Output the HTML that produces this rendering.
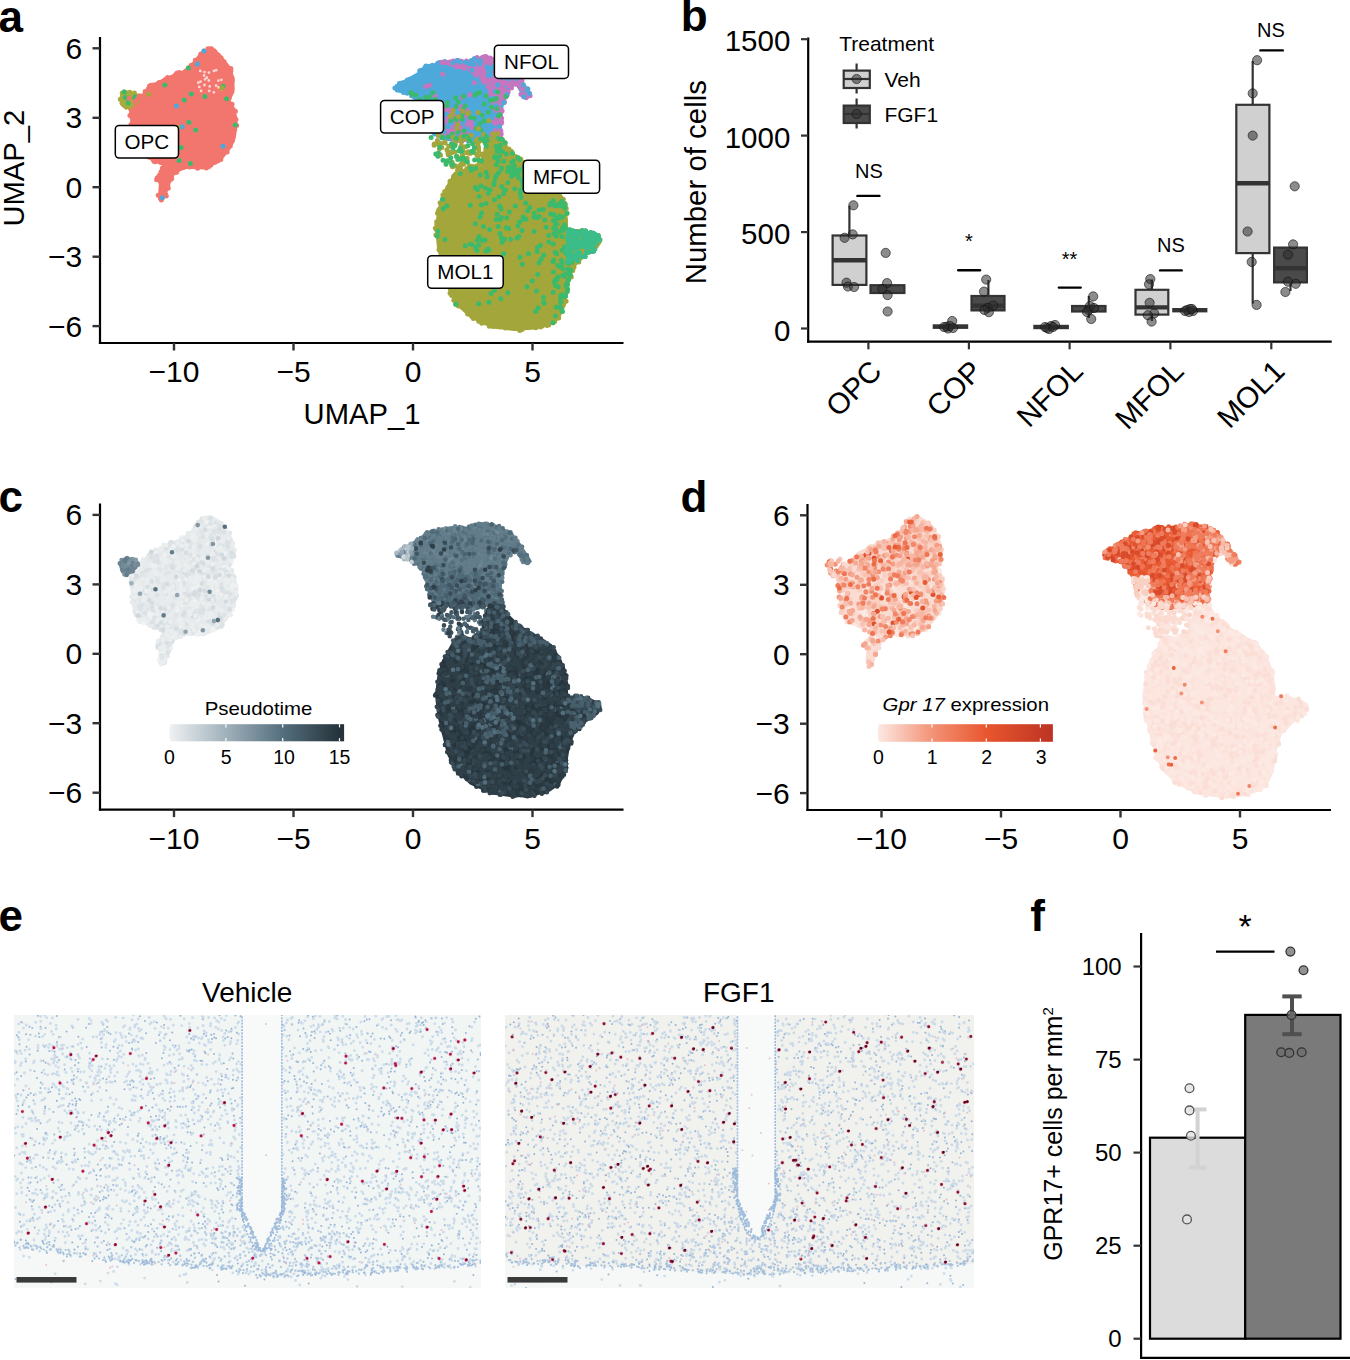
<!DOCTYPE html><html><head><meta charset="utf-8"><style>html,body{margin:0;padding:0;background:#fff;overflow:hidden}svg{display:block}text{font-family:"Liberation Sans",sans-serif}</style></head><body>
<svg width="1350" height="1360" viewBox="0 0 1350 1360">
<rect width="1350" height="1360" fill="#fff"/>
<text x="-1.5" y="31.8" font-size="44" font-weight="bold">a</text>
<path d="M211.3 48.5 L220.0 53.8 L230.0 66.0 L234.5 77.5 L234.5 92.0 L230.5 100.0 L236.0 110.0 L237.5 122.5 L235.6 138.8 L230.0 150.0 L220.0 162.5 L204.0 169.4 L187.5 168.8 L176.0 172.5 L170.0 183.8 L166.3 196.3 L161.3 200.5 L158.0 196.3 L158.8 184.0 L155.0 177.5 L158.8 172.5 L164.0 166.0 L152.5 161.3 L140.0 156.0 L133.0 146.0 L131.0 130.0 L130.0 117.5 L128.0 106.0 L134.0 97.0 L141.3 95.0 L150.0 85.0 L167.5 76.3 L181.3 71.3 L190.0 65.0 L200.0 52.5 L207.5 48.8Z" fill="#f3766e"/>
<path d="M152.9 96.6h0M215.3 151.3h0M170.8 99.1h0M193.5 76.9h0M201.1 63.1h0M204.4 98.1h0M208.4 82.0h0M165.2 119.2h0M138.0 139.5h0M221.6 139.9h0M182.2 90.1h0M177.5 149.6h0M164.2 185.8h0M156.1 100.2h0M156.3 102.5h0M195.5 75.3h0M161.3 115.5h0M179.9 120.9h0M155.9 93.7h0M158.6 88.1h0M180.9 80.7h0M182.3 85.9h0M219.8 75.9h0M222.4 75.6h0M210.2 141.4h0M195.7 130.1h0M197.5 75.0h0M155.2 152.6h0M174.9 142.5h0M176.4 106.1h0M158.2 195.3h0M134.4 110.6h0M213.4 79.5h0M188.4 104.3h0M183.5 99.2h0M159.0 91.3h0M137.3 121.7h0M226.2 74.0h0M164.3 106.0h0M166.0 127.0h0M224.1 61.8h0M181.0 121.6h0M205.4 90.1h0M201.4 101.3h0M212.1 151.2h0M222.4 139.8h0M211.5 48.7h0M180.2 74.2h0M186.5 113.2h0M207.2 159.8h0M184.7 75.5h0M235.3 125.0h0M211.0 142.2h0M140.6 96.5h0M182.1 100.3h0M161.2 104.8h0M204.2 66.8h0M180.0 115.0h0M143.7 112.8h0M211.7 111.4h0M198.0 147.8h0M175.6 74.5h0M174.7 105.2h0M203.8 120.0h0M194.0 125.1h0M182.3 105.3h0M180.4 129.2h0M217.5 71.5h0M152.4 92.3h0M220.2 147.6h0M201.9 77.4h0M164.6 152.8h0M175.7 118.3h0M162.1 99.7h0M135.8 143.4h0M213.3 126.2h0M180.3 165.9h0M138.6 130.7h0M210.0 104.2h0M223.9 117.9h0M177.9 162.9h0M158.3 113.1h0M181.1 113.6h0M232.2 80.8h0M209.5 88.2h0M134.2 106.5h0M226.3 106.9h0M174.5 157.2h0M203.2 126.8h0M226.6 98.8h0M168.2 101.9h0M177.6 96.6h0M154.6 86.1h0M215.3 107.1h0M235.4 111.2h0M204.4 94.9h0M218.5 80.9h0M158.1 93.0h0M186.7 122.7h0M183.3 156.8h0M135.3 123.3h0M200.3 74.2h0M228.7 75.1h0M168.7 159.7h0M174.8 170.5h0M207.6 55.8h0M207.1 103.7h0M170.2 106.6h0M202.7 82.1h0M144.6 99.3h0M233.8 129.6h0M203.8 92.2h0M200.9 73.3h0M165.9 186.3h0M207.9 118.8h0M178.1 161.3h0M171.6 114.2h0M190.2 133.6h0M178.4 140.4h0M173.7 148.6h0M145.8 150.1h0M141.3 124.3h0M217.1 85.6h0M136.7 108.1h0M151.1 157.0h0M221.2 95.0h0M222.3 87.0h0M221.5 70.5h0M229.7 134.3h0M178.1 109.7h0M197.1 102.6h0M224.4 67.3h0M179.2 137.5h0M207.8 148.1h0M174.7 159.7h0M205.7 106.5h0M174.9 102.4h0M213.1 70.2h0M217.3 137.9h0M139.0 123.1h0M160.8 118.3h0M158.4 135.4h0M171.8 87.3h0M209.8 79.0h0M178.7 145.2h0M228.0 100.4h0M200.8 53.9h0M134.8 113.2h0M192.6 91.6h0M209.3 97.3h0M157.6 154.3h0M219.1 90.5h0M227.2 135.4h0M173.4 117.2h0M179.4 131.7h0M212.0 144.7h0M171.2 148.0h0M206.1 92.8h0M170.9 86.1h0M143.1 138.5h0M208.8 140.9h0M156.0 146.0h0M173.0 116.4h0M226.3 92.8h0M167.6 123.2h0M171.6 104.7h0M209.7 147.8h0M163.1 145.0h0M202.8 115.4h0M156.6 179.7h0M216.6 80.6h0M161.0 142.0h0M173.3 115.5h0M210.4 131.4h0M158.4 161.2h0M189.2 95.3h0M193.4 161.3h0M166.6 86.4h0M190.0 111.6h0M211.0 80.5h0M157.3 83.9h0M190.0 92.6h0M209.1 118.3h0M189.4 73.4h0M161.7 149.4h0M160.5 126.5h0M141.4 133.8h0M231.1 143.1h0M193.5 132.3h0M210.7 48.8h0M144.6 142.0h0M190.9 155.3h0M164.9 85.1h0M157.4 144.0h0M141.1 110.5h0M196.7 79.5h0M191.9 107.9h0M222.2 95.9h0M167.9 185.7h0M177.3 134.3h0M159.1 82.4h0M195.5 138.2h0M185.0 95.2h0M175.5 131.6h0M195.9 96.1h0M164.1 118.1h0M167.2 177.5h0M156.8 125.6h0M211.1 144.1h0M177.0 73.0h0M153.2 109.7h0M141.7 120.7h0M196.8 60.8h0M199.7 137.9h0M198.7 87.9h0M208.2 129.6h0M199.5 81.4h0M179.2 160.5h0M183.0 84.1h0M197.1 160.7h0M155.8 98.4h0M150.6 117.4h0M134.4 111.8h0M160.3 106.3h0M218.9 65.8h0M226.9 137.2h0M194.3 160.6h0M142.5 108.4h0M177.1 118.1h0M180.5 117.2h0M191.2 155.8h0M188.6 102.1h0M210.4 76.2h0M193.1 160.8h0M193.3 88.0h0M204.8 96.5h0M206.8 107.8h0M181.9 150.3h0M164.8 94.6h0M198.0 101.5h0M158.0 160.2h0M156.3 87.7h0M185.8 165.4h0M190.4 146.7h0M196.9 71.9h0M225.5 70.9h0M201.1 56.7h0M203.3 78.5h0M166.3 196.1h0M167.9 153.5h0M157.6 86.1h0M171.0 142.0h0M192.6 109.3h0M189.1 138.7h0M207.8 80.7h0M215.1 162.2h0M150.4 147.6h0M154.7 128.9h0M225.6 129.6h0M200.8 60.0h0M172.7 145.3h0M217.9 106.2h0M168.8 78.3h0M175.8 136.2h0M204.7 109.3h0M221.1 121.6h0M160.8 159.7h0M179.9 159.0h0M187.3 83.6h0M215.8 78.5h0M183.2 146.5h0M137.7 134.7h0M152.5 135.8h0M230.7 116.2h0M129.2 106.5h0M193.0 130.8h0M140.6 106.3h0M175.8 172.6h0M204.7 116.3h0M133.0 121.1h0M174.2 80.5h0M222.2 127.8h0M165.9 152.1h0M206.4 148.5h0M199.0 106.2h0M188.4 67.9h0M206.0 79.8h0M168.9 171.6h0M182.9 136.1h0M167.1 119.9h0M172.2 131.3h0M225.7 142.7h0M191.6 144.2h0M180.7 156.6h0M232.1 119.0h0M203.6 55.7h0M191.7 94.7h0M211.9 92.9h0M193.9 124.2h0M211.9 65.4h0M160.9 133.0h0M144.7 104.5h0M182.0 114.2h0M160.7 86.3h0M134.6 109.7h0M154.2 99.1h0M214.1 50.7h0M157.6 102.5h0M141.2 103.1h0M211.5 138.0h0M168.1 126.1h0M131.9 101.5h0M204.0 51.1h0M181.4 74.9h0M148.7 94.3h0M191.9 166.0h0M219.7 157.3h0M150.4 106.6h0M160.7 162.6h0M195.6 144.3h0M223.1 84.6h0M157.6 148.2h0M227.9 89.2h0M163.5 146.0h0M182.3 139.9h0M206.3 144.0h0M154.8 113.6h0M220.4 101.7h0M175.9 140.7h0M166.4 90.8h0M185.1 75.7h0M171.3 80.9h0M173.7 88.1h0M226.5 87.3h0M175.0 142.9h0M151.2 122.3h0M214.6 139.7h0M177.0 119.3h0M158.4 107.6h0M194.3 87.4h0M188.8 104.2h0M151.2 91.1h0M191.3 94.0h0M181.3 81.7h0M134.0 106.9h0M160.6 100.4h0M220.4 65.1h0M170.6 123.2h0M214.7 121.3h0M184.5 110.3h0M168.6 161.4h0M212.4 70.9h0M164.2 107.5h0M190.3 90.1h0M151.7 109.2h0M177.1 131.9h0M148.6 116.4h0M230.9 68.5h0M215.7 85.5h0M164.0 183.8h0M136.2 125.3h0M210.9 70.2h0M210.3 135.3h0M192.5 78.3h0M136.1 112.1h0M216.5 138.3h0M228.8 105.3h0M174.2 134.3h0M134.8 100.9h0M212.2 87.2h0M177.4 170.6h0M207.1 92.3h0M132.4 99.8h0M211.7 112.6h0M232.8 134.6h0M188.0 131.2h0M197.4 63.9h0M158.8 87.7h0M181.5 138.0h0M173.1 130.0h0M141.3 124.6h0M225.4 122.8h0M156.7 88.3h0M169.8 82.1h0M155.1 140.5h0M229.1 146.6h0M186.6 73.0h0M180.3 117.3h0M184.1 157.5h0M222.6 123.4h0M151.2 86.0h0M170.7 179.4h0M167.6 120.9h0M222.1 138.2h0M190.6 165.5h0M176.4 82.9h0M161.1 117.0h0M211.8 95.9h0M188.4 106.5h0M164.0 168.5h0M211.8 84.3h0M136.4 103.7h0M229.3 97.9h0M177.5 129.5h0M198.0 63.6h0M184.9 92.4h0M137.5 139.2h0M228.3 123.5h0M218.2 75.7h0M164.5 83.2h0M162.2 83.0h0M152.2 150.7h0M167.8 81.6h0M203.3 124.0h0M181.3 161.6h0M204.5 62.2h0M218.5 99.9h0M187.8 143.2h0M165.9 87.1h0M172.9 159.7h0M199.5 122.9h0M217.2 77.8h0M225.4 108.7h0M179.8 89.9h0M186.6 154.9h0M166.0 187.3h0M164.8 160.6h0M172.9 145.1h0M201.4 70.4h0M148.0 126.8h0M198.5 60.7h0M137.5 146.9h0M165.5 119.1h0M206.6 138.0h0M223.3 78.4h0M155.7 127.1h0M232.8 133.8h0M203.9 91.3h0M198.3 77.8h0M191.6 103.5h0M150.0 121.2h0M170.0 78.5h0M161.4 135.6h0M196.8 99.3h0M220.1 112.8h0M224.8 120.3h0M145.7 136.9h0M226.0 141.0h0M222.6 113.0h0M140.1 113.5h0M219.1 87.5h0M154.2 161.5h0M228.3 98.7h0M156.6 95.8h0M164.5 194.0h0M212.9 135.1h0M142.0 122.8h0M163.4 189.7h0M184.2 100.1h0M141.8 128.3h0M218.0 150.2h0M219.1 137.5h0M209.4 136.7h0M179.5 168.0h0M204.9 89.3h0M227.8 71.8h0M205.9 52.0h0M190.4 83.7h0M200.9 116.3h0M157.1 178.0h0M194.0 144.8h0M213.4 92.8h0M200.4 159.9h0M210.7 92.5h0M176.3 88.2h0M204.8 72.3h0M213.4 111.4h0M204.9 55.7h0M218.9 138.5h0M215.1 127.2h0M188.6 165.7h0M194.1 69.4h0M213.9 98.0h0M150.6 134.2h0M161.0 171.8h0M163.5 183.7h0M132.2 104.1h0M172.3 156.3h0M137.6 131.0h0M223.0 139.3h0M199.7 160.6h0M161.7 111.7h0M191.2 104.3h0M162.3 197.8h0M144.9 112.1h0M224.2 144.3h0M225.0 117.2h0M144.1 121.4h0M144.4 115.3h0M164.1 130.4h0M191.0 159.7h0M195.5 119.0h0M189.3 151.2h0M156.3 160.0h0M202.0 147.5h0M157.2 95.1h0M201.1 56.9h0M164.2 106.7h0M141.9 144.5h0M135.4 129.6h0M153.6 107.7h0M180.9 149.9h0M170.8 174.3h0M167.5 86.1h0M206.3 168.0h0M211.6 98.2h0M171.9 101.3h0M185.3 115.7h0M230.7 110.8h0M140.9 116.6h0M160.0 88.6h0M184.3 128.2h0M213.7 129.4h0M232.0 78.6h0M193.2 129.9h0M178.9 159.2h0M193.2 134.8h0M205.9 61.7h0M236.7 125.4h0M167.1 154.3h0M174.8 134.2h0M185.1 161.0h0M170.9 149.2h0M202.0 147.3h0M209.1 67.6h0M158.2 142.6h0M219.7 155.4h0M189.3 115.2h0M161.8 156.8h0M146.5 113.9h0M226.0 137.9h0M212.7 125.2h0M171.5 165.2h0M189.0 98.1h0M136.2 106.5h0M171.8 78.0h0M147.0 119.6h0M173.3 112.3h0M152.7 107.4h0M189.1 76.7h0M176.6 78.8h0M165.7 194.4h0M224.4 133.6h0M201.4 110.1h0M166.2 121.0h0M170.9 133.5h0M226.2 88.3h0M163.4 195.1h0M170.2 133.6h0M184.0 122.0h0M222.3 137.6h0M163.6 123.5h0M217.5 144.3h0M167.6 97.2h0M141.3 97.1h0M145.9 126.1h0M211.7 94.2h0M148.5 142.5h0M172.5 123.0h0M180.3 121.2h0M165.4 90.0h0M157.7 108.9h0M170.7 147.8h0M143.7 147.1h0M223.9 91.8h0M201.7 72.7h0M222.2 129.9h0M214.2 109.0h0M145.0 109.6h0M198.0 152.6h0M230.3 136.8h0M195.1 108.3h0M206.1 147.8h0M177.7 118.4h0M152.0 144.8h0M229.9 137.1h0M196.9 162.3h0M157.7 107.3h0M207.7 158.8h0M182.4 121.6h0M218.0 147.2h0M195.9 78.7h0M195.7 85.1h0M218.0 123.0h0M141.5 154.0h0M225.3 67.8h0M162.4 118.9h0M226.2 113.2h0M198.0 119.6h0M174.9 115.3h0M211.5 81.8h0M164.3 82.3h0M137.6 98.2h0M229.9 124.6h0M170.8 97.9h0M184.8 95.4h0M205.9 55.7h0M208.2 79.1h0M176.0 99.7h0M168.2 162.4h0M191.2 65.3h0M177.9 110.1h0M211.5 154.0h0M209.0 53.0h0M220.8 125.5h0M153.7 149.2h0M139.0 127.1h0M202.0 141.1h0M164.0 140.4h0M151.6 156.1h0M202.1 102.5h0M147.5 143.2h0M175.4 132.7h0M150.4 106.8h0M160.8 194.3h0M222.6 73.9h0M224.9 138.2h0M163.8 194.3h0M209.6 79.5h0M200.4 120.0h0M211.3 140.3h0M207.0 107.6h0M212.0 70.9h0M168.7 146.5h0M144.2 140.1h0M210.9 165.0h0M145.1 91.4h0M206.8 66.5h0M149.1 152.2h0M198.1 126.0h0M203.4 159.2h0M181.0 132.3h0M223.0 146.2h0M155.0 102.8h0M180.8 78.4h0M193.1 118.5h0M207.7 122.3h0M188.6 93.6h0M226.4 102.5h0M171.9 119.8h0M218.0 75.9h0M177.9 127.6h0M197.7 165.0h0M175.1 108.9h0M215.7 139.7h0M168.2 182.6h0M199.3 150.9h0M156.8 114.6h0M173.7 172.3h0M168.5 141.8h0M229.6 75.5h0M204.4 166.7h0M210.2 129.8h0M156.9 136.1h0M166.0 162.6h0M208.8 164.8h0M157.7 154.3h0M169.8 93.5h0M191.3 163.9h0M142.5 155.4h0M189.9 164.5h0M218.4 65.0h0M204.5 81.4h0M231.6 138.0h0M199.9 113.4h0M164.7 83.5h0M154.8 109.3h0M218.9 69.0h0M133.7 102.9h0M207.7 135.6h0M207.5 79.7h0M180.8 151.5h0M169.2 145.6h0M143.8 155.8h0M197.8 98.7h0M195.8 73.0h0M141.2 126.1h0M190.7 151.3h0M183.2 110.2h0M146.4 110.8h0M193.4 100.1h0M228.4 134.9h0M166.9 83.3h0M223.3 66.3h0M131.0 124.6h0M164.6 104.2h0M132.3 115.4h0M233.1 109.9h0M229.1 137.0h0M171.3 123.4h0M205.2 83.6h0M180.9 85.1h0M155.2 102.2h0M228.1 147.8h0M170.9 100.2h0M224.1 104.9h0M227.5 126.6h0M156.8 142.0h0M172.4 170.7h0M215.2 52.1h0M230.9 70.9h0M166.1 130.5h0M224.8 94.3h0M215.2 79.1h0M201.3 152.4h0M171.2 82.0h0M165.2 79.6h0M221.4 155.7h0M189.7 82.4h0M163.1 192.8h0M217.8 67.1h0M131.6 129.2h0M207.8 88.7h0M204.4 83.1h0M144.8 141.6h0M223.1 86.3h0M213.4 125.5h0M180.0 94.4h0M194.6 124.2h0M160.1 142.5h0M198.8 103.4h0M156.1 145.9h0M199.1 67.7h0M166.2 195.8h0M183.3 104.1h0M202.4 110.0h0M138.1 128.0h0M192.6 96.3h0M197.8 95.5h0M213.7 110.2h0M161.2 104.0h0M218.1 82.4h0M185.0 85.6h0M209.5 71.1h0M181.7 87.9h0M208.8 71.4h0M230.1 88.0h0M216.6 68.1h0M138.9 96.8h0M192.0 84.3h0M157.7 90.5h0M159.6 175.3h0M207.2 135.5h0M174.8 85.0h0M193.2 88.6h0M203.0 96.5h0M205.6 163.0h0M218.6 132.8h0M145.2 127.1h0M139.2 100.8h0M162.6 158.2h0M212.3 96.8h0M223.4 152.5h0M198.7 148.5h0M224.3 143.3h0M156.9 86.1h0M202.6 81.5h0M130.0 107.8h0M168.1 85.1h0M191.1 107.2h0M168.6 105.3h0M147.0 139.4h0M197.6 168.3h0M216.2 78.7h0M172.8 86.0h0M162.3 168.2h0M194.5 127.0h0M220.6 63.8h0M179.3 148.3h0M142.8 142.5h0M198.8 153.7h0M176.4 98.4h0M170.2 91.1h0M191.2 68.0h0M181.0 133.5h0M224.9 129.9h0M164.0 141.2h0M185.3 142.5h0M160.3 198.3h0M232.1 104.3h0M222.8 127.4h0M224.1 115.3h0M186.9 109.7h0M223.2 123.2h0M205.3 152.2h0M153.4 134.2h0M170.4 81.7h0M214.4 90.5h0M227.3 71.4h0M229.4 94.7h0M140.0 102.9h0M181.1 147.5h0M234.8 129.4h0M194.6 152.9h0M148.6 114.7h0M211.9 76.2h0M146.4 149.5h0M189.5 81.8h0M146.6 141.8h0M134.9 97.1h0M151.4 88.9h0M158.0 110.3h0M150.6 106.4h0M151.3 135.2h0M171.9 95.9h0M210.8 86.6h0M141.7 102.4h0M148.2 104.9h0M212.3 108.0h0M177.1 94.6h0M174.5 159.9h0M141.4 106.4h0M166.5 187.6h0M177.3 118.0h0M231.5 130.3h0M175.6 84.2h0M198.6 132.1h0M160.9 154.6h0M189.5 68.2h0M135.3 144.9h0M212.8 53.6h0M208.0 89.7h0M227.2 99.0h0M169.0 154.8h0M135.2 111.5h0M145.7 145.8h0M156.7 108.0h0M222.3 129.8h0M155.1 161.8h0M207.4 74.1h0M220.8 119.1h0M172.6 160.9h0M190.3 89.9h0M198.7 124.7h0M169.8 172.4h0M198.4 121.1h0M196.1 117.5h0M169.6 114.7h0M204.4 77.8h0M141.4 97.9h0M187.1 128.1h0M211.7 86.4h0M188.6 69.9h0M150.3 145.4h0M148.5 130.1h0M169.0 78.8h0M175.9 106.7h0M221.2 109.4h0M207.2 80.4h0M224.3 74.5h0M162.5 171.4h0M210.4 104.3h0M153.4 134.8h0M207.5 102.8h0M176.8 125.0h0M159.9 140.1h0M177.7 86.1h0M207.3 54.1h0M173.3 139.2h0M197.7 164.3h0M187.6 149.4h0M186.3 138.0h0M164.7 187.5h0M200.5 110.8h0M153.2 98.2h0M150.2 92.3h0M230.6 118.2h0M213.1 157.5h0M228.8 91.0h0M205.7 125.7h0M202.3 110.2h0M154.9 130.8h0M229.3 89.7h0M165.1 165.1h0M148.2 89.1h0M213.8 109.7h0M217.7 132.7h0M222.2 98.7h0M218.4 55.3h0M162.9 196.5h0M205.2 132.0h0M197.9 118.6h0M175.9 102.8h0M193.4 67.7h0M181.0 95.2h0M170.6 170.6h0M234.4 126.9h0M176.5 99.1h0M162.7 184.2h0M209.5 166.3h0M198.3 125.0h0M180.2 140.8h0M177.3 87.0h0M196.3 99.0h0M165.6 103.1h0M233.8 134.0h0M160.3 152.6h0M134.6 122.7h0M224.6 120.6h0M181.5 105.0h0M186.9 83.6h0M193.9 94.4h0M225.3 130.0h0M223.8 152.8h0M165.8 128.0h0M171.4 111.1h0M162.5 187.6h0M218.2 96.5h0M166.1 159.4h0M220.3 69.6h0M163.7 111.8h0M191.8 84.8h0M196.9 156.3h0M208.0 134.8h0M157.0 95.4h0M212.1 60.5h0M182.2 126.7h0M165.9 156.4h0M225.7 113.6h0M220.8 62.3h0M216.0 121.6h0M148.6 153.2h0M183.6 150.0h0M167.2 112.5h0M207.4 137.4h0M160.6 149.4h0M197.4 71.6h0M164.1 126.4h0M225.6 79.8h0M159.5 102.9h0M200.4 122.2h0M201.6 107.4h0M181.3 143.7h0M159.0 88.4h0M196.8 101.4h0M157.3 152.9h0M214.0 122.1h0M196.2 135.6h0M164.4 154.5h0M137.5 147.2h0M168.3 110.6h0M186.9 73.9h0M135.1 109.2h0M188.4 141.8h0M222.0 61.4h0M150.8 85.2h0M228.1 89.7h0M187.9 122.4h0M170.1 134.2h0M219.7 91.6h0M160.9 118.2h0M162.5 108.9h0M220.8 159.4h0M165.2 139.3h0M165.6 195.4h0M185.7 160.8h0M144.5 148.0h0M176.9 94.4h0M178.5 91.3h0M214.7 158.1h0M203.7 80.6h0M215.4 130.0h0M207.7 73.1h0M135.2 113.1h0M227.8 123.8h0M174.8 150.7h0M212.7 95.2h0M167.3 91.3h0M221.7 122.4h0M170.1 82.9h0M225.0 86.0h0M153.6 85.1h0M169.1 166.3h0M229.0 110.4h0M164.1 84.5h0M207.4 90.9h0M207.6 151.7h0M188.9 105.7h0M157.4 119.9h0M171.9 128.6h0M223.4 123.9h0M133.6 112.6h0M199.3 125.0h0M176.5 87.7h0M209.1 110.0h0M156.9 150.6h0M152.1 153.8h0M150.8 138.9h0M206.0 113.3h0M173.8 134.8h0M201.9 79.9h0M188.9 156.7h0M220.0 133.6h0M192.8 88.7h0M167.2 84.2h0M174.0 125.6h0M161.1 116.6h0M190.3 107.4h0M181.5 146.0h0M184.6 115.0h0M187.9 71.9h0M206.5 163.8h0M180.1 97.4h0M194.6 67.3h0M174.7 135.5h0M161.4 200.0h0M174.0 138.2h0M182.2 98.9h0M212.1 62.9h0M199.3 159.8h0M208.2 157.8h0M185.5 101.0h0M173.7 170.2h0M208.0 48.8h0M167.4 108.6h0M157.8 137.3h0M194.8 113.8h0M170.5 157.8h0M150.2 118.5h0M178.1 89.7h0M153.6 160.6h0M143.2 115.2h0M151.9 138.7h0M195.3 60.3h0M210.6 104.3h0M215.2 145.6h0M187.4 135.8h0M230.3 146.1h0M208.7 71.1h0M193.6 163.5h0M216.8 54.1h0M168.9 101.6h0M210.0 109.1h0M190.2 166.7h0M182.7 127.4h0M228.6 84.2h0M155.3 85.7h0M166.7 99.6h0M169.0 90.7h0M201.6 143.5h0M151.6 107.3h0M193.5 103.2h0M175.8 162.5h0M176.1 155.9h0M211.2 164.1h0M170.4 135.6h0M167.0 184.2h0M186.2 114.0h0M148.1 124.5h0M131.8 116.9h0M168.9 147.5h0M169.3 180.6h0M162.1 134.4h0M213.4 73.7h0M177.9 162.5h0M218.7 132.1h0M134.7 135.6h0M173.2 91.2h0M166.0 142.2h0M212.0 52.3h0M156.0 85.2h0M197.1 79.0h0M226.4 79.1h0M149.4 118.0h0M159.2 179.5h0M202.1 73.0h0M188.9 141.2h0M200.4 79.0h0M185.6 74.3h0M209.5 121.8h0M142.9 145.7h0M193.4 114.9h0M227.2 90.2h0M230.7 131.6h0M231.9 135.6h0M204.0 65.6h0M187.1 117.4h0M196.7 77.8h0M226.7 143.3h0M173.4 97.6h0M171.7 178.6h0M205.8 82.9h0M182.6 133.6h0M193.3 165.8h0M183.5 122.5h0M146.2 152.2h0M203.4 134.1h0M227.3 143.3h0M150.2 93.5h0M205.7 137.3h0M196.6 94.5h0M208.4 129.7h0M141.5 95.9h0M190.4 86.4h0M177.9 155.9h0M134.3 125.0h0M192.6 128.0h0M218.2 105.7h0M178.1 76.8h0M193.4 68.1h0M173.8 159.3h0M132.4 124.7h0M216.4 142.5h0M220.6 155.3h0M152.8 94.3h0M174.7 137.6h0M176.8 136.9h0M182.9 140.6h0M194.7 92.4h0M167.0 82.8h0M169.8 155.3h0M216.0 142.8h0M219.5 124.0h0M209.8 151.0h0M161.7 143.9h0M132.9 107.7h0M145.3 123.0h0M203.9 141.8h0M142.9 154.3h0M200.5 66.4h0M177.3 83.0h0M139.4 96.6h0M152.8 107.8h0M133.1 125.5h0M178.5 128.4h0M223.2 152.7h0M171.8 111.8h0M231.7 112.5h0M219.0 126.3h0M179.5 142.8h0M173.8 76.7h0M142.4 113.0h0M153.0 143.1h0M145.8 149.4h0M216.3 135.5h0M209.4 113.6h0M225.3 145.5h0M192.9 153.4h0M161.6 144.5h0M162.2 181.7h0M140.6 114.9h0M189.4 154.1h0M156.9 151.3h0M195.9 128.8h0M171.2 146.1h0M226.8 103.3h0M221.0 57.8h0M212.1 147.6h0M235.2 125.0h0M210.2 69.6h0M188.6 130.1h0M142.4 120.1h0M201.6 94.7h0M215.7 70.3h0M193.1 134.2h0M170.4 90.8h0M188.9 81.8h0M192.7 131.0h0M181.6 161.0h0M170.1 88.8h0M142.7 129.5h0M190.3 133.2h0M212.4 143.3h0M135.4 133.5h0M208.8 64.7h0M212.4 90.5h0M192.3 68.3h0M159.3 120.8h0M184.7 108.1h0M220.7 81.7h0M194.4 102.1h0M210.7 123.0h0M190.4 163.5h0M167.8 97.0h0M152.3 97.1h0M231.6 116.7h0M134.2 100.6h0M236.0 119.4h0M193.7 82.0h0M234.1 130.9h0M156.2 149.5h0M184.8 83.0h0M203.8 163.1h0M221.8 60.1h0M190.1 158.5h0M189.7 124.6h0M189.7 166.9h0M221.9 88.0h0M137.0 104.0h0M181.7 81.2h0M154.4 104.3h0M227.4 136.2h0M165.2 112.9h0M208.4 61.3h0M175.3 115.6h0M199.6 72.4h0M227.1 151.9h0M174.5 84.1h0M202.7 91.8h0M155.2 122.7h0M176.3 131.2h0M167.5 77.4h0M176.6 172.2h0M211.0 68.0h0M214.2 82.3h0M233.5 135.8h0M182.4 147.7h0M189.6 137.0h0M211.6 150.8h0M186.8 111.3h0M217.8 109.2h0M138.9 115.3h0M217.8 73.3h0M221.4 100.2h0M195.5 98.6h0M213.3 138.8h0M157.8 158.2h0M220.6 71.0h0M201.2 115.7h0M211.8 59.5h0M167.0 182.9h0M147.7 108.9h0M164.1 159.2h0M159.7 177.2h0M151.8 129.5h0M209.0 96.5h0M144.1 118.7h0M149.7 93.5h0M168.4 144.4h0M213.0 55.2h0M191.8 123.0h0M199.2 161.2h0M172.7 110.8h0M225.3 95.7h0M172.1 156.7h0M158.2 94.9h0M191.8 155.0h0M205.8 111.1h0M217.6 92.9h0M175.3 145.3h0M192.0 89.8h0M183.7 93.0h0M185.6 79.6h0M187.2 149.4h0M154.7 113.6h0M224.4 123.7h0M197.7 116.2h0M156.9 147.4h0M161.0 173.5h0M156.2 86.8h0M137.6 133.1h0M210.2 77.2h0M193.9 100.0h0M170.8 103.8h0M210.7 74.1h0M208.3 79.4h0M162.4 135.1h0M145.9 151.6h0M208.4 57.0h0M169.4 145.1h0M217.4 82.4h0M235.4 124.6h0M224.4 149.1h0M183.3 148.8h0M156.8 117.1h0M224.5 76.4h0M168.3 188.3h0M146.2 124.3h0M164.0 167.7h0M199.7 140.2h0M221.4 147.6h0M217.2 108.8h0M196.4 99.7h0M186.0 104.4h0M200.1 110.2h0M218.8 70.3h0M214.5 157.2h0M203.9 106.1h0M164.0 164.4h0M153.4 113.2h0M159.9 99.7h0M221.6 119.8h0M183.8 159.6h0M219.7 114.1h0M203.9 117.3h0M207.2 99.8h0M191.7 141.8h0M203.8 147.0h0M174.0 164.3h0M206.7 70.3h0M149.5 144.8h0M155.5 155.1h0M174.3 97.1h0M167.1 169.4h0M177.6 162.9h0M190.0 143.8h0M232.4 140.7h0M189.6 102.7h0M181.9 95.9h0M195.4 86.5h0M149.5 85.9h0M227.3 75.8h0M179.4 72.6h0M146.3 99.2h0M155.2 130.6h0M216.3 145.3h0M186.8 76.6h0M168.9 139.1h0M193.6 93.8h0M187.8 123.1h0M230.4 80.5h0M197.0 81.4h0M174.3 101.0h0M210.9 68.9h0M184.1 153.0h0M170.1 100.3h0M191.9 140.1h0M176.3 109.7h0M224.4 133.6h0M173.5 170.2h0M234.9 117.7h0M194.5 119.5h0M186.6 105.6h0M165.8 171.3h0M207.7 167.0h0M158.1 160.6h0M212.8 111.0h0M183.7 97.8h0M196.7 129.4h0M165.0 141.1h0M179.0 105.8h0M181.9 85.7h0M178.9 129.8h0M224.5 138.4h0M231.6 126.2h0M133.2 135.6h0M189.9 109.7h0M196.9 132.6h0M214.2 159.0h0M204.6 104.8h0M191.7 86.5h0M134.8 118.7h0M212.7 93.5h0M132.3 110.4h0M213.6 131.1h0M227.4 111.7h0M205.2 89.8h0M232.0 88.0h0M159.8 121.2h0M156.2 147.7h0M182.5 100.8h0M191.0 145.7h0M218.3 133.6h0M135.8 136.1h0M133.8 118.1h0M209.1 78.0h0M164.8 179.0h0M205.0 127.1h0M167.9 121.3h0M168.4 83.5h0M188.2 86.9h0M144.8 143.4h0M168.7 86.9h0M214.4 108.6h0M158.7 117.9h0M205.0 154.4h0M161.1 88.3h0M227.8 113.0h0M164.1 151.2h0M171.2 166.4h0M188.9 122.3h0M216.3 57.0h0M129.9 115.4h0M147.0 133.1h0M185.1 154.7h0M224.0 148.4h0M172.3 138.9h0M217.1 61.2h0M196.9 91.9h0M187.0 129.8h0M198.7 106.3h0M195.7 103.8h0M203.5 120.6h0M182.1 114.3h0M228.0 104.3h0M152.9 114.2h0M205.9 156.6h0M221.2 125.9h0M218.6 121.2h0M190.0 85.0h0" stroke="#f3766e" stroke-width="5" stroke-linecap="round"/>
<path d="M121.0 93.0 L127.0 91.0 L135.0 92.5 L140.0 96.0 L137.0 102.0 L131.0 107.0 L126.0 110.0 L121.0 106.0 L119.0 99.0Z" fill="#a5a83c"/>
<path d="M125.4 97.6h0M139.0 96.1h0M132.0 99.2h0M134.4 93.0h0M130.7 93.7h0M124.1 96.3h0M121.7 99.3h0M129.5 100.8h0M129.9 92.2h0M134.6 97.9h0M130.2 95.3h0M120.3 99.3h0M137.2 100.9h0M137.6 99.1h0M135.1 95.1h0M128.0 97.4h0M127.0 95.6h0M134.2 101.9h0M124.2 92.1h0M127.4 101.4h0M129.3 104.2h0M127.8 93.1h0M126.3 92.8h0M124.7 103.8h0M136.9 96.0h0M129.2 98.3h0M131.0 105.5h0M135.5 96.7h0M132.0 105.2h0M122.2 93.1h0M137.8 98.3h0M128.9 107.1h0M132.8 94.8h0M122.0 102.9h0M132.3 103.3h0M127.9 100.6h0M128.1 103.0h0M135.1 101.4h0M128.8 97.7h0M122.5 95.3h0" stroke="#a9ab3e" stroke-width="5" stroke-linecap="round"/>
<path d="M125.4 97.6h0M134.6 97.9h0M124.2 92.1h0M135.5 96.7h0M128.1 103.0h0" stroke="#3cba6c" stroke-width="5" stroke-linecap="round"/>
<path d="M139.0 96.1h0M137.6 99.1h0M129.2 98.3h0M135.1 101.4h0" stroke="#f3766e" stroke-width="5" stroke-linecap="round"/>
<path d="M208.8 80.5h0M221.4 79.8h0M218.6 87.4h0M221.6 89.3h0M200.3 70.9h0M204.1 75.5h0M218.4 80.6h0M213.9 92.3h0M206.9 77.7h0M213.9 70.9h0M200.6 81.6h0M209.2 90.9h0M209.7 86.4h0M208.9 72.6h0M205.0 79.3h0M198.2 82.7h0M204.5 85.0h0M216.2 70.2h0M216.1 85.7h0M204.5 72.1h0M199.3 86.9h0M201.1 90.9h0" stroke="#ffffff" stroke-width="2.8" stroke-linecap="round" stroke-opacity="0.7"/>
<path d="M223.1 86.3h0M164.0 141.2h0M164.9 85.1h0M179.2 160.5h0M195.7 130.1h0M226.6 98.8h0M235.3 125.0h0M184.2 100.1h0M190.4 163.5h0M204.8 96.5h0M188.9 122.3h0M181.1 147.5h0M188.4 67.9h0M161.4 135.6h0M191.3 94.0h0" stroke="#3cba6c" stroke-width="5" stroke-linecap="round"/>
<path d="M204.0 51.1h0M182.2 126.7h0M223.0 146.2h0M162.3 197.8h0M176.4 106.1h0M197.4 63.9h0" stroke="#4ea9db" stroke-width="5" stroke-linecap="round"/>
<path d="M221.9 88.0h0M148.7 94.3h0M177.9 127.6h0M161.6 144.5h0" stroke="#a3a63a" stroke-width="5" stroke-linecap="round"/>
<path d="M394.5 87.4 L404.0 80.0 L418.0 72.0 L426.0 66.0 L437.0 63.0 L452.0 59.5 L468.0 60.0 L483.0 55.5 L498.0 58.5 L513.0 67.0 L521.0 78.0 L528.0 88.0 L532.0 95.0 L528.0 99.0 L522.0 96.0 L515.5 85.0 L509.0 91.0 L504.0 104.0 L502.0 117.0 L502.0 130.0 L503.0 140.0 L490.0 140.0 L470.0 142.0 L455.0 141.0 L440.0 138.0 L430.0 132.0 L426.0 120.0 L424.0 108.0 L418.0 100.0 L406.0 93.0 L396.0 91.0Z" fill="#4ea9db"/>
<path d="M426.8 67.3h0M418.0 82.6h0M450.2 69.7h0M485.8 139.7h0M438.6 81.9h0M444.4 73.6h0M462.6 100.9h0M420.2 100.8h0M438.4 118.2h0M451.4 80.7h0M478.4 136.8h0M442.6 95.2h0M489.6 98.4h0M485.5 90.8h0M403.4 85.8h0M473.8 101.8h0M486.2 124.3h0M472.7 90.3h0M422.7 94.6h0M465.6 77.1h0M466.2 78.6h0M442.7 126.2h0M435.3 71.0h0M483.8 113.6h0M401.9 82.9h0M471.6 114.2h0M445.0 78.0h0M491.4 126.6h0M455.4 78.0h0M456.7 90.7h0M445.2 79.5h0M425.2 81.9h0M470.0 120.9h0M494.3 112.0h0M447.0 80.5h0M423.9 93.1h0M435.1 95.5h0M481.7 111.0h0M411.6 95.8h0M436.3 105.6h0M412.3 94.2h0M494.4 125.1h0M476.2 117.1h0M479.9 110.8h0M482.3 113.0h0M446.5 93.7h0M479.3 138.4h0M450.6 102.8h0M434.1 107.9h0M483.7 97.5h0M436.9 65.3h0M481.5 135.7h0M484.7 123.7h0M424.1 97.9h0M427.7 122.9h0M437.4 63.8h0M453.4 93.3h0M441.0 86.5h0M438.1 135.2h0M440.3 116.8h0M456.1 98.7h0M431.6 74.4h0M483.5 134.4h0M418.7 95.9h0M427.8 80.3h0M471.0 93.1h0M434.6 82.2h0M454.8 89.3h0M494.5 138.9h0M404.9 85.9h0M419.9 76.0h0M434.5 119.1h0M418.2 98.4h0M426.4 75.6h0M453.1 77.8h0M438.3 116.0h0M487.1 95.8h0M448.2 79.8h0M444.1 98.9h0M426.7 96.1h0M426.0 117.8h0M435.3 82.7h0M455.6 91.9h0M438.0 63.0h0M491.0 139.6h0M450.5 107.0h0M436.3 125.5h0M472.3 118.2h0M403.8 86.5h0M475.4 100.2h0M457.3 98.1h0M416.0 82.7h0M446.8 97.6h0M493.9 128.2h0M459.3 71.6h0M423.5 98.5h0M446.3 98.2h0M415.5 92.3h0M442.6 73.1h0M486.7 126.2h0M465.1 94.8h0M471.0 83.2h0M427.7 117.5h0M472.6 85.5h0M457.4 89.4h0M420.4 80.2h0M414.4 96.1h0M460.9 95.4h0M462.6 97.0h0M440.0 94.5h0M476.7 97.8h0M487.0 125.2h0M458.9 72.2h0M469.8 132.5h0M471.6 73.8h0M410.9 92.6h0M432.7 109.1h0M439.0 96.7h0M474.8 95.1h0M474.5 82.9h0M415.6 81.8h0M496.1 125.7h0M475.9 103.3h0M494.9 136.9h0M487.6 128.7h0M472.5 74.5h0M434.5 120.3h0M460.3 83.8h0M448.9 87.7h0M464.7 88.5h0M429.3 96.9h0M465.1 105.7h0M439.0 122.8h0M439.6 95.6h0M487.9 92.3h0M446.9 78.6h0M437.3 75.0h0M451.8 68.6h0M433.3 81.1h0M468.0 136.9h0M479.3 140.5h0M462.1 97.3h0M452.7 90.8h0M453.3 77.4h0M430.5 124.2h0M461.1 92.2h0M478.7 139.9h0M426.8 68.4h0M465.3 96.3h0M414.2 95.8h0M409.6 91.8h0M432.9 82.4h0M479.6 79.2h0M445.4 66.8h0M411.8 88.8h0M396.2 88.2h0M463.4 84.2h0M394.9 88.0h0M436.2 110.7h0M432.0 92.4h0M482.0 111.4h0M429.0 118.7h0M498.8 138.7h0M432.5 65.3h0M451.9 91.8h0M435.0 84.6h0M464.7 93.7h0M430.0 68.1h0M488.3 112.3h0M417.0 78.3h0M448.7 96.1h0M486.4 118.0h0M474.5 118.4h0M469.5 139.9h0M444.2 68.4h0M448.9 103.2h0M442.9 127.4h0M456.3 106.6h0M458.2 101.7h0M494.9 129.9h0M424.5 107.1h0M479.2 95.8h0M461.8 87.9h0M450.1 84.1h0M469.4 71.1h0M423.5 88.4h0M468.6 102.0h0M441.9 62.8h0M459.8 99.8h0M469.9 94.8h0M487.1 89.4h0M456.4 76.1h0M425.7 106.6h0M457.1 107.9h0M439.1 75.9h0M448.0 79.0h0M474.4 87.0h0M478.4 88.9h0M477.7 88.1h0M474.3 75.2h0M422.2 77.0h0M462.6 96.3h0M438.8 80.5h0M437.5 134.0h0M396.9 88.4h0M455.2 84.9h0M410.8 85.6h0M427.0 115.9h0M448.9 78.7h0M429.0 105.9h0M456.0 99.4h0M427.8 104.5h0M446.0 75.5h0M470.1 134.0h0M427.0 77.6h0M437.7 111.4h0M433.7 99.8h0M454.1 79.7h0M482.0 103.1h0M461.3 76.3h0M493.4 129.8h0M481.0 88.1h0M484.0 122.3h0M483.9 96.4h0M484.2 120.8h0M469.3 84.8h0M449.2 76.4h0M479.1 118.1h0M439.5 128.2h0M494.1 136.0h0M462.3 96.0h0M453.6 93.7h0M449.5 70.0h0M478.6 84.2h0M473.4 74.8h0M477.9 79.7h0M462.3 89.8h0M477.7 114.0h0M448.6 86.7h0M472.8 93.4h0M487.4 118.9h0M445.4 79.1h0M459.2 74.0h0M465.7 80.8h0M435.9 111.7h0M424.5 103.4h0M471.8 79.4h0M445.1 96.8h0M485.4 91.3h0M473.3 103.1h0M487.1 88.6h0M491.5 98.4h0M440.3 110.0h0M452.1 74.3h0M469.9 109.5h0M481.0 129.7h0M428.0 122.2h0M469.6 81.1h0M436.8 81.5h0M419.7 70.8h0M469.6 95.1h0M485.6 130.2h0M439.3 84.2h0M476.1 86.7h0M463.5 75.1h0M426.6 80.8h0M481.8 129.5h0M473.4 101.0h0M434.7 69.5h0M444.0 87.7h0M429.0 108.0h0M466.3 80.3h0M474.3 111.0h0M460.5 83.6h0M470.1 138.7h0M486.3 115.2h0M451.8 89.9h0M434.9 108.2h0M441.7 138.1h0M477.6 138.4h0M468.5 141.2h0M487.8 137.9h0M440.9 127.8h0M470.8 78.7h0M443.0 90.3h0M484.7 120.9h0M468.5 106.9h0M461.1 80.9h0M432.4 70.3h0M481.8 139.3h0M490.0 134.7h0M441.6 132.8h0M454.7 69.2h0M479.4 78.7h0M430.0 91.0h0M450.9 77.9h0M397.2 89.9h0M431.4 74.3h0M424.9 74.8h0M470.1 82.5h0M485.8 88.6h0M417.3 83.0h0M405.8 87.4h0M431.0 105.2h0M465.7 103.8h0M425.3 90.0h0M440.9 89.4h0M448.4 97.6h0M464.2 93.8h0M428.4 116.3h0M447.0 64.0h0M409.2 81.1h0M460.8 97.1h0M481.2 111.7h0M473.9 122.3h0M470.5 90.1h0M446.1 94.8h0M419.8 88.7h0M424.6 102.3h0M460.4 99.8h0M444.7 66.7h0M399.4 83.6h0M434.6 93.1h0M407.3 80.0h0M441.3 132.9h0M416.4 80.8h0M461.4 104.8h0M440.0 133.1h0M482.1 107.1h0M441.3 135.7h0M467.4 80.9h0M426.7 81.3h0M432.3 87.3h0M450.0 77.0h0M476.0 137.6h0M428.8 82.3h0M415.5 98.0h0M484.2 104.0h0M419.7 99.6h0M413.2 90.6h0M492.0 126.9h0M468.6 132.7h0M440.7 74.3h0M482.9 92.3h0M411.1 89.5h0M436.1 114.3h0M462.1 86.8h0M439.6 112.3h0M476.8 101.6h0M426.2 101.3h0M471.9 125.5h0M440.8 85.8h0M431.5 106.1h0M455.5 80.7h0M442.2 136.9h0M489.8 135.3h0M435.0 104.4h0M432.7 120.8h0M420.7 81.2h0M429.6 102.3h0M397.1 86.3h0M435.7 74.2h0M442.3 74.1h0M479.1 137.4h0M442.6 74.2h0M400.6 85.8h0M479.7 123.8h0M464.1 88.9h0M470.0 79.5h0M423.9 90.4h0M442.5 72.0h0M451.9 79.7h0M432.3 79.9h0M440.2 65.5h0M436.9 129.6h0M420.8 70.2h0M435.4 124.0h0M451.0 106.6h0M458.9 70.8h0M474.9 126.1h0M492.3 121.9h0M405.3 83.1h0M454.4 92.2h0M443.2 93.7h0M451.9 81.7h0M493.4 134.7h0M478.6 105.0h0M483.3 108.2h0M485.1 111.8h0M398.7 86.0h0M484.4 90.8h0M460.3 89.0h0M421.1 84.9h0M455.6 74.3h0M490.2 120.2h0M455.6 99.8h0M476.0 87.9h0M416.4 98.8h0M487.8 121.8h0M417.5 89.3h0M484.4 138.1h0M485.8 116.9h0M485.0 110.3h0M466.1 85.1h0M489.1 132.7h0M412.0 87.5h0M437.3 122.4h0M436.6 120.8h0M491.8 131.1h0M415.6 94.9h0M444.1 89.1h0M480.1 90.9h0M452.6 82.9h0M460.8 103.4h0M485.8 134.8h0M425.4 66.8h0M479.4 79.2h0M420.2 86.9h0M439.0 114.1h0M492.7 134.3h0M470.3 71.1h0M493.0 116.3h0M436.0 123.7h0M405.9 83.8h0M447.0 73.4h0M429.0 66.5h0M433.1 106.5h0M429.1 120.5h0M434.6 134.1h0M439.3 90.9h0M425.7 97.6h0M426.0 86.8h0M471.2 121.9h0M483.8 129.9h0M469.4 78.8h0M443.0 105.1h0M447.4 73.0h0M465.0 97.3h0M478.2 112.6h0M458.3 100.1h0M441.7 62.2h0M468.4 135.6h0M432.5 99.7h0M469.5 140.5h0M438.7 101.5h0M462.4 77.9h0M458.5 85.9h0M433.2 70.8h0M440.6 66.5h0M443.0 72.7h0M450.8 66.6h0M479.8 99.6h0M456.3 105.4h0M403.1 82.8h0M489.1 122.7h0M454.5 99.7h0M490.5 138.4h0M432.8 92.7h0M467.8 85.4h0M481.6 125.2h0M476.6 93.9h0M422.2 81.4h0M492.7 119.8h0M427.8 88.4h0M451.5 69.1h0M462.2 107.5h0M481.0 127.7h0M469.7 132.4h0M426.6 85.0h0M431.7 65.6h0M440.6 99.5h0M481.9 92.9h0M420.3 73.0h0M481.2 81.9h0M411.0 84.0h0M445.0 78.4h0M433.0 106.1h0M437.0 132.2h0M435.7 111.9h0M438.9 79.6h0M451.3 69.2h0M421.9 89.2h0M476.4 137.3h0M452.7 70.7h0M435.8 119.2h0M452.9 66.2h0M463.3 107.1h0M419.5 74.2h0M420.3 99.4h0M439.4 62.5h0M421.6 73.3h0M461.2 79.9h0M459.7 93.0h0M468.1 105.2h0M465.9 106.5h0M449.2 103.5h0M489.4 102.4h0M471.5 128.1h0M431.5 71.2h0M454.0 82.3h0M479.5 135.6h0M424.6 87.6h0M444.8 61.4h0M449.3 85.3h0M471.4 123.6h0M435.8 121.0h0M426.7 103.2h0M480.1 88.4h0M454.4 101.1h0M470.3 88.5h0M433.4 68.5h0M427.7 113.3h0M483.3 129.1h0M467.8 81.1h0M465.2 83.5h0M449.8 106.5h0M435.9 65.6h0M455.5 97.8h0M477.4 130.9h0M437.4 118.8h0M486.2 117.6h0M411.2 84.2h0M479.1 84.6h0M443.5 73.2h0M445.7 62.4h0M426.6 67.2h0M407.4 87.6h0M474.5 131.9h0M412.3 95.3h0M414.2 97.0h0M463.7 80.0h0M439.4 134.5h0M422.3 100.8h0M483.7 133.7h0M447.3 102.5h0M416.7 84.7h0M458.9 94.2h0M476.2 78.7h0M458.3 86.7h0M423.4 94.1h0M419.3 99.5h0M403.5 92.4h0M469.0 87.8h0M435.9 91.9h0M422.0 82.9h0M424.9 72.7h0M464.1 97.1h0M436.4 66.1h0M425.1 77.8h0M462.6 98.3h0M422.9 95.6h0M432.2 109.5h0M488.8 124.5h0M470.0 103.7h0M434.0 78.5h0M491.3 116.8h0M496.2 129.8h0M473.9 131.9h0M471.0 132.2h0M479.7 120.9h0M419.8 72.7h0M459.3 98.4h0M427.9 76.0h0M415.1 93.6h0M487.0 99.2h0M487.2 95.5h0M459.4 76.2h0M433.7 106.9h0M435.1 99.6h0M426.6 110.7h0M438.9 85.1h0M480.3 92.6h0M470.4 121.3h0M450.6 77.9h0M422.2 91.5h0M482.1 115.3h0M478.9 137.3h0M442.4 132.1h0M448.5 103.1h0M443.3 80.8h0M474.8 109.1h0M458.3 88.2h0M439.9 116.7h0M484.0 124.5h0M463.2 96.4h0M400.0 90.5h0M478.0 138.8h0M446.9 103.6h0M428.1 84.2h0M463.5 99.0h0M409.8 86.7h0M481.2 109.5h0M441.2 112.2h0M484.5 137.0h0M494.5 113.6h0M433.3 102.8h0M448.2 79.4h0M443.4 68.3h0M470.8 88.6h0M407.7 84.0h0M465.6 79.0h0M425.6 86.5h0M477.1 137.8h0M434.5 76.5h0M447.6 100.9h0M456.9 68.8h0M411.9 85.6h0M472.2 82.3h0M463.4 96.2h0M421.3 92.4h0M492.9 117.6h0M416.7 85.5h0M469.2 72.7h0M430.0 69.6h0M471.5 83.2h0M440.9 62.7h0M480.5 118.9h0M480.7 115.0h0M455.8 87.6h0M431.9 108.3h0M495.0 136.9h0M469.0 112.7h0M433.5 129.4h0M436.3 98.7h0M430.1 121.1h0M481.6 120.2h0M449.7 99.2h0M437.3 87.0h0M419.0 85.9h0M475.0 77.1h0M489.3 93.5h0M445.9 103.3h0M435.0 95.7h0M480.8 121.7h0M497.5 139.6h0M432.5 130.9h0M422.6 87.1h0M494.1 114.8h0M450.5 104.7h0M443.8 87.6h0M434.9 95.9h0M474.9 102.6h0M478.4 128.8h0M435.0 90.0h0M432.7 113.1h0M473.8 116.6h0M439.6 97.0h0M468.2 105.2h0M429.3 122.7h0M447.2 80.1h0M436.4 113.8h0M427.0 117.3h0M442.5 67.9h0M487.2 129.9h0M444.1 99.8h0M483.3 136.0h0M436.5 95.5h0M473.9 88.0h0M461.0 102.0h0M425.2 85.9h0M440.8 127.2h0M443.5 86.2h0M426.2 107.6h0M449.2 101.0h0M430.9 78.0h0M409.8 79.2h0M428.8 114.6h0M441.9 135.3h0M456.6 68.9h0M444.0 75.3h0M423.2 96.7h0M486.1 96.1h0M464.2 79.2h0M433.0 80.9h0M452.7 93.0h0M436.2 132.9h0M476.1 120.0h0M464.4 103.6h0M441.8 129.4h0M419.7 97.3h0M442.8 89.4h0M478.1 93.2h0M468.1 128.8h0M435.3 84.0h0M447.0 105.7h0M442.3 103.0h0M468.9 78.0h0M472.7 75.6h0M468.7 112.8h0M412.7 90.0h0M449.8 87.0h0M432.6 130.2h0M437.1 67.6h0M482.7 107.7h0M444.6 100.9h0M471.8 128.7h0M433.9 98.0h0M477.7 118.5h0M455.9 96.8h0M461.7 96.9h0M451.6 90.9h0M434.3 80.9h0M420.2 88.4h0M420.2 72.4h0M427.8 104.9h0M435.0 108.9h0M469.7 134.6h0M487.7 139.7h0M495.2 130.6h0M486.0 101.0h0M424.7 77.7h0M423.8 96.8h0M434.6 129.8h0M466.9 107.7h0M429.5 85.3h0M438.5 70.5h0M425.4 101.5h0M463.0 76.1h0M471.4 135.2h0M440.9 74.3h0M426.5 110.3h0M442.3 105.0h0M418.7 100.3h0M422.4 92.0h0M471.2 123.1h0M469.9 93.5h0M480.1 125.5h0M448.9 79.8h0M472.2 127.6h0M449.6 80.6h0M441.4 68.9h0M476.3 136.5h0M411.9 80.9h0M481.0 117.3h0M484.6 134.0h0M455.8 68.1h0M425.5 90.1h0M426.0 68.4h0M446.1 105.9h0M440.9 134.6h0M474.4 82.7h0M428.4 92.2h0M436.5 87.8h0M417.1 99.0h0M476.1 128.2h0M432.4 78.1h0M432.5 68.9h0M492.1 131.4h0M470.8 117.2h0M431.8 99.4h0M478.9 105.8h0M434.2 82.4h0M403.7 90.1h0M474.1 112.3h0M448.2 106.7h0M443.6 83.7h0M484.8 119.9h0M497.6 133.5h0M436.4 95.7h0M411.0 83.9h0M479.9 104.7h0M419.8 77.6h0M424.5 108.6h0M437.3 88.4h0M454.1 91.0h0M492.0 125.8h0M465.6 107.4h0M446.0 104.8h0M440.8 85.2h0M482.8 87.8h0M483.5 119.6h0M470.5 140.5h0M493.0 133.9h0M404.0 85.7h0M489.7 125.7h0M430.4 104.8h0M496.4 131.2h0M443.4 101.6h0M471.5 139.0h0M421.4 98.2h0M407.1 93.2h0M478.0 119.9h0M477.8 92.1h0M479.5 92.5h0M469.1 73.5h0M479.9 118.3h0M486.9 116.2h0M468.7 93.1h0M490.2 106.4h0M491.4 107.3h0M480.9 127.0h0M450.4 103.7h0M444.9 105.5h0M474.6 104.7h0M451.9 105.0h0M490.4 100.6h0M483.7 121.1h0M447.0 79.5h0M466.8 70.2h0M483.7 134.3h0M465.9 72.9h0M437.7 126.9h0M471.4 102.2h0M493.3 135.8h0M488.8 120.4h0M491.7 133.9h0M424.4 68.4h0M470.2 96.0h0M493.1 106.5h0M431.1 97.0h0M471.0 89.9h0M481.4 90.4h0M461.5 87.1h0M449.7 74.7h0M436.9 69.9h0M478.7 121.3h0M424.8 78.0h0M409.3 79.7h0M433.7 123.3h0M476.6 106.3h0M427.9 67.8h0M428.6 72.3h0M438.1 108.5h0M453.8 79.6h0M447.5 68.1h0M435.7 113.8h0M400.5 86.5h0M449.0 87.4h0M438.3 116.0h0M459.8 90.5h0M434.6 98.7h0M444.6 71.3h0M423.2 72.8h0M412.9 82.6h0M420.6 81.8h0M476.9 107.5h0M457.7 87.1h0M416.8 84.0h0M482.3 85.7h0M477.9 127.9h0M425.1 84.0h0M423.9 98.9h0M484.1 136.4h0M473.0 136.6h0M493.2 129.7h0M446.2 107.8h0M494.0 122.2h0M423.6 97.9h0M494.5 137.1h0M488.9 120.7h0M451.8 66.2h0M493.2 105.8h0M476.0 79.2h0M470.9 92.7h0M491.2 123.5h0M431.6 127.7h0M428.4 67.9h0M425.1 77.3h0M430.1 86.6h0M462.9 68.8h0M491.3 105.0h0M431.3 119.5h0M439.1 68.1h0M461.6 87.2h0M458.6 107.4h0M456.5 78.2h0M420.0 94.1h0M410.1 84.9h0M479.6 86.1h0M435.1 98.0h0M456.2 73.9h0M460.0 93.8h0M428.3 109.8h0M461.5 106.7h0M489.5 126.6h0M485.7 113.5h0M469.5 96.5h0M424.9 87.4h0M429.9 100.3h0M407.3 80.9h0M444.5 62.8h0M452.7 96.1h0M485.7 94.3h0M467.2 80.3h0M428.2 116.9h0M462.1 79.2h0M477.4 122.3h0M445.5 98.9h0M457.7 102.5h0M428.5 116.6h0M426.0 66.1h0M457.5 78.8h0M480.4 120.2h0M492.3 103.9h0M438.9 109.7h0M476.4 76.2h0M431.1 116.2h0M490.7 101.5h0M440.5 99.1h0M409.9 83.4h0M481.5 112.0h0M428.6 72.2h0M428.4 123.0h0M460.4 81.1h0M486.3 104.4h0M482.8 139.5h0M428.7 83.7h0M467.2 78.8h0M487.6 138.5h0M432.4 131.6h0M474.9 100.3h0M423.0 90.4h0M435.4 112.2h0M399.0 86.0h0M436.5 130.4h0M467.8 91.5h0M482.4 89.0h0M426.5 75.9h0M457.9 95.6h0M484.0 129.3h0M490.6 127.4h0M487.8 139.0h0M480.2 99.3h0M462.4 95.9h0M479.1 128.4h0M411.0 87.2h0" stroke="#4ea9db" stroke-width="5" stroke-linecap="round"/>
<path d="M495.7 105.4h0M457.4 63.0h0M508.7 75.2h0M501.2 134.0h0M511.4 74.4h0M477.4 71.4h0M449.4 129.4h0M519.0 76.5h0M463.4 109.1h0M451.7 123.1h0M462.1 111.3h0M499.3 83.0h0M456.8 128.2h0M495.1 99.0h0M456.6 112.1h0M488.5 64.2h0M502.1 111.1h0M455.4 119.5h0M488.2 75.4h0M484.5 65.1h0M443.1 109.7h0M526.1 97.7h0M513.7 71.7h0M458.4 128.0h0M500.1 114.7h0M499.5 71.9h0M483.0 66.1h0M476.7 70.9h0M494.5 92.6h0M503.7 69.6h0M462.7 111.2h0M498.4 115.9h0M450.0 125.5h0M449.8 123.6h0M460.7 122.3h0M470.0 68.5h0M492.7 74.3h0M505.9 65.2h0M498.6 63.6h0M459.1 61.9h0M501.6 118.2h0M503.4 65.1h0M456.1 110.7h0M494.7 62.0h0M497.2 104.3h0M496.3 115.1h0M526.0 94.2h0M463.9 130.8h0M495.2 91.4h0M500.9 122.0h0M476.9 62.0h0M444.0 122.8h0M491.3 74.8h0M448.1 119.2h0M454.0 131.1h0M445.5 109.6h0M462.6 138.8h0M488.5 77.8h0M499.1 98.9h0M472.3 63.1h0M465.0 128.4h0M478.3 68.9h0M514.0 76.9h0M497.6 73.6h0M471.4 63.5h0M447.8 126.5h0M500.1 120.8h0M490.2 88.2h0M494.9 105.6h0M523.8 87.7h0M496.0 85.1h0M492.6 98.2h0M452.9 63.2h0M500.6 65.4h0M453.1 62.8h0M451.7 129.7h0M449.4 120.4h0M503.1 62.4h0M480.0 69.9h0M496.4 117.9h0M494.6 63.7h0M514.7 71.4h0M465.4 123.5h0M501.1 74.6h0M507.2 94.8h0M484.3 70.0h0M488.5 71.5h0M483.6 77.9h0M457.0 108.5h0M511.5 87.9h0M499.8 139.0h0M462.3 108.8h0M452.0 139.3h0M459.9 117.2h0M459.0 112.5h0M474.0 64.4h0M472.0 70.2h0M521.7 80.0h0M455.8 124.1h0M506.2 71.7h0M498.6 109.8h0M491.2 91.6h0M498.3 60.0h0M498.3 79.1h0M516.4 77.3h0M496.5 64.2h0M509.1 85.9h0M459.3 124.2h0M447.2 110.7h0M489.9 78.4h0M469.4 64.1h0M472.9 72.0h0M485.6 73.7h0M447.9 120.5h0M460.2 122.6h0M461.2 137.4h0M451.6 118.6h0M443.7 108.2h0M464.2 122.0h0M464.0 68.3h0M464.1 129.3h0M507.4 73.2h0M479.6 65.9h0M490.1 73.4h0M507.1 95.5h0M520.9 94.2h0M491.1 70.7h0M463.3 64.8h0M462.5 138.7h0M463.8 138.9h0M457.6 128.0h0M449.0 132.0h0M500.9 131.1h0M498.5 64.3h0M519.9 85.5h0M490.8 75.1h0M501.7 121.9h0M460.0 63.8h0M498.8 120.3h0M458.1 130.6h0M466.4 135.8h0M490.5 65.5h0M510.0 66.5h0M497.7 92.0h0M479.7 67.2h0M483.8 82.1h0M498.4 87.7h0M451.3 122.0h0M457.3 113.6h0M475.7 73.9h0M527.7 96.0h0M449.2 115.5h0M510.4 77.4h0M504.0 98.7h0M499.6 102.2h0M488.2 87.1h0M498.2 64.2h0M512.7 82.6h0M466.7 136.6h0M498.9 90.1h0M496.7 81.0h0M487.5 75.6h0M472.4 68.3h0M466.5 134.6h0M461.9 116.9h0M490.6 70.4h0M519.3 86.0h0M498.8 73.0h0M512.0 73.5h0M483.0 65.8h0M511.0 86.1h0M464.4 120.9h0M497.0 124.3h0M458.0 132.0h0M522.0 80.2h0M473.8 68.6h0M489.7 70.8h0M529.1 95.4h0M481.7 74.4h0M446.2 114.2h0M453.0 136.0h0M493.2 83.4h0M488.0 73.3h0M480.0 72.9h0M474.1 69.4h0M477.1 57.5h0M496.8 108.7h0M452.0 61.7h0M478.1 61.3h0M456.2 66.4h0M474.8 61.9h0M485.1 67.4h0M493.8 88.9h0M480.8 68.7h0M456.0 140.5h0M456.6 136.8h0M457.2 60.4h0M499.9 79.6h0M456.9 127.1h0M480.1 60.7h0M503.0 102.1h0M462.4 130.7h0M478.2 60.9h0M462.8 127.0h0M485.4 80.8h0M497.6 97.2h0M516.0 78.4h0M488.0 82.1h0M486.9 66.9h0M455.2 122.8h0M455.8 114.2h0M496.4 92.3h0M466.2 136.8h0M514.2 71.2h0M498.7 65.9h0M499.5 88.4h0M451.3 125.6h0M448.9 122.8h0M449.2 127.6h0M501.1 133.9h0M446.6 134.9h0M454.6 139.2h0M494.3 76.3h0M460.4 62.1h0M481.8 78.5h0M444.4 111.6h0M499.5 126.5h0M509.3 75.1h0M492.2 76.9h0M515.9 78.7h0M458.0 108.5h0M500.3 136.4h0M444.3 114.8h0M457.2 137.9h0M452.4 111.4h0M459.8 61.2h0M504.9 74.1h0M449.7 62.1h0M507.3 81.5h0M508.4 65.8h0M460.0 66.7h0M472.6 62.2h0M478.5 69.5h0M462.2 127.3h0M466.8 124.8h0M466.0 125.6h0M506.9 94.6h0M522.3 94.9h0M480.4 59.5h0M465.2 139.2h0M499.4 82.4h0M498.8 65.5h0M506.0 73.4h0M502.0 84.6h0M513.8 77.4h0M443.9 129.0h0M489.6 68.8h0M494.3 60.3h0M471.2 60.7h0M499.5 82.8h0M469.4 66.9h0M451.9 122.7h0M448.9 138.5h0M445.1 132.8h0M461.4 61.3h0M502.3 82.0h0M492.2 68.6h0M501.7 65.0h0M498.7 133.9h0M519.9 76.8h0M499.5 78.6h0M463.0 133.2h0M513.6 71.2h0M495.0 59.7h0M450.0 112.9h0M457.2 66.2h0M444.7 115.8h0M482.6 57.3h0M497.9 86.3h0M464.4 120.2h0M467.6 65.1h0M504.1 83.5h0M459.2 63.4h0M497.8 79.6h0M457.9 136.4h0M460.5 112.2h0M460.6 62.8h0M503.6 63.0h0M461.8 118.5h0M449.0 128.5h0M472.9 61.7h0M455.7 138.8h0M454.8 119.3h0M462.0 118.9h0M495.9 91.9h0M492.0 67.7h0M462.0 141.3h0M443.7 129.3h0M485.9 59.4h0M504.8 74.7h0M529.4 93.6h0M486.8 58.0h0M493.8 103.7h0M479.5 62.3h0M473.5 68.5h0M451.4 135.0h0M498.6 65.6h0M496.9 86.6h0M518.6 76.4h0M452.2 116.5h0M499.9 139.6h0M457.0 62.7h0M501.1 86.4h0M493.1 59.2h0M496.8 65.7h0M476.5 75.3h0M464.7 118.2h0M461.4 126.0h0M515.9 75.4h0M485.9 78.9h0M517.2 77.1h0M504.3 75.4h0M524.6 94.9h0M490.7 61.7h0M480.1 63.7h0M452.5 114.6h0M516.6 82.6h0M524.2 89.6h0M453.2 110.6h0M488.7 80.3h0M463.6 134.6h0M509.4 68.7h0M499.7 80.1h0M477.6 60.3h0M491.7 94.8h0M518.9 81.7h0M464.5 111.2h0M454.1 134.4h0M456.1 137.5h0M450.2 129.9h0M473.2 71.5h0M499.5 93.0h0M523.3 85.0h0M485.9 68.8h0M490.8 94.7h0M504.4 89.3h0M503.9 72.6h0M513.5 80.5h0M478.3 69.5h0M456.6 66.1h0M505.8 81.5h0M451.0 124.0h0M463.2 117.6h0M489.2 80.7h0M492.5 92.6h0M496.8 89.6h0M485.4 82.3h0M498.1 99.0h0M454.6 122.6h0M447.2 121.3h0M504.6 66.9h0M494.8 108.6h0M462.9 123.5h0M516.5 74.9h0M486.4 56.7h0M530.1 95.8h0M497.1 71.2h0M507.2 75.0h0M504.1 89.8h0M491.3 62.6h0M466.0 120.9h0M470.0 69.6h0M494.8 79.4h0M450.4 116.3h0M449.2 122.7h0M467.8 123.9h0M507.9 82.8h0M451.0 62.6h0M455.5 137.9h0M452.4 130.2h0M457.8 136.6h0M496.0 110.3h0M497.3 74.4h0M496.4 98.4h0M490.1 65.8h0M511.6 74.7h0M480.5 60.7h0M497.8 71.0h0M524.3 95.0h0M506.8 63.5h0M501.2 109.8h0M460.7 63.7h0M507.0 95.5h0M488.8 62.8h0M502.7 94.2h0M513.4 68.3h0M492.5 86.0h0M493.5 103.2h0M500.4 90.3h0M508.3 78.7h0M458.5 64.4h0M466.4 136.1h0M454.7 61.7h0M496.5 78.3h0M450.8 120.8h0M496.0 92.0h0M466.7 114.3h0M477.5 64.1h0M493.9 71.5h0M496.0 75.3h0M444.7 129.1h0M522.1 94.7h0M508.2 92.0h0M454.2 115.1h0M458.6 116.8h0M500.3 64.6h0M498.5 70.7h0M505.9 94.5h0M447.4 62.4h0M472.1 68.1h0M515.6 80.6h0M523.0 84.4h0M465.7 62.3h0M504.4 102.0h0M445.3 126.1h0M466.5 61.1h0M492.2 62.8h0M498.8 82.0h0M453.8 64.9h0M513.4 78.9h0M494.7 99.4h0M473.1 63.3h0M505.9 96.5h0M502.5 96.2h0M445.3 127.8h0M504.7 65.3h0M473.2 65.7h0M503.0 75.6h0M510.2 75.0h0M504.8 66.0h0M448.4 126.8h0M498.4 84.3h0M500.3 129.9h0M490.3 58.1h0M451.6 129.1h0M457.9 112.8h0M511.6 76.7h0M514.2 73.3h0M448.8 138.7h0M458.3 110.9h0M523.4 96.3h0M443.2 128.3h0M445.0 137.9h0M500.2 139.7h0M490.2 92.5h0M458.3 60.6h0M462.7 134.6h0M484.2 58.0h0M474.4 58.7h0M493.2 87.7h0M444.2 131.6h0M448.3 134.8h0M502.4 77.5h0M454.7 116.2h0M529.0 94.3h0M467.0 125.4h0M447.7 125.8h0M499.3 115.6h0M482.3 64.8h0M456.8 118.4h0M465.1 138.3h0M501.8 69.9h0M467.1 61.5h0M467.3 133.7h0M497.5 71.9h0M448.8 117.5h0M504.1 102.4h0M495.3 84.2h0M498.2 103.7h0M502.6 78.1h0M490.3 62.0h0M492.1 60.6h0M496.2 68.3h0M477.7 71.5h0M458.0 134.8h0M477.0 59.6h0M495.5 105.5h0M496.6 77.0h0M498.0 81.1h0M463.3 111.9h0M494.7 91.3h0M514.2 72.6h0M448.3 125.3h0M514.1 73.3h0M464.6 139.4h0M515.3 84.2h0M499.8 138.1h0M462.6 112.9h0M490.9 80.0h0M510.2 83.9h0M450.6 129.0h0M462.8 64.7h0M457.8 108.9h0M495.3 74.8h0M477.3 59.6h0M466.9 121.3h0M457.6 125.9h0M501.5 88.4h0M513.4 72.3h0M457.7 124.6h0M495.9 82.8h0M456.4 119.5h0M500.8 139.4h0M463.0 67.2h0M493.6 62.9h0M450.1 131.6h0M463.2 120.1h0M496.1 103.7h0M461.8 130.3h0M527.8 88.9h0M466.9 110.6h0M453.3 61.0h0M467.9 113.5h0M455.5 112.3h0M457.9 140.5h0M455.7 118.8h0M504.0 76.5h0M521.1 88.6h0M525.2 89.4h0M496.5 98.2h0M497.6 84.9h0M450.2 63.3h0M447.1 116.5h0M450.5 121.2h0M510.0 70.4h0M507.9 67.4h0M499.4 65.5h0M507.1 66.3h0M483.1 59.8h0M527.1 89.9h0M481.1 68.7h0M509.1 69.0h0M513.3 70.7h0M484.9 56.4h0M496.1 94.5h0M493.7 66.0h0M462.9 63.2h0M500.8 80.0h0M461.5 122.3h0M452.5 134.0h0M494.4 96.2h0M453.7 111.1h0M483.0 62.1h0M467.4 123.5h0M503.0 102.3h0M466.7 135.7h0M499.1 108.9h0M448.5 109.0h0M447.9 115.6h0M503.4 74.3h0M461.7 127.4h0M491.8 93.3h0M450.6 63.9h0M491.5 76.9h0M523.9 96.8h0M501.4 123.3h0M512.7 73.9h0M491.6 60.4h0M491.0 71.2h0M500.8 81.8h0M456.7 138.6h0M487.0 82.1h0M453.1 131.5h0M495.3 78.2h0" stroke="#c676be" stroke-width="5" stroke-linecap="round"/>
<path d="M438.4 118.2h0M479.3 138.4h0M462.1 97.3h0M469.9 94.8h0M442.6 74.2h0M471.2 121.9h0M441.7 62.2h0M471.4 123.6h0M442.4 132.1h0M425.6 86.5h0M434.9 95.9h0M432.7 113.1h0M495.2 130.6h0M429.5 85.3h0M472.2 127.6h0M446.1 105.9h0M474.4 82.7h0M491.7 133.9h0M494.0 122.2h0M461.5 106.7h0M444.5 62.8h0" stroke="#c676be" stroke-width="5" stroke-linecap="round"/>
<path d="M495.7 105.4h0M488.2 75.4h0M499.5 71.9h0M449.8 123.6h0M456.1 110.7h0M496.3 115.1h0M495.2 91.4h0M462.6 138.8h0M465.0 128.4h0M492.6 98.2h0M453.1 62.8h0M488.5 71.5h0M474.0 64.4h0M472.0 70.2h0M469.4 64.1h0M507.4 73.2h0M490.8 75.1h0M490.6 70.4h0M512.0 73.5h0M446.2 114.2h0M478.1 61.3h0M457.2 60.4h0M480.1 60.7h0M516.0 78.4h0M486.9 66.9h0M460.4 62.1h0M499.5 126.5h0M504.9 74.1h0M506.9 94.6h0M489.6 68.8h0M471.2 60.7h0M451.9 122.7h0M448.9 138.5h0M464.4 120.2h0M457.9 136.4h0M492.0 67.7h0M529.4 93.6h0M451.4 135.0h0M518.6 76.4h0M499.9 139.6h0M480.1 63.7h0M523.3 85.0h0M462.9 123.5h0M508.3 78.7h0M465.7 62.3h0M448.4 126.8h0M457.9 112.8h0M514.2 73.3h0M445.0 137.9h0M500.2 139.7h0M474.4 58.7h0M444.2 131.6h0M502.4 77.5h0M447.7 125.8h0M504.1 102.4h0M527.8 88.9h0M497.6 84.9h0M527.1 89.9h0M493.7 66.0h0M523.9 96.8h0" stroke="#4ea9db" stroke-width="5" stroke-linecap="round"/>
<path d="M463.4 109.1h0M500.1 114.7h0M412.3 94.2h0M498.4 115.9h0M463.9 130.8h0M426.0 117.8h0M427.7 117.5h0M410.9 92.6h0M474.8 95.1h0M434.5 120.3h0M429.3 96.9h0M465.1 105.7h0M439.0 122.8h0M498.8 138.7h0M488.3 112.3h0M474.5 118.4h0M442.9 127.4h0M456.3 106.6h0M458.2 101.7h0M429.0 105.9h0M427.8 104.5h0M497.7 92.0h0M461.9 116.9h0M481.0 129.7h0M458.0 132.0h0M484.7 120.9h0M496.8 108.7h0M484.2 104.0h0M419.7 99.6h0M479.7 123.8h0M454.6 139.2h0M415.6 94.9h0M425.7 97.6h0M469.5 140.5h0M432.8 92.7h0M476.6 93.9h0M462.0 118.9h0M455.5 97.8h0M447.3 102.5h0M435.1 99.6h0M482.1 115.3h0M463.4 96.2h0M496.4 98.4h0M466.4 136.1h0M450.8 120.8h0M486.1 96.1h0M447.0 105.7h0M494.7 99.4h0M505.9 96.5h0M476.1 128.2h0M470.8 117.2h0M479.5 92.5h0M491.4 107.3h0M462.6 112.9h0M490.4 100.6h0M483.7 121.1h0M483.7 134.3h0M456.4 119.5h0M455.7 118.8h0M452.5 134.0h0M436.5 130.4h0" stroke="#3cba6c" stroke-width="5" stroke-linecap="round"/>
<path d="M456.8 128.2h0M462.7 111.2h0M438.1 135.2h0M483.5 134.4h0M494.1 136.0h0M442.2 136.9h0M437.3 122.4h0M478.2 112.6h0M452.5 114.6h0M453.2 110.6h0M450.4 116.3h0M478.4 128.8h0M440.8 127.2h0M458.6 116.8h0M468.7 112.8h0M434.6 129.8h0M471.4 135.2h0M497.6 133.5h0M465.1 138.3h0M493.0 133.9h0M457.7 124.6h0M467.9 113.5h0M488.9 120.7h0" stroke="#a3a63a" stroke-width="5" stroke-linecap="round"/>
<path d="M503.0 138.0 L507.0 146.0 L516.0 155.0 L524.0 161.0 L540.0 170.0 L552.0 178.0 L561.0 192.0 L566.0 205.0 L568.0 220.0 L568.0 229.0 L581.0 229.0 L591.0 232.0 L600.0 236.0 L602.0 242.0 L598.0 248.0 L586.0 256.0 L574.0 268.0 L569.0 285.0 L566.0 305.0 L560.0 318.0 L550.0 325.0 L535.0 329.5 L514.0 331.0 L492.0 328.0 L470.0 318.0 L455.0 304.0 L447.0 288.0 L442.0 268.0 L437.0 248.0 L435.0 228.0 L437.0 212.0 L441.0 196.0 L448.0 183.0 L454.0 172.0 L462.0 169.0 L472.0 171.0 L481.0 167.0 L484.0 150.0 L488.0 139.0Z" fill="#a3a63a"/>
<path d="M458.7 251.8h0M537.3 298.0h0M485.6 181.5h0M496.2 146.4h0M543.9 295.5h0M518.8 231.1h0M502.7 311.2h0M594.9 236.1h0M447.2 221.8h0M471.5 288.8h0M591.7 244.3h0M531.5 167.1h0M467.0 272.3h0M553.4 199.5h0M473.5 203.6h0M441.0 212.8h0M553.5 232.4h0M500.3 204.1h0M516.5 312.0h0M524.9 187.8h0M585.0 256.6h0M511.4 286.8h0M518.9 236.4h0M514.0 186.7h0M488.2 285.7h0M524.3 171.0h0M461.1 203.7h0M574.0 255.6h0M539.2 274.9h0M539.7 200.8h0M503.6 225.0h0M500.8 298.7h0M534.4 313.9h0M490.3 179.3h0M545.0 272.2h0M569.4 243.9h0M464.7 275.6h0M479.6 299.0h0M547.5 218.1h0M585.5 231.1h0M507.6 268.8h0M443.5 241.4h0M453.4 284.4h0M577.8 260.8h0M537.8 246.2h0M542.5 260.8h0M473.9 296.1h0M516.3 297.7h0M531.7 227.8h0M510.8 300.5h0M531.8 246.0h0M472.5 287.9h0M544.4 230.1h0M450.9 277.9h0M524.1 166.5h0M490.7 153.0h0M521.2 215.9h0M443.3 248.7h0M457.8 240.2h0M573.7 231.8h0M502.6 148.3h0M448.1 256.7h0M495.2 304.2h0M463.5 279.4h0M460.1 280.6h0M546.4 325.2h0M536.7 220.7h0M540.8 285.4h0M568.3 269.1h0M442.9 256.2h0M481.2 291.0h0M550.2 251.5h0M506.1 259.4h0M551.0 319.8h0M508.5 288.7h0M511.5 162.7h0M552.1 214.4h0M512.1 286.7h0M550.0 216.4h0M453.0 230.3h0M481.0 168.1h0M501.4 217.6h0M535.3 281.4h0M507.6 196.7h0M485.0 240.0h0M450.2 209.5h0M468.7 260.4h0M481.5 280.9h0M590.8 232.8h0M519.3 313.8h0M531.3 165.3h0M471.1 208.4h0M493.2 144.4h0M582.8 233.8h0M495.1 156.7h0M495.4 184.0h0M475.1 239.9h0M456.4 190.0h0M523.2 185.4h0M533.6 273.5h0M472.9 229.3h0M519.3 159.6h0M507.1 325.4h0M545.2 267.9h0M501.1 264.3h0M548.0 199.8h0M485.0 257.4h0M557.1 245.3h0M543.5 220.2h0M473.7 233.8h0M501.6 183.5h0M541.3 241.2h0M523.5 176.4h0M483.2 300.2h0M486.3 172.6h0M561.2 202.6h0M511.8 292.5h0M488.3 193.3h0M559.7 265.0h0M499.6 327.0h0M474.4 268.2h0M564.5 228.6h0M491.6 164.5h0M500.3 145.2h0M563.2 249.8h0M461.6 212.0h0M496.7 267.0h0M513.5 303.4h0M521.4 285.2h0M458.7 198.9h0M474.5 260.0h0M532.6 318.2h0M521.2 231.5h0M473.4 181.5h0M568.4 271.8h0M557.9 232.0h0M533.4 253.9h0M502.4 233.8h0M462.1 289.2h0M486.1 203.4h0M506.8 270.2h0M535.4 264.4h0M478.6 214.2h0M456.5 246.1h0M532.8 312.2h0M447.6 210.1h0M491.1 198.6h0M520.1 257.2h0M500.4 139.4h0M521.9 270.4h0M552.4 232.2h0M492.7 282.2h0M507.6 228.8h0M548.6 253.4h0M495.9 320.6h0M524.5 190.6h0M540.0 313.9h0M486.0 311.0h0M496.1 217.3h0M480.3 321.3h0M498.0 287.1h0M532.9 252.7h0M450.6 281.1h0M511.5 176.6h0M504.2 152.6h0M468.5 256.3h0M500.6 231.8h0M489.8 149.7h0M505.5 193.9h0M530.9 240.8h0M537.1 269.0h0M538.1 307.9h0M557.1 288.7h0M536.4 213.9h0M554.6 243.1h0M481.7 213.1h0M464.2 213.3h0M469.0 277.0h0M561.9 263.9h0M563.6 297.4h0M456.5 261.8h0M538.4 319.4h0M499.0 282.7h0M456.0 242.2h0M529.8 265.3h0M475.3 223.8h0M493.7 184.8h0M530.9 318.6h0M560.3 306.8h0M478.4 176.5h0M463.5 227.4h0M477.4 262.5h0M450.7 270.5h0M484.1 153.5h0M485.6 311.4h0M594.1 242.9h0M451.0 229.2h0M530.9 311.1h0M458.0 199.7h0M460.3 211.1h0M560.8 212.9h0M582.2 230.6h0M508.6 164.4h0M509.3 293.2h0M509.1 248.9h0M486.4 310.4h0M500.7 267.0h0M519.2 237.2h0M497.9 184.4h0M499.3 220.4h0M554.6 226.0h0M489.5 236.6h0M598.2 235.4h0M536.0 200.3h0M555.5 314.4h0M478.5 316.3h0M469.0 218.0h0M523.9 316.1h0M531.1 319.1h0M495.5 266.0h0M523.4 286.8h0M479.1 282.0h0M519.3 162.7h0M506.7 217.7h0M436.5 229.6h0M549.5 216.4h0M489.1 228.1h0M465.8 298.5h0M496.3 277.1h0M483.4 180.7h0M454.5 175.4h0M541.8 220.1h0M446.9 263.8h0M526.7 324.6h0M575.6 249.8h0M502.8 232.5h0M459.8 238.8h0M559.3 231.7h0M505.8 282.9h0M506.9 271.6h0M551.5 181.7h0M475.7 247.0h0M528.2 307.0h0M542.2 244.7h0M559.5 307.0h0M556.1 285.4h0M438.3 223.8h0M534.1 217.0h0M473.4 318.6h0M533.5 170.7h0M584.5 246.4h0M468.6 174.7h0M540.5 280.5h0M539.4 195.7h0M476.6 270.5h0M529.8 191.7h0M444.8 210.2h0M553.1 304.6h0M525.8 253.2h0M531.2 321.6h0M485.9 323.0h0M530.3 240.8h0M557.7 295.5h0M451.2 287.3h0M476.3 265.1h0M547.9 220.8h0M481.6 278.6h0M571.3 232.2h0M517.7 247.1h0M510.5 202.9h0M537.7 230.9h0M558.7 318.0h0M520.6 249.3h0M488.9 215.2h0M531.0 318.8h0M460.3 301.1h0M483.1 156.0h0M496.1 294.2h0M519.7 311.5h0M531.1 237.0h0M582.9 242.4h0M548.8 194.2h0M484.8 295.8h0M473.6 212.0h0M524.9 258.9h0M487.2 278.1h0M526.2 207.8h0M457.8 298.4h0M547.0 235.9h0M548.8 235.6h0M554.3 281.9h0M553.0 322.8h0M475.4 187.5h0M482.3 292.9h0M516.0 194.1h0M468.5 174.4h0M505.9 204.0h0M530.2 204.6h0M465.1 230.4h0M443.2 248.5h0M503.4 309.0h0M494.0 321.6h0M495.4 237.6h0M534.0 175.8h0M477.0 250.5h0M461.3 226.0h0M502.2 172.5h0M519.6 159.5h0M574.1 240.2h0M533.2 277.9h0M575.7 245.4h0M469.4 232.3h0M503.7 193.6h0M568.9 260.3h0M532.6 196.9h0M549.1 296.5h0M516.9 269.3h0M500.7 318.6h0M470.6 173.4h0M466.1 239.5h0M502.5 306.2h0M521.3 195.7h0M490.1 143.4h0M443.2 208.8h0M478.6 216.4h0M527.8 313.0h0M550.2 189.1h0M532.6 168.8h0M494.3 287.4h0M577.3 251.0h0M520.4 292.1h0M491.7 166.8h0M513.2 238.9h0M495.2 171.7h0M503.2 293.2h0M497.3 254.1h0M507.5 216.6h0M538.2 197.8h0M549.5 234.1h0M544.5 305.8h0M455.4 259.8h0M477.2 277.1h0M502.0 242.3h0M511.2 298.8h0M522.9 219.3h0M550.6 190.8h0M501.5 168.0h0M547.0 325.6h0M496.6 178.6h0M571.5 232.0h0M535.5 206.8h0M480.9 298.0h0M568.1 234.7h0M574.4 243.5h0M525.0 237.2h0M518.7 315.8h0M576.1 243.0h0M538.6 181.3h0M488.4 191.5h0M486.2 293.7h0M519.9 289.2h0M489.3 308.0h0M503.7 253.7h0M563.9 241.7h0M539.6 315.7h0M482.3 204.6h0M563.4 268.9h0M465.9 196.5h0M477.3 189.6h0M481.0 314.1h0M443.6 242.8h0M590.0 236.3h0M558.8 251.6h0M499.4 156.5h0M549.0 250.1h0M531.6 258.0h0M456.7 243.9h0M537.2 170.7h0M522.7 207.9h0M460.7 264.8h0M526.2 272.5h0M456.8 220.8h0M550.9 281.3h0M549.8 210.4h0M465.4 207.3h0M477.8 188.0h0M504.5 326.1h0M464.2 300.0h0M495.9 165.8h0M468.6 287.7h0M541.9 238.3h0M586.9 234.6h0M537.0 168.3h0M482.8 159.7h0M488.9 302.2h0M510.4 167.9h0M510.7 239.2h0M549.0 294.3h0M544.0 322.1h0M562.5 230.5h0M506.5 236.9h0M547.7 284.0h0M490.7 225.9h0M570.4 243.5h0M464.6 171.1h0M493.1 250.7h0M494.8 271.8h0M464.5 187.7h0M500.2 221.5h0M519.7 293.6h0M496.4 261.3h0M440.9 235.1h0M496.8 212.9h0M505.5 147.4h0M517.0 314.6h0M518.8 190.5h0M500.9 162.4h0M484.5 283.3h0M590.1 242.6h0M479.1 261.5h0M519.0 229.0h0M526.4 223.0h0M545.9 200.1h0M474.1 288.9h0M448.9 277.1h0M494.5 157.3h0M545.2 321.5h0M576.4 241.8h0M470.8 221.8h0M549.8 322.5h0M527.2 226.8h0M532.7 322.0h0M526.7 321.3h0M515.6 302.7h0M437.9 231.2h0M478.7 321.3h0M517.9 293.5h0M529.7 273.3h0M458.1 232.6h0M479.0 242.9h0M459.1 266.1h0M492.2 233.0h0M586.0 241.9h0M500.7 298.2h0M555.7 229.3h0M505.0 217.9h0M583.8 238.4h0M503.6 258.4h0M499.9 215.0h0M444.7 191.5h0M561.6 245.8h0M507.0 231.1h0M538.5 276.7h0M504.4 163.8h0M508.8 320.7h0M552.4 227.0h0M465.7 275.4h0M520.7 159.1h0M499.9 304.3h0M573.6 258.9h0M538.2 276.3h0M586.6 252.5h0M532.3 319.4h0M513.1 249.0h0M483.3 307.8h0M532.7 307.0h0M442.9 195.0h0M507.2 227.9h0M567.1 291.4h0M544.7 220.0h0M487.2 321.8h0M539.2 310.4h0M559.3 205.8h0M562.1 267.4h0M494.0 202.9h0M537.6 194.7h0M484.0 194.4h0M500.3 174.5h0M488.9 155.1h0M567.1 247.5h0M539.5 264.3h0M448.2 205.1h0M466.2 280.2h0M482.3 244.1h0M458.1 210.8h0M504.3 260.7h0M507.7 297.0h0M465.7 260.0h0M573.2 232.4h0M474.9 182.3h0M593.7 250.9h0M495.5 272.3h0M456.3 256.4h0M489.9 244.2h0M491.5 272.4h0M545.1 288.8h0M492.6 325.2h0M481.3 260.7h0M495.8 177.0h0M538.9 315.9h0M442.2 261.9h0M522.4 262.9h0M533.3 232.1h0M512.1 228.5h0M502.2 139.6h0M465.7 182.4h0M555.6 291.3h0M517.7 231.6h0M515.0 326.8h0M529.9 245.6h0M548.7 264.2h0M493.8 251.6h0M491.1 199.4h0M497.5 270.6h0M508.2 295.7h0M522.0 284.2h0M515.6 185.8h0M503.6 254.3h0M571.9 262.3h0M523.8 245.2h0M519.5 222.1h0M562.6 205.3h0M522.7 183.7h0M471.6 212.2h0M450.7 289.8h0M463.9 233.2h0M480.2 284.3h0M476.5 297.7h0M542.6 176.8h0M516.8 287.2h0M514.8 188.7h0M475.2 291.5h0M557.9 276.9h0M454.8 244.7h0M503.2 209.2h0M519.8 302.5h0M463.8 297.3h0M506.5 181.0h0M594.8 249.0h0M526.0 309.3h0M460.3 278.6h0M546.0 290.1h0M528.1 163.7h0M538.2 263.5h0M515.3 206.1h0M490.7 300.0h0M451.0 217.0h0M584.5 241.1h0M512.2 251.3h0M484.7 188.3h0M511.7 207.4h0M567.1 266.3h0M497.2 214.3h0M511.5 318.8h0M517.9 226.0h0M485.8 322.3h0M453.6 280.8h0M475.0 227.7h0M470.8 228.3h0M502.1 221.6h0M455.3 287.2h0M498.3 168.2h0M548.3 216.1h0M588.4 237.2h0M471.5 232.5h0M488.5 307.7h0M538.7 227.2h0M505.1 142.8h0M577.7 236.3h0M491.5 181.2h0M502.0 289.9h0M472.9 272.9h0M566.7 247.0h0M465.7 306.0h0M471.1 188.8h0M486.1 241.9h0M448.7 215.5h0M532.5 279.3h0M480.0 243.5h0M543.8 306.8h0M507.1 279.4h0M473.5 172.4h0M499.5 260.2h0M538.0 174.3h0M492.7 283.3h0M507.5 206.1h0M566.3 208.6h0M455.3 205.8h0M470.5 257.9h0M523.2 211.0h0M552.9 261.8h0M495.9 309.7h0M501.4 207.3h0M537.8 316.6h0M539.7 305.4h0M512.4 153.2h0M503.8 161.3h0M447.8 250.1h0M553.0 263.0h0M459.5 272.7h0M517.8 271.2h0M508.2 311.7h0M555.2 280.1h0M472.6 317.3h0M480.7 220.7h0M533.9 185.4h0M538.3 317.3h0M484.1 157.2h0M529.5 321.0h0M500.3 219.6h0M468.2 274.6h0M517.1 175.5h0M477.6 307.7h0M480.2 174.6h0M455.0 222.7h0M478.9 271.4h0M534.3 247.7h0M457.3 189.9h0M448.0 254.7h0M514.1 299.6h0M512.2 290.1h0M526.7 233.3h0M564.8 208.3h0M541.9 205.8h0M518.3 225.6h0M494.8 326.2h0M560.6 268.4h0M454.9 230.4h0M504.9 173.2h0M549.7 205.0h0M509.0 260.1h0M517.1 235.2h0M501.5 141.2h0M483.6 181.7h0M481.8 216.1h0M500.2 264.4h0M505.4 285.2h0M479.2 298.8h0M557.1 197.9h0M512.4 279.8h0M483.7 236.9h0M507.2 194.5h0M522.9 309.9h0M543.7 255.0h0M550.4 220.1h0M499.7 146.2h0M528.1 201.0h0M554.0 284.6h0M531.2 179.1h0M554.0 233.5h0M561.9 266.9h0M513.7 305.6h0M453.9 181.5h0M534.5 226.8h0M581.5 256.5h0M484.1 268.5h0M507.3 153.8h0M527.6 198.7h0M549.6 194.1h0M504.2 164.0h0M540.5 262.9h0M466.5 213.9h0M491.4 179.9h0M574.0 256.7h0M537.4 247.5h0M525.1 290.4h0M459.2 228.1h0M567.6 266.0h0M478.7 211.5h0M536.6 291.0h0M455.4 265.8h0M540.0 238.3h0M487.3 165.2h0M469.9 274.9h0M551.0 254.4h0M549.1 209.0h0M492.1 193.9h0M525.9 239.5h0M514.1 264.2h0M472.1 303.5h0M514.0 225.2h0M521.8 254.2h0M502.2 232.4h0M435.3 228.3h0M555.9 205.7h0M516.4 195.1h0M479.7 213.5h0M506.9 327.6h0M499.1 196.7h0M527.0 314.2h0M526.6 320.4h0M481.8 180.6h0M443.5 256.3h0M520.8 284.2h0M491.2 201.5h0M537.7 301.5h0M443.1 268.0h0M450.0 181.3h0M500.4 150.7h0M466.9 219.0h0M552.3 249.5h0M516.9 271.3h0M540.6 259.0h0M473.6 298.9h0M473.5 264.4h0M465.0 190.5h0M436.7 221.8h0M437.3 234.8h0M467.1 181.4h0M516.6 250.9h0M487.9 226.4h0M550.4 178.9h0M498.5 170.8h0M484.5 230.0h0M574.3 236.8h0M494.7 289.8h0M533.7 213.6h0M534.3 227.5h0M540.4 274.8h0M492.7 296.7h0M498.5 172.9h0M496.1 267.1h0M472.3 282.8h0M557.7 278.0h0M484.7 275.5h0M501.3 210.5h0M470.0 217.0h0M512.9 273.2h0M532.5 321.8h0M474.2 295.6h0M476.4 293.3h0M492.7 217.4h0M500.2 210.0h0M506.8 309.4h0M541.9 235.5h0M553.9 254.4h0M499.6 178.6h0M449.2 204.6h0M453.9 179.0h0M531.3 169.6h0M516.2 290.7h0M453.0 264.5h0M487.6 313.6h0M516.5 229.4h0M442.4 199.5h0M532.2 280.9h0M552.4 206.4h0M450.6 191.3h0M543.3 209.6h0M517.4 266.6h0M599.9 239.7h0M520.0 169.6h0M538.8 320.1h0M475.5 237.6h0M530.1 323.7h0M499.5 317.3h0M557.6 276.8h0M479.8 229.5h0M528.6 197.1h0M462.0 248.0h0M450.4 246.8h0M497.6 142.2h0M547.7 257.8h0M534.6 307.0h0M544.2 303.3h0M529.6 274.1h0M521.8 322.6h0M560.4 251.5h0M454.4 251.0h0M515.7 170.3h0M501.0 169.7h0M535.3 182.2h0M477.2 241.7h0M488.8 196.4h0M487.2 314.8h0M500.5 265.1h0M547.2 201.2h0M500.9 169.0h0M452.6 205.5h0M469.5 263.3h0M490.8 147.7h0M528.3 200.2h0M532.4 167.4h0M481.3 295.3h0M467.3 266.8h0M496.1 184.7h0M568.8 242.0h0M579.7 253.0h0M519.6 245.9h0M468.8 242.3h0M561.1 273.8h0M545.0 179.3h0M557.8 265.5h0M521.8 180.3h0M499.1 304.8h0M584.3 235.9h0M561.6 270.0h0M525.1 176.8h0M495.8 262.7h0M562.0 250.3h0M489.0 212.1h0M465.2 277.9h0M489.2 155.6h0M497.3 151.5h0M475.0 286.4h0M566.7 213.4h0M446.8 205.9h0M574.0 267.3h0M490.4 210.2h0M488.8 249.9h0M483.1 187.2h0M556.5 222.5h0M544.5 283.7h0M459.1 178.5h0M520.7 199.7h0M513.8 310.6h0M509.4 173.0h0M453.5 223.2h0M473.6 259.8h0M512.7 293.7h0M490.4 204.8h0M445.9 276.1h0M477.2 221.8h0M472.5 242.2h0M483.7 196.5h0M521.2 303.7h0M506.0 179.0h0M506.2 200.5h0M539.0 263.1h0M507.9 182.4h0M514.7 271.0h0M479.8 255.6h0M481.9 249.4h0M570.8 270.6h0M445.5 270.8h0M590.1 242.8h0M494.5 323.7h0M474.2 246.8h0M495.3 303.4h0M465.8 269.0h0M500.0 289.0h0M468.7 210.6h0M548.6 293.6h0M445.6 273.3h0M530.0 220.2h0M524.1 250.6h0M458.2 211.2h0M482.4 209.3h0M478.6 248.6h0M488.9 213.2h0M552.9 314.4h0M456.1 177.5h0M461.9 176.1h0M492.7 240.9h0M487.3 214.1h0M596.7 239.6h0M458.0 302.1h0M596.0 241.2h0M477.5 263.6h0M532.3 182.1h0M536.7 314.1h0M469.5 171.0h0M507.8 167.7h0M550.0 277.6h0M464.4 198.3h0M530.3 322.8h0M456.1 262.1h0M485.1 285.1h0M475.3 191.9h0M463.1 304.7h0M478.1 201.0h0M504.1 300.4h0M539.0 314.9h0M544.9 306.8h0M564.6 203.3h0M484.2 169.1h0M499.6 305.6h0M565.5 252.2h0M502.4 321.5h0M529.2 304.9h0M528.9 173.3h0M511.2 185.6h0M492.9 226.3h0M491.8 297.3h0M458.5 305.9h0M524.3 237.0h0M564.4 276.2h0M545.5 252.2h0M510.5 206.2h0M561.2 292.9h0M518.5 220.0h0M579.0 233.0h0M509.4 297.3h0M515.9 174.0h0M507.4 205.2h0M549.8 277.9h0M503.1 241.1h0M567.2 282.7h0M531.0 316.8h0M489.5 256.5h0M457.4 226.8h0M502.2 205.2h0M514.7 319.7h0M465.8 177.4h0M464.9 197.8h0M506.7 154.4h0M472.3 292.3h0M467.9 194.0h0M528.2 240.1h0M513.6 202.2h0M476.2 248.7h0M440.5 212.5h0M490.3 291.3h0M496.7 295.9h0M515.1 243.4h0M446.8 221.1h0M583.9 243.1h0M554.0 214.7h0M554.2 299.1h0M480.2 300.4h0M466.4 190.1h0M516.4 261.5h0M493.6 278.6h0M483.9 270.6h0M540.2 311.7h0M502.6 296.9h0M506.5 161.6h0M537.4 283.4h0M511.1 207.4h0M559.5 208.4h0M456.3 215.3h0M553.6 228.3h0M505.3 327.9h0M539.8 207.6h0M501.2 307.5h0M464.1 268.6h0M509.8 265.4h0M529.0 250.8h0M451.5 271.3h0M467.7 313.9h0M455.1 239.1h0M476.1 217.3h0M499.9 182.8h0M443.0 243.4h0M519.8 330.4h0M548.9 260.9h0M506.5 263.5h0M565.1 206.8h0M509.0 149.0h0M494.0 229.2h0M520.2 177.5h0M468.4 288.3h0M464.2 202.0h0M469.1 218.2h0M544.3 182.8h0M511.1 231.6h0M471.2 216.2h0M542.6 292.3h0M493.4 202.7h0M461.4 298.4h0M459.6 207.3h0M481.8 323.3h0M503.7 259.9h0M538.7 249.5h0M543.5 217.1h0M518.3 316.2h0M475.1 169.7h0M522.0 329.5h0M544.1 322.7h0M530.1 294.5h0M593.2 248.5h0M469.0 261.1h0M498.3 263.9h0M592.3 246.8h0M498.7 267.9h0M507.2 174.8h0M475.8 237.1h0M524.7 294.0h0M497.3 204.1h0M450.6 200.9h0M443.8 259.3h0M465.2 270.1h0M548.3 219.0h0M475.9 244.9h0M450.2 233.4h0M540.5 301.6h0M510.3 238.6h0M467.5 243.0h0M436.8 224.2h0M456.1 283.7h0M523.0 306.8h0M538.9 210.1h0M515.6 156.5h0M536.2 188.1h0M487.4 151.9h0M490.9 321.7h0M557.4 278.4h0M502.3 164.2h0M493.9 295.5h0M524.5 179.0h0M514.6 228.4h0M464.4 209.8h0M523.3 201.7h0M478.4 275.8h0M494.5 199.8h0M448.8 285.9h0M530.9 229.4h0M545.4 321.2h0M483.9 179.8h0M561.1 309.4h0M480.9 320.5h0M458.3 303.0h0M447.9 225.9h0M487.0 206.1h0M512.0 267.6h0M504.4 231.6h0M513.5 248.8h0M548.4 208.8h0M560.8 295.5h0M511.1 320.9h0M490.8 186.3h0M540.7 195.3h0M463.8 304.2h0M479.8 213.3h0M513.4 161.2h0M482.8 197.7h0M453.4 204.4h0M463.4 199.2h0M517.6 214.1h0M524.9 186.2h0M457.2 221.6h0M529.2 324.0h0M541.8 213.0h0M533.8 248.2h0M567.4 284.4h0M543.4 183.1h0M483.9 195.5h0M501.2 169.1h0M492.4 226.1h0M499.8 164.5h0M444.1 238.9h0M477.6 193.2h0M492.4 177.7h0M533.8 261.9h0M557.3 268.4h0M469.5 195.8h0M535.4 212.5h0M530.3 240.4h0M565.1 296.6h0M478.8 283.9h0M467.4 251.3h0M555.1 278.5h0M474.0 190.7h0M445.9 279.1h0M488.3 203.9h0M470.2 251.7h0M470.0 215.9h0M506.7 261.5h0M463.8 184.8h0M530.3 231.8h0M518.1 245.8h0M475.7 295.2h0M546.1 179.1h0M489.4 278.2h0M490.0 310.8h0M493.2 141.3h0M570.9 238.1h0M498.7 276.0h0M465.8 182.4h0M489.2 301.8h0M529.6 222.6h0M464.8 271.4h0M542.6 279.1h0M576.8 256.0h0M486.0 263.4h0M549.2 194.0h0M460.7 299.8h0M523.3 218.9h0M461.1 192.1h0M453.0 244.7h0M557.3 311.0h0M452.4 183.2h0M547.1 195.9h0M486.0 198.6h0M497.6 265.3h0M536.6 324.4h0M564.4 205.9h0M474.7 176.3h0M527.2 198.7h0M560.4 278.2h0M518.1 286.1h0M457.5 187.5h0M534.7 182.2h0M524.4 292.6h0M499.1 203.7h0M550.7 181.2h0M502.3 305.2h0M454.6 220.4h0M450.7 269.9h0M568.4 231.9h0M542.7 313.9h0M534.3 169.0h0M500.8 226.7h0M479.5 206.4h0M516.9 266.0h0M458.5 285.2h0M474.4 237.1h0M477.5 211.1h0M494.2 277.3h0M513.1 195.1h0M454.8 184.9h0M465.3 251.6h0M519.9 307.0h0M549.5 317.1h0M480.9 186.1h0M535.0 255.1h0M546.7 291.4h0M443.8 242.9h0M461.5 186.7h0M494.8 166.9h0M473.4 265.7h0M581.5 232.4h0M455.9 299.1h0M554.5 312.5h0M545.8 321.9h0M543.7 214.9h0M489.8 161.0h0M520.1 241.7h0M553.6 272.8h0M490.4 176.5h0M447.9 187.3h0M553.9 265.8h0M498.1 161.5h0M461.3 257.5h0M477.1 245.8h0M501.6 255.7h0M512.8 169.9h0M563.8 283.7h0M555.9 311.0h0M507.8 163.8h0M582.2 234.4h0M525.8 203.0h0M541.2 258.9h0M591.1 244.1h0M437.5 213.3h0M542.0 184.7h0M547.6 234.6h0M559.4 306.9h0M508.9 279.7h0M494.0 213.6h0M516.9 276.5h0M449.7 222.5h0M460.9 268.5h0M500.0 171.6h0M479.5 304.5h0M564.3 247.1h0M555.4 316.1h0M489.0 216.9h0M477.8 318.8h0M544.5 190.8h0M507.1 186.6h0M576.6 237.3h0M451.1 195.4h0M459.9 290.8h0M553.4 220.5h0M461.3 295.8h0M483.9 244.3h0M537.3 181.7h0M524.1 174.8h0M556.6 253.9h0M502.3 231.5h0M515.1 294.7h0M548.0 303.7h0M460.2 272.9h0M472.8 301.2h0M483.1 229.2h0M499.1 220.0h0M561.0 221.0h0M443.2 237.9h0M454.8 233.1h0M511.7 165.6h0M526.7 208.1h0M524.6 245.4h0M480.4 195.3h0M505.5 170.1h0M453.7 232.8h0M512.6 318.2h0M553.2 278.3h0M504.7 239.3h0M465.4 215.2h0M508.7 178.1h0M523.2 162.3h0M548.8 242.1h0M531.9 238.1h0M554.3 309.2h0M507.9 292.7h0M476.0 249.5h0M466.1 262.2h0M546.7 180.8h0M530.4 271.2h0M456.4 256.0h0M575.3 235.6h0M542.8 238.7h0M485.0 321.0h0M457.3 268.9h0M574.2 255.4h0M517.6 161.6h0M458.3 269.4h0M496.6 326.5h0M545.3 173.7h0M476.7 176.8h0M521.9 252.8h0M517.0 318.0h0M525.9 219.2h0M533.5 181.4h0M521.4 192.0h0M559.6 304.3h0M512.1 173.5h0M518.1 232.9h0M501.6 248.1h0M516.3 328.6h0M540.4 203.6h0M516.5 285.6h0M561.8 219.9h0M570.3 275.3h0M551.6 290.4h0M534.6 173.9h0M504.5 289.7h0M566.4 273.3h0M517.0 287.5h0M498.9 195.1h0M492.9 185.6h0M499.4 258.7h0M536.0 281.5h0M494.0 299.6h0M516.7 223.6h0M498.2 318.3h0M456.0 250.9h0M566.2 253.5h0M518.5 177.4h0M523.3 327.1h0M444.5 233.5h0M458.2 180.0h0M559.7 209.4h0M513.6 278.9h0M555.6 224.8h0M484.3 311.8h0M499.1 155.6h0M502.4 290.3h0M508.2 290.8h0M495.9 188.7h0M495.4 256.3h0M510.3 270.4h0M561.4 240.6h0M499.9 233.6h0M495.5 314.1h0M540.2 310.3h0M510.6 153.2h0M539.6 312.6h0M478.0 274.3h0M459.7 288.1h0M470.7 189.4h0M505.6 288.5h0M496.4 184.3h0M523.2 217.1h0M443.8 265.2h0M495.6 287.9h0M442.7 199.4h0M534.3 237.0h0M485.5 213.0h0M534.6 256.7h0M470.0 219.4h0M534.2 213.3h0M484.0 169.1h0M542.2 191.3h0M463.6 260.6h0M514.0 298.2h0M489.4 143.5h0M511.7 293.2h0M526.7 208.2h0M534.9 185.4h0M454.8 221.3h0M547.4 282.2h0M486.0 232.4h0M455.8 304.3h0M541.3 297.4h0M496.6 229.1h0M574.2 258.8h0M494.8 277.7h0M479.1 236.4h0M548.9 208.5h0M503.5 188.2h0M562.8 250.5h0M573.8 245.5h0M526.1 172.3h0M541.0 293.4h0M500.6 163.4h0M505.6 233.0h0M529.6 262.9h0M541.9 246.2h0M520.4 327.7h0M554.6 287.7h0M462.6 255.7h0M495.2 193.9h0M479.3 278.4h0M444.2 275.2h0M497.1 241.1h0M558.9 242.7h0M473.0 194.1h0M460.5 260.5h0M587.0 251.3h0M517.2 160.5h0M479.2 255.1h0M546.7 311.9h0M475.2 201.5h0M517.4 311.1h0M478.9 239.9h0M472.8 205.4h0M569.7 246.1h0M577.2 254.1h0M485.1 271.0h0M506.4 227.8h0M555.4 266.7h0M497.7 183.4h0M510.9 152.0h0M478.7 226.0h0M593.3 240.2h0M561.0 243.0h0M475.3 187.5h0M493.4 276.1h0M529.3 260.9h0M485.3 240.0h0M542.6 244.3h0M517.2 310.8h0M459.9 199.6h0M497.7 317.7h0M501.1 315.4h0M511.1 285.7h0M476.1 230.3h0M476.7 273.7h0M465.8 201.0h0M529.9 271.3h0M481.9 220.0h0M544.9 183.4h0M447.0 255.4h0M569.3 261.3h0M488.2 161.2h0M509.0 311.4h0M456.6 211.6h0M517.2 316.3h0M466.7 177.0h0M530.0 303.5h0M480.7 245.7h0M511.0 284.0h0M543.7 319.2h0M498.7 266.2h0M563.3 199.3h0M545.8 203.2h0M501.3 297.6h0M546.4 186.8h0M529.0 283.7h0M522.2 179.8h0M450.8 266.3h0M517.8 204.7h0M489.3 149.5h0M510.0 272.5h0M543.9 188.4h0M488.3 142.8h0M572.6 230.7h0M474.1 289.8h0M454.3 208.2h0M483.6 216.1h0M454.0 252.6h0M543.8 284.2h0M501.4 237.5h0M517.7 268.3h0M523.4 327.3h0M557.1 244.7h0M577.2 255.3h0M511.5 273.0h0M507.2 297.6h0M496.6 192.8h0M482.3 186.4h0M480.8 294.8h0M552.5 321.0h0M519.4 222.5h0M519.1 234.5h0M490.5 156.0h0M513.7 321.1h0M505.3 177.3h0M501.0 208.9h0M481.1 252.6h0M502.2 151.5h0M472.1 304.2h0M450.0 236.1h0M548.1 237.4h0M464.2 287.4h0M444.4 268.3h0M458.3 229.1h0M480.5 269.5h0M505.6 150.6h0M472.8 263.0h0M524.4 175.1h0M570.2 252.0h0M490.7 143.4h0M512.6 319.6h0M528.5 191.0h0M560.7 284.9h0M481.2 202.6h0M525.8 227.5h0M541.3 299.2h0M501.6 186.4h0M559.4 217.9h0M497.0 258.7h0M560.6 298.4h0M517.7 323.5h0M468.3 299.9h0M485.4 188.3h0M456.0 232.5h0M480.0 216.9h0M538.2 261.4h0M464.2 186.4h0M512.2 233.4h0M534.3 251.8h0M521.7 282.2h0M562.5 228.5h0M472.2 258.3h0M547.3 313.0h0M549.4 179.9h0M459.8 285.1h0M463.7 248.5h0M483.2 257.4h0M467.2 206.6h0M450.5 238.7h0M491.0 184.2h0M485.2 201.2h0M459.3 228.9h0M473.8 257.6h0M538.9 190.8h0M470.3 282.0h0M516.8 325.5h0M546.8 305.2h0M468.0 277.3h0M556.7 235.5h0M486.2 249.4h0M454.8 205.2h0M502.9 168.0h0M480.3 228.1h0M493.2 148.6h0M445.1 255.5h0M460.9 227.3h0M506.1 284.9h0M482.1 211.2h0M493.8 206.6h0M458.2 237.5h0M565.3 204.2h0M498.0 261.4h0M548.7 284.2h0M549.4 203.7h0M456.4 236.3h0M503.8 248.1h0M564.4 204.9h0M535.4 243.8h0M561.2 249.4h0M474.7 239.5h0M514.5 173.4h0M464.2 234.8h0M498.1 220.6h0M457.4 265.0h0M512.4 312.1h0M471.3 255.0h0M469.9 312.4h0M556.1 240.4h0M446.4 199.1h0M462.2 242.8h0M567.3 261.7h0M512.9 278.1h0M567.1 249.5h0M529.2 270.1h0M506.5 217.7h0M536.8 193.7h0M549.2 238.4h0M561.9 307.7h0M466.0 220.3h0M460.6 274.4h0M493.2 326.1h0M543.5 190.0h0M513.5 188.4h0M484.4 275.6h0M518.4 251.1h0M529.8 207.6h0M527.8 322.9h0M499.5 146.3h0M500.0 272.0h0M469.8 206.3h0M465.0 287.8h0M503.8 284.4h0M573.7 236.3h0M537.1 251.4h0M588.4 247.0h0M509.4 253.5h0M474.1 229.3h0M497.0 218.2h0M547.4 262.7h0M478.5 180.0h0M543.8 240.6h0M480.2 305.9h0M569.5 256.1h0M517.1 272.6h0M587.4 250.0h0M547.7 318.0h0M556.6 218.7h0M560.6 298.4h0M519.5 269.6h0M465.5 269.9h0M478.7 303.7h0M542.1 326.0h0M508.7 149.2h0M522.4 300.6h0M533.3 300.2h0M462.2 233.7h0M508.5 151.6h0M544.6 229.5h0M487.6 208.5h0M575.8 258.7h0M461.1 177.5h0M452.3 255.7h0M533.2 201.1h0M559.9 227.1h0M504.0 319.0h0M569.5 245.3h0M538.8 182.6h0M551.3 276.3h0M499.7 188.5h0M549.5 210.2h0M587.0 238.7h0M481.7 241.7h0M488.3 212.4h0M472.7 216.0h0M511.4 159.1h0M452.4 277.9h0M566.1 301.2h0M550.4 214.1h0M444.4 220.4h0M545.8 259.4h0M494.2 259.9h0M541.4 185.2h0M557.8 286.4h0M455.7 255.6h0M538.1 170.2h0M538.2 210.4h0M538.3 232.6h0M526.7 263.4h0M493.4 278.1h0M444.7 276.3h0M512.2 237.5h0M521.6 187.3h0M439.7 241.5h0M481.5 221.4h0M456.4 212.2h0M471.1 237.6h0M555.6 318.9h0M576.6 255.5h0M450.0 188.8h0M540.1 181.4h0M512.6 309.6h0M523.9 305.1h0M503.5 324.9h0M460.1 173.6h0M458.7 263.7h0M447.1 220.2h0M488.0 292.2h0M568.3 260.2h0M497.2 250.9h0M511.8 293.7h0M554.2 211.8h0M532.9 289.1h0M499.2 195.5h0M478.4 208.2h0M512.6 218.7h0M505.1 276.5h0M541.9 311.8h0M545.9 314.6h0M481.7 284.1h0M542.1 219.0h0M476.7 292.0h0M542.0 302.9h0M574.2 240.6h0M530.1 222.1h0M541.3 287.2h0M506.0 233.1h0M507.7 192.9h0M567.0 213.3h0M515.6 189.6h0M578.8 262.0h0M530.9 167.1h0M439.0 249.8h0M453.5 176.5h0M493.7 168.9h0M439.2 211.2h0M516.7 231.5h0M452.7 233.5h0M452.2 225.6h0M559.1 221.3h0M544.6 239.5h0M516.7 236.1h0M588.5 233.4h0M505.8 293.0h0M514.5 294.8h0M482.3 240.3h0M567.6 289.3h0M495.5 199.6h0M488.7 225.1h0M525.8 214.1h0M544.1 310.3h0M560.8 205.8h0M443.8 249.4h0M575.9 231.6h0M577.2 254.1h0M501.0 247.6h0M548.1 245.8h0M466.1 264.4h0M496.7 186.8h0M524.3 191.3h0M448.6 222.3h0M472.5 248.2h0M468.2 215.4h0M484.4 163.2h0M511.6 175.1h0M511.8 176.0h0M499.7 205.9h0M557.9 292.9h0M556.2 307.2h0M520.5 239.1h0M486.1 221.2h0M526.2 260.0h0M542.2 202.1h0M556.8 224.0h0M539.1 199.7h0M446.6 227.6h0M527.3 196.9h0M586.7 236.2h0M583.8 236.4h0M534.7 255.4h0M473.3 311.4h0M527.8 209.7h0M506.3 232.2h0M473.2 279.6h0M542.7 280.8h0M450.2 191.0h0M538.2 304.7h0M564.8 208.2h0M507.8 291.5h0M492.9 255.6h0M468.5 263.7h0M544.4 186.4h0M493.1 226.0h0M490.4 139.1h0M448.2 212.3h0M564.0 229.2h0M561.9 201.2h0M553.3 200.8h0M505.6 301.3h0M483.7 169.8h0M558.8 205.9h0M539.3 284.8h0M528.9 306.7h0M523.0 259.3h0M490.7 279.2h0M515.0 253.6h0M545.9 324.4h0M471.9 181.2h0M520.8 255.2h0M564.8 203.9h0M534.0 207.3h0M592.7 251.5h0M504.8 283.6h0M557.1 279.4h0M546.1 200.2h0M484.0 295.9h0M555.6 290.5h0M440.1 202.8h0M463.4 290.2h0M470.9 309.5h0M459.2 280.3h0M521.4 196.6h0M504.8 297.1h0M452.4 200.9h0M505.0 308.3h0M561.4 198.6h0M590.6 232.4h0M556.2 191.0h0M490.4 247.6h0M513.9 174.4h0M525.4 190.4h0M548.1 301.6h0M589.3 252.1h0M465.7 189.1h0M462.7 206.0h0M576.4 248.7h0M484.7 259.8h0M485.4 236.7h0M464.0 219.5h0M503.9 274.0h0M492.8 206.0h0M514.7 322.0h0M460.3 264.9h0M598.5 237.3h0M517.1 303.3h0M551.4 284.1h0M535.6 171.6h0M453.7 214.4h0M483.2 309.2h0M448.7 275.3h0M460.7 173.4h0M508.6 228.4h0M514.1 312.4h0M454.4 252.3h0M531.0 172.1h0M449.1 243.3h0M554.7 321.4h0M560.6 298.7h0M509.4 212.1h0M463.7 273.2h0M505.3 256.9h0M475.8 256.1h0M481.7 223.8h0M483.1 299.2h0M478.2 274.1h0M446.5 237.5h0M520.7 315.9h0M487.1 217.9h0M513.5 164.8h0M459.6 249.8h0M479.5 271.8h0M536.0 187.6h0M490.8 142.3h0M483.7 310.5h0M476.6 224.3h0M532.4 214.7h0M554.9 212.8h0M460.4 220.3h0M506.4 201.4h0M557.6 199.9h0M493.1 287.0h0M460.8 259.2h0M452.5 192.7h0M499.5 186.8h0M498.1 272.6h0M524.4 215.0h0M506.8 233.9h0M456.4 253.5h0M442.4 219.0h0M448.7 215.8h0M518.5 223.0h0M461.7 305.4h0M455.9 251.2h0M451.6 267.5h0M463.7 275.3h0M494.5 290.2h0M496.3 295.4h0M543.8 277.0h0M513.0 320.6h0M561.1 309.2h0M540.0 182.1h0M483.8 303.1h0M556.2 254.5h0M454.5 216.0h0M453.4 295.2h0M469.9 292.9h0M540.6 327.0h0M485.8 245.1h0M523.5 225.1h0M533.2 168.6h0M560.8 289.6h0M532.5 255.8h0M437.2 236.1h0M466.0 203.2h0M445.0 245.2h0M547.1 183.1h0M487.2 157.0h0M491.1 222.9h0M530.3 289.2h0M502.6 270.1h0M482.2 286.6h0M496.1 285.4h0M480.2 175.1h0M508.2 171.4h0M521.4 224.7h0M447.3 206.5h0M460.9 269.7h0M481.5 217.2h0M470.4 244.3h0M514.6 232.1h0M504.2 204.2h0M471.7 226.9h0M507.6 171.4h0M564.0 253.7h0M562.1 236.6h0M476.6 290.6h0M518.1 165.6h0M534.2 231.6h0M465.2 267.8h0M522.0 230.5h0M516.9 236.9h0M530.0 232.7h0M558.7 272.2h0M568.3 263.6h0M507.6 268.0h0M458.5 260.6h0M463.7 275.3h0M550.5 301.4h0M526.6 181.3h0M559.3 221.7h0M493.4 258.3h0M528.5 277.3h0M520.2 258.8h0M556.8 241.9h0M504.4 156.5h0M593.1 239.6h0M561.4 223.2h0M450.0 184.1h0M473.1 269.3h0M490.6 287.2h0M558.1 188.2h0M553.2 292.3h0M464.6 179.0h0M534.9 172.8h0M523.0 306.9h0M444.5 264.0h0M560.6 303.7h0M514.1 257.7h0M500.1 317.2h0M501.5 190.1h0M498.2 226.4h0M532.5 244.5h0M462.9 171.5h0M453.1 211.5h0M552.5 198.4h0M518.3 173.0h0M482.1 308.5h0M522.3 264.3h0M531.1 256.7h0M502.2 320.9h0M517.7 250.8h0M472.4 289.8h0M529.3 179.4h0M529.7 324.8h0M539.0 203.8h0M521.3 217.8h0M520.6 231.6h0M559.4 215.9h0M453.2 223.3h0M517.6 293.8h0M510.5 171.5h0M550.9 194.8h0M470.3 281.2h0M540.3 295.5h0M439.0 209.6h0M505.9 305.1h0M467.8 235.6h0M521.6 259.7h0M503.3 273.6h0M503.4 267.1h0M499.2 150.2h0M526.7 315.7h0M580.6 243.5h0M445.1 256.2h0M528.5 301.1h0M555.9 267.0h0M538.3 228.5h0M591.4 238.2h0M525.9 185.9h0M513.8 280.6h0M486.5 287.3h0M512.7 184.0h0M464.1 174.9h0M484.3 156.7h0M444.1 251.2h0M498.0 325.7h0M475.4 245.4h0M509.0 263.6h0M483.5 226.4h0M513.2 227.5h0M525.2 266.3h0M463.3 292.1h0M458.4 226.4h0M507.9 160.0h0M570.3 230.7h0M512.1 240.6h0M556.9 277.5h0M443.5 210.0h0M586.7 234.6h0M552.7 266.7h0M496.0 175.7h0M520.0 292.4h0M562.1 241.3h0M592.2 246.1h0M542.7 206.9h0M490.9 231.0h0M516.2 206.4h0M532.1 249.3h0M558.4 269.7h0M488.3 195.8h0M508.4 165.8h0M495.4 265.7h0M527.0 286.8h0M525.5 207.6h0M479.0 235.0h0M535.1 253.4h0M450.8 224.0h0M550.6 203.2h0M576.8 236.8h0M581.0 246.8h0M461.3 243.6h0M456.7 189.1h0M467.1 309.9h0M464.5 193.2h0M523.1 175.7h0M478.5 179.8h0M481.9 213.8h0M465.2 284.5h0M512.7 245.2h0M508.7 272.6h0M501.0 228.1h0M453.6 214.1h0M513.4 315.8h0M472.8 221.9h0M461.9 209.5h0M492.5 196.4h0M525.6 202.0h0M528.5 253.8h0M535.9 327.7h0M481.6 198.4h0M459.9 292.0h0M519.7 191.7h0M512.7 222.1h0M460.2 177.2h0M551.5 310.3h0M502.0 319.9h0M460.6 291.6h0M469.0 279.3h0M460.1 272.8h0M474.5 233.5h0M514.9 270.4h0M522.4 173.4h0M562.8 275.6h0M497.0 315.6h0M498.9 298.8h0M545.5 294.4h0M502.8 295.0h0M493.9 262.2h0M489.3 171.7h0M498.4 159.8h0M504.0 257.5h0M468.5 293.9h0M488.0 266.1h0M448.6 206.0h0M464.9 251.1h0M521.6 233.1h0M455.5 216.7h0M523.2 192.1h0M534.4 264.7h0M561.4 260.5h0M495.1 267.9h0M514.4 274.2h0M491.0 293.5h0M464.2 284.6h0M560.5 254.4h0M506.3 318.4h0M497.9 139.5h0M447.7 266.3h0M461.6 231.7h0M484.8 284.5h0M492.2 268.5h0M559.5 268.9h0M518.6 176.9h0M505.5 286.7h0M480.5 239.9h0M550.3 255.5h0M560.0 252.9h0M471.9 199.4h0M468.0 189.2h0M485.5 217.4h0M474.0 179.9h0M467.0 289.8h0M467.8 270.2h0M461.9 307.0h0M466.3 283.3h0M545.3 197.1h0M480.6 219.8h0M471.4 312.4h0M537.1 249.0h0M497.3 176.5h0M521.3 204.0h0M481.0 211.0h0M484.3 164.5h0M547.0 228.8h0M478.2 255.5h0M460.1 224.0h0M477.6 207.5h0M497.6 298.7h0M557.5 298.3h0M500.9 254.1h0M473.8 180.2h0M509.2 202.0h0M504.4 285.6h0M550.8 291.7h0M555.5 252.3h0M532.7 192.0h0M493.6 157.8h0M517.0 316.5h0M558.7 298.0h0M498.3 143.6h0M463.7 269.9h0M529.4 266.3h0M475.5 271.1h0M530.2 228.9h0M553.7 260.2h0M479.5 224.7h0M471.1 193.1h0M473.9 197.7h0M498.1 228.1h0M539.0 303.6h0M448.0 270.8h0M470.3 205.3h0M486.3 288.2h0M559.6 191.0h0M473.6 285.3h0M504.3 265.8h0M523.2 163.4h0M489.7 229.4h0M513.7 243.5h0M557.8 225.3h0M516.3 255.2h0M538.1 177.8h0M451.7 295.5h0M448.8 243.5h0M479.6 320.3h0M556.5 205.1h0M466.1 177.0h0M564.6 228.2h0M478.0 220.7h0M535.6 221.0h0M500.1 234.4h0M496.4 305.8h0M469.6 310.6h0M497.3 177.1h0M546.2 287.9h0M451.8 270.4h0M559.0 203.7h0M461.4 284.2h0M559.1 302.0h0M500.4 302.1h0M566.0 274.1h0M555.4 259.2h0M557.7 302.0h0M578.4 245.7h0M518.8 271.9h0M517.8 282.4h0M529.5 239.3h0M454.2 268.5h0M442.4 212.7h0M488.7 305.3h0M472.5 238.4h0M523.9 296.7h0M485.8 263.9h0M488.2 291.5h0M545.8 280.1h0M457.7 232.4h0M502.7 300.3h0M549.4 237.1h0M554.9 275.3h0M555.2 221.4h0M529.8 325.5h0M541.2 260.3h0M550.0 230.8h0M540.9 186.4h0M467.2 250.0h0M567.4 239.0h0M573.3 241.1h0M483.5 182.9h0M512.7 278.1h0M539.2 216.5h0M505.3 178.0h0M546.3 227.3h0M467.0 231.2h0M569.7 277.0h0M498.4 221.5h0M522.4 229.2h0M511.1 207.0h0M476.7 201.5h0M547.9 269.6h0M475.3 240.2h0M489.5 268.0h0M510.4 173.9h0M486.0 250.9h0M475.9 200.4h0M551.0 265.3h0M570.6 270.4h0M558.5 256.7h0M556.5 302.3h0M555.2 252.5h0M537.7 274.5h0M531.0 187.0h0M530.8 195.9h0M555.5 285.4h0M567.3 254.4h0M463.9 178.7h0M535.0 233.7h0M452.5 263.5h0M540.9 272.0h0M490.1 288.1h0M538.6 191.5h0M507.0 284.5h0M452.7 254.1h0M543.7 204.5h0M545.4 270.6h0M542.5 247.6h0M515.0 251.6h0M525.0 203.7h0M445.9 224.3h0M441.4 254.5h0M518.7 225.6h0M543.7 302.6h0M524.4 245.1h0M515.2 206.4h0M449.8 226.2h0M539.6 278.3h0M552.7 225.2h0M533.4 269.3h0M506.1 202.7h0M446.4 232.7h0M465.5 192.7h0M518.4 217.0h0M505.8 182.7h0M540.9 184.6h0M464.0 302.4h0M565.9 285.5h0M490.8 302.3h0M439.7 236.5h0M513.9 252.1h0M556.0 236.3h0M494.8 319.8h0M487.2 176.7h0M572.7 259.3h0M504.2 198.3h0M511.3 313.1h0M572.8 270.6h0M450.0 293.3h0M543.5 320.3h0M523.1 294.6h0M504.7 313.9h0M547.6 192.5h0M468.4 280.6h0M497.7 220.5h0M540.4 245.6h0M514.1 216.5h0M488.2 249.1h0M506.0 213.2h0M485.0 245.1h0M479.2 244.8h0M507.9 196.6h0M500.4 267.7h0M518.3 194.6h0M435.9 235.1h0M534.7 172.0h0M517.1 237.9h0M524.8 324.9h0M556.4 277.6h0M528.1 245.0h0M562.3 294.7h0M463.5 283.1h0M542.3 194.4h0M550.7 196.6h0M507.0 275.5h0M517.4 210.6h0M469.1 197.8h0M494.7 174.0h0M558.4 273.5h0M469.2 306.3h0M529.7 319.3h0M525.5 176.9h0M458.8 292.6h0M508.7 213.1h0M525.5 181.8h0M525.8 235.1h0M494.4 210.1h0M484.3 201.6h0M457.7 188.5h0M537.8 230.8h0M474.8 212.4h0M442.5 234.8h0M443.2 243.0h0M506.2 153.9h0M505.2 190.0h0M467.0 262.7h0M490.0 190.1h0M447.1 256.8h0M529.5 165.7h0M461.3 174.1h0M489.8 210.0h0M551.6 202.5h0M520.7 190.1h0M530.0 166.4h0M519.7 297.9h0M496.0 197.2h0M473.6 279.8h0M517.3 284.9h0M596.4 242.9h0M537.2 227.9h0M560.7 306.0h0M536.9 286.3h0M465.4 182.5h0M511.4 285.1h0M558.2 287.1h0M446.2 244.3h0M536.1 300.2h0M543.7 319.1h0M469.9 265.1h0M460.3 209.7h0M520.6 167.5h0M465.8 205.6h0M497.0 307.8h0M478.0 264.3h0M484.3 163.7h0M493.3 213.8h0M478.3 295.9h0M489.4 142.5h0M562.6 217.0h0M465.5 293.1h0M437.6 230.5h0M464.8 301.7h0M568.0 274.5h0M521.0 197.3h0M493.8 205.4h0M481.3 309.1h0M553.5 205.0h0M456.8 232.8h0M518.1 163.4h0M438.0 221.5h0M447.8 218.7h0M504.2 252.7h0M444.3 220.8h0M543.1 230.8h0M489.4 305.9h0M443.9 195.3h0M487.9 308.9h0M568.5 250.2h0M499.1 140.4h0M564.4 224.8h0M475.5 262.3h0M452.4 192.1h0M562.5 227.9h0M458.6 300.4h0M489.3 326.3h0M508.2 167.6h0M503.6 159.3h0M466.8 203.0h0M567.8 260.3h0M522.8 235.4h0M453.8 244.1h0M509.7 299.8h0M530.5 165.0h0M536.6 301.7h0M597.6 239.2h0M465.6 263.3h0M541.3 304.7h0M477.0 252.0h0M532.7 296.6h0M507.9 184.0h0M509.6 218.9h0M560.8 253.3h0M499.7 183.4h0M510.3 155.8h0M522.6 277.8h0M496.5 164.7h0M516.3 253.5h0M547.5 250.0h0M563.1 267.4h0M532.8 232.3h0M486.0 216.3h0M516.8 290.7h0M462.8 266.7h0M502.7 284.1h0M577.8 232.6h0M518.4 286.6h0M467.2 235.5h0M517.3 244.3h0M543.0 216.1h0M456.8 204.4h0M469.9 308.9h0M453.2 282.6h0M525.8 253.3h0M464.6 298.5h0M477.4 240.3h0M456.7 264.3h0M498.6 218.0h0M513.3 230.7h0M550.1 271.3h0M489.9 270.9h0M520.7 305.4h0M544.6 303.1h0M498.9 175.6h0M488.6 275.9h0M484.4 282.5h0M594.9 234.4h0M502.9 189.8h0M546.4 183.6h0M547.6 218.2h0M520.9 207.9h0M468.5 303.8h0M549.9 318.9h0M528.8 267.0h0M535.7 311.5h0M473.1 203.8h0M448.5 244.8h0M510.8 183.2h0M478.9 245.1h0M486.8 197.4h0M452.8 293.9h0M567.6 253.0h0M438.3 211.1h0M542.4 197.7h0M474.4 232.7h0M495.7 317.0h0M544.0 259.2h0M530.5 259.4h0M513.7 244.8h0M514.4 204.3h0M540.7 321.0h0M523.7 297.3h0M538.3 240.4h0M505.2 145.6h0M496.5 182.9h0M481.4 204.9h0M547.7 216.5h0M446.6 223.7h0M519.7 170.3h0M471.1 197.4h0M507.4 161.2h0M468.9 297.9h0M543.5 297.2h0M501.6 203.2h0M463.8 229.7h0M500.1 170.6h0M505.7 256.2h0M500.2 167.4h0M474.8 201.3h0M527.4 223.7h0M484.3 248.4h0M474.1 310.0h0M489.5 250.5h0M505.6 209.2h0M580.5 241.6h0M471.2 224.3h0M562.3 311.5h0M550.2 268.1h0M481.0 315.1h0M483.1 228.4h0M453.4 208.4h0M546.1 183.3h0M501.3 255.9h0M473.2 262.9h0M507.9 221.8h0M536.5 217.7h0M516.9 259.6h0M467.6 275.6h0M498.3 203.6h0M507.1 198.9h0M490.2 249.1h0M538.9 228.5h0M561.8 214.9h0M541.9 313.4h0M456.6 256.2h0M497.2 158.6h0M562.4 273.2h0M543.5 265.1h0M468.5 250.9h0M451.1 282.5h0M481.1 298.1h0M450.7 243.4h0M440.0 232.2h0M444.9 239.6h0M484.0 240.3h0M522.5 267.7h0M545.2 210.0h0M473.5 305.7h0M512.4 277.6h0M513.2 241.1h0M463.9 206.1h0M479.1 196.6h0M550.2 231.1h0M528.2 217.4h0M438.8 236.9h0M514.5 166.1h0M541.3 177.7h0M466.0 207.4h0M568.5 279.8h0M465.3 245.8h0M498.4 227.3h0M568.8 257.3h0M518.9 285.5h0M561.6 220.0h0M461.9 263.2h0M499.0 210.0h0M569.6 229.8h0M518.6 316.4h0M500.3 277.7h0M558.8 294.6h0M476.9 240.0h0M530.1 255.6h0M489.4 141.0h0M473.4 208.8h0M441.2 225.5h0M469.5 276.8h0M489.1 211.2h0M463.0 224.9h0M516.7 245.4h0M479.0 248.4h0M526.3 287.1h0M460.0 227.3h0M507.1 310.9h0M553.2 244.1h0M545.2 312.0h0M466.6 251.5h0M478.4 218.6h0M509.5 262.9h0M493.8 233.2h0M554.9 187.0h0M529.4 301.7h0M487.9 238.4h0M495.0 159.7h0M536.5 244.3h0M514.0 197.0h0M521.9 326.3h0M548.9 291.7h0M444.0 206.9h0M521.4 319.6h0M458.7 288.8h0M513.2 327.3h0M480.5 289.8h0M452.3 223.3h0M471.7 244.5h0M536.5 175.5h0M462.2 206.6h0M560.7 302.0h0M465.0 280.6h0M540.8 191.3h0M543.7 186.7h0M468.7 291.3h0M553.1 232.0h0M516.0 180.0h0M505.2 147.1h0M476.5 304.5h0M465.2 206.1h0M565.6 228.6h0M571.3 276.9h0M555.3 239.9h0M527.6 210.8h0M461.8 205.3h0M552.8 293.4h0M525.7 200.1h0M542.6 234.1h0M501.3 272.8h0M550.4 297.9h0M487.4 232.2h0M451.4 241.1h0M479.2 228.4h0M497.1 150.2h0M486.9 277.6h0M458.2 210.7h0M511.6 237.5h0M453.1 228.2h0M502.5 322.9h0M510.5 280.5h0M558.5 261.8h0M542.4 172.5h0M511.6 151.5h0M512.5 167.9h0M509.1 171.1h0M466.0 211.7h0M571.9 246.9h0M493.1 326.5h0M508.1 239.4h0M517.4 163.6h0M452.8 230.4h0M486.3 284.0h0M535.2 220.7h0M563.6 204.1h0M540.3 238.5h0M505.6 187.3h0M520.1 193.1h0M567.3 246.5h0M471.2 301.8h0M492.6 242.2h0M559.4 275.2h0M563.8 231.0h0M456.3 274.0h0M443.0 252.9h0M510.3 228.3h0M531.0 274.7h0M517.6 219.8h0M538.9 195.3h0M485.4 163.2h0M560.6 263.7h0M548.7 325.1h0M458.0 244.3h0M506.4 241.7h0M445.3 197.7h0M488.0 142.6h0M469.7 223.1h0M518.7 327.6h0M513.9 195.3h0M498.9 138.7h0M483.4 181.6h0M562.0 252.5h0M489.2 189.2h0M533.4 239.0h0M446.6 200.0h0M500.0 312.6h0M499.3 150.4h0M517.9 157.7h0M518.3 319.2h0M461.7 234.9h0M454.5 191.4h0M536.7 270.7h0M493.0 269.0h0M492.9 204.3h0M560.4 266.8h0M556.4 233.6h0M473.4 183.1h0M553.6 205.1h0M487.6 201.1h0M542.3 251.8h0M593.3 233.3h0M533.9 168.4h0M454.4 254.2h0M484.0 223.3h0M514.1 292.9h0M501.8 228.5h0M483.2 244.2h0M539.2 257.6h0M554.3 209.8h0M561.8 285.9h0M480.3 175.6h0M459.0 281.7h0M448.7 187.1h0M562.3 211.2h0M452.7 257.5h0M479.3 299.8h0M564.8 205.3h0M507.0 176.3h0M510.2 327.6h0M486.6 259.0h0M565.6 295.9h0M514.0 292.7h0M487.9 299.8h0M485.4 296.4h0M472.9 259.6h0M546.8 289.1h0M484.1 213.5h0M518.9 296.2h0M538.4 301.5h0M496.2 219.5h0M504.6 176.0h0M553.5 272.1h0M583.5 236.7h0M511.5 239.4h0M529.3 213.7h0M468.3 284.5h0M469.0 253.9h0M474.8 306.8h0M493.2 222.0h0M504.2 189.8h0M555.5 217.1h0M494.0 169.2h0M441.8 220.2h0M462.3 182.8h0M557.7 228.0h0M464.9 226.1h0M453.5 199.4h0M507.0 209.8h0M471.8 224.2h0M459.6 247.8h0M453.8 300.2h0M474.1 240.3h0M442.2 247.6h0M553.5 287.3h0M452.7 256.2h0M545.7 305.9h0M558.1 230.4h0M546.0 313.8h0M484.1 226.9h0M578.3 240.9h0M453.1 272.2h0M470.3 288.7h0M542.9 210.7h0M509.6 320.6h0M494.5 181.6h0" stroke="#a3a63a" stroke-width="5" stroke-linecap="round"/>
<path d="M496.2 146.4h0M594.9 236.1h0M531.5 167.1h0M524.9 187.8h0M585.0 256.6h0M518.9 236.4h0M574.0 255.6h0M500.8 298.7h0M569.4 243.9h0M585.5 231.1h0M524.1 166.5h0M573.7 231.8h0M463.5 279.4h0M568.3 269.1h0M511.5 162.7h0M552.1 214.4h0M501.4 217.6h0M485.0 240.0h0M582.8 233.8h0M495.1 156.7h0M523.2 185.4h0M519.3 159.6h0M486.3 172.6h0M488.3 193.3h0M500.3 145.2h0M568.4 271.8h0M486.1 203.4h0M520.1 257.2h0M511.5 176.6h0M538.1 307.9h0M481.7 213.1h0M561.9 263.9h0M475.3 223.8h0M493.7 184.8h0M560.3 306.8h0M594.1 242.9h0M506.7 217.7h0M559.3 231.7h0M475.7 247.0h0M556.1 285.4h0M534.1 217.0h0M533.5 170.7h0M582.9 242.4h0M548.8 235.6h0M554.3 281.9h0M553.0 322.8h0M477.0 250.5h0M574.1 240.2h0M503.7 193.6h0M568.9 260.3h0M443.2 208.8h0M532.6 168.8h0M502.0 242.3h0M522.9 219.3h0M550.6 190.8h0M501.5 168.0h0M571.5 232.0h0M568.1 234.7h0M503.7 253.7h0M563.4 268.9h0M477.3 189.6h0M499.4 156.5h0M537.2 170.7h0M488.9 302.2h0M510.4 167.9h0M510.7 239.2h0M562.5 230.5h0M570.4 243.5h0M590.1 242.6h0M494.5 157.3h0M576.4 241.8h0M437.9 231.2h0M586.0 241.9h0M555.7 229.3h0M573.6 258.9h0M586.6 252.5h0M567.1 291.4h0M544.7 220.0h0M559.3 205.8h0M495.8 177.0h0M502.2 139.6h0M503.6 254.3h0M571.9 262.3h0M519.5 222.1h0M562.6 205.3h0M522.7 183.7h0M514.8 188.7h0M557.9 276.9h0M515.3 206.1h0M497.2 214.3h0M517.9 226.0h0M505.1 142.8h0M577.7 236.3h0M538.0 174.3h0M552.9 261.8h0M512.4 153.2h0M503.8 161.3h0M555.2 280.1h0M500.3 219.6h0M564.8 208.3h0M549.7 205.0h0M543.7 255.0h0M499.7 146.2h0M554.0 233.5h0M581.5 256.5h0M574.0 256.7h0M537.4 247.5h0M536.6 291.0h0M555.9 205.7h0M499.1 196.7h0M500.4 150.7h0M498.5 172.9h0M484.7 275.5h0M532.2 280.9h0M543.3 209.6h0M520.0 169.6h0M544.2 303.3h0M515.7 170.3h0M568.8 242.0h0M579.7 253.0h0M557.8 265.5h0M521.8 180.3h0M584.3 235.9h0M525.1 176.8h0M562.0 250.3h0M497.3 151.5h0M566.7 213.4h0M446.8 205.9h0M488.8 249.9h0M539.0 263.1h0M507.9 182.4h0M570.8 270.6h0M477.5 263.6h0M564.4 276.2h0M515.9 174.0h0M567.2 282.7h0M476.2 248.7h0M583.9 243.1h0M554.0 214.7h0M553.6 228.3h0M565.1 206.8h0M538.9 210.1h0M494.5 199.8h0M560.8 295.5h0M513.4 161.2h0M567.4 284.4h0M501.2 169.1h0M565.1 296.6h0M576.8 256.0h0M564.4 205.9h0M550.7 181.2h0M534.3 169.0h0M480.9 186.1h0M498.1 161.5h0M512.8 169.9h0M525.8 203.0h0M541.2 258.9h0M591.1 244.1h0M564.3 247.1h0M555.4 316.1h0M576.6 237.3h0M553.4 220.5h0M537.3 181.7h0M556.6 253.9h0M504.7 239.3h0M548.8 242.1h0M507.9 292.7h0M525.9 219.2h0M512.1 173.5h0M570.3 275.3h0M534.6 173.9h0M566.2 253.5h0M518.5 177.4h0M555.6 224.8h0M499.9 233.6h0M523.2 217.1h0M442.7 199.4h0M534.2 213.3h0M455.8 304.3h0M494.8 277.7h0M479.1 236.4h0M577.2 254.1h0M506.4 227.8h0M593.3 240.2h0M475.3 187.5h0M544.9 183.4h0M569.3 261.3h0M501.4 237.5h0M501.0 208.9h0M502.2 151.5h0M524.4 175.1h0M570.2 252.0h0M501.6 186.4h0M559.4 217.9h0M485.4 188.3h0M480.0 216.9h0M556.7 235.5h0M567.3 261.7h0M543.5 190.0h0M529.8 207.6h0M499.5 146.3h0M573.7 236.3h0M537.1 251.4h0M588.4 247.0h0M556.6 218.7h0M560.6 298.4h0M478.7 303.7h0M550.4 214.1h0M557.8 286.4h0M538.1 170.2h0M576.6 255.5h0M460.1 173.6h0M568.3 260.2h0M567.0 213.3h0M588.5 233.4h0M482.3 240.3h0M567.6 289.3h0M560.8 205.8h0M575.9 231.6h0M466.1 264.4h0M511.8 176.0h0M499.7 205.9h0M556.2 307.2h0M556.8 224.0h0M586.7 236.2h0M583.8 236.4h0M561.9 201.2h0M553.3 200.8h0M564.8 203.9h0M592.7 251.5h0M557.1 279.4h0M556.2 191.0h0M513.9 174.4h0M598.5 237.3h0M535.6 171.6h0M508.6 228.4h0M531.0 172.1h0M560.6 298.7h0M509.4 212.1h0M494.5 290.2h0M561.1 309.2h0M437.2 236.1h0M480.2 175.1h0M508.2 171.4h0M470.4 244.3h0M507.6 171.4h0M562.1 236.6h0M534.2 231.6h0M522.0 230.5h0M568.3 263.6h0M553.2 292.3h0M498.2 226.4h0M518.3 173.0h0M522.3 264.3h0M559.4 215.9h0M483.5 226.4h0M496.0 175.7h0M592.2 246.1h0M527.0 286.8h0M550.6 203.2h0M576.8 236.8h0M528.5 253.8h0M562.8 275.6h0M561.4 260.5h0M491.0 293.5h0M518.6 176.9h0M555.5 252.3h0M553.7 260.2h0M470.3 205.3h0M559.6 191.0h0M489.7 229.4h0M564.6 228.2h0M559.0 203.7h0M566.0 274.1h0M539.2 216.5h0M546.3 227.3h0M486.0 250.9h0M555.2 252.5h0M537.7 274.5h0M555.5 285.4h0M567.3 254.4h0M543.7 302.6h0M565.9 285.5h0M556.0 236.3h0M487.2 176.7h0M540.4 245.6h0M488.2 249.1h0M534.7 172.0h0M517.1 237.9h0M562.3 294.7h0M506.2 153.9h0M505.2 190.0h0M490.0 190.1h0M520.7 190.1h0M530.0 166.4h0M558.2 287.1h0M562.6 217.0h0M521.0 197.3h0M553.5 205.0h0M564.4 224.8h0M562.5 227.9h0M508.2 167.6h0M567.8 260.3h0M530.5 165.0h0M496.5 164.7h0M577.8 232.6h0M477.4 240.3h0M594.9 234.4h0M535.7 311.5h0M478.9 245.1h0M567.6 253.0h0M481.4 204.9h0M519.7 170.3h0M543.5 297.2h0M580.5 241.6h0M562.3 311.5h0M536.5 217.7h0M497.2 158.6h0M444.9 239.6h0M484.0 240.3h0M479.1 196.6h0M514.5 166.1h0M541.3 177.7h0M568.5 279.8h0M465.3 245.8h0M553.2 244.1h0M471.7 244.5h0M560.7 302.0h0M565.6 228.6h0M527.6 210.8h0M497.1 150.2h0M509.1 171.1h0M571.9 246.9h0M520.1 193.1h0M567.3 246.5h0M498.9 138.7h0M499.3 150.4h0M517.9 157.7h0M560.4 266.8h0M553.6 205.1h0M593.3 233.3h0M533.9 168.4h0M452.7 257.5h0M564.8 205.3h0M565.6 295.9h0M496.2 219.5h0M553.5 272.1h0M504.2 189.8h0M578.3 240.9h0M494.5 181.6h0" stroke="#3cba6c" stroke-width="5" stroke-linecap="round"/>
<path d="M594.9 236.1h0M591.7 244.3h0M585.0 256.6h0M574.0 255.6h0M569.4 243.9h0M585.5 231.1h0M577.8 260.8h0M573.7 231.8h0M590.8 232.8h0M582.8 233.8h0M594.1 242.9h0M582.2 230.6h0M598.2 235.4h0M575.6 249.8h0M584.5 246.4h0M571.3 232.2h0M582.9 242.4h0M574.1 240.2h0M575.7 245.4h0M568.9 260.3h0M577.3 251.0h0M571.5 232.0h0M568.1 234.7h0M574.4 243.5h0M576.1 243.0h0M590.0 236.3h0M586.9 234.6h0M570.4 243.5h0M590.1 242.6h0M576.4 241.8h0M586.0 241.9h0M583.8 238.4h0M573.6 258.9h0M586.6 252.5h0M567.1 247.5h0M573.2 232.4h0M593.7 250.9h0M594.8 249.0h0M584.5 241.1h0M588.4 237.2h0M577.7 236.3h0M581.5 256.5h0M574.0 256.7h0M574.3 236.8h0M599.9 239.7h0M568.8 242.0h0M579.7 253.0h0M584.3 235.9h0M590.1 242.8h0M596.7 239.6h0M596.0 241.2h0M579.0 233.0h0M583.9 243.1h0M593.2 248.5h0M592.3 246.8h0M570.9 238.1h0M576.8 256.0h0M568.4 231.9h0M581.5 232.4h0M582.2 234.4h0M591.1 244.1h0M576.6 237.3h0M575.3 235.6h0M574.2 255.4h0M574.2 258.8h0M573.8 245.5h0M587.0 251.3h0M569.7 246.1h0M577.2 254.1h0M593.3 240.2h0M569.3 261.3h0M572.6 230.7h0M577.2 255.3h0M570.2 252.0h0M567.3 261.7h0M567.1 249.5h0M573.7 236.3h0M588.4 247.0h0M569.5 256.1h0M587.4 250.0h0M575.8 258.7h0M569.5 245.3h0M587.0 238.7h0M576.6 255.5h0M568.3 260.2h0M574.2 240.6h0M588.5 233.4h0M575.9 231.6h0M577.2 254.1h0M586.7 236.2h0M583.8 236.4h0M592.7 251.5h0M590.6 232.4h0M589.3 252.1h0M576.4 248.7h0M598.5 237.3h0M593.1 239.6h0M580.6 243.5h0M591.4 238.2h0M570.3 230.7h0M586.7 234.6h0M592.2 246.1h0M576.8 236.8h0M581.0 246.8h0M578.4 245.7h0M567.4 239.0h0M573.3 241.1h0M567.3 254.4h0M572.7 259.3h0M596.4 242.9h0M568.5 250.2h0M567.8 260.3h0M597.6 239.2h0M577.8 232.6h0M594.9 234.4h0M567.6 253.0h0M580.5 241.6h0M568.8 257.3h0M569.6 229.8h0M571.9 246.9h0M567.3 246.5h0M593.3 233.3h0M583.5 236.7h0M578.3 240.9h0" stroke="#3bbd8a" stroke-width="5" stroke-linecap="round"/>
<path d="M437.4 140.4h0M481.8 154.5h0M477.8 157.1h0M452.2 162.2h0M467.1 139.3h0M477.8 156.2h0M467.7 169.9h0M476.7 154.2h0M462.3 156.9h0M478.8 141.7h0M477.1 155.1h0M481.7 139.4h0M466.2 138.6h0M476.9 165.9h0M457.6 170.0h0M463.0 159.9h0M446.9 149.7h0M477.8 139.0h0M479.4 163.5h0M484.0 157.1h0M454.9 139.2h0M437.0 144.1h0M460.7 164.4h0M440.5 155.2h0M451.5 152.8h0M485.7 148.9h0M455.5 165.7h0M444.9 142.1h0M448.8 146.2h0M448.4 155.1h0M441.8 147.4h0M459.7 169.1h0M476.4 142.5h0M460.8 137.2h0M463.8 160.3h0M481.5 140.4h0M478.6 147.8h0M455.0 152.0h0M453.6 137.3h0M434.2 143.9h0M464.7 161.8h0M461.1 145.9h0M481.2 162.7h0M434.1 145.3h0M465.1 138.4h0M473.6 152.6h0M452.9 137.2h0M470.0 153.5h0M464.2 163.0h0M451.8 165.6h0M455.2 143.4h0M468.2 151.7h0M461.0 146.9h0M478.0 145.4h0M461.9 146.3h0M484.1 154.0h0M478.8 150.8h0M456.8 156.3h0M469.2 165.8h0M466.9 152.7h0M445.2 143.1h0M459.2 158.0h0M460.0 166.3h0M467.2 158.2h0M475.4 148.3h0M463.5 164.3h0M460.3 165.8h0M462.8 150.5h0M439.4 148.7h0M472.2 166.3h0M467.0 138.9h0M449.5 152.2h0M465.3 146.7h0M454.7 145.2h0M440.8 143.5h0M458.9 139.6h0M462.5 155.0h0M461.2 141.8h0M447.9 153.3h0M476.0 140.4h0M476.4 140.3h0M469.6 167.3h0M440.2 154.8h0M460.5 168.3h0M476.4 166.0h0M466.9 168.5h0M452.5 166.8h0M478.3 148.9h0M446.9 149.7h0" stroke="#a3a63a" stroke-width="5" stroke-linecap="round"/>
<path d="M443.0 160.2h0M473.1 152.1h0M447.0 160.7h0M461.5 151.4h0M450.8 157.7h0M456.5 156.4h0M431.1 137.5h0M487.1 140.5h0M468.9 139.1h0M485.0 142.8h0M460.6 159.2h0M472.6 143.7h0M439.8 147.3h0M471.1 170.2h0M438.5 153.0h0M474.3 147.4h0M451.5 143.8h0M460.3 148.6h0M479.0 160.3h0M474.6 160.0h0M484.5 139.7h0M464.2 158.5h0M486.2 146.1h0M452.2 165.3h0M442.5 137.4h0M467.9 145.8h0M450.8 162.6h0M457.8 159.4h0M456.3 138.2h0M465.8 160.7h0M446.0 164.2h0M467.4 161.7h0M455.0 145.6h0M460.3 151.3h0M452.9 148.3h0M463.1 157.8h0M437.9 156.3h0M453.0 165.0h0M435.8 153.9h0M486.5 136.4h0M463.9 136.2h0M471.5 151.5h0M475.6 168.2h0M448.2 136.7h0M459.0 150.8h0M470.4 168.1h0M480.9 139.0h0M481.6 160.9h0" stroke="#3cba6c" stroke-width="5" stroke-linecap="round"/>
<line x1="100.0" y1="37.0" x2="100.0" y2="344.0" stroke="#000" stroke-width="2.2"/>
<line x1="98.9" y1="343.0" x2="623.5" y2="343.0" stroke="#000" stroke-width="2.2"/>
<line x1="92.5" y1="48.3" x2="100.0" y2="48.3" stroke="#333" stroke-width="2.4"/>
<text x="82.3" y="58.7" font-size="30" text-anchor="end">6</text>
<line x1="92.5" y1="117.8" x2="100.0" y2="117.8" stroke="#333" stroke-width="2.4"/>
<text x="82.3" y="128.2" font-size="30" text-anchor="end">3</text>
<line x1="92.5" y1="187.2" x2="100.0" y2="187.2" stroke="#333" stroke-width="2.4"/>
<text x="82.3" y="197.6" font-size="30" text-anchor="end">0</text>
<line x1="92.5" y1="256.7" x2="100.0" y2="256.7" stroke="#333" stroke-width="2.4"/>
<text x="82.3" y="267.1" font-size="30" text-anchor="end">−3</text>
<line x1="92.5" y1="326.1" x2="100.0" y2="326.1" stroke="#333" stroke-width="2.4"/>
<text x="82.3" y="336.5" font-size="30" text-anchor="end">−6</text>
<line x1="174.0" y1="343.0" x2="174.0" y2="350.5" stroke="#333" stroke-width="2.4"/>
<text x="174.0" y="382.2" font-size="30" text-anchor="middle">−10</text>
<line x1="293.5" y1="343.0" x2="293.5" y2="350.5" stroke="#333" stroke-width="2.4"/>
<text x="293.5" y="382.2" font-size="30" text-anchor="middle">−5</text>
<line x1="413.0" y1="343.0" x2="413.0" y2="350.5" stroke="#333" stroke-width="2.4"/>
<text x="413.0" y="382.2" font-size="30" text-anchor="middle">0</text>
<line x1="532.5" y1="343.0" x2="532.5" y2="350.5" stroke="#333" stroke-width="2.4"/>
<text x="532.5" y="382.2" font-size="30" text-anchor="middle">5</text>
<text x="362.0" y="424.0" font-size="29.2" text-anchor="middle">UMAP_1</text>
<text transform="translate(24.3,168.2) rotate(-90)" font-size="29.2" text-anchor="middle">UMAP_2</text>
<rect x="115.3" y="125.4" width="63.2" height="32.7" rx="4" fill="#fff" stroke="#000" stroke-width="1.5"/>
<text x="146.9" y="149.2" font-size="20.6" text-anchor="middle">OPC</text>
<rect x="380.6" y="100.4" width="62.9" height="32.7" rx="4" fill="#fff" stroke="#000" stroke-width="1.5"/>
<text x="412.1" y="124.2" font-size="20.6" text-anchor="middle">COP</text>
<rect x="494.4" y="45.2" width="74.1" height="33.3" rx="4" fill="#fff" stroke="#000" stroke-width="1.5"/>
<text x="531.5" y="69.2" font-size="20.6" text-anchor="middle">NFOL</text>
<rect x="523.3" y="160.2" width="76.3" height="33.1" rx="4" fill="#fff" stroke="#000" stroke-width="1.5"/>
<text x="561.5" y="184.2" font-size="20.6" text-anchor="middle">MFOL</text>
<rect x="427.7" y="255.7" width="75.5" height="32.6" rx="4" fill="#fff" stroke="#000" stroke-width="1.5"/>
<text x="465.4" y="279.4" font-size="20.6" text-anchor="middle">MOL1</text>
<text x="680.8" y="31.3" font-size="44" font-weight="bold">b</text>
<line x1="808.2" y1="37.5" x2="808.2" y2="342.8" stroke="#000" stroke-width="2.2"/>
<line x1="807.1" y1="341.7" x2="1331.7" y2="341.7" stroke="#000" stroke-width="2.2"/>
<line x1="801.0" y1="328.5" x2="808.2" y2="328.5" stroke="#333" stroke-width="2.2"/>
<text x="790.3" y="340.7" font-size="29.5" text-anchor="end">0</text>
<line x1="801.0" y1="232.1" x2="808.2" y2="232.1" stroke="#333" stroke-width="2.2"/>
<text x="790.3" y="244.3" font-size="29.5" text-anchor="end">500</text>
<line x1="801.0" y1="135.6" x2="808.2" y2="135.6" stroke="#333" stroke-width="2.2"/>
<text x="790.3" y="147.8" font-size="29.5" text-anchor="end">1000</text>
<line x1="801.0" y1="39.2" x2="808.2" y2="39.2" stroke="#333" stroke-width="2.2"/>
<text x="790.3" y="51.4" font-size="29.5" text-anchor="end">1500</text>
<line x1="868.4" y1="341.7" x2="868.4" y2="349.3" stroke="#333" stroke-width="2.2"/>
<text transform="translate(883.4,373) rotate(-45)" font-size="29.5" text-anchor="end">OPC</text>
<line x1="968.9" y1="341.7" x2="968.9" y2="349.3" stroke="#333" stroke-width="2.2"/>
<text transform="translate(983.9,373) rotate(-45)" font-size="29.5" text-anchor="end">COP</text>
<line x1="1069.6" y1="341.7" x2="1069.6" y2="349.3" stroke="#333" stroke-width="2.2"/>
<text transform="translate(1084.6,373) rotate(-45)" font-size="29.5" text-anchor="end">NFOL</text>
<line x1="1170.4" y1="341.7" x2="1170.4" y2="349.3" stroke="#333" stroke-width="2.2"/>
<text transform="translate(1185.4,373) rotate(-45)" font-size="29.5" text-anchor="end">MFOL</text>
<line x1="1271.3" y1="341.7" x2="1271.3" y2="349.3" stroke="#333" stroke-width="2.2"/>
<text transform="translate(1286.3,373) rotate(-45)" font-size="29.5" text-anchor="end">MOL1</text>
<text transform="translate(706.4,182.2) rotate(-90)" font-size="29.4" text-anchor="middle">Number of cells</text>
<line x1="849.4" y1="205.8" x2="849.4" y2="235.0" stroke="#333333" stroke-width="2.2"/>
<rect x="832.6" y="235.5" width="33.8" height="49.4" fill="#d0d0d0" stroke="#333333" stroke-width="2.2"/>
<line x1="832.6" y1="260.2" x2="866.4" y2="260.2" stroke="#333333" stroke-width="4.4"/>
<circle cx="853.4" cy="205.3" r="4.6" fill="#2e2e2e" fill-opacity="0.55" stroke="#111" stroke-opacity="0.6" stroke-width="1"/>
<circle cx="844.6" cy="237.8" r="4.6" fill="#2e2e2e" fill-opacity="0.55" stroke="#111" stroke-opacity="0.6" stroke-width="1"/>
<circle cx="852.7" cy="234.4" r="4.6" fill="#2e2e2e" fill-opacity="0.55" stroke="#111" stroke-opacity="0.6" stroke-width="1"/>
<circle cx="846.5" cy="282.7" r="4.6" fill="#2e2e2e" fill-opacity="0.55" stroke="#111" stroke-opacity="0.6" stroke-width="1"/>
<circle cx="847.9" cy="286.5" r="4.6" fill="#2e2e2e" fill-opacity="0.55" stroke="#111" stroke-opacity="0.6" stroke-width="1"/>
<circle cx="854.1" cy="287.0" r="4.6" fill="#2e2e2e" fill-opacity="0.55" stroke="#111" stroke-opacity="0.6" stroke-width="1"/>
<rect x="870.5" y="285.2" width="33.9" height="7.8" fill="#4a4a4a" stroke="#333333" stroke-width="2.2"/>
<circle cx="885.7" cy="252.9" r="4.6" fill="#2e2e2e" fill-opacity="0.55" stroke="#111" stroke-opacity="0.6" stroke-width="1"/>
<circle cx="887.1" cy="283.1" r="4.6" fill="#2e2e2e" fill-opacity="0.55" stroke="#111" stroke-opacity="0.6" stroke-width="1"/>
<circle cx="882.3" cy="288.9" r="4.6" fill="#2e2e2e" fill-opacity="0.55" stroke="#111" stroke-opacity="0.6" stroke-width="1"/>
<circle cx="887.6" cy="295.1" r="4.6" fill="#2e2e2e" fill-opacity="0.55" stroke="#111" stroke-opacity="0.6" stroke-width="1"/>
<circle cx="887.6" cy="311.5" r="4.6" fill="#2e2e2e" fill-opacity="0.55" stroke="#111" stroke-opacity="0.6" stroke-width="1"/>
<rect x="933.8" y="325.4" width="33.3" height="2.4" fill="#4a4a4a" stroke="#333333" stroke-width="2.2"/>
<circle cx="946.7" cy="326.7" r="4.6" fill="#2e2e2e" fill-opacity="0.55" stroke="#111" stroke-opacity="0.6" stroke-width="1"/>
<circle cx="952.2" cy="321.0" r="4.6" fill="#2e2e2e" fill-opacity="0.55" stroke="#111" stroke-opacity="0.6" stroke-width="1"/>
<circle cx="948.0" cy="328.5" r="4.6" fill="#2e2e2e" fill-opacity="0.55" stroke="#111" stroke-opacity="0.6" stroke-width="1"/>
<circle cx="950.0" cy="326.0" r="4.6" fill="#2e2e2e" fill-opacity="0.55" stroke="#111" stroke-opacity="0.6" stroke-width="1"/>
<circle cx="944.0" cy="327.0" r="4.6" fill="#2e2e2e" fill-opacity="0.55" stroke="#111" stroke-opacity="0.6" stroke-width="1"/>
<circle cx="953.0" cy="328.0" r="4.6" fill="#2e2e2e" fill-opacity="0.55" stroke="#111" stroke-opacity="0.6" stroke-width="1"/>
<line x1="988.4" y1="280.0" x2="988.4" y2="295.0" stroke="#333333" stroke-width="2.2"/>
<rect x="971.5" y="296.0" width="33.0" height="14.4" fill="#4a4a4a" stroke="#333333" stroke-width="2.2"/>
<line x1="971.5" y1="305.6" x2="1004.5" y2="305.6" stroke="#333333" stroke-width="4.4"/>
<circle cx="986.2" cy="279.6" r="4.6" fill="#2e2e2e" fill-opacity="0.55" stroke="#111" stroke-opacity="0.6" stroke-width="1"/>
<circle cx="984.0" cy="291.6" r="4.6" fill="#2e2e2e" fill-opacity="0.55" stroke="#111" stroke-opacity="0.6" stroke-width="1"/>
<circle cx="987.8" cy="307.8" r="4.6" fill="#2e2e2e" fill-opacity="0.55" stroke="#111" stroke-opacity="0.6" stroke-width="1"/>
<circle cx="993.3" cy="305.6" r="4.6" fill="#2e2e2e" fill-opacity="0.55" stroke="#111" stroke-opacity="0.6" stroke-width="1"/>
<circle cx="988.9" cy="312.2" r="4.6" fill="#2e2e2e" fill-opacity="0.55" stroke="#111" stroke-opacity="0.6" stroke-width="1"/>
<circle cx="984.4" cy="310.0" r="4.6" fill="#2e2e2e" fill-opacity="0.55" stroke="#111" stroke-opacity="0.6" stroke-width="1"/>
<rect x="1034.4" y="325.9" width="33.4" height="2.2" fill="#4a4a4a" stroke="#333333" stroke-width="2.2"/>
<circle cx="1047.0" cy="328.0" r="4.6" fill="#2e2e2e" fill-opacity="0.55" stroke="#111" stroke-opacity="0.6" stroke-width="1"/>
<circle cx="1051.0" cy="326.0" r="4.6" fill="#2e2e2e" fill-opacity="0.55" stroke="#111" stroke-opacity="0.6" stroke-width="1"/>
<circle cx="1055.0" cy="325.0" r="4.6" fill="#2e2e2e" fill-opacity="0.55" stroke="#111" stroke-opacity="0.6" stroke-width="1"/>
<circle cx="1049.0" cy="329.0" r="4.6" fill="#2e2e2e" fill-opacity="0.55" stroke="#111" stroke-opacity="0.6" stroke-width="1"/>
<circle cx="1053.0" cy="327.0" r="4.6" fill="#2e2e2e" fill-opacity="0.55" stroke="#111" stroke-opacity="0.6" stroke-width="1"/>
<circle cx="1045.0" cy="327.0" r="4.6" fill="#2e2e2e" fill-opacity="0.55" stroke="#111" stroke-opacity="0.6" stroke-width="1"/>
<line x1="1088.8" y1="296.0" x2="1088.8" y2="305.0" stroke="#333333" stroke-width="2.2"/>
<line x1="1088.8" y1="312.0" x2="1088.8" y2="318.0" stroke="#333333" stroke-width="2.2"/>
<rect x="1072.1" y="306.0" width="33.4" height="5.5" fill="#4a4a4a" stroke="#333333" stroke-width="2.2"/>
<circle cx="1093.2" cy="296.4" r="4.6" fill="#2e2e2e" fill-opacity="0.55" stroke="#111" stroke-opacity="0.6" stroke-width="1"/>
<circle cx="1091.2" cy="319.0" r="4.6" fill="#2e2e2e" fill-opacity="0.55" stroke="#111" stroke-opacity="0.6" stroke-width="1"/>
<circle cx="1088.6" cy="310.0" r="4.6" fill="#2e2e2e" fill-opacity="0.55" stroke="#111" stroke-opacity="0.6" stroke-width="1"/>
<circle cx="1090.0" cy="306.0" r="4.6" fill="#2e2e2e" fill-opacity="0.55" stroke="#111" stroke-opacity="0.6" stroke-width="1"/>
<circle cx="1094.0" cy="308.0" r="4.6" fill="#2e2e2e" fill-opacity="0.55" stroke="#111" stroke-opacity="0.6" stroke-width="1"/>
<circle cx="1087.0" cy="312.0" r="4.6" fill="#2e2e2e" fill-opacity="0.55" stroke="#111" stroke-opacity="0.6" stroke-width="1"/>
<line x1="1151.9" y1="279.5" x2="1151.9" y2="289.0" stroke="#333333" stroke-width="2.2"/>
<line x1="1151.9" y1="315.0" x2="1151.9" y2="321.0" stroke="#333333" stroke-width="2.2"/>
<rect x="1135.5" y="289.8" width="32.8" height="24.8" fill="#d0d0d0" stroke="#333333" stroke-width="2.2"/>
<line x1="1135.5" y1="307.4" x2="1168.3" y2="307.4" stroke="#333333" stroke-width="4.4"/>
<circle cx="1150.3" cy="279.1" r="4.6" fill="#2e2e2e" fill-opacity="0.55" stroke="#111" stroke-opacity="0.6" stroke-width="1"/>
<circle cx="1149.0" cy="284.3" r="4.6" fill="#2e2e2e" fill-opacity="0.55" stroke="#111" stroke-opacity="0.6" stroke-width="1"/>
<circle cx="1149.6" cy="302.8" r="4.6" fill="#2e2e2e" fill-opacity="0.55" stroke="#111" stroke-opacity="0.6" stroke-width="1"/>
<circle cx="1154.2" cy="313.4" r="4.6" fill="#2e2e2e" fill-opacity="0.55" stroke="#111" stroke-opacity="0.6" stroke-width="1"/>
<circle cx="1151.6" cy="321.6" r="4.6" fill="#2e2e2e" fill-opacity="0.55" stroke="#111" stroke-opacity="0.6" stroke-width="1"/>
<circle cx="1147.8" cy="315.2" r="4.6" fill="#2e2e2e" fill-opacity="0.55" stroke="#111" stroke-opacity="0.6" stroke-width="1"/>
<rect x="1173.3" y="309.1" width="33.0" height="2.2" fill="#4a4a4a" stroke="#333333" stroke-width="2.2"/>
<circle cx="1187.0" cy="310.0" r="4.6" fill="#2e2e2e" fill-opacity="0.55" stroke="#111" stroke-opacity="0.6" stroke-width="1"/>
<circle cx="1190.0" cy="309.0" r="4.6" fill="#2e2e2e" fill-opacity="0.55" stroke="#111" stroke-opacity="0.6" stroke-width="1"/>
<circle cx="1193.0" cy="311.0" r="4.6" fill="#2e2e2e" fill-opacity="0.55" stroke="#111" stroke-opacity="0.6" stroke-width="1"/>
<circle cx="1189.0" cy="312.0" r="4.6" fill="#2e2e2e" fill-opacity="0.55" stroke="#111" stroke-opacity="0.6" stroke-width="1"/>
<circle cx="1185.0" cy="311.0" r="4.6" fill="#2e2e2e" fill-opacity="0.55" stroke="#111" stroke-opacity="0.6" stroke-width="1"/>
<circle cx="1192.0" cy="309.0" r="4.6" fill="#2e2e2e" fill-opacity="0.55" stroke="#111" stroke-opacity="0.6" stroke-width="1"/>
<line x1="1252.7" y1="61.0" x2="1252.7" y2="104.0" stroke="#333333" stroke-width="2.2"/>
<line x1="1252.7" y1="254.0" x2="1252.7" y2="303.6" stroke="#333333" stroke-width="2.2"/>
<rect x="1236.3" y="104.8" width="33.1" height="148.3" fill="#d0d0d0" stroke="#333333" stroke-width="2.2"/>
<line x1="1236.3" y1="183.2" x2="1269.4" y2="183.2" stroke="#333333" stroke-width="4.4"/>
<circle cx="1257.1" cy="60.2" r="4.6" fill="#2e2e2e" fill-opacity="0.55" stroke="#111" stroke-opacity="0.6" stroke-width="1"/>
<circle cx="1252.7" cy="93.4" r="4.6" fill="#2e2e2e" fill-opacity="0.55" stroke="#111" stroke-opacity="0.6" stroke-width="1"/>
<circle cx="1252.7" cy="135.6" r="4.6" fill="#2e2e2e" fill-opacity="0.55" stroke="#111" stroke-opacity="0.6" stroke-width="1"/>
<circle cx="1247.6" cy="231.5" r="4.6" fill="#2e2e2e" fill-opacity="0.55" stroke="#111" stroke-opacity="0.6" stroke-width="1"/>
<circle cx="1251.7" cy="261.9" r="4.6" fill="#2e2e2e" fill-opacity="0.55" stroke="#111" stroke-opacity="0.6" stroke-width="1"/>
<circle cx="1256.6" cy="304.9" r="4.6" fill="#2e2e2e" fill-opacity="0.55" stroke="#111" stroke-opacity="0.6" stroke-width="1"/>
<line x1="1290.5" y1="283.0" x2="1290.5" y2="291.0" stroke="#333333" stroke-width="2.2"/>
<rect x="1274.1" y="247.6" width="32.8" height="34.8" fill="#4a4a4a" stroke="#333333" stroke-width="2.2"/>
<line x1="1274.1" y1="268.3" x2="1306.9" y2="268.3" stroke="#333333" stroke-width="4.4"/>
<circle cx="1294.7" cy="186.3" r="4.6" fill="#2e2e2e" fill-opacity="0.55" stroke="#111" stroke-opacity="0.6" stroke-width="1"/>
<circle cx="1293.1" cy="244.4" r="4.6" fill="#2e2e2e" fill-opacity="0.55" stroke="#111" stroke-opacity="0.6" stroke-width="1"/>
<circle cx="1288.0" cy="254.7" r="4.6" fill="#2e2e2e" fill-opacity="0.55" stroke="#111" stroke-opacity="0.6" stroke-width="1"/>
<circle cx="1288.0" cy="281.7" r="4.6" fill="#2e2e2e" fill-opacity="0.55" stroke="#111" stroke-opacity="0.6" stroke-width="1"/>
<circle cx="1295.7" cy="283.8" r="4.6" fill="#2e2e2e" fill-opacity="0.55" stroke="#111" stroke-opacity="0.6" stroke-width="1"/>
<circle cx="1285.4" cy="292.0" r="4.6" fill="#2e2e2e" fill-opacity="0.55" stroke="#111" stroke-opacity="0.6" stroke-width="1"/>
<line x1="857.4" y1="195.9" x2="879.4" y2="195.9" stroke="#000" stroke-width="2.4" stroke-linecap="round"/>
<line x1="958.2" y1="270.2" x2="980.0" y2="270.2" stroke="#000" stroke-width="2.4" stroke-linecap="round"/>
<line x1="1058.9" y1="287.6" x2="1080.7" y2="287.6" stroke="#000" stroke-width="2.4" stroke-linecap="round"/>
<line x1="1160.1" y1="270.4" x2="1181.7" y2="270.4" stroke="#000" stroke-width="2.4" stroke-linecap="round"/>
<line x1="1260.4" y1="50.4" x2="1282.8" y2="50.4" stroke="#000" stroke-width="2.4" stroke-linecap="round"/>
<text x="869.0" y="177.6" font-size="20" text-anchor="middle">NS</text>
<text x="1170.9" y="252.1" font-size="20" text-anchor="middle">NS</text>
<text x="1270.9" y="36.8" font-size="20" text-anchor="middle">NS</text>
<text x="968.9" y="248.0" font-size="20" text-anchor="middle">*</text>
<text x="1069.6" y="266.2" font-size="20" text-anchor="middle">**</text>
<text x="839.2" y="51.0" font-size="21">Treatment</text>
<line x1="856.6" y1="63.5" x2="856.6" y2="93.5" stroke="#333333" stroke-width="2.2"/>
<rect x="843.7" y="70.6" width="26.1" height="17.4" fill="#d0d0d0" stroke="#333333" stroke-width="2.2"/>
<line x1="843.7" y1="79.0" x2="869.8" y2="79.0" stroke="#333333" stroke-width="2.2"/>
<circle cx="856.6" cy="79" r="4.6" fill="#2e2e2e" fill-opacity="0.55" stroke="#111" stroke-opacity="0.6" stroke-width="1"/>
<text x="884.4" y="86.9" font-size="21">Veh</text>
<line x1="856.6" y1="98.5" x2="856.6" y2="128.5" stroke="#333333" stroke-width="2.2"/>
<rect x="843.7" y="105.6" width="26.1" height="17.4" fill="#4a4a4a" stroke="#333333" stroke-width="2.2"/>
<line x1="843.7" y1="114.0" x2="869.8" y2="114.0" stroke="#333333" stroke-width="2.2"/>
<circle cx="856.6" cy="114" r="4.6" fill="#2e2e2e" fill-opacity="0.55" stroke="#111" stroke-opacity="0.6" stroke-width="1"/>
<text x="884.4" y="122.4" font-size="21">FGF1</text>
<text x="-1.5" y="512.4" font-size="44" font-weight="bold">c</text>
<path d="M211.3 515.1 L220.0 520.4 L230.0 532.6 L234.5 544.1 L234.5 558.6 L230.5 566.6 L236.0 576.6 L237.5 589.1 L235.6 605.4 L230.0 616.6 L220.0 629.1 L204.0 636.0 L187.5 635.4 L176.0 639.1 L170.0 650.4 L166.3 662.9 L161.3 667.1 L158.0 662.9 L158.8 650.6 L155.0 644.1 L158.8 639.1 L164.0 632.6 L152.5 627.9 L140.0 622.6 L133.0 612.6 L131.0 596.6 L130.0 584.1 L128.0 572.6 L134.0 563.6 L141.3 561.6 L150.0 551.6 L167.5 542.9 L181.3 537.9 L190.0 531.6 L200.0 519.1 L207.5 515.4Z" fill="#e6eaec"/>
<path d="M215.0 525.5h0M197.3 628.1h0M214.5 624.7h0M167.4 656.3h0M221.0 608.2h0M185.8 546.7h0M176.2 582.9h0M233.5 601.2h0M185.9 590.1h0M153.6 564.5h0M203.3 590.0h0M154.9 620.6h0M208.3 625.2h0M145.6 608.7h0M197.7 610.3h0M215.5 558.3h0M173.4 619.5h0M209.0 528.3h0M148.9 579.9h0M201.4 546.3h0M179.3 631.9h0M158.0 575.5h0M202.7 590.8h0M222.1 582.6h0M209.8 560.1h0M166.6 572.8h0M166.5 549.4h0M213.8 626.4h0M147.5 560.9h0M151.7 566.6h0M173.8 606.4h0M197.7 541.0h0M200.8 624.5h0M228.4 580.4h0M156.1 624.7h0M163.3 652.7h0M203.6 563.7h0M227.0 555.0h0M173.5 617.2h0M174.0 615.9h0M179.8 582.0h0M155.8 563.7h0M154.3 569.3h0M189.3 543.6h0M158.1 556.1h0M150.0 572.0h0M209.8 527.3h0M222.1 618.8h0M209.0 527.9h0M165.0 582.8h0M187.3 577.7h0M163.7 614.7h0M176.7 601.3h0M220.8 590.4h0M190.1 594.9h0M211.0 587.8h0M228.7 550.5h0M200.3 533.3h0M155.2 619.4h0M174.7 567.2h0M162.8 578.4h0M158.2 606.0h0M166.5 651.8h0M131.9 571.7h0M223.4 563.1h0M150.4 605.7h0M211.1 564.2h0M213.6 530.4h0M202.2 583.8h0M182.0 554.2h0M188.1 609.7h0M142.2 615.6h0M224.3 577.8h0M166.4 573.6h0M167.2 619.7h0M224.7 594.0h0M208.7 577.4h0M187.4 551.8h0M145.1 609.0h0M189.9 556.5h0M197.2 534.5h0M194.8 539.1h0M215.9 568.5h0M181.2 538.4h0M165.6 591.3h0M206.9 555.3h0M201.5 628.9h0M216.7 538.5h0M219.2 610.9h0M155.0 578.5h0M142.7 606.5h0M196.0 611.0h0M222.1 592.1h0M182.3 577.7h0M231.2 596.8h0M154.5 557.0h0M225.4 605.1h0M177.1 607.4h0M183.2 542.2h0M150.0 615.3h0M179.8 554.8h0M181.8 538.6h0M199.7 528.2h0M183.7 550.9h0M216.6 559.2h0M220.2 532.1h0M153.5 576.1h0M146.6 608.4h0M190.8 574.4h0M164.7 641.8h0M229.9 532.9h0M216.5 618.2h0M209.2 535.9h0M195.3 596.6h0M214.2 619.9h0M187.9 609.0h0M168.8 597.1h0M182.5 587.3h0M213.9 605.9h0M229.5 588.9h0M218.2 599.7h0M184.2 547.2h0M157.1 588.3h0M221.0 565.8h0M191.6 551.0h0M178.6 554.8h0M155.8 581.4h0M159.0 582.3h0M168.3 647.4h0M190.6 576.4h0M183.2 543.0h0M137.1 582.1h0M208.1 601.3h0M202.3 530.0h0M198.7 544.4h0M147.3 591.3h0M227.2 610.6h0M133.5 576.3h0M221.9 546.3h0M228.6 575.1h0M200.4 589.9h0M230.3 562.1h0M196.8 557.2h0M217.2 546.5h0M207.7 524.9h0M196.7 612.6h0M187.8 533.4h0M220.7 555.3h0M136.7 563.0h0M159.8 572.1h0M181.1 630.2h0M231.9 570.4h0M209.2 594.2h0M157.7 573.4h0M183.3 591.7h0M206.0 527.3h0M189.3 563.9h0M200.4 579.0h0M228.9 566.5h0M173.6 571.2h0M212.0 539.4h0M203.3 593.1h0M169.1 636.3h0M194.0 602.3h0M169.1 563.0h0M161.4 548.2h0M135.0 578.5h0M207.8 521.7h0M179.3 559.5h0M224.8 616.1h0M221.7 597.8h0M134.9 612.1h0M196.1 600.4h0M230.1 577.4h0M142.0 600.1h0M186.8 580.4h0M219.1 621.9h0M175.4 572.2h0M197.6 614.7h0M230.2 539.1h0M161.9 564.7h0M184.4 616.0h0M231.3 601.6h0M201.1 612.9h0M133.5 588.5h0M200.0 594.4h0M230.4 546.6h0M178.1 602.5h0M154.1 592.1h0M170.8 616.6h0M191.6 575.9h0M169.1 552.9h0M153.1 573.9h0M232.1 582.0h0M221.6 545.3h0M207.3 605.8h0M162.2 547.9h0M161.4 578.2h0M236.2 588.2h0M184.1 565.1h0M149.9 625.2h0M142.0 577.6h0M155.3 563.4h0M227.8 598.8h0M163.1 654.0h0M217.3 621.7h0M198.0 565.7h0M191.8 541.6h0M217.1 617.6h0M174.6 625.9h0M214.0 594.3h0M177.9 547.4h0M136.6 590.6h0M206.1 591.3h0M195.5 547.3h0M230.8 557.6h0M174.5 630.9h0M158.2 625.6h0M190.9 572.5h0M128.8 571.6h0M214.8 521.9h0M140.5 593.1h0M160.7 645.4h0M139.4 593.1h0M232.9 543.5h0M204.1 572.2h0M183.8 548.1h0M189.3 575.2h0M206.5 563.4h0M183.5 608.7h0M153.2 605.8h0M219.7 599.9h0M179.6 555.8h0M200.9 614.9h0M226.6 558.1h0M165.1 616.7h0M166.5 593.9h0M165.5 656.7h0M193.0 631.5h0M194.6 632.1h0M162.5 651.2h0M169.3 623.0h0M221.8 525.2h0M172.9 597.0h0M200.2 587.7h0M168.8 558.4h0M139.1 575.3h0M166.3 548.4h0M160.0 620.5h0M151.6 615.3h0M225.5 560.7h0M144.1 612.4h0M202.6 610.6h0M175.6 556.1h0M167.4 654.9h0M145.0 611.9h0M157.6 579.5h0M189.5 547.5h0M213.1 602.2h0M194.2 567.0h0M209.6 589.6h0M222.4 592.3h0M196.0 608.2h0M218.9 556.5h0M143.0 559.9h0M221.5 523.2h0M169.7 643.3h0M199.6 577.0h0M208.2 545.2h0M132.3 571.3h0M225.4 616.0h0M198.1 522.1h0M235.1 599.3h0M185.3 582.5h0M196.1 611.6h0M157.8 550.8h0M181.7 579.3h0M205.8 582.5h0M208.6 576.4h0M150.6 575.1h0M202.8 578.3h0M215.3 572.8h0M179.5 553.6h0M209.6 583.8h0M158.6 569.4h0M154.4 563.6h0" stroke="#e3e7ea" stroke-width="4.6" stroke-linecap="round"/>
<path d="M184.4 611.6h0M210.3 526.5h0M207.7 594.4h0M160.5 548.5h0M215.6 594.8h0M153.1 627.0h0M166.4 561.5h0M169.2 560.5h0M149.4 615.6h0M151.7 617.5h0M182.9 605.1h0M161.6 575.6h0M174.6 546.4h0M173.4 598.4h0M189.2 560.4h0M199.5 597.6h0M195.1 588.2h0M194.6 594.8h0M222.4 573.5h0M219.5 578.1h0M154.8 608.6h0M211.6 630.5h0M151.8 594.7h0M189.5 612.1h0M210.8 604.0h0M157.2 647.8h0M195.9 575.8h0M215.4 603.1h0M211.6 578.9h0M179.0 580.0h0M213.0 610.7h0M173.7 546.0h0M200.9 552.3h0M163.1 626.1h0M190.0 545.5h0M212.6 627.5h0M181.2 625.1h0M221.2 594.8h0M217.0 621.8h0M174.1 636.9h0M160.7 656.1h0M150.5 570.6h0M226.3 529.7h0M202.9 597.6h0M174.4 594.5h0M181.5 584.8h0M225.0 553.4h0M170.5 547.4h0M213.0 564.1h0M141.0 600.6h0M207.7 567.8h0M196.0 558.7h0M213.0 560.8h0M170.5 631.6h0M134.4 590.6h0M165.1 554.7h0M179.9 620.3h0M217.7 558.7h0M181.8 561.2h0M217.7 539.6h0M176.1 546.7h0M216.8 541.4h0M180.7 570.0h0M195.6 601.8h0M152.1 613.8h0M224.8 589.5h0M187.9 546.6h0M205.3 560.2h0M174.3 558.3h0M134.1 576.8h0M202.0 571.9h0M154.1 568.7h0M186.7 567.5h0M232.6 580.0h0M165.6 621.0h0M157.7 613.8h0M134.7 581.3h0M224.0 567.0h0M156.8 551.9h0M211.2 521.5h0M229.1 569.4h0M137.1 566.9h0M144.1 622.9h0M197.9 633.0h0M151.5 621.2h0M206.5 529.0h0M199.5 561.4h0M129.0 571.9h0M218.4 530.1h0M143.7 599.2h0M191.0 579.8h0M204.3 628.0h0M187.3 604.4h0M194.2 596.4h0M232.7 584.7h0M148.9 612.0h0M208.0 535.9h0M186.9 621.9h0M170.0 559.8h0M189.1 554.4h0M170.3 571.0h0M204.1 603.5h0M231.6 585.5h0M206.6 561.4h0M152.5 565.1h0M211.5 520.9h0M194.6 540.0h0M164.9 657.3h0M214.8 524.8h0M176.2 546.3h0M198.0 588.0h0M209.4 579.6h0M150.7 618.4h0M185.1 548.8h0M203.6 594.6h0M192.6 536.1h0M194.3 631.2h0M162.0 650.8h0M231.4 562.7h0M196.2 574.6h0M236.5 585.7h0M212.2 520.2h0M193.9 610.2h0M207.3 543.8h0M190.7 601.5h0M192.5 571.1h0M159.1 660.1h0M166.9 560.4h0M231.6 595.8h0M218.2 590.5h0M196.4 620.5h0M193.7 555.7h0M147.1 590.3h0M213.9 608.4h0M171.1 648.3h0M224.8 541.7h0M230.2 571.7h0M169.4 615.4h0M200.3 525.5h0M215.2 626.3h0M168.5 594.0h0M133.5 602.1h0M206.8 521.9h0M197.9 607.6h0M198.6 584.5h0M214.8 581.0h0M225.5 586.6h0M193.2 624.0h0M177.1 606.2h0M232.2 545.0h0M152.4 591.8h0M156.0 574.1h0M177.1 610.4h0M211.3 528.6h0M151.7 581.7h0M175.4 595.8h0M225.6 599.4h0M174.0 555.1h0M197.2 580.2h0M198.3 618.4h0M232.6 609.8h0M175.5 600.8h0M200.9 611.9h0M164.2 651.8h0M213.8 629.6h0M144.6 585.5h0M193.3 563.1h0M231.9 543.8h0M202.2 632.5h0M176.4 600.4h0M191.7 536.3h0M220.1 571.5h0M165.6 566.4h0M232.4 589.6h0M194.4 601.2h0M169.0 597.6h0M183.6 609.8h0M160.8 639.8h0M225.8 567.3h0M182.0 538.3h0M181.1 629.6h0M216.4 598.7h0M194.0 573.0h0M148.0 620.7h0M230.9 543.5h0M149.0 623.4h0M160.3 560.8h0M182.4 537.3h0M160.8 651.4h0M207.8 594.3h0M155.0 580.4h0M215.2 621.3h0M225.1 616.8h0M227.8 579.1h0M163.3 583.6h0M163.1 617.4h0M138.2 619.6h0M221.9 572.5h0M184.1 544.1h0M198.2 632.3h0M192.9 588.9h0M136.7 572.2h0M150.5 617.6h0M186.6 579.6h0M197.3 635.1h0M190.8 629.8h0M228.7 587.4h0M168.2 624.7h0M215.2 603.0h0M165.8 659.4h0M214.7 545.6h0M231.4 558.8h0M152.6 552.3h0" stroke="#eff1f2" stroke-width="4.6" stroke-linecap="round"/>
<path d="M188.0 541.1h0M214.0 533.1h0M171.7 607.3h0M170.8 565.5h0M149.3 567.5h0M196.2 567.6h0M204.5 607.3h0M224.4 569.7h0M144.8 607.0h0M158.0 582.3h0M169.5 572.1h0M226.3 593.0h0M227.7 585.3h0M189.6 598.9h0M161.8 658.3h0M180.6 561.5h0M176.8 543.9h0M149.1 554.8h0M234.3 577.0h0M234.0 551.2h0M184.8 603.2h0M164.0 624.7h0M196.6 617.4h0M211.3 603.3h0M221.2 626.7h0M134.6 582.3h0M197.9 544.2h0M145.1 574.6h0M202.9 529.1h0M200.1 605.2h0M207.7 587.1h0M161.8 612.5h0M141.8 607.4h0M159.7 569.8h0M141.1 609.7h0M215.6 566.7h0M144.1 583.0h0M216.4 559.8h0M132.1 572.0h0M191.8 543.4h0M217.6 549.2h0M170.0 547.9h0M131.8 572.8h0M210.3 530.8h0M235.5 597.7h0M183.4 609.9h0M191.6 571.4h0M166.2 574.9h0M161.5 639.5h0M169.3 644.9h0M176.1 614.7h0M215.1 522.8h0M233.5 554.0h0M192.6 607.6h0M223.6 589.7h0M194.6 575.1h0M174.1 601.2h0M154.7 607.2h0M230.1 543.3h0M229.6 564.6h0M220.7 545.3h0M170.7 557.9h0M231.0 595.0h0M204.0 600.0h0M184.3 558.8h0M202.0 518.6h0M174.0 588.4h0M208.8 573.0h0M208.4 565.8h0M188.6 569.1h0M193.2 540.0h0M165.5 567.3h0M199.5 550.4h0M163.6 579.3h0M157.6 578.4h0M134.5 572.2h0M218.2 523.7h0M213.8 557.6h0M205.0 597.2h0M174.0 560.9h0M221.3 531.5h0M178.2 548.4h0M153.5 624.3h0M180.3 569.8h0M201.1 531.6h0M195.6 609.6h0M138.9 588.3h0M166.8 649.1h0M190.7 561.7h0M179.4 637.0h0M146.1 574.6h0M174.0 583.9h0M188.1 601.3h0M189.9 626.9h0M193.3 608.9h0M198.5 563.3h0M177.6 629.3h0M156.2 616.7h0M215.8 604.8h0M218.3 540.6h0M164.8 566.2h0M217.0 531.2h0M182.7 542.7h0M161.5 655.5h0M199.9 545.8h0M204.6 532.4h0M169.7 609.9h0M134.6 578.8h0M206.3 617.9h0M157.0 580.7h0M212.5 559.0h0M147.3 609.5h0M213.2 613.0h0M191.7 633.3h0M169.9 547.2h0M148.0 576.7h0M200.2 522.9h0M213.2 585.9h0M229.3 608.8h0M199.9 538.5h0M162.2 640.6h0M209.5 608.5h0M130.8 581.7h0M182.3 550.4h0M222.7 545.9h0M140.5 576.5h0M184.0 568.7h0M166.0 547.7h0M209.8 592.7h0M206.3 616.2h0M135.7 584.4h0M212.7 559.3h0M213.5 571.3h0M201.1 520.2h0M135.0 598.6h0M202.1 540.8h0M213.0 590.5h0M193.4 577.1h0M189.4 604.7h0M169.0 651.1h0M133.6 601.0h0M156.1 627.7h0M163.9 633.0h0M225.3 592.5h0M183.5 539.3h0M217.9 618.1h0M206.3 600.9h0M212.7 541.4h0M229.4 542.0h0M231.8 544.5h0M130.5 572.7h0M210.9 519.4h0M172.1 627.7h0M158.7 580.0h0M155.3 610.6h0M196.2 596.2h0M226.6 574.4h0M197.8 597.7h0M191.0 594.2h0M153.8 627.4h0M169.7 557.4h0M195.3 630.5h0M165.6 655.4h0M131.5 585.2h0M189.9 547.0h0M162.2 563.5h0M229.8 576.0h0M202.2 572.3h0M163.0 580.5h0M189.9 547.7h0M172.6 565.3h0M157.5 562.8h0M213.3 594.0h0M204.7 558.3h0M153.6 560.6h0M202.5 531.4h0M162.5 628.2h0M223.4 610.4h0" stroke="#dfe4e7" stroke-width="4.6" stroke-linecap="round"/>
<path d="M168.5 560.3h0M227.0 534.3h0M148.6 621.4h0M154.8 571.2h0M213.1 616.7h0M170.2 616.1h0M173.7 629.3h0M208.6 628.6h0M232.6 549.7h0M212.3 605.8h0M227.9 576.0h0M151.4 572.3h0M204.0 614.7h0M168.1 552.4h0M233.7 605.9h0M208.6 571.1h0M202.9 572.6h0M167.3 616.0h0M201.5 551.2h0M160.9 576.3h0M197.5 571.8h0M224.2 559.9h0M173.0 603.2h0M173.2 607.1h0M234.5 549.9h0M211.3 523.3h0M184.9 593.2h0M203.1 594.2h0M157.3 613.5h0M169.5 636.6h0M221.4 617.6h0M138.9 609.4h0M132.0 602.2h0M146.7 594.8h0M162.4 598.7h0M215.9 600.9h0M176.7 603.1h0M215.2 601.9h0M163.5 620.5h0M226.2 587.3h0M169.3 634.4h0M178.9 622.5h0M208.2 618.0h0M215.0 578.0h0M201.5 565.1h0M189.4 558.2h0M200.2 601.3h0M155.1 570.4h0M201.8 596.0h0M205.5 548.9h0M139.4 605.9h0M228.5 537.7h0M151.7 576.0h0M201.2 526.6h0M162.6 603.6h0M171.2 593.8h0M177.8 571.2h0M213.5 608.9h0M168.2 553.7h0M196.9 569.3h0M168.2 576.6h0M212.5 584.9h0M135.0 592.0h0M175.5 631.8h0M182.5 611.5h0M146.0 586.1h0M161.1 601.9h0M201.5 540.2h0M197.5 594.2h0M209.4 617.8h0M144.4 607.5h0M165.6 655.1h0M174.0 583.6h0M154.2 584.7h0M147.4 557.4h0M223.8 611.9h0M184.5 628.4h0M187.0 561.7h0M214.2 561.3h0M220.7 597.4h0M224.9 549.0h0M141.9 588.3h0M184.1 618.6h0M170.2 594.0h0M207.2 590.0h0M200.4 565.6h0M221.3 527.0h0M162.0 628.0h0M143.2 601.3h0M176.4 584.2h0M195.0 623.6h0M201.9 584.7h0M177.3 559.0h0M196.6 524.5h0M163.4 601.1h0M198.1 590.3h0M180.5 544.9h0M161.9 636.5h0M138.0 563.8h0M131.3 596.9h0M171.1 597.7h0M181.2 589.1h0M146.1 585.9h0M178.1 558.0h0M150.3 574.8h0M205.3 631.4h0M191.9 629.8h0M203.1 575.4h0M151.6 610.3h0M171.3 596.3h0M143.2 559.9h0M168.1 650.8h0M185.4 596.7h0M204.3 590.0h0M223.8 580.4h0M190.6 537.6h0M193.3 550.4h0M196.0 540.9h0M170.0 599.0h0M216.2 615.7h0M194.0 569.8h0M158.9 619.0h0M204.2 541.4h0M202.6 545.3h0M153.7 604.7h0M184.7 621.0h0M141.7 599.8h0M167.9 621.9h0M219.8 524.1h0M198.8 582.2h0M135.0 591.1h0M182.5 560.5h0M193.9 577.4h0M146.8 593.9h0M141.5 584.1h0M171.7 616.5h0M175.1 599.8h0M218.9 555.7h0M195.9 531.7h0M190.1 568.8h0M218.5 607.9h0M142.9 602.8h0M226.5 593.8h0M208.2 591.4h0M185.9 556.4h0M193.2 621.1h0M210.1 619.6h0M148.4 619.3h0M201.4 546.9h0M207.3 539.8h0M150.8 569.7h0M166.1 595.4h0M146.9 562.8h0M168.6 552.3h0M218.3 566.4h0M212.8 612.5h0M214.8 597.4h0M143.8 596.3h0M163.0 585.0h0M149.9 588.5h0M141.8 604.6h0M196.1 570.8h0M165.0 628.7h0M140.6 593.4h0M137.9 565.3h0M166.7 601.3h0M155.8 571.0h0M173.5 603.1h0M171.7 613.0h0M155.3 549.9h0M201.5 558.8h0M177.3 604.2h0M148.5 575.0h0M173.0 575.4h0M187.7 591.7h0M194.6 628.9h0M184.5 593.1h0M165.6 644.9h0M173.3 581.4h0M142.5 616.9h0M195.2 559.5h0M163.1 613.3h0M136.4 570.9h0M231.0 571.8h0M143.2 572.9h0M207.1 602.5h0M183.6 553.5h0M189.6 550.7h0M184.3 547.4h0M152.9 592.3h0M181.9 613.8h0M192.3 609.0h0M155.4 555.0h0M176.8 600.8h0M188.2 533.2h0M168.3 601.2h0M149.3 625.4h0M151.9 579.2h0M156.4 619.2h0M213.3 623.5h0M175.9 561.8h0M201.4 553.5h0M181.0 594.5h0M143.5 609.9h0M226.1 593.3h0M183.6 610.3h0M210.7 530.8h0M138.2 590.8h0M227.3 563.1h0M176.8 556.5h0M220.3 614.4h0M213.1 615.3h0M219.5 569.2h0M204.3 530.8h0M217.7 554.6h0M158.2 641.0h0M192.3 569.8h0M177.6 571.1h0M152.1 625.3h0M232.7 606.4h0M220.7 562.6h0M151.6 594.9h0M156.4 610.1h0M206.7 617.4h0M166.5 613.4h0M172.2 588.9h0M188.9 578.9h0M184.4 630.7h0M167.3 584.9h0M153.4 609.5h0M154.8 616.5h0" stroke="#e7ebec" stroke-width="4.6" stroke-linecap="round"/>
<path d="M147.4 587.1h0M220.3 619.9h0M227.1 542.5h0M227.5 546.6h0M183.1 633.7h0M167.0 643.4h0M226.8 572.2h0M171.8 641.0h0M203.7 563.3h0M151.6 581.6h0M203.3 609.9h0M203.0 630.0h0M160.9 622.1h0M145.6 595.8h0M135.8 583.6h0M211.8 538.8h0M186.2 552.9h0M157.4 562.8h0M174.7 551.6h0M186.5 573.9h0M219.4 528.6h0M200.2 546.6h0M221.0 618.1h0M184.5 612.5h0M184.0 572.5h0M167.2 631.2h0M176.4 628.8h0M160.1 648.8h0M208.8 621.4h0M157.7 626.0h0M201.5 562.5h0M221.5 588.7h0M215.9 551.9h0M216.0 624.3h0M156.2 610.1h0M192.8 616.6h0M231.8 552.9h0M152.3 607.6h0M165.3 608.7h0M188.6 595.2h0M229.8 609.4h0M182.1 548.5h0M202.8 572.9h0M134.8 569.9h0M183.5 614.9h0M211.2 544.6h0M152.2 603.1h0M172.1 567.4h0M157.8 646.7h0M230.4 576.8h0M198.6 594.9h0" stroke="#d7dee1" stroke-width="4.6" stroke-linecap="round"/>
<path d="M210.4 523.8h0M183.3 597.0h0M165.9 593.8h0M141.8 567.2h0M178.3 573.2h0M163.1 583.6h0M217.9 554.1h0M197.6 557.8h0M171.3 606.6h0M185.6 591.1h0M158.8 559.5h0M157.2 555.7h0M212.8 624.0h0M195.3 526.5h0M236.7 595.5h0M188.4 575.4h0M226.0 541.4h0M141.3 608.6h0M161.1 630.2h0M232.4 600.9h0M153.1 609.8h0M136.3 615.1h0M200.4 609.8h0M195.8 569.1h0M146.5 570.6h0M154.9 621.0h0M227.2 592.8h0M227.6 544.0h0M169.8 543.7h0M222.5 624.7h0M200.1 602.3h0M194.2 559.2h0M205.1 575.3h0M150.6 557.2h0M224.0 531.9h0M213.3 559.5h0M151.1 555.4h0M206.2 595.7h0M213.7 531.0h0M164.7 662.7h0M151.5 590.0h0M168.9 623.2h0M198.7 591.5h0M163.7 587.4h0M224.4 615.3h0M202.8 537.0h0M219.1 547.7h0M227.3 545.1h0M229.4 593.5h0M153.0 556.7h0M157.2 595.0h0M181.8 630.7h0M154.7 619.5h0M142.6 572.4h0M221.6 584.8h0M165.0 613.8h0M160.4 644.3h0M195.1 591.7h0M213.1 595.4h0M195.7 571.8h0M139.0 606.2h0M141.8 590.4h0M186.1 623.7h0M202.8 612.1h0M222.3 590.8h0M142.2 605.2h0M194.4 613.6h0M184.7 593.3h0M210.3 602.7h0M151.9 622.2h0M141.0 600.4h0M192.2 631.0h0M190.5 555.0h0M145.1 613.1h0M211.7 604.5h0M231.5 556.9h0M210.4 518.0h0M214.3 600.2h0M176.8 549.5h0M207.5 611.5h0M139.0 611.1h0M141.2 617.9h0M184.2 583.4h0M210.2 536.2h0M200.5 612.4h0M166.3 547.9h0M147.6 569.9h0M220.9 570.1h0M219.8 526.1h0M219.1 614.7h0M154.5 617.9h0M150.1 568.2h0M171.8 542.3h0M160.0 648.7h0M167.6 652.8h0M155.5 611.4h0M170.7 542.0h0M215.8 575.8h0M181.0 632.7h0M175.1 597.2h0M213.7 558.2h0M154.9 561.8h0M225.8 594.4h0M234.2 556.3h0M217.3 626.4h0M212.2 609.4h0M173.4 604.9h0M198.2 556.2h0M173.8 585.2h0" stroke="#dbe1e4" stroke-width="4.6" stroke-linecap="round"/>
<path d="M207.1 612.7h0M163.0 565.7h0M220.2 547.5h0M185.3 565.1h0M228.0 573.8h0M166.1 545.2h0M215.1 580.3h0M204.1 518.5h0M178.1 568.4h0M172.9 556.0h0M201.5 601.2h0M179.5 592.8h0M171.2 549.1h0M164.3 628.9h0M196.1 538.2h0M194.4 537.0h0M147.7 579.6h0M155.9 565.5h0M169.8 639.1h0M181.9 546.0h0M156.3 608.0h0M161.3 548.6h0M174.8 634.1h0M195.3 615.7h0M160.3 648.3h0M156.4 614.1h0M211.5 613.4h0M173.1 586.2h0M197.0 603.9h0M197.1 558.9h0M157.8 574.3h0M140.8 589.2h0M230.8 614.9h0M204.2 570.9h0M145.7 597.5h0M191.5 603.9h0M193.5 534.2h0M161.9 580.8h0M221.9 550.8h0M190.6 578.0h0M168.7 607.7h0M227.2 603.8h0M228.5 538.3h0M163.8 649.5h0M182.5 596.7h0M212.2 591.1h0M157.4 610.5h0M134.9 590.2h0M142.6 578.9h0M210.9 577.4h0M200.1 587.7h0M207.5 563.2h0M202.1 598.8h0M168.1 636.3h0M212.7 606.1h0M170.4 639.7h0M178.6 562.5h0M225.8 580.1h0M230.9 577.9h0M139.6 619.9h0M236.3 591.7h0M199.0 578.0h0M138.4 583.2h0M229.0 614.2h0M135.8 570.2h0M177.4 574.6h0M189.5 632.9h0M211.4 588.6h0M164.0 561.7h0M156.8 621.4h0M194.3 607.3h0M190.0 604.8h0M154.5 572.5h0M191.5 538.5h0M218.1 609.1h0M197.3 571.6h0M217.1 624.7h0M193.1 551.2h0M225.5 584.8h0M158.6 619.6h0M168.8 589.3h0M148.8 590.7h0M143.2 619.1h0M137.2 582.9h0M236.3 594.1h0M199.8 583.4h0M164.1 578.9h0M199.4 583.5h0M173.5 552.7h0M211.5 584.4h0M196.1 576.2h0M222.7 541.3h0M163.6 662.3h0M203.4 558.1h0M221.7 610.2h0M194.1 630.0h0M204.4 576.5h0M198.1 603.5h0M196.6 528.3h0M164.0 558.2h0M209.0 603.9h0M204.3 517.9h0M156.7 588.8h0M215.2 606.4h0M165.3 592.0h0M188.4 566.9h0M200.5 625.2h0M182.8 540.0h0M177.2 603.0h0M190.9 627.0h0M217.4 549.4h0M200.0 582.1h0M219.6 540.6h0M174.4 593.1h0M136.7 587.9h0M192.0 580.1h0M154.5 570.9h0M232.5 544.6h0M136.5 590.5h0M207.8 617.6h0M166.8 634.3h0M136.1 584.2h0M233.2 579.0h0M142.5 600.2h0M135.0 597.7h0M162.5 613.1h0M193.1 535.4h0M220.9 572.0h0M200.4 629.1h0M163.1 648.6h0M141.3 565.9h0M141.3 568.8h0M156.6 572.5h0M227.5 582.7h0M223.3 540.4h0M140.0 586.4h0M203.5 591.4h0M146.3 582.5h0M220.0 577.6h0M131.4 574.3h0M179.7 622.1h0M139.6 621.7h0M161.2 663.7h0M190.2 614.0h0M162.1 661.9h0M208.1 625.7h0M180.6 602.5h0M183.8 590.0h0M170.4 621.9h0M211.8 600.4h0M150.0 565.9h0M147.5 579.7h0M210.2 614.7h0M178.0 543.2h0M134.2 589.3h0M182.8 624.0h0M194.0 540.7h0M231.5 589.5h0M232.1 580.0h0M206.9 533.9h0M184.8 570.6h0M162.9 639.9h0M214.1 591.9h0M208.0 559.0h0M206.5 607.2h0M216.8 585.3h0M163.5 544.9h0M194.2 546.3h0M136.9 586.7h0M161.5 557.9h0M186.5 600.0h0M163.6 645.6h0M167.3 630.7h0M194.4 582.9h0M226.1 596.4h0M175.9 637.9h0M137.9 612.4h0M197.1 576.9h0M139.6 564.8h0M181.0 636.7h0M209.1 582.9h0M180.4 589.0h0M179.6 566.7h0M204.9 618.3h0M196.3 582.4h0M212.7 553.8h0M144.4 597.2h0" stroke="#ebeeef" stroke-width="4.6" stroke-linecap="round"/>
<path d="M199.5 571.2h0M197.2 566.1h0M176.1 576.8h0M138.1 615.6h0M218.1 538.3h0M200.1 589.9h0M151.3 551.9h0M224.0 558.6h0M208.4 576.8h0M219.1 618.5h0" stroke="#cfd7dc" stroke-width="4.6" stroke-linecap="round"/>
<path d="M192.4 570.6h0M205.3 529.7h0M219.5 575.0h0M193.7 594.4h0M194.5 593.0h0M163.1 629.6h0M209.1 599.8h0M188.5 541.0h0M225.7 601.5h0M167.4 584.0h0M136.3 576.1h0M212.5 568.6h0M215.1 577.5h0M228.8 575.6h0M204.7 590.9h0M213.2 607.2h0M160.7 608.0h0M221.9 554.7h0M149.2 600.1h0M201.9 583.6h0" stroke="#d3dbdf" stroke-width="4.6" stroke-linecap="round"/>
<path d="M217.8 620.1h0M155.5 589.3h0M224.8 526.7h0" stroke="#546f7e" stroke-width="4.6" stroke-linecap="round"/>
<path d="M213.9 621.1h0M185.6 631.8h0M140.0 593.8h0M177.2 595.0h0" stroke="#91a4af" stroke-width="4.6" stroke-linecap="round"/>
<path d="M209.6 591.7h0" stroke="#728996" stroke-width="4.6" stroke-linecap="round"/>
<path d="M208.0 557.7h0M197.7 525.1h0M202.8 630.3h0M212.9 544.0h0" stroke="#8297a3" stroke-width="4.6" stroke-linecap="round"/>
<path d="M163.6 615.4h0M172.0 552.3h0" stroke="#637c8a" stroke-width="4.6" stroke-linecap="round"/>
<path d="M131.4 583.2h0" stroke="#a0b1bb" stroke-width="4.6" stroke-linecap="round"/>
<path d="M121.0 559.6 L127.0 557.6 L135.0 559.1 L140.0 562.6 L137.0 568.6 L131.0 573.6 L126.0 576.6 L121.0 572.6 L119.0 565.6Z" fill="#647f8c"/>
<path d="M135.9 559.9h0M123.2 564.3h0" stroke="#899da9" stroke-width="4.6" stroke-linecap="round"/>
<path d="M132.8 559.0h0M129.4 561.0h0M124.9 566.4h0M123.0 566.7h0M125.3 572.3h0M129.0 563.8h0M124.5 574.4h0" stroke="#8297a3" stroke-width="4.6" stroke-linecap="round"/>
<path d="M129.2 568.5h0M127.4 567.6h0M123.6 566.5h0M134.5 565.6h0M134.8 564.6h0M130.0 559.3h0M123.1 570.9h0M136.7 564.6h0M135.6 564.8h0M131.1 568.6h0M121.6 560.1h0" stroke="#7a909c" stroke-width="4.6" stroke-linecap="round"/>
<path d="M126.3 571.1h0M122.1 569.2h0M129.9 567.6h0M123.0 565.2h0M130.4 571.1h0M123.1 560.9h0M138.0 564.8h0" stroke="#728996" stroke-width="4.6" stroke-linecap="round"/>
<path d="M119.8 563.4h0M130.3 571.7h0M122.8 570.1h0M127.1 558.1h0M131.8 565.7h0M131.9 569.9h0M129.0 570.1h0M133.4 568.7h0M132.8 571.3h0" stroke="#6b8390" stroke-width="4.6" stroke-linecap="round"/>
<path d="M125.4 559.2h0M126.6 574.9h0M127.6 569.5h0M124.8 560.9h0" stroke="#637c8a" stroke-width="4.6" stroke-linecap="round"/>
<path d="M394.5 554.0 L404.0 546.6 L418.0 538.6 L426.0 532.6 L437.0 529.6 L452.0 526.1 L468.0 526.6 L483.0 522.1 L498.0 525.1 L513.0 533.6 L521.0 544.6 L528.0 554.6 L532.0 561.6 L528.0 565.6 L522.0 562.6 L515.5 551.6 L509.0 557.6 L504.0 570.6 L502.0 583.6 L502.0 596.6 L503.0 606.6 L490.0 606.6 L470.0 608.6 L455.0 607.6 L440.0 604.6 L430.0 598.6 L426.0 586.6 L424.0 574.6 L418.0 566.6 L406.0 559.6 L396.0 557.6Z" fill="#62808f"/>
<path d="M448.1 578.9h0M496.7 534.5h0M457.4 532.2h0M454.1 586.7h0M516.9 545.7h0M437.3 566.1h0M513.8 544.5h0M484.1 571.8h0M467.2 585.5h0M450.8 601.6h0M440.2 597.0h0M454.9 530.7h0M503.0 563.0h0M486.5 524.8h0M440.0 538.5h0M442.7 587.6h0M462.9 586.1h0M460.3 584.1h0M487.0 555.1h0M441.2 553.1h0M448.8 563.6h0M435.2 559.3h0M513.2 546.5h0M484.8 583.4h0M477.1 581.0h0M426.3 579.2h0M420.6 545.8h0M489.8 587.8h0M469.5 563.0h0M475.6 580.7h0M420.8 538.1h0M455.2 568.2h0M416.3 551.4h0M453.1 578.2h0M441.1 542.1h0M453.5 570.9h0M500.2 561.9h0M434.9 570.5h0M451.7 572.4h0M452.2 561.9h0M431.1 571.7h0M471.4 545.2h0M460.2 579.5h0M499.6 538.6h0M413.4 547.4h0M482.1 537.7h0M441.3 591.0h0M445.8 532.0h0M499.1 526.1h0M464.0 533.4h0M412.2 554.4h0M450.0 530.5h0M434.1 534.9h0M418.7 563.0h0M470.8 589.9h0M475.0 592.2h0M497.1 596.0h0M527.7 562.7h0M424.9 558.2h0M498.4 526.8h0M431.4 543.9h0M467.6 562.5h0M471.8 527.9h0M479.1 540.5h0M501.6 530.4h0M447.0 579.2h0M438.9 588.0h0M428.5 579.4h0M428.7 573.7h0M414.1 563.4h0M471.5 549.5h0M435.9 568.2h0M464.3 543.2h0M437.4 542.0h0M466.9 536.1h0M445.4 579.2h0M453.1 567.6h0M463.7 580.3h0M449.9 556.3h0M438.3 543.3h0M476.1 599.1h0M438.7 542.5h0M479.9 600.9h0M450.0 586.6h0M504.3 531.2h0M422.0 543.1h0M462.7 562.0h0M499.3 567.6h0M426.2 547.9h0M498.7 574.3h0M495.9 579.4h0M473.5 550.6h0M429.4 576.0h0M460.5 551.8h0M495.6 550.6h0M430.4 547.4h0M462.0 598.0h0M473.3 543.5h0M469.6 551.5h0M459.3 559.2h0M470.3 591.6h0M450.4 558.6h0M427.9 586.5h0M441.8 576.0h0M431.4 531.7h0M452.2 530.0h0M432.1 548.2h0M424.4 560.3h0M430.3 539.4h0M520.8 546.8h0M447.1 568.4h0M481.7 590.4h0M445.8 528.6h0M508.2 532.7h0M464.2 538.8h0M474.2 562.7h0M485.5 554.6h0M449.9 574.2h0M451.5 596.8h0M489.8 546.3h0M496.8 579.8h0M469.3 566.6h0M500.5 568.4h0M453.8 555.2h0M415.6 556.9h0M416.8 557.1h0M440.7 590.2h0M447.2 605.2h0M473.2 526.9h0M459.0 529.6h0M474.0 537.3h0M457.8 584.5h0M468.1 574.1h0M453.1 530.0h0M503.0 553.2h0M487.1 560.3h0M459.1 573.5h0M470.7 535.5h0M450.7 568.5h0M496.2 583.0h0M495.2 583.0h0M484.3 547.7h0M444.6 541.3h0M440.3 552.3h0M442.0 568.3h0M502.4 573.9h0M441.3 533.4h0M488.9 598.6h0M520.8 553.4h0M462.5 527.9h0M499.7 561.0h0M483.9 584.3h0M494.7 578.9h0M428.9 543.8h0M477.6 547.4h0M466.1 558.5h0M420.5 548.4h0M442.2 584.8h0M450.1 531.9h0M418.8 561.6h0M469.7 588.2h0M458.5 528.7h0M466.1 595.2h0M447.7 540.1h0M449.0 555.7h0M491.6 549.5h0M457.3 595.3h0M459.6 527.1h0M466.8 536.7h0M520.9 548.2h0M441.9 548.1h0M495.8 587.6h0M476.7 537.8h0M435.3 584.8h0M499.2 527.0h0M461.3 592.9h0M429.4 544.2h0M495.4 533.2h0M517.7 548.9h0M448.9 579.3h0M426.9 541.2h0M466.9 576.6h0M466.7 595.8h0M457.5 532.8h0M477.9 566.9h0M501.2 562.5h0M469.2 526.6h0M456.4 566.4h0M450.3 540.3h0M483.4 576.4h0M487.7 561.7h0M434.2 570.2h0M439.8 579.9h0M434.3 538.6h0M476.4 581.8h0M423.6 573.7h0M476.3 547.7h0M463.8 563.5h0M461.3 528.8h0M474.0 564.5h0M459.8 542.5h0M496.9 551.1h0M469.1 533.0h0M506.2 542.4h0M498.5 531.6h0M455.9 578.7h0M446.7 583.3h0M472.1 560.4h0M496.1 531.3h0M486.9 580.3h0M483.0 551.8h0M455.1 590.8h0M519.2 554.2h0M501.9 557.7h0M495.2 577.9h0M468.5 577.8h0M473.4 585.0h0M467.9 591.0h0M436.4 558.5h0M464.9 571.6h0M450.5 572.6h0M455.6 586.5h0M481.8 558.2h0M452.1 559.6h0M455.3 567.9h0M476.2 562.4h0M438.6 550.2h0M511.1 534.6h0M490.6 542.9h0M469.4 528.2h0M426.8 549.8h0M485.9 538.3h0M466.2 566.3h0M476.8 527.7h0M418.2 559.6h0M433.4 538.8h0M428.1 540.6h0M455.2 556.7h0M506.0 553.4h0M496.4 572.9h0M469.1 591.0h0M433.1 582.0h0M494.0 587.0h0M489.4 525.2h0M500.5 548.7h0M432.8 599.0h0M446.9 528.9h0M475.7 605.4h0M498.7 591.8h0M438.7 529.2h0M454.7 537.5h0M505.3 564.3h0M412.3 555.3h0M482.2 569.0h0M472.0 542.5h0M462.7 551.8h0M468.0 596.9h0M420.7 557.4h0M480.0 535.9h0M511.8 542.3h0M434.8 586.0h0M479.2 574.8h0M469.6 580.1h0M450.0 570.6h0M446.3 582.3h0M485.7 543.2h0M502.7 557.9h0M499.5 590.3h0M437.5 558.1h0M503.8 541.5h0M450.4 577.2h0M427.8 574.4h0M462.9 571.9h0M463.2 542.7h0M434.4 562.2h0M445.3 555.6h0M414.7 558.5h0M516.4 551.8h0M425.4 550.8h0M420.1 565.4h0M486.2 588.5h0M419.7 539.9h0M456.2 574.9h0M464.3 578.9h0M514.9 550.9h0M431.0 536.3h0M473.0 558.8h0M485.2 531.3h0M424.7 553.2h0M471.8 580.3h0M436.6 558.9h0M427.1 532.3h0M448.4 562.1h0M497.2 527.6h0M489.4 576.7h0M478.7 526.3h0M457.8 547.3h0M447.1 577.4h0M486.2 583.8h0M484.4 587.9h0M461.8 534.2h0M429.3 548.0h0M464.3 558.5h0M521.2 556.2h0M525.6 562.1h0M443.7 581.8h0M427.9 586.0h0M493.5 546.8h0M483.7 582.2h0M465.7 529.9h0M445.3 591.4h0M419.0 548.6h0M464.2 587.1h0M489.8 575.3h0M485.4 527.0h0M437.2 540.4h0M475.6 541.6h0M500.2 573.2h0M469.6 572.3h0M476.1 579.7h0M489.9 543.6h0M429.5 568.8h0M501.1 563.1h0M500.8 567.3h0M495.0 582.3h0M437.8 540.7h0M431.2 561.7h0M438.7 575.1h0M482.7 528.8h0M488.1 603.9h0M470.4 531.2h0M443.7 590.8h0M464.9 541.0h0M458.0 556.3h0M432.4 537.2h0M442.1 604.4h0M454.9 588.6h0M459.9 578.4h0M453.0 590.2h0M451.4 591.7h0M495.7 584.9h0M436.1 573.9h0M519.2 545.2h0M452.1 555.5h0M489.4 596.9h0M511.3 534.2h0M491.3 563.8h0M489.1 579.4h0M486.1 539.2h0M421.6 544.1h0M504.3 549.2h0M436.9 583.3h0M449.7 570.2h0M467.2 561.7h0M495.7 531.7h0M493.0 551.4h0M457.4 579.5h0M463.7 579.4h0M506.9 557.4h0M457.8 561.9h0M489.8 526.8h0M493.1 551.1h0M476.2 558.2h0M459.8 559.7h0M525.7 560.4h0M478.2 587.0h0M500.6 575.8h0" stroke="#5c7684" stroke-width="4.6" stroke-linecap="round"/>
<path d="M476.5 539.7h0M478.8 534.0h0M506.6 538.4h0M404.0 547.4h0M460.3 528.4h0M424.3 548.0h0M446.7 555.4h0M431.1 567.1h0M464.0 572.4h0M444.3 529.2h0M502.2 535.7h0M442.4 553.7h0M413.7 548.2h0M442.2 542.5h0M408.5 546.7h0M479.8 530.7h0" stroke="#7a909c" stroke-width="4.6" stroke-linecap="round"/>
<path d="M485.7 540.6h0M445.0 553.1h0M475.8 558.4h0M483.1 529.3h0M467.4 554.5h0M448.2 533.5h0M456.1 554.9h0M491.5 558.3h0M455.0 529.7h0M426.3 541.3h0M458.6 560.8h0M464.8 549.0h0M506.3 536.1h0M491.8 569.3h0M491.5 569.4h0M472.4 573.3h0M440.7 576.0h0M431.9 538.7h0M511.5 552.2h0M487.8 525.6h0M448.6 560.1h0M463.5 538.1h0M488.3 534.9h0M500.0 564.5h0M524.1 556.4h0M433.0 551.1h0M503.7 556.7h0M475.1 528.6h0M451.3 557.7h0M468.8 566.2h0M496.4 530.1h0M417.7 539.3h0M473.7 568.2h0M474.1 541.7h0M423.6 552.0h0M479.9 566.7h0M497.5 532.1h0" stroke="#728996" stroke-width="4.6" stroke-linecap="round"/>
<path d="M485.1 525.3h0M495.8 543.1h0M464.1 535.9h0M493.5 551.8h0M451.0 584.3h0M465.1 550.6h0M446.0 539.3h0M440.6 556.6h0M492.4 549.7h0M471.9 526.6h0M429.6 584.1h0M418.3 544.6h0M476.1 529.7h0M418.4 555.1h0M448.8 536.0h0M454.7 576.0h0M474.1 535.5h0M426.1 550.8h0M507.7 538.0h0M464.7 549.9h0M414.9 563.3h0M492.3 547.4h0M415.4 562.7h0M465.9 562.2h0M456.6 561.6h0M467.0 577.7h0M498.9 590.8h0M510.3 536.5h0M457.1 539.8h0M463.0 563.6h0M441.2 580.8h0M464.1 566.0h0M467.7 553.5h0M488.0 540.0h0M509.7 532.7h0M511.3 541.0h0M452.0 549.0h0M502.9 536.9h0M455.3 532.6h0M517.5 541.3h0M446.3 532.0h0M472.5 552.6h0M502.3 560.6h0M500.9 531.0h0M438.0 546.3h0M498.1 564.3h0M412.8 555.6h0M428.1 588.9h0M475.3 533.5h0M493.2 525.2h0M413.4 560.5h0M460.9 543.9h0M446.4 544.1h0M433.1 540.8h0M464.2 560.7h0M456.3 528.2h0M475.5 531.1h0M426.9 570.9h0M457.3 542.1h0M465.5 540.1h0M451.2 549.8h0M438.4 557.1h0M472.3 527.1h0M431.9 580.2h0M449.5 550.3h0M431.0 541.5h0M507.9 540.9h0M472.4 591.9h0M466.8 555.6h0M472.8 593.9h0M442.1 529.6h0M516.3 544.3h0M461.5 549.5h0M467.0 552.8h0M443.6 543.1h0M433.7 547.5h0M448.7 539.5h0M482.0 551.3h0M431.6 569.8h0M502.3 577.8h0M481.3 559.8h0M452.5 572.9h0M504.9 562.2h0M523.1 562.0h0M458.3 574.1h0M452.7 575.5h0M481.2 539.9h0M482.1 582.5h0M425.7 560.3h0M454.3 530.5h0M437.9 568.3h0M469.4 562.2h0M460.2 551.2h0M430.0 548.0h0M482.3 563.0h0M455.7 542.9h0M431.5 578.7h0M481.8 573.8h0M495.5 545.8h0M440.2 569.3h0M521.8 559.8h0M504.3 533.0h0M416.7 540.7h0M500.7 567.0h0M462.3 542.8h0M481.5 554.9h0M495.6 571.2h0M453.6 547.0h0M479.7 540.5h0M498.0 537.6h0M427.4 554.1h0M487.0 523.7h0M507.3 531.6h0M481.7 575.7h0M425.7 533.9h0M490.1 551.5h0M421.7 539.6h0M481.0 568.0h0M425.3 548.9h0M494.7 551.3h0M446.1 547.9h0M451.5 571.6h0M475.4 557.5h0M456.7 563.2h0M414.3 555.0h0M459.0 537.8h0M449.7 570.1h0M444.3 542.7h0M421.7 552.1h0M437.9 544.1h0M506.7 536.8h0M491.5 582.6h0M510.6 555.3h0M479.9 568.3h0M420.5 556.3h0M502.6 571.6h0M429.6 569.0h0M453.0 570.2h0M512.6 537.0h0M453.1 545.1h0M498.3 542.9h0M506.8 554.3h0M481.6 556.5h0M433.6 540.6h0M474.4 560.4h0M443.5 547.4h0M428.0 555.1h0M478.8 554.7h0M420.5 563.9h0M432.3 543.6h0M483.1 529.8h0M516.0 551.9h0M458.8 527.8h0M498.9 547.3h0M455.2 526.2h0M505.9 558.6h0M507.4 540.7h0M445.4 576.4h0M425.8 578.8h0M482.8 533.1h0M492.8 546.4h0M455.3 557.5h0M443.1 559.9h0M484.3 564.7h0M432.3 558.5h0M501.1 539.5h0M468.9 567.8h0M416.2 545.3h0M451.7 584.9h0M429.4 569.9h0M429.0 580.3h0M459.7 557.3h0M478.3 533.3h0M436.4 552.5h0M478.5 581.5h0M440.5 578.2h0M462.2 546.1h0M443.4 566.4h0M428.9 549.5h0" stroke="#6b8390" stroke-width="4.6" stroke-linecap="round"/>
<path d="M454.5 596.9h0M485.3 598.1h0M434.9 601.5h0M524.7 560.0h0M459.8 544.3h0M467.6 575.0h0M528.2 560.9h0M502.2 581.8h0M459.3 571.2h0M503.3 543.0h0M501.8 600.6h0M466.7 546.2h0M422.4 542.5h0M501.7 591.1h0M485.2 594.9h0M505.7 537.8h0M417.9 562.7h0M462.6 576.2h0M461.7 560.6h0M452.8 587.0h0M474.7 598.4h0M496.5 527.7h0M435.6 586.0h0M473.6 540.7h0M467.1 533.2h0M451.0 606.5h0M471.2 579.3h0M438.6 549.5h0M437.2 539.7h0M451.8 581.8h0M438.3 532.1h0M482.4 572.6h0M420.9 568.4h0M476.8 583.9h0M453.2 553.6h0M447.5 569.8h0M450.5 552.2h0M522.0 546.7h0M479.2 571.8h0M473.3 575.2h0M442.7 588.0h0M473.7 534.2h0M437.5 591.4h0M451.8 543.7h0M479.5 579.9h0M467.5 563.3h0M439.4 603.5h0M478.6 574.2h0M451.2 582.9h0M481.6 569.6h0M418.5 561.5h0M421.4 567.3h0M446.6 556.7h0M456.7 585.7h0M488.1 525.8h0M453.2 562.8h0M424.9 576.9h0M485.5 572.2h0M485.5 542.6h0M460.5 536.1h0M493.2 586.0h0M492.4 533.2h0M453.5 537.1h0M515.5 543.6h0M476.3 583.3h0M482.7 586.9h0M499.9 597.0h0M468.4 555.9h0M449.9 576.8h0M453.2 569.6h0M468.8 542.4h0M454.3 535.1h0M501.7 573.3h0M431.5 558.0h0M432.7 547.5h0M478.7 546.9h0M493.1 593.9h0M414.4 544.9h0M472.6 591.3h0M446.2 591.8h0M441.8 599.4h0M487.8 568.5h0M486.5 562.3h0M517.8 544.4h0M429.8 564.3h0M462.1 594.1h0M456.3 607.1h0M460.5 579.7h0M500.8 603.8h0M464.6 558.3h0M441.2 572.8h0M462.6 593.9h0M488.9 547.2h0M478.2 584.5h0M487.0 537.9h0M477.6 604.6h0M447.6 547.5h0M464.9 572.5h0M444.8 584.2h0M492.5 599.4h0M470.0 531.9h0M462.1 580.6h0M498.7 595.4h0M526.9 555.2h0M424.1 572.4h0M501.9 569.5h0M495.3 565.5h0M429.3 581.9h0M481.8 527.2h0M504.5 535.6h0M467.2 564.3h0M436.8 597.8h0M428.4 578.1h0M441.9 570.8h0M514.7 552.1h0M490.1 586.0h0M439.7 599.1h0M450.9 578.0h0M477.6 579.0h0M492.6 592.3h0M478.2 535.8h0M496.1 539.5h0M480.6 595.9h0M461.2 603.8h0M470.3 594.7h0M470.2 583.7h0M486.8 554.8h0M442.7 541.0h0M489.3 604.7h0M505.6 533.5h0M437.0 578.3h0M456.4 586.2h0M491.0 601.3h0M488.5 530.3h0M452.4 550.1h0M493.6 552.1h0M499.4 574.6h0M497.1 601.8h0M445.1 585.5h0M449.6 604.8h0M497.4 585.0h0M479.0 591.7h0M432.1 576.5h0M448.9 582.3h0M474.7 601.8h0M474.2 556.3h0M477.2 546.8h0M421.9 568.3h0M494.7 577.2h0M474.3 550.1h0M462.0 583.4h0M436.8 574.6h0M453.0 582.9h0M454.2 575.3h0M443.4 583.9h0M428.0 576.6h0M498.5 555.5h0M487.8 601.3h0M453.7 568.9h0M465.4 585.4h0M450.5 581.1h0M442.8 577.5h0M504.7 553.5h0M481.9 604.7h0M454.2 604.2h0M443.9 602.2h0M456.9 599.7h0M524.8 556.5h0M439.9 536.5h0M504.9 563.1h0M499.5 589.7h0M463.7 532.4h0M482.2 597.7h0M451.8 597.3h0M433.9 588.9h0M454.7 601.3h0M500.8 550.0h0M481.3 571.7h0M467.0 571.0h0M464.4 555.2h0M442.6 604.8h0M452.7 592.5h0M430.8 553.4h0M448.5 566.4h0M503.0 547.4h0M447.0 530.8h0M508.9 552.7h0M494.9 536.6h0M441.6 565.8h0M448.8 585.1h0M466.5 547.9h0M436.4 565.4h0M469.6 593.8h0M447.7 593.0h0M445.6 545.0h0M474.7 607.8h0M498.0 569.7h0M441.9 537.5h0M438.2 597.1h0M465.3 597.4h0M430.0 590.7h0M452.2 602.5h0M445.5 567.0h0M434.2 598.8h0M502.7 528.2h0M435.2 535.8h0M442.7 592.9h0M466.9 575.0h0M493.5 589.3h0M482.8 552.6h0M445.5 577.2h0M511.9 538.7h0M451.7 593.8h0M474.2 577.8h0M484.8 600.1h0M471.6 590.8h0M421.0 545.7h0M461.5 601.4h0M450.6 570.7h0M468.0 564.1h0M483.2 592.6h0M425.3 538.3h0M471.7 536.2h0M436.8 589.8h0M516.5 549.1h0M523.1 556.1h0M427.2 572.0h0M455.8 579.3h0M520.0 554.9h0M475.0 554.1h0M494.0 547.0h0M488.7 549.0h0M475.3 524.8h0M494.8 558.8h0M430.3 537.0h0M446.5 603.1h0M425.6 557.8h0M477.4 592.7h0M441.1 532.7h0M475.4 572.6h0M426.7 567.9h0M490.1 542.3h0M471.0 572.6h0M468.2 529.0h0M469.6 578.8h0M461.8 584.5h0M469.4 594.7h0M501.9 599.5h0M479.9 574.6h0M474.1 581.7h0M494.5 593.1h0M478.3 583.1h0M494.2 567.8h0M441.4 575.5h0M465.1 604.0h0M461.6 571.4h0M481.0 604.6h0M477.6 576.4h0M421.8 558.8h0M505.2 546.6h0M452.9 539.4h0M470.3 548.3h0M504.6 547.9h0M457.1 577.3h0M481.9 580.9h0M485.5 590.8h0M470.7 580.0h0M481.5 575.7h0M491.1 576.3h0M481.3 590.8h0M496.2 579.0h0" stroke="#546f7e" stroke-width="4.6" stroke-linecap="round"/>
<path d="M418.1 561.1h0M469.2 547.6h0M471.1 554.3h0M469.9 547.7h0M483.4 553.0h0M423.7 536.7h0M465.5 568.9h0M480.9 524.4h0M485.3 556.5h0M489.0 571.8h0M478.7 523.9h0M484.4 565.8h0M470.2 569.1h0M431.9 580.7h0M464.3 577.9h0M418.4 561.0h0M435.9 572.9h0M436.8 587.5h0M499.1 602.3h0M514.8 549.3h0M440.3 546.2h0M437.5 587.5h0M434.0 530.7h0M435.1 573.9h0M501.7 551.6h0M453.1 541.5h0M449.7 528.8h0M423.7 562.1h0M465.7 555.1h0M434.8 598.8h0M461.4 535.5h0M457.6 558.4h0M481.4 543.7h0M495.5 543.0h0M481.5 530.4h0M446.2 537.0h0M490.0 563.6h0M476.7 557.3h0M431.8 531.9h0M485.3 554.5h0M458.7 567.4h0M477.4 535.0h0M458.7 547.6h0M472.1 563.5h0M427.8 534.3h0M515.5 537.9h0M467.9 561.6h0M424.8 571.6h0M489.2 569.0h0M492.2 572.4h0M442.6 564.8h0M484.6 557.7h0M497.7 562.5h0M447.8 551.1h0M446.9 557.4h0M470.7 545.7h0M485.4 546.2h0M477.6 550.4h0M480.1 557.8h0M484.2 565.5h0M501.5 564.4h0M452.5 551.0h0M474.7 564.8h0M482.6 575.6h0M474.4 551.9h0M412.3 559.1h0M474.7 561.5h0M461.2 579.4h0M453.5 570.8h0M448.2 536.9h0M434.5 569.3h0M473.1 554.4h0M425.1 548.3h0M503.2 551.5h0M471.3 579.2h0M475.1 548.9h0M504.7 543.8h0M492.7 579.7h0M480.0 532.4h0M442.5 563.9h0M446.7 568.7h0M421.9 556.2h0M469.3 533.5h0M471.9 569.4h0M496.1 543.7h0M479.2 547.4h0M480.0 548.5h0M496.3 564.6h0M491.9 576.3h0M421.8 550.9h0M484.9 543.4h0M494.5 546.3h0M438.7 579.7h0M501.0 536.2h0M428.1 582.0h0M451.8 535.9h0M501.3 534.1h0M489.5 562.5h0M486.8 538.5h0M432.1 571.8h0M500.7 541.5h0M510.5 532.2h0M484.7 571.0h0M478.1 561.1h0M446.1 541.0h0M430.3 574.9h0M483.9 552.1h0M505.4 542.3h0M419.6 567.1h0M449.3 571.6h0M441.2 547.4h0M466.2 552.0h0M415.0 554.2h0M432.2 546.7h0M455.8 560.2h0M417.2 549.2h0M465.1 552.5h0M475.8 556.0h0M499.7 562.4h0M450.8 555.4h0M417.3 549.7h0M461.9 545.8h0M432.9 591.3h0M454.7 545.9h0M527.3 562.7h0M458.8 566.0h0M509.9 548.9h0M412.0 561.6h0M458.5 554.8h0M443.1 560.1h0M486.5 543.1h0M472.0 525.5h0M499.3 556.4h0M441.5 532.5h0M424.7 546.6h0M472.7 594.3h0M495.5 551.5h0M440.5 547.2h0M475.9 538.8h0M494.1 585.6h0M438.0 532.7h0M494.0 550.7h0M467.0 555.5h0M432.4 538.4h0M500.9 534.3h0M496.0 594.5h0M442.6 588.1h0M484.4 574.7h0M500.2 562.6h0M493.5 547.1h0M434.2 570.4h0M509.5 549.8h0M514.3 543.8h0M486.7 554.2h0M498.7 576.0h0M468.9 541.1h0M426.4 556.3h0M484.8 561.5h0M491.6 535.5h0M437.2 551.2h0M484.3 580.8h0M440.7 554.4h0M425.0 542.7h0M496.4 563.4h0M468.9 564.3h0M477.6 559.8h0M487.9 563.1h0M443.2 550.9h0M470.2 538.2h0M443.9 544.7h0M440.9 539.1h0M463.0 589.3h0M492.1 581.3h0M468.7 593.9h0M515.5 541.0h0M464.1 564.1h0M460.3 570.1h0M439.0 543.7h0M417.0 552.9h0M466.2 550.4h0M495.8 551.6h0M454.9 539.4h0M487.4 527.1h0M432.4 556.5h0M520.7 548.8h0M480.6 536.1h0M452.7 536.1h0M428.3 543.7h0M434.3 535.9h0M495.4 573.3h0M414.4 563.4h0M473.4 583.7h0M431.6 539.2h0M513.5 543.4h0M446.5 564.4h0M486.8 578.8h0M456.0 573.7h0M431.3 566.3h0M515.2 540.5h0M452.0 549.4h0M476.8 530.7h0M413.9 563.4h0M510.2 533.0h0M432.6 534.2h0M470.9 531.9h0M426.9 563.8h0M480.2 558.0h0M501.2 542.5h0M438.0 539.5h0M527.0 558.5h0M443.4 587.3h0M485.1 550.8h0M469.3 545.1h0M429.5 559.0h0M483.1 551.4h0M474.4 532.9h0M504.4 565.9h0M472.6 567.8h0M504.9 552.5h0M471.3 559.8h0M454.2 570.4h0M416.2 549.2h0M419.7 551.9h0M450.4 538.6h0M496.7 541.2h0M471.3 566.9h0M457.8 604.6h0M433.2 570.0h0M492.7 546.4h0M453.4 548.8h0M438.8 530.1h0M429.3 557.8h0M439.7 560.1h0M485.1 523.8h0M449.5 546.2h0M493.3 539.2h0M439.9 531.3h0M431.4 562.2h0M489.8 527.8h0M469.0 562.8h0M420.6 555.1h0M429.5 580.0h0M421.9 548.9h0M453.3 536.2h0M439.4 588.5h0M420.1 546.4h0M504.9 559.7h0M508.1 543.8h0M500.6 556.4h0M483.3 543.8h0M464.0 563.0h0M428.8 559.1h0M438.6 549.4h0M480.2 534.0h0M432.5 582.3h0M466.4 530.2h0M471.8 561.4h0M424.3 570.1h0M449.4 548.6h0M424.5 536.1h0M494.5 537.1h0M439.1 538.0h0M486.7 573.6h0M490.4 533.9h0M491.9 567.1h0M473.7 586.1h0M465.5 593.7h0M501.7 556.5h0M451.2 585.6h0M497.8 579.9h0M445.0 573.3h0M445.8 575.9h0M491.6 526.4h0M486.8 551.5h0M484.0 557.8h0M477.0 531.8h0M499.2 528.9h0M501.3 536.8h0M443.2 548.6h0M457.7 571.3h0M490.3 572.4h0M465.8 573.9h0M489.8 562.1h0M521.3 547.6h0M476.7 542.7h0M460.9 575.2h0M443.4 535.6h0M470.3 542.9h0M419.2 560.4h0M469.3 565.5h0M468.2 571.9h0M505.3 532.5h0M455.3 539.9h0M436.9 541.2h0M431.9 566.4h0M455.7 589.5h0M482.8 525.5h0M437.8 599.9h0M444.4 584.0h0M475.8 550.7h0M416.3 548.3h0M428.2 550.3h0M435.0 559.4h0M510.4 547.4h0M438.2 561.4h0M416.3 551.7h0" stroke="#637c8a" stroke-width="4.6" stroke-linecap="round"/>
<path d="M483.4 606.8h0M449.2 597.3h0M439.9 598.9h0M501.3 595.5h0M440.4 577.5h0M481.3 600.5h0M488.6 596.7h0M475.7 574.4h0M479.7 603.8h0M451.0 577.7h0M456.8 596.9h0M465.1 579.2h0M476.1 583.9h0M478.1 603.0h0M457.9 544.2h0M433.7 585.2h0M477.3 595.3h0M491.7 524.4h0M458.6 606.0h0M475.2 594.8h0M488.7 552.5h0M448.3 601.6h0M432.3 594.5h0M447.0 603.7h0M488.9 604.0h0M491.2 578.1h0M450.9 603.4h0M502.6 602.4h0M462.5 604.4h0M454.8 602.8h0M448.5 594.8h0M472.8 597.8h0M459.6 601.2h0M445.4 559.6h0M441.8 597.7h0M500.7 601.4h0M478.0 607.4h0M445.7 595.1h0M484.4 604.2h0M445.8 586.0h0M488.2 541.7h0M446.7 601.2h0M483.7 603.6h0M452.2 605.8h0M466.7 605.0h0M464.7 554.1h0M469.6 594.4h0M487.7 574.7h0M489.4 584.8h0M470.6 586.5h0M482.9 607.0h0M473.3 538.8h0M501.5 599.7h0M463.0 596.7h0M455.2 539.2h0M472.1 603.7h0M455.1 582.2h0M491.2 573.0h0M472.1 592.3h0M472.4 543.0h0M473.8 553.8h0M500.3 603.2h0M471.7 607.1h0M461.4 575.9h0M448.9 593.9h0M448.5 597.5h0M466.7 591.6h0M457.9 580.1h0M454.5 571.7h0" stroke="#4b6371" stroke-width="4.6" stroke-linecap="round"/>
<path d="M399.3 552.3h0M409.1 554.1h0M411.7 561.9h0M408.0 555.7h0M406.3 548.6h0M407.3 558.4h0M406.4 557.2h0M403.9 556.5h0" stroke="#c8d1d6" stroke-width="4.6" stroke-linecap="round"/>
<path d="M490.1 601.3h0M431.7 572.9h0M459.6 574.9h0M481.3 540.5h0M497.4 601.7h0M497.0 544.0h0M427.1 589.1h0M421.0 544.9h0M499.8 603.8h0M483.8 604.1h0M489.1 586.3h0M461.0 567.7h0M432.5 531.6h0M493.6 583.2h0M452.1 584.8h0M460.2 589.7h0M459.7 596.8h0M475.8 580.8h0M429.3 594.4h0M451.7 585.8h0M454.2 574.5h0M441.5 582.8h0M456.6 606.4h0M435.9 600.3h0M461.7 576.9h0M466.3 580.6h0M496.4 606.4h0M437.2 599.8h0M494.4 601.0h0M491.6 601.3h0M426.2 586.3h0M490.1 547.6h0M430.8 588.4h0M475.0 579.7h0M472.7 605.3h0M437.4 532.6h0M459.9 598.3h0M440.0 586.8h0M509.9 533.0h0M500.5 605.9h0M490.4 587.6h0M497.0 592.5h0M458.3 528.7h0M494.1 549.8h0M503.0 555.9h0M491.9 566.6h0M454.0 604.9h0M439.0 601.9h0M480.9 604.5h0M461.7 539.7h0M478.3 595.0h0M502.5 605.9h0M440.4 591.2h0M439.8 593.3h0M436.6 570.2h0M481.9 589.7h0M476.0 593.2h0M485.4 592.5h0M463.2 604.5h0M437.6 587.5h0M459.3 548.8h0M474.7 594.1h0M479.6 578.6h0M467.0 600.2h0M448.5 603.9h0M483.3 591.7h0M451.1 584.8h0M487.0 603.3h0M488.6 595.2h0M468.1 605.3h0M437.2 591.2h0M479.7 584.2h0M448.0 579.4h0M436.3 581.5h0M494.1 589.0h0M424.7 538.3h0M430.9 580.1h0M448.8 590.2h0M493.5 586.2h0M503.4 562.6h0M491.5 604.8h0M499.9 602.7h0M414.6 558.5h0M455.7 594.4h0M452.8 537.5h0M427.5 587.0h0M450.1 573.0h0M472.3 595.7h0M443.4 585.6h0M464.4 593.3h0M491.9 584.0h0M488.8 589.1h0M433.4 541.2h0M479.8 606.7h0M462.1 551.8h0M452.8 541.4h0M466.7 576.7h0M470.2 595.3h0M443.4 574.2h0M494.6 549.1h0M467.3 543.9h0M477.2 600.5h0M494.0 601.0h0M447.7 589.6h0M470.1 579.9h0M504.7 566.7h0M439.5 600.2h0M487.0 600.0h0M510.3 548.6h0M442.6 584.1h0M441.6 587.5h0M477.9 593.9h0M462.7 576.0h0M495.3 594.8h0M469.5 540.1h0M430.3 543.3h0M467.9 602.0h0M502.0 540.0h0M471.8 588.6h0M447.0 596.4h0M482.8 606.2h0M476.3 607.9h0M481.0 590.2h0M434.5 567.8h0M449.6 598.9h0M464.3 587.3h0" stroke="#4f6977" stroke-width="4.6" stroke-linecap="round"/>
<path d="M405.9 556.4h0M411.5 543.8h0" stroke="#899da9" stroke-width="4.6" stroke-linecap="round"/>
<path d="M455.3 602.5h0M467.7 601.0h0M482.7 604.9h0M459.6 589.1h0M446.0 596.2h0M463.8 599.8h0M483.4 585.0h0" stroke="#465d6a" stroke-width="4.6" stroke-linecap="round"/>
<path d="M484.4 605.5h0M464.9 597.4h0M484.9 583.8h0M444.9 542.7h0M443.4 565.0h0M484.6 590.8h0M513.6 550.6h0M498.8 575.2h0M465.0 580.5h0M481.2 605.2h0M498.4 605.8h0M457.0 585.5h0M496.0 605.8h0M441.1 553.5h0M499.5 594.5h0M482.6 578.1h0M503.8 556.5h0M435.5 587.8h0M432.8 568.1h0M453.6 606.7h0M415.9 548.6h0M489.5 567.1h0M455.3 606.2h0M494.5 603.0h0M488.7 548.4h0M451.0 547.5h0M473.0 604.7h0M423.9 562.8h0M452.0 577.3h0M474.9 569.8h0M442.3 579.4h0M450.5 593.6h0M472.0 591.9h0M493.9 604.2h0M474.9 580.7h0" stroke="#384b56" stroke-width="4.6" stroke-linecap="round"/>
<path d="M496.2 567.1h0M461.6 600.2h0M501.2 548.6h0M436.1 589.1h0M468.4 585.9h0M459.6 570.6h0M503.8 568.0h0M450.8 606.0h0M456.5 600.6h0M482.2 599.5h0M442.9 580.8h0M469.3 554.0h0M416.8 553.7h0M493.3 586.0h0M434.7 597.4h0M455.7 591.0h0M442.9 573.7h0M465.0 595.7h0M451.8 587.9h0M427.3 584.7h0M483.6 600.4h0M473.0 602.5h0M461.2 606.1h0M449.2 585.1h0M480.0 583.1h0M493.8 581.0h0M431.6 587.9h0M433.6 567.8h0M516.2 550.0h0M485.6 583.9h0M456.1 555.7h0M465.4 579.0h0" stroke="#415763" stroke-width="4.6" stroke-linecap="round"/>
<path d="M455.0 600.6h0M433.0 546.4h0M475.6 590.2h0M420.7 542.9h0M463.5 606.4h0M461.3 581.1h0M479.5 602.5h0M485.1 569.7h0M470.0 603.5h0M500.0 549.6h0M431.9 545.7h0M430.7 571.4h0M488.5 596.6h0M429.7 597.4h0M478.7 587.8h0M444.1 549.5h0M427.1 570.2h0M461.2 602.1h0M433.9 587.1h0M428.6 567.6h0" stroke="#2e3f48" stroke-width="4.6" stroke-linecap="round"/>
<path d="M407.8 555.6h0M405.1 557.6h0M407.5 546.2h0" stroke="#c0cbd1" stroke-width="4.6" stroke-linecap="round"/>
<path d="M405.7 556.7h0M407.7 550.9h0M403.3 555.8h0M404.1 557.8h0M397.5 552.7h0" stroke="#b0bec6" stroke-width="4.6" stroke-linecap="round"/>
<path d="M404.0 559.1h0M409.7 548.6h0M396.4 553.0h0M404.8 546.3h0M401.6 549.2h0" stroke="#a8b7c0" stroke-width="4.6" stroke-linecap="round"/>
<path d="M410.6 544.0h0M407.5 552.3h0" stroke="#98aab5" stroke-width="4.6" stroke-linecap="round"/>
<path d="M409.3 551.9h0M403.6 556.9h0" stroke="#cfd7dc" stroke-width="4.6" stroke-linecap="round"/>
<path d="M400.4 553.8h0M411.9 553.7h0" stroke="#8297a3" stroke-width="4.6" stroke-linecap="round"/>
<path d="M407.0 559.4h0M400.0 550.5h0M408.8 547.1h0" stroke="#b8c4cc" stroke-width="4.6" stroke-linecap="round"/>
<path d="M410.6 551.9h0M401.8 551.9h0" stroke="#91a4af" stroke-width="4.6" stroke-linecap="round"/>
<path d="M412.0 548.4h0" stroke="#a0b1bb" stroke-width="4.6" stroke-linecap="round"/>
<path d="M436.2 602.9h0M436.2 617.2h0M474.9 607.1h0M453.3 617.3h0M461.7 609.5h0M480.3 623.9h0M468.0 627.8h0M460.9 631.5h0M460.9 607.5h0M479.1 622.2h0M475.6 635.1h0M486.3 612.2h0M459.9 629.4h0M457.0 612.4h0M486.6 603.7h0M486.2 610.4h0M474.7 614.3h0M446.6 633.0h0M467.0 631.9h0M483.1 620.3h0" stroke="#546f7e" stroke-width="4.6" stroke-linecap="round"/>
<path d="M446.3 619.8h0M481.4 606.0h0M480.3 633.3h0M448.5 629.7h0M438.2 617.8h0M444.4 608.7h0M430.4 604.6h0M451.2 632.8h0M449.8 630.9h0M459.8 603.0h0M465.1 606.0h0M469.4 611.4h0M440.7 611.9h0M439.0 618.1h0M470.7 627.8h0M442.2 603.9h0M467.8 608.4h0M461.3 625.3h0M483.0 604.7h0M473.8 637.2h0M466.7 625.5h0M444.0 625.4h0M481.0 622.2h0M449.8 636.2h0M447.6 604.0h0M432.7 608.4h0M461.4 632.8h0M449.2 633.8h0" stroke="#384b56" stroke-width="4.6" stroke-linecap="round"/>
<path d="M455.7 613.0h0M433.2 603.2h0M441.6 615.8h0M458.0 629.2h0M479.4 617.2h0M458.9 623.7h0M440.3 605.5h0M459.2 604.3h0M462.0 612.0h0M463.3 604.0h0M462.4 635.9h0M471.5 617.2h0M455.1 608.9h0M459.2 628.4h0M439.4 610.4h0M440.9 613.8h0M437.1 607.1h0M449.0 617.5h0M448.4 633.3h0M442.3 602.9h0M459.4 618.6h0M438.5 615.1h0M432.7 608.9h0" stroke="#2e3f48" stroke-width="4.6" stroke-linecap="round"/>
<path d="M473.4 609.6h0M442.1 615.7h0M439.2 603.1h0M447.6 618.8h0M469.9 615.2h0M474.8 620.1h0M458.5 628.2h0M482.1 629.6h0M459.2 632.4h0M439.3 618.6h0M466.3 617.0h0M469.7 610.8h0M457.6 618.9h0M464.6 623.9h0M443.5 629.7h0M433.1 616.7h0M457.2 636.7h0" stroke="#637c8a" stroke-width="4.6" stroke-linecap="round"/>
<path d="M470.4 611.9h0M450.5 622.5h0M450.3 615.6h0M463.6 618.7h0M478.2 632.6h0M442.1 617.7h0M472.8 628.6h0M454.0 604.5h0M472.9 618.0h0M463.2 606.2h0M453.1 605.0h0M468.4 619.9h0M483.8 626.6h0M442.5 610.1h0M433.8 605.0h0M482.9 607.3h0M464.8 623.7h0" stroke="#4b6371" stroke-width="4.6" stroke-linecap="round"/>
<path d="M466.2 605.2h0M456.5 608.3h0M457.1 615.0h0M446.0 606.1h0M459.6 606.3h0M461.7 607.3h0M457.4 617.9h0M434.3 609.4h0M477.6 613.4h0M453.4 602.6h0M475.8 617.3h0M451.6 622.0h0M483.6 623.7h0M473.1 631.2h0M443.5 610.4h0M430.4 605.2h0M467.3 612.0h0M450.3 626.8h0M447.1 615.0h0M451.5 612.2h0M483.7 606.1h0M479.7 617.5h0M442.7 609.1h0M444.4 619.8h0M476.1 629.4h0" stroke="#415763" stroke-width="4.6" stroke-linecap="round"/>
<path d="M503.0 604.6 L507.0 612.6 L516.0 621.6 L524.0 627.6 L540.0 636.6 L552.0 644.6 L561.0 658.6 L566.0 671.6 L568.0 686.6 L568.0 695.6 L581.0 695.6 L591.0 698.6 L600.0 702.6 L602.0 708.6 L598.0 714.6 L586.0 722.6 L574.0 734.6 L569.0 751.6 L566.0 771.6 L560.0 784.6 L550.0 791.6 L535.0 796.1 L514.0 797.6 L492.0 794.6 L470.0 784.6 L455.0 770.6 L447.0 754.6 L442.0 734.6 L437.0 714.6 L435.0 694.6 L437.0 678.6 L441.0 662.6 L448.0 649.6 L454.0 638.6 L462.0 635.6 L472.0 637.6 L481.0 633.6 L484.0 616.6 L488.0 605.6Z" fill="#28363e"/>
<path d="M478.6 645.2h0M502.7 690.6h0M447.1 657.1h0M550.2 646.6h0M527.1 639.2h0M566.5 695.8h0M490.6 712.2h0M537.7 635.8h0M502.7 617.9h0M514.8 628.5h0M528.2 672.7h0M514.7 744.9h0M559.4 686.3h0M504.1 624.3h0M489.6 610.2h0M527.8 721.9h0M511.5 646.4h0M493.1 720.0h0M457.4 641.3h0M476.3 709.4h0M501.4 637.1h0M521.3 627.4h0M497.0 619.4h0M477.4 690.2h0M501.2 642.8h0M468.7 645.0h0M483.1 736.4h0M503.4 780.1h0M494.6 687.5h0M453.7 766.7h0M529.4 635.5h0M474.8 643.0h0M600.2 710.0h0M536.4 636.2h0M577.0 700.9h0M496.1 621.6h0M477.8 635.5h0M531.5 633.9h0M480.7 754.6h0M483.9 706.9h0M461.0 636.6h0M499.0 635.4h0M587.4 706.9h0M587.6 712.2h0M483.8 622.2h0M490.2 617.9h0M501.4 740.1h0M521.3 627.9h0M582.8 724.7h0M574.5 723.4h0M509.7 639.6h0M490.8 624.9h0M583.2 698.5h0M490.8 714.4h0M501.4 638.4h0M503.6 606.5h0M569.1 724.6h0M565.4 746.1h0M559.8 778.7h0M537.8 665.9h0M591.3 717.9h0M519.8 675.7h0M497.3 777.9h0M438.8 709.8h0M508.0 654.6h0M594.5 709.5h0M510.6 714.6h0M537.3 680.7h0M488.1 642.4h0M561.9 762.9h0M509.3 745.8h0M557.3 689.7h0M488.4 646.0h0M462.0 639.4h0M508.1 635.9h0M580.5 712.4h0M497.7 643.3h0M515.6 622.0h0M513.2 708.7h0M458.5 642.4h0M507.2 630.0h0M491.8 662.5h0M582.4 700.1h0M490.0 729.3h0M484.0 673.3h0M571.8 716.2h0M517.5 748.8h0M560.2 669.9h0M579.8 704.5h0M447.0 679.5h0M474.8 690.6h0M564.2 705.6h0M575.4 718.2h0M518.8 636.5h0M503.9 617.4h0M522.0 631.1h0M538.1 639.8h0M499.2 611.0h0M575.4 702.8h0M581.9 724.6h0M537.8 640.5h0M519.5 762.3h0M508.2 720.8h0M477.0 695.3h0M575.0 706.9h0M489.0 610.8h0M488.8 646.4h0M571.1 725.9h0M596.4 703.7h0M529.8 743.3h0" stroke="#3c515c" stroke-width="4.6" stroke-linecap="round"/>
<path d="M510.8 643.2h0M443.5 718.7h0M581.1 696.4h0M571.1 698.5h0M483.4 698.9h0M522.8 644.3h0M520.2 629.9h0M475.9 697.7h0M504.5 674.2h0M495.6 723.5h0M498.1 659.7h0M482.6 728.5h0M579.5 720.8h0M474.5 716.6h0M544.5 789.9h0M519.0 739.9h0M491.9 694.8h0M573.5 713.0h0M482.5 690.8h0M494.8 709.5h0M557.6 682.7h0M451.4 672.5h0M571.1 713.0h0M495.8 654.7h0M480.1 642.4h0M554.4 776.6h0M536.0 748.7h0M473.4 641.6h0M546.2 759.6h0M519.6 628.3h0M490.3 680.9h0M502.4 665.7h0M486.6 744.2h0M563.9 712.4h0M480.9 705.8h0M569.9 726.2h0M491.4 722.4h0M453.1 640.6h0M519.4 646.1h0M580.5 725.3h0M448.3 703.1h0M489.1 686.4h0M546.8 646.2h0M468.7 780.0h0M500.5 619.0h0M491.3 666.0h0M557.3 677.5h0M531.5 640.2h0M505.9 639.6h0M511.6 643.4h0M557.2 760.7h0M482.2 666.7h0M488.7 741.0h0M549.9 655.0h0M486.8 633.6h0M489.9 765.2h0M569.5 725.7h0M498.5 713.4h0M493.6 709.8h0M465.0 728.4h0M491.5 711.1h0M531.8 725.1h0M478.1 754.1h0M484.9 681.0h0M487.7 671.0h0M571.6 707.0h0M491.3 702.9h0M564.8 750.4h0M456.7 638.1h0M560.8 678.1h0M518.9 689.8h0M502.4 617.3h0M551.0 694.7h0M506.2 775.9h0M534.4 668.7h0M532.5 644.3h0M485.5 624.6h0M539.3 643.4h0M519.9 640.7h0M506.4 625.2h0M562.3 723.3h0M496.7 607.0h0M521.1 631.9h0M444.6 675.4h0M503.8 630.9h0M451.0 722.0h0M533.7 712.9h0M575.8 699.0h0M481.9 632.4h0M509.6 719.8h0M578.6 710.4h0M502.1 619.1h0M488.0 729.9h0M475.5 778.0h0M558.1 698.6h0M500.8 698.2h0M524.1 654.6h0M469.5 652.4h0M463.0 655.8h0M582.7 706.9h0M555.5 784.3h0M503.2 702.3h0M486.2 628.0h0M488.3 635.9h0M506.0 670.9h0M575.6 722.0h0M470.2 643.1h0M474.3 704.3h0M594.3 707.1h0M488.0 715.3h0M551.3 772.8h0" stroke="#415763" stroke-width="4.6" stroke-linecap="round"/>
<path d="M533.8 706.0h0M512.8 691.1h0M510.2 786.9h0M536.6 669.6h0M470.9 763.1h0M453.3 762.1h0M548.6 731.5h0M468.0 759.6h0M549.9 672.5h0M555.5 699.4h0M518.8 721.2h0M548.3 683.0h0M480.1 753.8h0M534.3 795.7h0M560.6 778.0h0M489.7 712.0h0M461.4 664.0h0M441.7 703.7h0M540.8 699.1h0M536.3 754.9h0M531.2 770.1h0M439.2 704.5h0M542.4 776.8h0M460.8 741.2h0M518.2 724.7h0M480.7 670.3h0M473.3 728.5h0M507.5 720.4h0M508.2 783.8h0M455.4 734.4h0M550.0 670.4h0M520.2 709.8h0M450.8 739.5h0M504.5 762.4h0M445.6 700.8h0M538.3 653.5h0M524.0 648.7h0M455.5 665.8h0M562.5 704.1h0M560.7 739.3h0M555.9 692.3h0M551.2 724.8h0M564.4 739.2h0M486.2 783.2h0M503.6 700.2h0M475.7 717.9h0M444.2 731.8h0M462.0 713.0h0M450.8 729.8h0M546.9 730.0h0M486.3 754.9h0M508.6 767.0h0M494.7 689.0h0M441.5 719.8h0M482.5 753.6h0M518.4 651.6h0M472.7 776.0h0M443.5 667.4h0M543.1 666.8h0M504.9 707.9h0M517.5 749.5h0M520.6 655.2h0M509.1 672.9h0M507.8 711.3h0M545.2 708.4h0M511.2 744.1h0M474.3 739.7h0M483.7 707.5h0M471.7 701.1h0M518.6 679.6h0M533.8 734.3h0M458.3 742.2h0M553.5 736.6h0M506.0 776.4h0M478.0 764.7h0M539.0 748.0h0M524.0 676.5h0M516.2 651.9h0M507.1 786.0h0M551.3 772.7h0M468.8 766.1h0M461.9 717.5h0M533.1 754.6h0M465.6 717.7h0M547.8 696.9h0M443.2 724.5h0M557.4 785.5h0M446.2 684.0h0M505.6 749.9h0M528.3 731.1h0M482.8 665.2h0M482.6 679.8h0M546.5 745.5h0M460.3 701.6h0M467.6 773.0h0M487.3 647.8h0M560.8 701.8h0M489.8 769.2h0M501.8 679.9h0M451.7 707.0h0M565.2 697.2h0M436.4 693.6h0M454.4 722.6h0M468.6 721.7h0M544.5 730.5h0M452.2 748.2h0M514.8 721.6h0M488.1 728.3h0M494.9 681.7h0M459.7 658.4h0M529.1 744.0h0M533.9 739.5h0M517.7 722.1h0M515.8 688.6h0M502.6 782.5h0M466.3 740.5h0M538.7 744.8h0M538.6 741.4h0M536.5 746.7h0M466.2 752.4h0M490.4 743.0h0M560.8 667.4h0M463.3 746.0h0M565.9 708.9h0M476.0 767.2h0M551.1 649.9h0M560.3 736.3h0M526.6 698.8h0M464.9 679.9h0M516.0 766.7h0M564.6 680.8h0M561.2 727.2h0M540.9 690.2h0M460.4 688.0h0M467.0 769.5h0M476.6 655.0h0M441.6 711.0h0M510.0 703.2h0M514.2 723.6h0M519.8 752.6h0M488.1 735.5h0M492.8 745.9h0M478.7 647.2h0M448.7 743.3h0M561.4 743.2h0M466.4 774.9h0M505.9 744.3h0M490.1 744.9h0M451.5 702.5h0M511.3 665.9h0M539.9 776.9h0M499.3 742.4h0M535.6 776.6h0M459.9 751.3h0M541.5 681.9h0M540.0 684.0h0M520.1 681.3h0M507.9 734.2h0M546.3 659.5h0M510.3 757.1h0M499.5 782.7h0M568.1 739.4h0M501.9 791.2h0M525.2 741.5h0M527.1 705.4h0M457.3 700.4h0M469.3 680.2h0M566.3 767.8h0M447.6 678.2h0M515.3 668.5h0M471.5 661.2h0M547.1 769.0h0M509.9 716.8h0M464.3 671.8h0M492.3 733.5h0M476.1 785.5h0M490.7 764.6h0M502.0 727.7h0M519.8 682.3h0M450.7 651.6h0M519.3 685.7h0M527.4 765.4h0M518.8 792.7h0M477.6 699.1h0M463.7 763.2h0M505.5 712.4h0M513.8 760.1h0M469.2 714.8h0M475.1 734.3h0M549.3 657.4h0M529.5 725.7h0M566.5 751.3h0M506.0 778.2h0M565.3 675.1h0M463.9 768.9h0M528.7 676.5h0M471.4 662.0h0M529.3 655.4h0M509.6 776.0h0M499.6 759.8h0M545.9 781.6h0M480.3 647.1h0M464.0 742.8h0M558.6 714.5h0M489.3 757.2h0M451.6 663.1h0M494.9 781.4h0M445.6 687.2h0M450.6 736.4h0M554.3 734.6h0M548.4 679.5h0M450.8 691.3h0M476.7 762.7h0M471.1 704.1h0M540.4 679.7h0M526.2 693.1h0M537.9 680.5h0M452.3 681.0h0M458.0 681.5h0M515.9 719.0h0M463.3 721.6h0M456.5 744.0h0M439.8 694.7h0M537.6 675.6h0M536.2 682.7h0M500.5 723.4h0M543.6 654.0h0M468.1 772.1h0M481.2 648.0h0M534.0 662.2h0M442.8 689.6h0M452.3 689.2h0M452.7 721.8h0M509.7 664.0h0M522.6 666.0h0M506.1 668.7h0M539.6 726.0h0M552.6 709.0h0M484.3 668.6h0M551.4 656.0h0M466.4 670.1h0M561.2 711.0h0M553.9 707.1h0M562.4 708.3h0M550.3 692.7h0M508.3 791.3h0M528.0 795.9h0M478.5 771.7h0M496.1 779.1h0M498.0 670.9h0M560.6 699.7h0M539.6 759.9h0M551.0 658.8h0M559.0 691.8h0M504.9 767.6h0M523.1 667.5h0M544.1 792.1h0M519.9 724.9h0M506.0 755.6h0M525.8 731.4h0M452.8 710.5h0M558.3 711.3h0M496.6 716.8h0M516.0 717.0h0M514.4 709.6h0M476.4 773.4h0M480.5 679.9h0M566.1 683.4h0M446.5 716.8h0M557.8 678.9h0M471.4 684.3h0M534.4 700.4h0M562.9 668.0h0M444.0 661.5h0M484.1 789.3h0M519.7 736.4h0M454.2 762.7h0M475.7 781.5h0M468.1 683.0h0M487.7 656.8h0M470.4 712.4h0M460.2 756.6h0M536.6 780.4h0M553.9 737.0h0M459.4 727.4h0M511.0 657.2h0M538.6 723.1h0M493.4 780.8h0M559.6 684.3h0M543.5 712.7h0M491.3 744.0h0M529.6 772.7h0M532.1 770.9h0M529.4 661.8h0M514.1 691.3h0M567.4 741.4h0M491.1 742.9h0M544.0 739.9h0M525.1 756.4h0M446.3 714.1h0M490.8 749.6h0M519.1 716.8h0M478.0 682.1h0M454.7 706.7h0M493.2 723.1h0M471.5 730.2h0M524.5 770.7h0M447.8 733.6h0M509.4 793.1h0M457.2 731.6h0M537.1 722.6h0M464.3 756.0h0M506.5 684.2h0M553.8 683.4h0M541.9 744.4h0M468.7 652.8h0M455.8 745.6h0M516.3 676.6h0M471.7 747.9h0M503.4 648.7h0M553.5 737.2h0M469.9 745.7h0M461.9 672.3h0M513.0 781.8h0M545.2 648.8h0M547.5 776.1h0M510.2 653.0h0M452.7 654.3h0M535.9 745.5h0M448.5 729.0h0M487.0 688.0h0M451.9 738.4h0M493.4 750.8h0M530.5 699.5h0M467.1 764.0h0M511.6 671.4h0M552.2 731.6h0M564.3 679.6h0M474.0 700.8h0M527.4 751.3h0M507.5 763.5h0M472.7 668.6h0M553.0 670.3h0M542.1 778.5h0M496.5 675.5h0M563.1 772.0h0M529.9 772.0h0M540.7 745.8h0M537.1 695.8h0M515.7 669.4h0M458.5 723.4h0M533.1 763.0h0M448.0 702.9h0M462.6 773.7h0M543.7 648.7h0M550.5 773.2h0M485.3 704.6h0M516.8 783.1h0M505.6 685.9h0M533.2 750.0h0M503.7 680.0h0M517.4 764.0h0M480.3 661.4h0M534.5 759.5h0M512.4 745.1h0M527.0 713.2h0M510.9 723.3h0M536.3 652.5h0M532.0 744.6h0M554.2 711.7h0M466.1 719.1h0M464.5 656.8h0M506.6 787.8h0M503.3 656.2h0M528.0 784.1h0M549.5 727.7h0M474.3 770.6h0M506.7 782.7h0M515.4 718.5h0M461.2 686.1h0M471.8 693.2h0M469.9 717.3h0M468.5 765.2h0M528.6 790.7h0M506.7 705.1h0M460.0 736.6h0M503.8 728.6h0M569.5 735.3h0M545.3 733.9h0M535.4 789.7h0M557.1 698.0h0M545.5 780.7h0" stroke="#25333b" stroke-width="4.6" stroke-linecap="round"/>
<path d="M531.8 667.9h0M501.0 794.5h0M496.0 753.6h0M536.3 735.0h0M523.8 681.2h0M538.1 765.6h0M470.2 672.8h0M542.3 733.1h0M470.2 661.1h0M553.2 733.9h0M529.0 794.2h0M489.0 639.8h0M546.0 680.1h0M490.7 741.0h0M541.7 659.6h0M490.7 629.7h0M507.3 691.4h0M528.5 747.3h0M452.9 756.4h0M453.4 703.7h0M470.2 681.2h0M446.2 698.1h0M456.4 740.5h0M500.6 648.7h0M535.3 787.6h0M451.0 723.8h0M561.3 732.0h0M574.1 732.0h0M478.4 756.9h0M474.6 731.4h0M446.2 724.1h0M546.7 729.7h0M518.0 669.8h0M566.6 710.2h0M494.7 652.2h0M540.1 688.5h0M472.9 768.3h0M530.3 729.1h0M498.0 672.7h0M518.1 781.2h0M502.1 705.4h0M555.1 774.5h0M542.2 735.4h0M455.3 676.4h0M542.6 659.4h0M506.1 756.4h0M459.1 666.0h0M450.4 672.0h0M487.2 651.2h0M463.3 755.8h0M562.4 776.5h0M533.2 684.1h0M529.8 663.1h0M498.9 662.7h0M495.5 721.1h0M489.0 683.0h0M524.4 700.6h0M479.5 764.5h0M499.3 711.5h0M458.2 672.1h0M541.2 690.2h0M467.3 704.0h0M447.7 676.3h0M510.7 788.3h0M471.7 699.2h0M526.8 660.5h0M525.4 674.7h0M521.3 778.2h0M540.0 657.9h0M470.5 777.1h0M539.4 771.7h0M474.2 681.9h0M541.2 752.7h0M443.9 703.9h0M506.0 776.8h0M529.6 654.2h0M525.6 681.3h0M471.9 660.7h0M550.2 716.4h0M556.9 697.3h0M487.9 692.5h0M472.7 651.5h0M472.3 685.6h0M450.0 678.8h0M538.4 756.0h0M538.8 688.4h0M544.2 742.2h0M538.8 788.3h0M458.6 673.5h0M530.5 771.7h0M513.0 673.4h0M521.6 684.4h0M534.4 741.2h0M543.7 784.0h0M550.4 657.6h0M494.0 654.8h0M513.9 703.8h0M526.5 699.6h0M517.9 739.1h0M551.6 745.5h0M528.7 788.2h0M482.1 769.6h0M566.4 675.7h0M467.5 668.2h0M494.4 660.0h0M476.5 755.9h0M493.6 677.4h0M438.1 706.4h0M526.1 733.8h0M454.3 725.1h0M458.3 686.0h0M438.7 673.5h0M520.9 742.3h0M555.7 672.5h0M533.2 757.8h0M460.0 674.2h0M508.1 741.9h0M516.9 776.4h0M493.5 655.9h0M495.8 775.6h0M495.1 666.9h0M535.4 732.4h0M475.4 709.3h0M462.0 652.4h0M550.8 786.8h0M498.4 779.8h0M533.0 677.2h0M477.7 735.4h0M501.5 763.9h0M507.1 648.9h0M531.1 661.6h0M537.0 659.7h0M465.1 731.0h0M538.5 789.8h0M472.1 740.8h0M523.7 652.2h0M505.8 635.8h0M513.2 649.8h0M487.5 685.7h0M565.3 766.1h0M506.1 792.0h0M450.9 759.9h0M504.5 755.2h0M566.1 760.3h0M525.0 765.7h0M545.6 770.5h0M475.8 674.2h0M482.2 764.7h0M514.3 677.0h0M555.1 708.8h0M487.5 674.2h0M539.0 780.2h0M527.8 691.0h0M540.7 696.8h0M514.5 727.7h0M502.5 641.4h0M478.5 768.6h0M464.0 684.1h0M475.1 780.4h0M439.9 686.0h0M512.0 693.7h0M529.7 793.2h0M523.4 760.8h0M553.8 764.4h0M516.9 663.1h0M524.5 783.0h0M488.7 706.8h0M518.8 662.9h0M469.1 651.3h0M497.5 613.2h0M492.7 705.1h0M531.4 769.3h0M460.8 721.8h0M518.8 791.2h0M534.9 732.7h0M529.5 704.1h0M456.8 651.6h0M510.1 689.2h0M486.3 740.2h0M499.1 773.0h0M533.3 743.0h0M516.7 630.6h0M556.9 726.1h0M552.8 660.2h0M566.1 764.1h0M521.8 666.5h0M485.1 691.8h0M481.3 701.2h0M544.2 659.7h0M549.0 735.5h0M471.0 652.1h0M483.2 790.6h0M516.2 765.0h0M452.5 711.9h0M470.0 692.6h0M471.6 756.1h0M507.9 681.3h0M516.6 697.8h0M557.1 786.5h0M448.1 698.1h0M442.9 713.7h0M526.1 796.0h0M478.3 756.3h0M493.9 691.7h0M525.2 739.7h0M466.4 727.0h0M497.9 786.9h0M551.4 735.5h0M522.7 777.1h0M502.9 694.8h0M482.4 691.4h0M475.6 780.7h0M454.1 753.6h0M509.2 700.2h0M463.2 717.3h0M535.4 733.0h0M481.8 696.8h0M483.9 638.5h0M545.2 714.9h0M485.4 732.8h0M476.9 706.9h0M529.0 735.5h0M498.6 701.7h0M472.7 704.9h0M549.1 663.3h0M527.3 658.3h0M473.4 756.8h0M492.9 617.3h0M523.4 693.8h0M536.8 687.8h0M553.3 779.3h0M540.0 770.5h0M489.3 746.5h0M475.5 721.2h0M528.4 731.6h0M495.8 686.7h0M557.8 780.6h0M529.2 776.4h0M449.7 669.0h0M487.6 785.8h0M559.2 738.5h0M527.5 796.3h0M442.9 730.4h0M526.8 717.4h0M542.7 695.3h0M516.3 666.0h0M512.2 668.7h0M542.9 765.2h0M565.4 723.7h0M550.4 776.4h0M552.7 702.2h0M495.3 739.5h0M480.7 757.9h0M535.7 788.0h0M480.6 654.8h0M451.4 733.2h0M435.1 695.4h0M528.4 672.4h0M511.0 686.4h0M513.6 682.0h0M458.1 773.4h0M489.8 757.5h0M576.0 728.8h0M482.3 722.7h0M540.6 745.5h0M565.1 739.1h0M513.4 630.0h0M565.2 737.1h0M542.8 666.0h0M510.6 742.0h0M542.5 658.5h0M476.5 786.8h0M546.7 787.6h0M558.4 784.8h0M552.6 775.5h0M464.9 654.2h0M529.1 724.8h0M507.5 761.0h0M445.4 728.5h0M516.5 763.9h0M538.5 731.1h0M477.4 758.6h0M561.7 730.1h0M461.5 713.5h0M499.9 777.0h0M507.5 785.0h0M511.7 632.0h0M540.7 719.2h0M503.0 721.6h0M513.5 725.7h0M441.5 664.2h0M546.7 667.5h0M550.8 752.3h0M524.0 729.0h0M541.9 770.2h0M546.9 676.3h0M481.4 648.4h0M489.7 747.9h0M493.3 743.6h0M519.9 771.9h0M548.1 762.6h0M448.1 698.1h0M523.9 698.9h0M562.1 770.7h0M496.8 779.6h0M477.2 668.9h0M521.2 661.1h0M505.0 666.0h0M495.9 725.6h0M550.2 715.4h0M546.9 775.2h0M494.8 787.9h0M518.7 761.9h0M464.3 762.0h0M568.1 748.2h0M471.3 723.3h0M523.0 721.6h0M529.4 706.2h0M476.7 653.3h0M472.6 715.3h0M463.4 717.6h0M502.6 745.9h0M447.6 678.2h0M476.6 691.3h0M517.9 709.3h0M451.8 750.3h0M464.4 768.4h0M449.3 693.9h0M478.5 658.0h0M534.3 774.0h0M522.1 783.0h0M536.2 788.3h0M541.0 705.4h0M488.6 651.1h0M526.4 726.6h0M484.4 693.3h0M563.0 729.5h0M499.7 634.6h0M511.6 713.4h0M526.3 659.2h0M555.6 728.4h0M446.7 661.5h0M479.2 736.7h0M545.4 679.9h0M529.4 700.2h0M552.4 648.5h0M465.6 774.0h0M520.8 753.3h0M441.5 729.6h0M476.0 783.1h0M551.3 761.2h0M516.2 740.0h0M492.5 792.1h0M542.2 695.3h0M474.1 678.4h0M497.8 739.7h0M540.7 669.9h0M479.0 693.4h0M565.7 735.6h0M490.8 772.1h0M563.6 702.5h0M545.5 789.9h0M563.5 744.4h0M525.9 793.4h0M502.1 733.3h0M499.3 792.3h0M495.5 790.3h0M543.9 658.2h0M464.9 647.8h0M472.0 767.0h0M456.6 749.8h0M544.8 723.3h0M507.9 740.4h0M520.8 795.2h0M498.5 760.1h0M486.6 640.3h0M461.5 776.3h0M524.5 737.3h0M506.3 728.1h0M491.2 776.8h0M540.6 701.7h0M564.9 726.4h0M521.8 774.4h0M473.9 685.3h0M553.6 744.6h0M542.1 780.4h0M456.3 751.4h0M536.8 686.1h0M496.6 759.1h0M483.7 621.2h0M520.6 660.9h0M496.2 684.6h0M480.8 747.7h0M517.1 726.4h0M471.7 745.6h0M546.2 652.1h0M496.5 674.8h0M492.8 675.9h0M543.2 728.3h0M461.7 702.4h0M450.8 699.9h0M501.1 773.8h0M475.4 711.0h0M492.4 674.0h0M493.0 741.5h0M446.9 702.7h0M556.7 703.7h0M448.5 733.4h0M523.0 652.2h0M480.1 727.4h0M447.2 729.2h0M499.7 661.7h0M514.8 667.7h0M485.0 730.2h0M478.7 694.7h0M466.9 737.8h0M463.7 697.1h0M514.1 782.9h0M510.6 763.0h0M487.4 728.4h0M529.9 743.8h0M523.0 766.9h0M440.0 681.0h0M525.4 700.0h0M479.3 777.0h0M554.9 656.2h0M527.4 691.9h0M478.0 661.8h0M560.7 707.8h0M479.4 649.1h0M531.7 718.7h0M459.0 756.1h0M484.6 661.6h0M506.6 649.9h0M519.5 762.0h0M559.0 779.3h0M531.9 787.4h0M511.6 771.9h0M542.9 735.5h0M465.0 689.8h0M551.8 677.3h0M450.7 664.7h0M486.1 706.5h0M560.7 748.4h0M495.5 656.1h0M494.8 783.8h0M518.9 746.6h0M453.5 693.6h0M450.6 688.4h0M555.1 696.4h0M493.7 750.7h0M562.7 665.2h0M530.7 744.4h0M470.6 715.6h0M556.1 772.4h0M528.9 713.7h0M443.5 707.5h0M503.7 744.8h0M470.1 717.6h0M553.9 771.4h0M488.1 743.1h0M445.0 715.6h0M461.5 749.9h0M511.9 759.3h0M471.2 677.3h0M523.3 652.7h0M561.5 769.6h0M522.6 656.1h0M524.6 664.0h0M498.7 773.9h0M503.7 715.3h0M461.5 654.3h0M481.8 741.0h0M479.5 775.8h0M536.6 680.7h0M520.1 792.7h0M469.4 666.6h0M489.9 605.6h0M458.1 713.1h0M542.5 671.4h0M480.0 684.9h0M462.0 753.4h0M450.4 730.8h0M525.0 743.5h0M534.0 653.1h0M446.3 660.0h0M572.1 734.8h0M480.2 753.0h0M477.9 713.2h0M468.7 772.4h0M551.1 677.9h0M460.1 668.6h0M477.6 733.5h0M561.3 722.2h0M489.0 658.7h0M501.4 648.0h0M535.4 773.7h0M459.3 720.9h0M564.8 707.9h0M537.8 660.1h0M562.7 675.2h0M442.2 677.9h0M519.9 792.7h0M492.9 648.1h0M505.0 641.3h0M518.9 655.0h0M447.9 712.6h0M510.3 694.0h0M527.3 651.9h0M537.3 726.1h0M466.5 713.9h0M475.6 654.1h0M496.6 672.8h0M564.0 774.7h0M535.1 726.3h0M555.9 758.9h0M485.9 765.6h0M467.3 766.2h0M563.4 702.9h0M552.3 685.1h0M466.8 779.0h0M459.9 718.3h0M523.8 746.8h0M447.7 677.5h0M441.2 718.5h0M541.5 687.3h0M579.4 729.0h0M445.6 734.8h0M495.0 753.0h0M483.2 756.4h0M553.7 687.0h0M480.7 681.8h0M527.8 751.7h0M490.2 707.4h0M510.8 713.2h0M440.4 725.8h0M529.6 679.9h0M450.2 683.7h0M467.1 690.5h0M482.0 779.1h0M505.9 786.3h0M463.3 734.2h0M463.8 706.7h0M544.3 712.2h0M486.4 677.9h0M519.8 740.3h0M448.7 666.9h0M520.6 702.3h0M576.1 729.4h0M521.3 686.7h0M492.2 767.2h0M563.5 752.6h0M466.3 734.4h0M486.4 781.9h0M447.0 691.6h0M540.4 755.1h0M462.0 664.8h0M558.7 767.6h0M457.6 728.7h0M473.1 732.3h0M530.4 671.6h0M446.8 713.3h0M533.5 702.9h0M530.3 649.9h0M506.1 786.0h0M452.0 705.8h0M499.8 764.5h0M531.2 760.3h0M480.0 658.7h0M516.7 629.2h0M446.1 705.2h0M499.4 656.0h0M466.4 664.1h0M512.5 676.1h0M444.1 698.7h0M468.6 689.3h0M550.7 741.1h0M447.1 718.9h0M443.8 690.5h0M482.6 784.3h0M474.3 750.4h0M441.3 696.5h0M542.9 755.8h0M455.5 671.7h0M516.5 734.1h0M464.7 672.2h0M503.9 688.1h0M538.7 676.4h0M450.3 691.3h0M512.1 674.0h0M565.0 716.5h0M526.7 674.4h0M493.5 656.4h0M486.6 641.2h0M467.8 653.2h0M471.6 673.8h0M553.9 683.1h0M460.1 755.5h0M505.0 682.1h0M483.1 711.7h0M559.6 773.8h0M516.1 776.3h0M516.1 747.4h0M475.4 659.7h0M565.6 711.9h0M467.6 645.4h0M517.7 777.5h0M461.4 655.8h0M506.7 774.1h0M547.6 751.7h0M553.7 716.3h0M516.8 763.9h0M523.0 775.9h0M488.0 767.4h0M517.2 632.5h0M490.5 606.4h0M534.0 771.4h0M455.6 668.8h0M461.5 654.2h0M454.8 651.4h0M471.7 722.9h0M540.4 766.5h0M518.6 792.6h0M508.4 725.0h0M515.2 678.4h0M447.5 660.0h0M498.9 676.0h0M552.6 673.8h0M499.2 701.5h0M444.6 696.0h0M475.3 713.5h0M462.1 705.4h0M485.7 649.6h0M463.7 672.3h0M467.6 757.3h0M472.8 763.3h0M499.7 667.4h0M509.0 719.4h0M458.0 702.8h0M475.1 657.7h0M569.7 736.6h0M475.7 726.6h0M480.1 741.0h0" stroke="#2a3942" stroke-width="4.6" stroke-linecap="round"/>
<path d="M491.4 685.2h0M499.3 653.7h0M448.5 691.7h0M486.1 644.1h0M464.9 651.9h0M527.8 630.0h0M551.0 727.5h0M489.4 616.4h0M479.0 655.1h0M492.1 651.5h0M516.7 756.4h0M498.0 613.8h0M450.0 663.9h0M543.6 741.5h0M502.0 752.1h0M490.1 680.8h0M557.9 663.2h0M566.4 743.0h0M462.2 689.8h0M540.7 713.0h0M471.4 672.5h0M451.6 725.1h0M517.8 653.8h0M495.1 787.6h0M569.7 718.7h0M513.1 763.4h0M525.2 785.6h0M545.2 662.0h0M531.5 645.0h0M475.5 737.7h0M561.7 767.3h0M519.5 778.2h0M472.9 752.5h0M444.9 656.5h0M524.7 696.5h0M559.8 732.2h0M547.9 738.5h0M537.7 739.1h0M558.0 674.8h0M453.2 751.2h0M546.7 742.5h0M473.0 751.6h0M559.4 759.5h0M473.1 706.1h0M562.5 728.5h0M590.2 701.8h0M453.5 645.0h0M536.8 705.7h0M520.2 730.7h0M556.5 723.3h0M539.3 700.3h0M471.2 672.0h0M544.4 745.7h0M559.8 730.1h0M553.6 678.5h0M509.9 721.6h0M513.5 663.8h0M526.9 753.0h0M520.5 672.0h0M543.2 770.0h0M516.2 637.5h0M469.3 707.6h0M507.7 775.1h0M454.8 674.3h0M530.6 720.3h0M514.7 781.9h0M517.7 649.7h0M573.8 703.9h0M466.9 732.5h0M494.0 734.6h0M546.9 792.3h0M471.9 655.0h0M458.7 637.7h0M583.9 722.3h0M488.2 784.9h0M566.6 739.6h0M558.8 734.9h0M513.3 707.4h0M459.3 684.4h0M521.7 727.6h0M460.8 692.2h0M481.2 672.0h0M548.5 657.8h0M499.6 782.1h0M478.5 643.6h0M583.2 709.8h0M491.4 791.1h0M460.2 660.9h0M550.7 654.8h0M482.7 696.6h0M461.8 699.0h0M546.8 783.5h0M549.9 647.8h0M527.1 760.9h0M563.9 755.4h0M474.5 686.6h0M514.7 772.8h0M562.1 747.9h0M445.9 745.1h0M543.5 656.2h0M486.4 680.4h0M512.5 761.1h0M493.4 641.8h0M483.4 677.3h0M521.0 730.0h0M526.2 662.5h0M499.4 775.4h0M440.3 687.5h0M485.5 658.0h0M504.7 633.8h0M485.4 674.7h0M469.8 767.0h0M492.2 640.1h0M524.8 744.5h0M489.2 643.7h0M449.3 695.8h0M473.7 712.1h0M483.3 765.2h0M461.5 727.4h0M531.9 651.2h0M517.5 755.2h0M570.9 733.1h0M517.3 705.1h0M525.8 633.4h0M527.4 782.0h0M519.5 765.9h0M519.6 625.9h0M565.3 712.3h0M549.3 770.4h0M545.3 709.9h0M492.7 750.4h0M458.9 752.9h0M513.6 758.1h0M558.2 680.5h0M485.4 790.8h0M548.2 771.0h0M501.0 630.1h0M449.4 717.1h0M525.8 794.7h0M563.4 699.9h0M463.8 764.1h0M562.8 693.4h0M477.6 747.4h0M543.0 647.8h0M458.3 644.8h0M447.2 732.3h0M515.8 748.2h0M439.4 670.4h0M501.3 676.7h0M481.9 687.8h0M450.2 742.1h0M564.6 694.2h0M564.8 741.1h0M459.1 756.7h0M536.2 715.0h0M489.7 793.1h0M471.7 776.2h0M525.8 719.9h0M504.4 792.5h0M534.0 667.9h0M529.0 723.6h0M523.9 711.7h0M541.9 667.5h0M464.7 730.5h0M546.9 694.1h0M473.8 763.8h0M447.9 752.2h0M507.6 622.1h0M594.0 713.4h0M558.0 699.9h0M519.0 770.9h0M467.4 679.7h0M507.7 663.9h0M439.2 678.1h0M465.1 700.0h0M551.3 667.9h0M463.7 658.9h0M456.2 697.9h0M466.1 702.6h0M499.5 642.5h0M553.7 664.5h0M509.9 683.7h0M452.9 741.2h0M497.2 617.9h0M550.2 693.1h0M539.8 780.4h0M559.3 701.8h0M470.7 756.7h0M438.0 701.0h0M507.5 614.1h0M473.7 720.0h0M506.7 736.4h0M487.5 643.1h0M462.6 662.2h0M497.6 792.3h0M559.3 667.4h0M566.2 763.8h0M518.4 689.3h0M516.3 681.3h0M484.5 723.2h0M466.6 705.8h0M469.5 774.8h0M559.2 742.5h0M491.6 610.1h0M533.5 765.0h0M504.9 636.9h0M512.9 743.8h0M462.3 754.2h0M486.9 763.6h0M522.1 733.9h0M535.9 660.1h0M542.4 734.4h0M458.6 697.9h0M554.7 770.7h0M484.8 773.9h0M551.7 707.9h0M461.3 746.3h0M515.6 786.6h0M497.6 720.1h0M470.3 660.3h0M545.8 691.2h0M497.7 673.7h0M504.4 779.9h0M451.4 652.2h0M517.5 743.9h0M527.9 756.1h0M555.1 776.1h0M463.8 675.5h0M550.3 785.8h0M512.2 755.6h0M498.6 747.7h0M563.4 758.1h0M483.2 772.6h0M488.9 679.5h0M488.1 686.6h0M560.7 666.8h0M544.2 693.2h0M485.8 710.9h0M498.5 673.5h0M537.5 781.9h0M484.3 787.8h0M536.5 729.1h0M526.2 696.2h0M497.1 650.9h0M528.3 634.0h0M486.0 651.3h0M463.9 649.6h0M521.0 683.0h0M532.0 792.4h0M488.3 782.2h0M514.9 779.8h0M501.9 737.1h0M549.5 659.7h0M547.8 658.3h0M458.4 717.3h0M539.7 781.2h0M506.8 759.5h0M526.7 752.0h0M531.7 775.1h0M535.8 643.4h0M496.6 708.8h0M512.1 653.9h0M463.1 763.7h0M487.1 708.0h0M506.6 763.4h0M513.4 688.6h0M482.9 732.5h0M517.4 743.8h0M562.0 686.8h0M489.6 774.8h0M481.3 744.4h0M514.7 693.4h0M543.7 649.7h0M537.1 717.7h0M471.0 667.7h0M569.5 700.0h0M512.2 701.3h0M453.4 737.9h0M495.0 705.1h0M588.0 697.9h0M557.7 746.1h0M501.8 633.6h0M531.3 746.3h0M470.8 657.9h0M466.9 685.3h0M518.0 712.3h0M444.5 694.9h0M476.8 656.8h0M513.1 792.7h0M567.7 695.9h0M505.8 691.2h0M531.6 685.7h0M448.7 700.5h0M530.3 696.4h0M534.3 795.3h0M538.4 724.2h0M570.8 699.3h0M539.8 699.9h0M489.1 727.3h0M515.2 662.6h0M473.3 781.3h0M547.2 664.8h0M494.1 656.2h0M512.7 686.7h0M459.1 722.3h0M522.4 706.7h0M477.0 775.0h0M465.8 711.1h0M503.8 757.2h0M551.4 653.3h0M471.8 719.3h0M508.6 729.1h0M473.6 734.2h0M463.7 719.8h0M554.8 698.8h0M565.9 723.5h0M536.9 636.9h0M584.6 720.2h0M503.3 757.1h0M567.9 725.7h0M564.5 702.6h0M497.5 764.3h0M460.9 721.5h0M458.1 744.0h0M542.0 659.5h0M521.2 750.8h0M518.5 756.2h0M502.8 744.1h0M437.4 681.8h0M584.8 719.8h0M507.4 691.2h0M485.4 761.0h0M545.2 666.2h0M505.5 617.2h0M544.4 703.9h0M547.2 649.6h0M505.3 620.1h0M483.8 638.5h0M545.7 695.3h0M475.1 652.9h0M533.2 712.7h0M511.7 730.5h0M478.4 669.8h0M559.6 770.6h0M599.1 708.5h0M503.7 684.6h0M557.1 693.8h0M524.8 639.6h0M454.4 736.6h0M441.5 695.8h0M509.9 689.4h0M553.5 667.2h0M465.5 748.1h0M515.7 712.4h0M478.7 761.3h0M593.2 712.6h0M436.8 706.7h0M521.9 741.7h0M599.2 705.4h0M541.6 651.8h0M487.0 712.7h0M477.6 734.6h0M476.1 672.6h0M502.4 606.4h0M454.7 769.2h0M469.1 743.4h0M484.9 755.8h0M557.9 656.7h0M461.5 772.2h0M561.9 665.2h0M540.8 767.2h0M536.5 751.3h0M489.7 704.5h0M524.0 702.6h0M517.0 762.2h0M505.9 720.0h0M555.8 774.5h0M453.2 710.5h0M464.0 743.4h0M454.4 650.8h0M486.5 726.7h0M543.6 702.2h0M499.9 736.6h0M551.4 786.3h0M530.4 646.3h0M456.4 766.6h0M539.7 696.6h0M538.2 760.7h0M529.2 736.1h0M450.8 747.3h0M474.2 760.8h0M442.5 719.0h0M541.0 704.2h0M503.4 700.3h0M465.1 731.8h0M503.5 637.1h0M464.8 760.3h0M534.4 780.2h0M457.7 704.8h0M457.5 693.5h0M472.7 667.4h0M488.2 774.6h0M463.2 730.1h0M544.2 758.0h0M484.2 744.6h0M539.1 737.1h0M565.8 771.0h0M458.4 678.9h0M509.2 744.3h0M511.2 718.5h0M464.4 746.1h0M514.4 677.8h0M481.9 784.2h0" stroke="#33454f" stroke-width="4.6" stroke-linecap="round"/>
<path d="M483.7 762.9h0M560.6 708.9h0M474.8 738.5h0M574.5 714.8h0M489.7 701.6h0M581.0 726.5h0M504.0 731.3h0M554.6 685.1h0M589.9 709.6h0M531.2 666.1h0M506.4 678.8h0M560.8 749.9h0M484.3 777.1h0M594.9 711.5h0M502.0 693.9h0M504.0 712.2h0M499.5 664.1h0M503.7 686.8h0M568.4 699.2h0M560.3 745.9h0M493.2 745.7h0M552.3 688.3h0M483.5 660.4h0M482.3 785.5h0M592.9 716.2h0M546.0 750.2h0M500.8 731.6h0M450.6 692.6h0M490.5 735.8h0M493.7 680.3h0M477.7 709.5h0M504.7 724.0h0M460.6 764.2h0M495.7 663.0h0M485.8 726.3h0M505.7 680.6h0M497.4 709.6h0M511.3 748.7h0M554.0 709.4h0M484.3 720.3h0M501.3 728.5h0M553.1 677.5h0M481.7 670.8h0M453.2 707.2h0M476.0 718.6h0M481.4 647.8h0M548.0 674.3h0M459.5 691.3h0M574.2 700.8h0M498.2 742.9h0M495.9 660.6h0M475.2 709.3h0M564.7 755.5h0M583.5 704.6h0M500.1 790.4h0M579.2 727.3h0M505.2 734.4h0M589.9 705.0h0M447.6 676.8h0M503.9 667.8h0M484.3 657.4h0M511.1 714.1h0M490.7 724.0h0M477.9 783.9h0M481.6 760.8h0M577.1 699.2h0" stroke="#4f6977" stroke-width="4.6" stroke-linecap="round"/>
<path d="M549.6 714.6h0M501.3 747.8h0M481.5 666.5h0M460.8 774.3h0M529.3 739.3h0M452.8 705.0h0M498.1 608.6h0M483.1 759.4h0M521.2 742.9h0M481.7 652.6h0M530.9 655.5h0M540.5 682.3h0M588.3 698.7h0M473.5 680.0h0M469.3 698.5h0M525.5 763.2h0M459.1 649.8h0M492.2 722.8h0M494.8 741.4h0M512.3 663.3h0M549.5 788.5h0M563.8 756.3h0M553.1 709.3h0M533.1 692.2h0M447.8 718.2h0M526.6 752.0h0M477.8 649.9h0M521.8 774.5h0M517.2 682.0h0M551.9 745.9h0M542.3 720.3h0M477.1 748.7h0M488.5 718.3h0M441.1 704.2h0M448.0 663.4h0M559.5 700.9h0M476.8 763.6h0M539.5 717.2h0M508.1 725.5h0M448.6 684.9h0M441.3 691.4h0M497.0 626.6h0M554.4 651.1h0M582.0 712.3h0M485.9 677.5h0M492.2 622.2h0M474.3 679.2h0M449.1 734.4h0M468.9 706.3h0M449.2 663.1h0M495.5 766.8h0M455.8 676.7h0M499.1 699.8h0M521.8 753.3h0M497.9 611.7h0M503.4 611.7h0M521.0 712.9h0M532.0 656.6h0M469.1 705.8h0M437.8 689.6h0M511.2 674.6h0M510.5 668.0h0M519.0 646.1h0M493.0 786.6h0M512.7 696.4h0M515.3 683.6h0M487.4 686.5h0M492.2 777.8h0M548.9 670.2h0M485.7 640.5h0M562.6 686.4h0M531.7 647.2h0M533.4 743.8h0M496.3 792.1h0M468.6 711.0h0M496.8 633.4h0M535.8 775.4h0M458.2 745.6h0M500.0 768.7h0M517.2 777.7h0M448.9 663.8h0M561.1 750.8h0M543.0 703.0h0M482.5 693.3h0M486.7 755.4h0M557.7 724.8h0M502.7 656.1h0M565.4 681.1h0M492.8 780.5h0M568.3 734.3h0M440.8 679.0h0M514.4 645.8h0M520.2 658.2h0M464.9 645.0h0M529.7 720.5h0M481.4 760.9h0M540.5 700.8h0M457.9 704.5h0M543.7 769.2h0M445.9 701.9h0M454.1 752.7h0M479.5 692.6h0M500.3 698.7h0M515.9 748.4h0M458.1 715.8h0M513.0 736.3h0M495.3 753.2h0M539.3 769.1h0M479.3 678.6h0M444.9 730.4h0M466.3 728.7h0M508.2 787.9h0M490.7 711.1h0M451.8 740.4h0M562.1 769.4h0M536.2 647.9h0M515.2 771.6h0M506.4 788.0h0M567.8 729.1h0M472.3 680.6h0M477.6 725.4h0M456.0 749.3h0M450.6 753.5h0M541.7 659.1h0M442.5 677.5h0M518.6 778.9h0M556.8 658.5h0M492.0 686.7h0M538.0 756.1h0M518.8 665.9h0M518.6 632.6h0M537.6 774.7h0M540.4 678.6h0M489.1 664.2h0M567.9 686.1h0M479.5 744.1h0M506.9 753.6h0M534.2 725.9h0M508.3 652.9h0M451.6 724.6h0M488.5 749.3h0M504.6 620.7h0M512.1 767.2h0M572.1 733.6h0M488.6 768.1h0M561.3 671.9h0M461.3 742.6h0M453.6 716.0h0M520.6 703.7h0M492.9 734.0h0M501.0 721.6h0M515.1 712.3h0M511.8 653.9h0M459.3 665.6h0M480.8 667.5h0M453.4 722.3h0M564.8 729.9h0M564.9 746.2h0M534.4 638.6h0M457.8 700.8h0M500.6 661.3h0M501.9 714.8h0M458.7 751.5h0M500.2 772.0h0M451.0 714.2h0M452.9 692.1h0M546.4 753.9h0M538.5 665.6h0M451.6 717.8h0M588.5 700.8h0M482.4 648.4h0M509.6 675.4h0M457.7 687.2h0M510.4 754.4h0M472.0 658.2h0M484.8 620.9h0M482.0 676.1h0M528.6 664.7h0M499.0 744.3h0M556.9 698.8h0M572.8 722.6h0M438.1 688.3h0M461.5 647.6h0M530.4 795.7h0M517.2 694.2h0M460.2 664.1h0M504.8 683.9h0M442.1 718.3h0M554.3 766.9h0M539.7 771.6h0M483.7 765.3h0M453.0 701.9h0M521.4 767.9h0M478.5 776.4h0M490.3 655.9h0M510.7 792.4h0M513.5 724.9h0M447.1 660.1h0M513.2 770.8h0M548.4 667.6h0M508.1 663.3h0M445.2 679.6h0M446.3 715.2h0M570.0 730.9h0M473.8 753.5h0M556.4 684.3h0M527.6 666.5h0M519.9 755.7h0M563.1 677.9h0M561.2 713.0h0M449.8 727.8h0M482.7 785.4h0M544.5 709.2h0M477.2 670.4h0M558.5 778.6h0M483.0 770.8h0M515.0 658.3h0M477.3 782.0h0M512.9 778.3h0M554.3 751.5h0M502.0 771.7h0M545.5 650.5h0M468.6 760.3h0M501.7 631.1h0M512.7 796.7h0M498.3 739.7h0M535.2 754.3h0M505.5 617.3h0M522.3 718.1h0M506.1 693.9h0M541.7 693.7h0M519.1 697.8h0M485.4 760.3h0M555.6 755.3h0M488.5 786.3h0M507.8 704.6h0M459.1 645.2h0M551.6 702.7h0M501.5 607.3h0M564.6 670.8h0M498.0 771.2h0M518.4 773.4h0M496.6 762.7h0M482.5 726.4h0M511.7 778.5h0M478.3 749.1h0M486.4 687.0h0M490.0 693.5h0M550.1 698.7h0M572.3 706.6h0M477.6 766.5h0M438.9 703.5h0M533.6 662.6h0M446.4 659.5h0M500.1 765.8h0M448.6 687.0h0M486.8 661.9h0M447.3 673.6h0M514.5 711.3h0M451.2 725.5h0M555.0 689.7h0M480.2 754.5h0M531.5 681.4h0M532.9 690.1h0M529.5 793.4h0M501.5 712.4h0M496.7 789.4h0M529.8 721.2h0M557.8 708.8h0M542.6 720.8h0M498.7 783.0h0M447.6 683.5h0M454.0 685.5h0M453.4 666.9h0M529.1 643.5h0M467.6 664.5h0M517.5 716.0h0M538.0 655.2h0M493.9 682.0h0M555.3 740.3h0M539.2 753.9h0M507.9 668.8h0M511.1 702.5h0M462.0 737.9h0M487.9 686.4h0M540.6 644.5h0M476.8 752.4h0M528.0 686.1h0M486.8 680.4h0M467.8 685.3h0M480.0 644.2h0M518.3 718.3h0M444.7 689.4h0M522.2 704.7h0M492.4 792.7h0M457.8 705.3h0M503.2 613.1h0M521.3 776.9h0M560.8 710.9h0M503.5 647.9h0M490.3 736.0h0M555.3 722.2h0M499.9 794.7h0M488.8 710.1h0M488.6 688.4h0M558.6 758.0h0M566.8 726.1h0M493.3 663.4h0M540.0 765.4h0M495.7 775.4h0M490.4 791.5h0M518.8 651.0h0M460.8 719.7h0M560.9 720.9h0M557.4 667.3h0M512.4 741.4h0M529.8 738.3h0M477.0 678.9h0M505.2 744.8h0M486.8 783.4h0M541.5 672.6h0M463.3 688.4h0M484.2 733.1h0M506.3 738.7h0M500.0 770.0h0M519.4 765.8h0M523.8 732.2h0M451.1 672.0h0M479.6 759.3h0M449.2 665.6h0M481.8 760.6h0M485.0 615.9h0M529.3 738.0h0M528.8 779.5h0M491.1 748.8h0M493.8 776.1h0M541.8 793.7h0M474.4 661.0h0M465.8 772.6h0M572.7 731.1h0M484.3 714.5h0M514.1 757.4h0M518.9 698.4h0M444.5 694.6h0M553.2 680.1h0M477.9 698.9h0M505.1 772.5h0M457.7 771.5h0M557.3 718.8h0M460.8 761.6h0M499.2 764.7h0M543.4 763.2h0M505.4 774.9h0M531.0 674.1h0M439.7 671.7h0M516.7 684.3h0M538.5 699.7h0M457.0 681.6h0M550.5 654.1h0M459.4 751.6h0M470.0 697.9h0M462.0 667.1h0M545.5 655.3h0M446.7 659.5h0M522.2 676.7h0M499.3 728.9h0M475.6 690.3h0M459.3 675.6h0M455.5 672.9h0M568.8 733.4h0M488.4 757.2h0M548.3 676.9h0M523.7 795.4h0M481.5 773.7h0M500.9 657.5h0M453.3 754.2h0M564.3 751.7h0M457.0 640.1h0M525.0 777.9h0M562.1 692.4h0M528.8 709.3h0M457.4 764.2h0M497.6 750.4h0M499.8 687.1h0M453.1 735.1h0M513.3 721.7h0M458.2 684.1h0M461.3 698.0h0M534.2 733.4h0M524.5 648.5h0M469.4 681.2h0M454.1 673.9h0M494.1 666.7h0M522.3 683.1h0M456.8 665.5h0M449.4 719.6h0M448.5 678.7h0M453.0 663.9h0M559.1 758.3h0M485.3 660.4h0M518.9 755.6h0M467.0 724.9h0M561.0 696.0h0M481.0 757.1h0M520.2 741.7h0M463.4 728.6h0M465.9 715.0h0M562.7 745.2h0M541.5 649.6h0M566.2 678.5h0M551.7 712.9h0M486.4 622.1h0M562.9 733.7h0M494.2 754.5h0M512.6 784.6h0M451.3 689.5h0M447.9 686.5h0M474.7 709.6h0M550.6 646.8h0M522.6 702.1h0M493.7 614.1h0M444.9 744.9h0M492.1 697.7h0M490.5 721.3h0M470.4 641.4h0M472.0 737.0h0M467.9 677.3h0M516.4 661.3h0M496.0 606.0h0M470.2 644.5h0M499.2 715.6h0M559.4 767.1h0M540.8 638.5h0M505.7 664.9h0M470.8 675.6h0M553.0 651.6h0M571.3 743.5h0M497.2 651.5h0M508.1 680.7h0M534.9 721.1h0M572.7 716.9h0M549.3 771.0h0M454.1 657.1h0M447.2 752.0h0M444.6 669.3h0M493.0 768.3h0M580.1 715.5h0M527.7 788.7h0M441.8 688.6h0M515.4 795.5h0M529.5 760.0h0M561.7 726.1h0M451.1 722.7h0M454.5 676.7h0M493.7 661.3h0M482.2 721.4h0M463.2 696.4h0M522.9 769.4h0M511.1 745.6h0M535.4 686.0h0M460.1 643.2h0M505.9 703.8h0M548.9 697.5h0M554.4 680.8h0M567.4 686.8h0M511.0 719.1h0M506.8 758.4h0M537.0 648.6h0M517.3 646.6h0M515.2 727.3h0M531.4 661.4h0M457.9 718.1h0M527.4 745.6h0M517.3 786.2h0M458.5 751.7h0M528.4 756.1h0M484.0 670.0h0M543.6 767.5h0M532.3 738.5h0M544.6 648.2h0M481.6 634.2h0M541.2 686.4h0M548.3 677.0h0M461.8 769.9h0M459.1 707.0h0M467.0 773.2h0M517.5 697.3h0M528.8 681.7h0M505.4 777.0h0M487.2 718.7h0M529.6 695.1h0M479.4 682.5h0M519.1 663.7h0M474.9 769.1h0M438.6 692.7h0M466.8 769.3h0M482.5 770.0h0M501.5 640.1h0M477.9 724.1h0M562.9 702.6h0M512.0 777.6h0M497.6 662.4h0M437.4 715.1h0M482.7 750.4h0M547.5 691.1h0M451.0 668.9h0M520.1 668.4h0M453.2 684.5h0M511.3 725.7h0M549.1 731.2h0M530.3 765.8h0M507.7 780.8h0M565.5 756.1h0M533.4 696.3h0M480.4 776.6h0M498.4 651.4h0M517.3 710.3h0M511.2 657.7h0M542.9 670.7h0M444.2 698.0h0M535.9 724.8h0M457.4 733.8h0M544.9 654.6h0M482.2 743.1h0M450.7 651.5h0M473.0 690.4h0M492.1 651.5h0M492.0 770.8h0M486.0 743.1h0M451.1 762.3h0M536.5 696.3h0M548.6 760.0h0M482.4 727.9h0M504.5 788.8h0M447.4 726.2h0M523.9 766.0h0M477.1 664.6h0M501.3 788.6h0M468.2 722.9h0M537.1 771.5h0M560.9 702.8h0M513.9 743.7h0M495.0 704.4h0M504.6 636.5h0M450.8 660.3h0M532.6 698.9h0M536.1 743.9h0M483.9 767.7h0M441.9 707.8h0M520.7 689.0h0M481.5 699.4h0M567.3 738.8h0M529.0 716.8h0M471.3 676.0h0M522.0 690.1h0M544.5 745.7h0M557.3 730.1h0M489.3 757.3h0M571.5 741.7h0M482.0 769.5h0M505.4 738.9h0M476.2 716.8h0M558.0 737.4h0M566.0 708.5h0M535.7 746.2h0M513.5 792.1h0M467.8 723.1h0M486.8 700.7h0M567.9 695.8h0M441.6 670.0h0M551.7 731.9h0M543.1 737.3h0M450.1 735.9h0M503.4 621.3h0M538.6 740.9h0M464.7 684.6h0M528.0 767.0h0M499.8 659.7h0M575.5 725.9h0M454.2 648.5h0M529.5 659.3h0M515.0 645.8h0M531.3 776.0h0M517.7 733.1h0M530.9 741.3h0M551.7 700.0h0M505.3 650.7h0M495.9 750.3h0M557.6 723.6h0M461.0 675.1h0M462.9 767.8h0M534.9 766.8h0M494.0 712.9h0M519.6 709.5h0M536.1 727.9h0M567.9 688.0h0M536.7 701.6h0M528.4 750.8h0M510.4 704.2h0M557.7 744.1h0M519.9 779.6h0M495.7 741.1h0M544.7 754.2h0M445.6 674.1h0M501.5 785.3h0M501.8 788.5h0M499.9 739.0h0M510.7 751.4h0M527.4 701.9h0M509.4 775.1h0M468.8 684.3h0M548.8 761.4h0M461.6 695.1h0M473.1 737.0h0M469.6 707.5h0M474.4 680.5h0M546.7 649.0h0M446.2 695.3h0M546.4 643.6h0M466.4 722.0h0M457.0 724.1h0M503.7 764.5h0M465.8 704.9h0M520.0 686.0h0M557.4 770.8h0M455.3 739.6h0M471.0 678.2h0M515.1 725.9h0M508.6 659.6h0M529.1 674.5h0M548.1 669.0h0M493.3 736.5h0M537.8 751.1h0M517.0 698.5h0M559.7 768.2h0M539.1 753.2h0M470.3 646.1h0M469.1 741.5h0M473.9 666.9h0M532.6 787.1h0M558.0 670.6h0M530.7 783.1h0M546.8 701.8h0M528.0 761.1h0M514.3 661.9h0M542.5 753.4h0M480.5 764.9h0M490.5 705.1h0M535.0 657.1h0M503.8 660.1h0M563.3 754.0h0M514.0 761.3h0M524.1 719.2h0M466.6 643.2h0M467.6 760.9h0" stroke="#2e3f48" stroke-width="4.6" stroke-linecap="round"/>
<path d="M537.5 749.4h0M526.5 744.8h0M523.7 693.4h0M504.0 652.8h0M474.1 732.1h0M465.4 652.6h0M523.7 728.9h0M443.5 710.5h0M521.7 793.2h0M517.6 681.8h0M484.6 637.0h0M447.6 652.0h0M563.1 701.7h0M465.9 693.1h0M482.5 630.3h0M530.4 718.7h0M562.8 754.8h0M474.8 774.1h0M559.6 759.1h0M567.0 740.4h0M487.7 729.9h0M482.9 647.1h0M589.5 713.5h0M544.7 741.6h0M556.7 673.3h0M519.5 626.1h0M488.8 637.1h0M575.5 702.1h0M568.5 741.1h0M450.2 719.6h0M501.7 727.6h0M542.6 778.4h0M457.1 645.0h0M481.9 783.2h0M568.7 721.3h0M502.1 634.9h0M498.0 607.7h0M542.1 767.5h0M460.6 722.6h0M550.9 752.1h0M526.0 789.8h0M492.4 782.1h0M456.0 751.5h0M540.4 765.4h0M575.2 716.4h0M500.8 621.8h0M523.7 729.0h0M520.2 644.9h0M581.9 698.3h0M482.8 737.7h0M455.1 711.2h0M469.1 646.1h0M598.7 702.4h0M526.6 630.1h0M468.9 710.9h0M456.3 656.5h0M535.9 647.0h0M505.8 661.6h0M541.5 789.4h0M518.6 653.3h0M502.3 606.4h0M466.4 638.9h0M495.8 616.6h0M519.1 644.8h0M451.1 700.3h0M527.6 681.3h0M523.5 698.7h0M488.8 714.0h0M443.4 708.2h0M585.6 705.1h0M507.3 638.4h0M508.6 714.9h0M521.2 656.0h0M501.2 629.1h0M499.9 648.6h0M524.2 780.8h0M465.2 650.6h0M545.1 775.4h0M524.1 742.9h0M503.5 663.3h0M465.1 655.4h0M537.1 637.7h0M532.3 644.8h0M526.2 771.4h0M512.6 626.9h0M522.5 640.7h0M591.0 704.9h0M469.4 694.0h0M472.0 683.6h0M520.5 756.3h0M479.8 756.3h0M534.3 700.0h0M488.6 630.4h0M520.6 746.0h0M485.3 624.0h0M476.6 635.7h0M510.8 695.0h0M514.8 628.9h0M539.6 657.2h0M526.7 641.9h0M530.7 668.9h0M464.3 646.5h0M476.7 668.3h0M438.1 716.6h0M557.1 668.4h0M503.6 731.8h0M557.7 731.4h0M546.4 644.8h0M492.2 714.2h0M581.0 724.8h0M553.7 647.4h0M540.6 645.3h0M528.1 750.6h0M471.5 679.7h0M502.1 793.2h0M504.1 699.7h0M509.4 788.6h0M460.8 698.7h0M575.7 731.1h0M497.5 641.9h0M524.0 750.7h0M569.2 701.6h0M510.2 645.4h0M481.0 721.2h0M487.0 616.9h0M534.9 642.6h0M570.8 700.0h0M540.6 682.1h0M457.5 702.0h0M466.6 645.8h0M506.4 612.4h0M490.7 621.7h0M575.3 695.7h0M460.0 676.7h0M564.3 742.8h0M555.6 726.1h0M516.3 739.7h0M577.1 708.8h0M457.0 641.8h0M517.5 641.6h0M512.1 726.0h0M451.0 653.1h0M522.0 690.5h0M523.3 670.9h0M450.9 716.3h0M537.6 637.2h0M494.9 762.7h0M452.4 763.4h0M449.9 715.1h0" stroke="#384b56" stroke-width="4.6" stroke-linecap="round"/>
<path d="M510.3 700.1h0M492.4 679.9h0M484.5 766.1h0M593.7 715.0h0M501.1 743.4h0M533.7 725.6h0M501.3 680.7h0M497.0 667.4h0M513.9 681.4h0M458.7 766.5h0M491.2 664.0h0M467.9 717.6h0M471.8 654.5h0M490.3 654.8h0M501.1 707.4h0M485.7 697.6h0M489.3 694.9h0M509.3 649.4h0M492.0 680.2h0M501.5 676.3h0M493.4 746.4h0M549.3 657.6h0M533.1 688.3h0M446.7 693.7h0M539.3 676.8h0M507.3 621.9h0M559.2 657.8h0M480.7 705.5h0M496.5 606.8h0M588.8 718.4h0M530.5 665.3h0M497.6 731.9h0M511.3 698.6h0M485.7 733.8h0M476.1 706.5h0M465.8 725.4h0M490.5 701.5h0M476.1 637.2h0M490.7 718.4h0M525.1 641.1h0M477.5 694.7h0M490.5 644.7h0M478.9 688.9h0M573.1 702.8h0M545.7 752.2h0M458.0 669.3h0M510.4 691.8h0M498.3 621.0h0M571.7 726.2h0M519.2 644.8h0M581.3 723.2h0M497.7 675.3h0M578.0 725.5h0M474.1 712.3h0M497.6 660.3h0M506.0 734.8h0M487.9 677.3h0M447.7 741.9h0M501.4 624.4h0M586.4 697.7h0M574.8 723.4h0M504.7 650.5h0M554.5 676.5h0M470.4 719.3h0M487.0 737.1h0M488.4 664.5h0M507.3 628.5h0M497.4 755.5h0M554.7 765.8h0M539.8 720.1h0M486.8 682.0h0M593.6 715.8h0M446.0 722.9h0M497.8 718.7h0M534.3 642.1h0M558.7 668.3h0M503.3 615.5h0M469.3 641.0h0M466.2 675.8h0M574.0 727.6h0M485.6 734.6h0M581.5 702.8h0M508.5 679.3h0M469.1 771.7h0M478.3 661.8h0M588.0 714.5h0M491.1 735.3h0M571.3 723.2h0M551.9 681.4h0M569.1 700.8h0M543.0 692.9h0" stroke="#4b6371" stroke-width="4.6" stroke-linecap="round"/>
<path d="M480.4 641.2h0M488.1 618.5h0M480.5 707.8h0M508.5 659.4h0M478.5 640.5h0M470.8 642.0h0M489.6 732.7h0M507.9 688.3h0M478.1 706.9h0M506.3 727.4h0M491.2 635.7h0M576.1 705.8h0M495.8 705.9h0M494.2 612.5h0M565.6 770.2h0M496.1 636.2h0M462.9 682.9h0M487.0 645.2h0M503.3 679.2h0M481.2 657.9h0M501.2 676.5h0M477.8 696.2h0M508.1 691.8h0M551.6 707.3h0M495.1 769.5h0M490.6 763.5h0M507.2 633.7h0M540.3 641.9h0M473.3 740.8h0M484.2 633.2h0M493.4 666.3h0M495.9 713.2h0M494.7 636.8h0M493.1 682.5h0M501.8 725.2h0M462.6 693.8h0M473.1 708.3h0M577.1 695.7h0M503.3 733.0h0M484.8 619.5h0M466.3 723.0h0M497.5 607.3h0M498.0 719.5h0M455.4 644.0h0M489.1 612.2h0M459.0 641.6h0M589.6 718.4h0M464.5 637.2h0M516.2 628.2h0M530.2 644.7h0M525.6 637.5h0M493.8 676.6h0M530.0 782.8h0M584.7 699.9h0M568.1 711.8h0M572.3 705.8h0M502.0 764.2h0M580.0 705.9h0M519.1 639.3h0M481.3 644.6h0M536.0 677.4h0M459.2 759.4h0M483.1 698.8h0M487.3 717.1h0M574.1 701.6h0M507.1 679.0h0M516.1 701.7h0M503.9 707.5h0M490.9 626.7h0M543.6 788.5h0M514.1 728.2h0M520.5 643.4h0M585.0 711.7h0M531.4 637.8h0M502.5 739.7h0M478.9 705.9h0M504.1 731.0h0M469.7 708.5h0M550.6 775.7h0M511.2 762.8h0M588.2 702.5h0M458.2 658.1h0M488.6 679.1h0M533.3 639.2h0M501.7 610.9h0M531.7 779.3h0M527.8 669.9h0M502.7 721.0h0M483.7 678.2h0M551.5 736.2h0M448.3 701.7h0M491.4 623.3h0M522.5 651.9h0M487.6 707.0h0M445.0 702.6h0M513.9 737.4h0M588.1 704.9h0M508.9 636.7h0M483.9 642.0h0M577.3 717.4h0M549.4 672.7h0M544.4 642.5h0M491.8 713.1h0M500.7 692.3h0M520.5 635.7h0M507.2 713.6h0M469.7 639.7h0M549.6 766.8h0M517.2 690.5h0M477.8 727.5h0M498.2 677.9h0M529.9 775.7h0M590.3 700.6h0M570.6 732.9h0M499.6 749.2h0M497.5 639.1h0M482.8 688.1h0M516.4 625.3h0M452.5 655.0h0M486.2 671.0h0M506.2 710.9h0M547.2 643.5h0M508.1 614.2h0M595.9 702.3h0M479.1 643.3h0M466.9 716.6h0M456.8 646.3h0M542.7 641.9h0M512.5 718.8h0M523.0 631.6h0M591.5 716.0h0M493.7 652.8h0M493.9 730.0h0M468.9 650.0h0" stroke="#465d6a" stroke-width="4.6" stroke-linecap="round"/>
<path d="M580.7 698.4h0M496.6 696.8h0M485.0 782.4h0M554.6 771.2h0M558.7 733.4h0M565.3 703.2h0M451.0 728.0h0M498.7 711.2h0M496.4 668.2h0M493.7 717.2h0M453.1 669.8h0M503.4 671.2h0M487.4 716.0h0M488.3 715.3h0M533.2 720.4h0M495.7 722.4h0M478.7 725.0h0M518.7 680.2h0M533.3 683.2h0M597.4 704.4h0M448.4 744.6h0M482.5 727.4h0M527.8 699.7h0M513.6 717.9h0M445.6 689.3h0M484.7 742.4h0M507.4 713.2h0M458.1 650.8h0M497.3 699.9h0M580.4 716.0h0M565.2 764.4h0M597.9 706.5h0M562.9 713.0h0M486.4 654.9h0M494.4 732.2h0M599.2 703.7h0" stroke="#546f7e" stroke-width="4.6" stroke-linecap="round"/>
<line x1="100.0" y1="503.6" x2="100.0" y2="810.6" stroke="#000" stroke-width="2.2"/>
<line x1="98.9" y1="809.6" x2="623.5" y2="809.6" stroke="#000" stroke-width="2.2"/>
<line x1="92.5" y1="514.9" x2="100.0" y2="514.9" stroke="#333" stroke-width="2.4"/>
<text x="82.3" y="525.3" font-size="30" text-anchor="end">6</text>
<line x1="92.5" y1="584.4" x2="100.0" y2="584.4" stroke="#333" stroke-width="2.4"/>
<text x="82.3" y="594.8" font-size="30" text-anchor="end">3</text>
<line x1="92.5" y1="653.8" x2="100.0" y2="653.8" stroke="#333" stroke-width="2.4"/>
<text x="82.3" y="664.2" font-size="30" text-anchor="end">0</text>
<line x1="92.5" y1="723.2" x2="100.0" y2="723.2" stroke="#333" stroke-width="2.4"/>
<text x="82.3" y="733.6" font-size="30" text-anchor="end">−3</text>
<line x1="92.5" y1="792.7" x2="100.0" y2="792.7" stroke="#333" stroke-width="2.4"/>
<text x="82.3" y="803.1" font-size="30" text-anchor="end">−6</text>
<line x1="174.0" y1="809.6" x2="174.0" y2="817.1" stroke="#333" stroke-width="2.4"/>
<text x="174.0" y="848.8" font-size="30" text-anchor="middle">−10</text>
<line x1="293.5" y1="809.6" x2="293.5" y2="817.1" stroke="#333" stroke-width="2.4"/>
<text x="293.5" y="848.8" font-size="30" text-anchor="middle">−5</text>
<line x1="413.0" y1="809.6" x2="413.0" y2="817.1" stroke="#333" stroke-width="2.4"/>
<text x="413.0" y="848.8" font-size="30" text-anchor="middle">0</text>
<line x1="532.5" y1="809.6" x2="532.5" y2="817.1" stroke="#333" stroke-width="2.4"/>
<text x="532.5" y="848.8" font-size="30" text-anchor="middle">5</text>
<defs><linearGradient id="gpt" x1="0" x2="1" y1="0" y2="0"><stop offset="0.000" stop-color="rgb(239, 241, 242)"/><stop offset="0.324" stop-color="rgb(160, 177, 187)"/><stop offset="0.647" stop-color="rgb(84, 111, 126)"/><stop offset="0.971" stop-color="rgb(37, 51, 59)"/></linearGradient><linearGradient id="ggp" x1="0" x2="1" y1="0" y2="0"><stop offset="0.000" stop-color="rgb(252, 233, 227)"/><stop offset="0.311" stop-color="rgb(243, 146, 118)"/><stop offset="0.621" stop-color="rgb(232, 86, 46)"/><stop offset="0.994" stop-color="rgb(190, 52, 36)"/></linearGradient></defs>
<rect x="169.4" y="724.2" width="174.7" height="17.1" fill="url(#gpt)"/>
<line x1="169.7" y1="724.2" x2="169.7" y2="727.4" stroke="#fff" stroke-width="1.2"/>
<line x1="169.7" y1="738.1" x2="169.7" y2="741.3" stroke="#fff" stroke-width="1.2"/>
<line x1="225.9" y1="724.2" x2="225.9" y2="727.4" stroke="#fff" stroke-width="1.2"/>
<line x1="225.9" y1="738.1" x2="225.9" y2="741.3" stroke="#fff" stroke-width="1.2"/>
<line x1="282.7" y1="724.2" x2="282.7" y2="727.4" stroke="#fff" stroke-width="1.2"/>
<line x1="282.7" y1="738.1" x2="282.7" y2="741.3" stroke="#fff" stroke-width="1.2"/>
<line x1="339.5" y1="724.2" x2="339.5" y2="727.4" stroke="#fff" stroke-width="1.2"/>
<line x1="339.5" y1="738.1" x2="339.5" y2="741.3" stroke="#fff" stroke-width="1.2"/>
<text x="258.6" y="714.6" font-size="19" text-anchor="middle" textLength="107.8" lengthAdjust="spacingAndGlyphs">Pseudotime</text>
<text x="169.4" y="764.2" font-size="19.5" text-anchor="middle">0</text>
<text x="226.2" y="764.2" font-size="19.5" text-anchor="middle">5</text>
<text x="284.0" y="764.2" font-size="19.5" text-anchor="middle">10</text>
<text x="339.5" y="764.2" font-size="19.5" text-anchor="middle">15</text>
<text x="680.5" y="512.4" font-size="44" font-weight="bold">d</text>
<path d="M918.8 515.5 L927.5 520.8 L937.5 533.0 L942.0 544.5 L942.0 559.0 L938.0 567.0 L943.5 577.0 L945.0 589.5 L943.1 605.8 L937.5 617.0 L927.5 629.5 L911.5 636.4 L895.0 635.8 L883.5 639.5 L877.5 650.8 L873.8 663.3 L868.8 667.5 L865.5 663.3 L866.3 651.0 L862.5 644.5 L866.3 639.5 L871.5 633.0 L860.0 628.3 L847.5 623.0 L840.5 613.0 L838.5 597.0 L837.5 584.5 L835.5 573.0 L841.5 564.0 L848.8 562.0 L857.5 552.0 L875.0 543.3 L888.8 538.3 L897.5 532.0 L907.5 519.5 L915.0 515.8Z" fill="#f9dbd1"/>
<path d="M864.3 611.8h0M868.6 586.6h0M860.4 588.1h0M924.9 609.3h0M868.7 620.1h0M879.6 575.2h0M943.3 587.8h0M899.3 574.4h0M940.7 608.4h0M876.7 595.6h0M885.7 606.2h0M875.9 637.7h0M925.6 629.7h0M864.5 595.2h0M907.0 584.7h0M873.0 610.0h0M870.5 584.8h0M931.4 586.7h0M852.4 575.9h0M890.3 628.9h0M875.0 636.1h0M863.5 597.6h0M902.5 598.7h0M940.1 586.0h0M881.9 609.8h0M885.6 602.9h0M897.2 582.6h0M870.4 648.2h0M842.8 592.8h0M869.8 644.6h0M905.3 605.8h0M852.3 609.8h0M860.8 589.3h0M844.3 591.1h0M864.0 615.5h0M897.3 634.0h0M860.9 596.7h0M926.3 612.6h0M868.9 582.8h0M869.2 604.6h0M849.6 569.3h0M929.4 568.0h0M934.9 575.2h0M866.1 647.5h0M939.2 613.4h0M939.6 570.4h0M909.7 601.3h0M930.7 574.6h0M863.2 568.5h0M926.3 608.7h0M899.2 584.0h0M912.8 576.7h0M906.7 629.4h0M908.9 599.2h0M908.6 612.5h0M915.1 633.6h0M870.0 600.6h0M915.7 600.3h0M868.2 571.9h0M911.1 567.4h0M894.0 630.0h0M914.8 620.1h0M899.5 604.0h0M858.5 609.2h0M856.0 624.0h0M878.3 614.3h0M866.7 592.0h0M873.3 609.9h0M908.4 576.1h0M899.0 570.6h0M917.6 575.8h0M908.6 609.9h0M876.6 607.7h0M915.4 602.9h0M937.6 602.5h0M894.3 630.6h0M942.5 577.7h0M863.8 619.0h0M864.7 588.2h0M891.3 601.6h0M897.7 634.8h0M893.7 572.7h0M920.0 587.6h0M863.9 594.5h0M894.5 573.7h0M875.2 575.3h0M921.7 594.9h0M875.0 579.2h0M850.3 608.7h0M938.4 577.9h0M921.7 591.7h0M837.5 576.6h0M920.4 625.6h0M870.7 623.9h0M895.5 610.0h0M916.4 575.9h0M886.6 571.3h0M875.6 619.9h0M848.8 571.5h0M931.2 576.4h0M870.5 629.1h0M838.8 578.2h0M897.5 629.6h0M935.9 580.3h0M871.9 623.0h0M866.6 646.9h0M918.4 597.6h0M915.6 628.3h0M911.4 581.3h0M894.6 587.4h0M883.5 593.3h0M846.1 573.0h0M934.2 587.7h0M897.0 590.9h0M935.9 609.4h0M887.4 625.4h0M930.4 618.5h0M932.3 589.1h0M841.6 576.5h0M867.4 627.3h0M940.2 604.2h0M861.6 585.8h0M860.2 610.9h0M876.0 621.4h0M901.6 609.3h0M866.7 641.3h0M868.6 615.0h0M852.9 619.3h0M918.1 620.2h0M900.4 601.5h0" stroke="#fce9e3" stroke-width="5" stroke-linecap="round"/>
<path d="M848.7 597.1h0M893.9 620.2h0M908.0 636.1h0M866.1 575.4h0M884.3 638.3h0M883.9 603.3h0M889.2 631.5h0M878.9 648.0h0M874.4 585.9h0M926.5 532.9h0M905.2 554.1h0M900.9 539.5h0M914.1 609.3h0M881.4 566.0h0M849.3 584.3h0M919.5 585.8h0M885.0 604.2h0M930.1 620.9h0M847.4 581.4h0M875.0 629.5h0M844.2 610.3h0M886.0 595.6h0M941.8 592.3h0M914.9 534.5h0M849.5 604.0h0M931.0 583.6h0M893.8 624.9h0M912.8 577.5h0M922.8 590.3h0M940.6 595.4h0M884.1 578.1h0M927.2 588.1h0M856.8 607.3h0M877.6 634.3h0M880.5 619.1h0M849.3 613.1h0M921.2 600.9h0M877.1 608.0h0M906.2 574.3h0M935.5 596.4h0M909.5 540.8h0M909.4 544.4h0M896.3 583.4h0M921.5 594.2h0M848.7 570.9h0M908.1 598.2h0M856.0 611.0h0M865.3 625.8h0M900.1 577.0h0M877.1 562.3h0M841.2 567.7h0M910.3 557.3h0M857.8 569.3h0M927.9 589.7h0M895.8 620.7h0M905.5 578.6h0M841.4 587.9h0M914.4 587.9h0M889.3 630.9h0M899.5 601.1h0M941.4 549.2h0M876.4 574.4h0M859.7 594.4h0M898.7 567.9h0M869.0 655.7h0M911.4 604.8h0M869.6 647.3h0M926.4 539.2h0M932.5 532.5h0M883.2 628.9h0M921.4 598.1h0M876.9 599.7h0M852.3 599.8h0M930.0 596.6h0M929.4 598.0h0M930.2 556.9h0M872.0 634.3h0M909.6 518.9h0M869.5 607.5h0M880.9 585.1h0M860.1 625.8h0M876.4 649.0h0M923.0 612.4h0M905.2 596.8h0M918.8 616.5h0M879.0 574.2h0M854.2 570.5h0M896.6 581.7h0M910.4 558.5h0M942.3 580.0h0M836.5 574.1h0M882.9 628.2h0M845.2 617.5h0M901.4 591.4h0M852.1 586.9h0M874.2 572.0h0M881.5 599.1h0M863.1 603.1h0M864.8 598.1h0M873.0 639.5h0M879.2 643.6h0M931.4 594.6h0M871.2 580.4h0M894.6 579.3h0M934.0 557.5h0M887.8 552.5h0M935.8 573.6h0M877.9 633.9h0M851.1 611.9h0M882.9 620.5h0M936.2 563.0h0M931.5 571.0h0M895.2 583.3h0M875.9 589.2h0M894.3 614.5h0M922.9 534.3h0M865.3 576.4h0M845.2 575.3h0M898.7 578.5h0M854.9 606.0h0M915.4 622.0h0M880.4 572.6h0M896.4 594.1h0M928.6 592.6h0M869.2 639.5h0M885.1 587.5h0M922.9 571.7h0M890.2 591.5h0M867.0 575.7h0M885.5 616.0h0M930.5 600.4h0M888.1 630.3h0M904.3 582.1h0M888.8 587.6h0M903.0 616.5h0M938.3 610.3h0M916.8 521.4h0M845.1 589.7h0M921.0 583.6h0M927.1 569.0h0M894.7 600.1h0M906.9 594.6h0M930.0 572.2h0M899.8 613.1h0M924.5 598.7h0M886.5 609.3h0M847.2 613.1h0M901.3 586.4h0M929.0 605.7h0M874.8 624.2h0M902.9 583.0h0M876.8 612.4h0M922.1 602.1h0M891.4 629.2h0M913.7 585.1h0M921.8 531.2h0M884.0 621.1h0M857.3 622.0h0M851.8 609.1h0M914.7 577.9h0M842.9 569.9h0M855.7 616.1h0M859.3 592.8h0M894.1 570.1h0M914.4 533.9h0M863.9 624.9h0M906.5 580.7h0M876.7 578.0h0M871.9 651.3h0M931.5 563.1h0M904.3 618.2h0M937.3 606.6h0M916.3 576.8h0M913.5 612.7h0M864.7 571.5h0M929.5 561.2h0M852.3 589.4h0M880.9 571.2h0M912.9 573.9h0M881.1 621.0h0M940.2 552.2h0M896.9 587.6h0M851.3 620.3h0M898.5 588.6h0M877.9 599.1h0M910.7 545.9h0M888.6 620.0h0M900.2 631.1h0M925.7 627.0h0M897.7 558.4h0M904.4 584.0h0M930.2 602.4h0M847.3 622.1h0M885.3 613.2h0M877.3 574.2h0M844.7 612.6h0M873.0 653.6h0M893.0 610.2h0M920.1 624.2h0M935.2 604.0h0M943.7 589.1h0" stroke="#fbdcd3" stroke-width="5" stroke-linecap="round"/>
<path d="M914.4 580.0h0M907.7 576.4h0M900.4 554.0h0M938.9 559.0h0M878.4 586.1h0M912.7 559.9h0M847.5 586.8h0M899.5 541.8h0M937.0 548.0h0M870.3 598.6h0M923.1 616.5h0M875.2 558.4h0M922.2 541.8h0M866.5 621.5h0M926.0 612.3h0M877.3 565.5h0M871.0 546.8h0M845.8 615.8h0M937.8 604.4h0M841.1 612.5h0M890.2 592.1h0M916.2 534.2h0M869.0 597.0h0M918.2 575.8h0M884.8 575.5h0M901.6 544.8h0M911.0 628.4h0M893.0 626.6h0M855.5 557.6h0M852.3 582.5h0M911.2 571.8h0M902.9 528.2h0M903.7 558.7h0M874.0 551.0h0M839.3 582.5h0M858.6 605.9h0M932.3 593.7h0M934.2 530.0h0M838.1 577.3h0M862.2 573.4h0M888.9 574.6h0M836.1 574.6h0M886.3 627.2h0M877.9 584.3h0M928.9 553.5h0M897.9 602.8h0M892.5 572.6h0M876.3 607.3h0M885.0 548.8h0M939.9 609.1h0M894.1 559.4h0M938.7 536.4h0M931.7 544.2h0M919.6 577.3h0M927.7 537.3h0M923.6 528.8h0M896.6 622.7h0M851.7 614.0h0M910.7 535.3h0M914.3 522.4h0M864.9 622.7h0M942.1 579.3h0M938.8 556.1h0M924.6 547.0h0M916.0 553.9h0M841.6 611.0h0M898.1 571.1h0M901.2 563.2h0M914.3 529.0h0M933.6 589.0h0M923.3 612.3h0M906.5 618.9h0M928.6 523.0h0M884.0 543.6h0M923.2 536.4h0M938.3 562.6h0M894.3 576.0h0M916.8 563.7h0M857.3 562.7h0M875.5 612.3h0M888.9 633.2h0M903.9 557.5h0M842.0 609.2h0M920.4 586.5h0M913.0 522.6h0M884.3 548.6h0M928.3 603.1h0M908.9 553.1h0M873.6 607.6h0M891.6 557.0h0M938.2 561.5h0M904.8 545.2h0M860.9 583.1h0M897.3 562.8h0M930.6 526.8h0M889.6 587.1h0M881.8 580.8h0M902.9 584.6h0M892.0 551.6h0M867.7 606.6h0M858.0 555.6h0M911.1 596.2h0M882.5 562.1h0M875.6 652.7h0M882.9 558.8h0M915.0 622.3h0M879.8 556.3h0M888.0 607.2h0M929.6 540.1h0M896.8 556.7h0M895.6 619.2h0M924.5 559.5h0M905.4 596.2h0M902.7 542.4h0M888.7 562.9h0M891.3 547.7h0M839.8 605.5h0M925.9 524.9h0M868.0 579.4h0M937.7 612.0h0M905.8 599.7h0M933.2 544.1h0M877.9 602.3h0M937.9 578.0h0M918.1 531.3h0M893.5 566.6h0M900.2 564.7h0M940.0 600.0h0M916.4 610.4h0M891.0 542.2h0M880.5 617.1h0M938.7 553.6h0M884.0 567.6h0M925.5 550.1h0M875.6 586.0h0M900.2 571.1h0M916.4 520.4h0M892.9 568.1h0M897.7 566.1h0M941.1 549.6h0M920.5 567.6h0M914.0 579.7h0M875.3 617.6h0M883.5 606.6h0M927.7 626.3h0M847.8 573.9h0M879.5 595.8h0M883.3 622.8h0M935.8 567.2h0M899.4 612.2h0M899.1 612.4h0M937.3 543.7h0M884.0 570.0h0M853.2 572.9h0M876.7 621.8h0M926.1 547.2h0M913.2 546.2h0M911.6 555.5h0M865.4 619.3h0M904.9 579.0h0M926.7 542.7h0M926.5 523.4h0M869.6 590.8h0M916.2 517.5h0M878.6 561.3h0M904.9 625.0h0M850.0 599.2h0M906.5 633.4h0M939.7 575.4h0M912.5 564.3h0M881.9 563.3h0M913.1 579.9h0M853.4 583.8h0M870.7 615.8h0M883.6 618.2h0M913.6 525.9h0M843.0 590.1h0M924.6 543.9h0M917.0 567.8h0M872.4 602.5h0M919.4 619.4h0M881.5 542.5h0M936.7 542.3h0M870.0 612.0h0M910.4 566.0h0M859.8 608.8h0M935.7 591.1h0M865.1 620.3h0M859.8 590.0h0M930.6 541.9h0M918.6 581.8h0M929.9 574.8h0M893.2 574.7h0M924.6 588.5h0M852.7 613.4h0M882.5 609.5h0M931.6 573.0h0M904.1 567.2h0M871.9 627.4h0M941.2 589.3h0M913.0 562.0h0M877.6 595.5h0M894.4 561.9h0M926.8 574.2h0M937.9 554.4h0M923.0 592.2h0M876.6 599.1h0M922.6 595.7h0M851.1 564.7h0M913.1 598.3h0M838.5 580.0h0M936.5 549.7h0M841.0 572.5h0M925.6 628.1h0M867.6 554.0h0" stroke="#f9cfc2" stroke-width="5" stroke-linecap="round"/>
<path d="M905.3 572.4h0M883.1 609.0h0M902.1 623.8h0M936.7 545.3h0M898.0 536.5h0M911.3 558.6h0M885.5 636.9h0M868.8 558.3h0M861.9 556.9h0M880.0 616.4h0M904.4 527.1h0M926.5 564.1h0M911.2 591.4h0M934.4 579.2h0M892.7 564.1h0M893.3 627.7h0M928.6 626.8h0M869.5 620.4h0M928.5 579.2h0M936.3 601.0h0M920.8 594.6h0M900.6 536.7h0M899.9 555.8h0M861.3 561.0h0M904.5 545.8h0M889.7 585.1h0M928.8 615.8h0M934.9 558.0h0M932.3 560.5h0M904.9 600.7h0M862.2 596.8h0M906.4 538.3h0M903.4 548.8h0M914.7 529.3h0M939.6 546.5h0M869.5 620.9h0M893.8 554.7h0M941.9 603.9h0M904.2 528.1h0M927.2 566.0h0M858.8 604.0h0M881.4 598.6h0M863.4 645.3h0M850.3 573.7h0M928.7 529.7h0M852.1 560.6h0M864.8 555.7h0M926.7 604.1h0M878.8 556.7h0M912.4 565.9h0M884.0 621.1h0M857.0 577.2h0M898.7 616.5h0M891.3 551.2h0M908.6 531.5h0M899.3 539.8h0M929.7 537.3h0M907.5 544.4h0M845.8 579.2h0M930.7 539.8h0M909.4 532.0h0M925.8 600.8h0" stroke="#f49b81" stroke-width="5" stroke-linecap="round"/>
<path d="M904.0 597.1h0M891.9 550.6h0M873.9 623.7h0M933.0 594.5h0M874.0 613.2h0M869.2 553.2h0M918.2 594.7h0M904.8 595.4h0M874.1 558.0h0M907.3 558.4h0M911.0 592.1h0M881.5 597.8h0M877.4 611.2h0M865.9 555.1h0M893.0 622.9h0M904.4 530.9h0M903.8 576.9h0" stroke="#df4f2c" stroke-width="5" stroke-linecap="round"/>
<path d="M905.1 596.9h0M878.1 640.9h0M874.6 568.0h0M916.7 554.3h0M894.5 555.5h0M896.0 555.1h0M870.1 573.5h0M847.6 593.5h0M850.7 585.8h0M920.5 593.9h0M880.8 625.1h0M872.7 597.2h0M938.9 585.8h0M896.3 622.0h0M853.1 586.7h0M846.0 599.7h0M849.7 621.9h0M888.5 562.1h0M912.9 633.8h0M906.7 554.3h0M902.3 613.9h0M939.8 582.2h0M932.1 591.0h0M939.8 600.8h0M849.5 611.4h0M906.7 553.0h0M900.5 608.4h0M839.0 597.2h0M862.8 566.9h0M871.8 591.5h0M924.9 579.7h0M911.0 634.0h0M868.7 572.2h0M878.6 571.7h0M865.1 560.7h0M872.9 576.9h0M883.3 547.8h0M884.7 555.6h0M916.9 592.7h0M916.3 565.4h0M922.8 601.6h0M852.4 583.2h0M887.9 543.8h0M910.4 526.4h0" stroke="#f28f72" stroke-width="5" stroke-linecap="round"/>
<path d="M859.3 583.0h0M931.4 539.7h0M883.1 547.7h0M922.9 573.9h0M912.7 570.9h0M906.5 569.4h0M869.0 666.5h0M881.5 558.2h0M885.2 631.6h0M908.5 577.7h0M897.9 534.1h0M906.1 613.5h0M869.0 607.4h0M876.9 578.5h0M890.8 594.8h0M893.3 627.1h0M860.8 618.7h0M925.5 578.7h0M894.1 603.6h0M912.9 589.3h0M878.2 542.7h0M925.3 611.6h0M925.0 553.6h0M857.5 587.3h0M897.6 565.5h0M863.5 607.0h0M873.5 564.9h0M901.1 564.6h0M888.2 546.3h0M880.1 606.7h0M919.2 572.3h0M897.6 532.8h0M939.4 563.9h0M885.9 544.7h0M919.9 532.9h0M883.2 621.3h0M909.9 544.3h0M871.2 639.6h0M917.0 565.9h0M924.1 618.0h0M886.8 565.0h0M899.1 605.1h0M929.6 591.1h0M845.6 604.0h0M892.5 543.0h0M840.6 598.4h0M880.1 546.8h0M849.5 586.5h0M937.1 581.3h0M905.9 534.8h0M920.7 564.0h0M938.4 590.2h0M900.0 627.8h0M846.6 570.8h0M922.3 548.2h0M922.2 623.1h0M940.9 585.3h0M910.6 627.3h0M873.5 643.3h0M847.2 593.3h0M845.4 570.3h0M925.7 606.5h0M868.9 661.7h0M890.8 574.3h0M920.0 610.9h0M866.5 560.5h0M901.5 615.4h0M861.9 605.5h0M907.1 561.1h0M921.5 555.8h0M920.2 526.5h0M904.4 615.4h0M903.7 623.5h0M915.6 561.0h0M912.3 556.7h0M934.7 587.5h0M849.8 568.8h0M867.4 552.2h0M912.7 635.7h0M853.2 586.3h0M859.4 607.8h0M920.5 624.0h0M871.1 639.3h0M919.4 539.1h0M893.7 551.6h0M891.9 558.1h0M919.5 613.3h0M882.4 616.3h0M920.9 530.1h0M884.6 548.2h0M845.8 603.6h0M927.3 587.0h0M893.9 597.7h0M868.4 576.1h0M932.8 540.9h0M875.7 563.6h0M941.0 559.0h0M942.7 603.8h0M895.2 583.1h0M922.6 629.6h0M900.3 532.8h0M931.1 527.4h0M928.9 610.1h0M848.4 582.8h0M913.1 568.0h0M876.6 626.0h0M870.9 568.0h0M913.7 615.6h0M899.6 618.2h0M864.7 574.8h0M917.4 633.4h0M880.5 588.2h0M890.1 602.6h0M903.0 527.6h0M874.0 552.8h0M891.9 601.3h0M865.7 643.2h0M922.8 522.4h0M883.0 639.7h0M881.7 631.3h0M858.8 569.4h0M906.6 583.7h0M875.3 632.3h0M934.3 572.7h0M918.7 559.7h0M906.7 562.7h0M898.3 575.3h0M874.9 604.2h0M862.5 624.2h0M868.8 648.2h0M894.4 617.5h0M890.1 543.5h0M936.4 575.6h0M924.1 614.4h0M926.7 536.1h0M890.3 556.6h0M940.1 551.7h0M920.5 571.6h0M868.9 548.1h0M862.6 601.3h0M933.3 548.7h0M919.6 536.3h0" stroke="#f8c2b2" stroke-width="5" stroke-linecap="round"/>
<path d="M859.8 566.4h0M872.9 571.8h0M861.3 618.7h0M901.0 606.2h0M934.3 606.3h0M936.0 564.3h0M902.5 625.0h0M917.9 549.6h0M902.8 531.2h0M927.2 563.4h0M898.0 617.7h0M862.7 601.5h0M924.5 555.2h0M926.0 576.4h0M902.0 552.0h0M912.2 556.0h0M861.7 579.9h0M874.3 550.7h0M912.0 560.9h0M913.4 595.0h0M888.2 618.2h0M898.9 582.5h0M921.8 524.9h0M923.9 627.0h0M895.2 614.5h0M925.3 547.4h0M842.5 572.6h0M875.5 654.4h0M864.6 630.0h0M941.4 594.8h0M908.5 537.6h0M905.7 631.0h0M907.2 571.5h0M900.7 576.2h0M898.9 607.0h0M912.9 530.6h0M936.1 576.7h0M863.1 568.8h0M923.3 541.1h0M904.2 577.0h0M863.4 601.7h0M928.5 591.0h0M925.3 530.5h0M914.9 544.8h0M937.8 584.3h0M923.9 577.3h0M902.3 561.4h0M920.2 557.6h0M922.3 553.3h0M910.6 562.7h0M872.7 641.1h0M917.8 614.4h0M892.4 608.2h0M914.0 518.7h0M883.1 565.0h0M925.4 581.6h0M918.2 558.2h0M933.7 552.1h0M921.7 613.4h0M885.3 570.0h0M929.1 564.3h0M875.8 547.8h0M892.9 549.5h0M850.6 582.8h0M919.4 529.6h0M921.6 617.4h0M925.7 542.4h0M874.6 605.3h0M896.2 584.1h0M841.1 578.3h0M922.3 601.2h0M930.2 616.9h0M899.1 571.9h0M876.1 549.8h0M939.8 556.6h0M866.8 568.0h0M919.2 528.6h0M902.2 621.3h0M907.5 534.9h0M916.1 549.9h0M932.4 617.9h0M899.1 563.9h0M908.8 603.1h0M874.1 631.9h0M886.6 554.8h0M865.2 620.0h0M875.6 628.3h0M877.9 595.6h0M911.5 541.8h0M914.2 624.9h0M902.5 581.4h0M869.4 631.9h0M884.0 541.5h0M867.0 647.8h0M897.6 535.6h0M861.2 556.4h0M915.0 556.3h0M927.4 531.3h0M904.4 559.3h0M923.9 529.4h0M871.6 664.5h0M861.8 607.7h0M939.4 548.2h0M904.7 610.2h0M923.1 566.9h0M893.4 536.0h0M936.3 613.2h0M936.5 549.5h0M916.6 583.2h0M893.7 574.3h0M864.6 561.8h0M931.5 564.6h0M938.3 596.7h0M849.9 612.2h0M914.6 543.2h0M890.5 575.1h0M933.7 537.6h0" stroke="#f7b5a2" stroke-width="5" stroke-linecap="round"/>
<path d="M895.4 544.8h0M869.1 624.8h0M839.5 590.8h0M909.2 589.3h0M917.0 516.4h0M875.1 572.7h0M907.1 554.6h0M872.0 588.3h0M873.6 606.5h0M852.3 620.3h0M900.3 577.3h0M850.6 603.2h0M933.7 572.3h0M879.0 546.1h0M892.9 539.1h0M919.3 535.6h0M916.9 553.2h0M937.5 582.8h0M934.0 567.4h0M860.9 580.0h0M867.9 557.6h0M906.2 521.5h0M931.1 549.8h0M887.8 585.8h0M861.6 598.1h0M922.0 627.5h0M870.9 549.5h0M918.4 557.6h0M906.3 618.4h0M855.6 563.0h0M887.4 590.6h0M852.3 575.0h0M915.9 565.0h0M877.3 577.6h0M873.7 613.7h0M861.7 563.5h0M895.3 599.3h0M928.0 617.7h0M923.2 620.5h0M864.7 643.9h0M908.0 565.0h0M919.6 551.1h0M914.4 578.1h0M860.0 617.0h0M916.8 529.9h0M897.5 534.0h0M926.6 552.1h0M915.6 530.3h0M866.5 619.2h0M842.8 584.3h0M893.0 551.6h0M901.9 580.4h0M917.5 564.2h0M930.8 564.9h0M872.8 640.5h0M875.5 654.2h0M913.1 525.2h0M867.9 564.9h0M897.4 534.4h0M914.8 616.6h0M902.0 633.3h0M891.5 595.8h0M935.5 571.5h0M898.3 545.1h0M934.7 556.3h0M934.7 610.3h0M840.8 598.2h0M894.3 610.4h0M937.8 598.0h0M908.4 611.4h0M905.6 594.2h0M868.9 603.1h0M890.1 628.0h0M852.6 610.6h0M922.6 557.3h0M902.7 621.3h0M899.2 573.3h0M850.5 613.5h0M906.7 623.4h0M919.1 545.8h0" stroke="#f5a891" stroke-width="5" stroke-linecap="round"/>
<path d="M863.0 603.3h0M863.8 586.1h0M875.3 549.9h0M930.1 528.9h0M868.7 584.2h0M918.8 559.9h0M837.8 585.5h0M845.9 616.9h0M876.1 552.1h0M894.4 575.1h0M935.1 538.2h0M890.6 579.1h0M901.3 634.7h0M888.3 599.6h0M909.3 571.9h0M897.4 534.3h0M885.3 608.8h0M925.8 617.7h0M840.3 570.1h0M918.1 631.9h0M888.6 568.7h0M917.0 603.8h0M920.3 547.5h0M892.4 632.6h0M864.5 597.9h0M902.7 622.0h0M897.7 575.7h0" stroke="#ef7d5d" stroke-width="5" stroke-linecap="round"/>
<path d="M872.5 633.5h0M874.5 560.5h0M844.4 573.7h0M926.5 528.2h0M873.3 618.6h0M910.6 603.6h0M856.7 557.0h0M903.7 613.4h0M892.4 557.0h0M943.8 597.6h0M877.2 588.2h0M846.8 598.3h0M905.1 542.7h0M927.0 554.6h0M849.8 561.3h0M875.5 594.7h0" stroke="#ee7452" stroke-width="5" stroke-linecap="round"/>
<path d="M869.0 579.6h0M883.0 569.1h0M915.4 560.1h0M865.2 568.2h0M912.3 616.8h0M941.0 559.5h0M905.8 532.4h0M887.1 593.3h0M930.4 618.3h0M913.4 544.4h0M898.6 549.2h0M906.5 531.6h0M904.4 548.4h0M900.9 579.9h0M842.2 606.9h0M902.5 580.9h0M844.1 585.3h0M895.3 614.0h0M890.3 635.8h0M865.8 591.7h0M857.9 586.8h0M885.5 626.5h0M843.3 564.2h0M909.2 619.8h0M914.6 536.8h0M882.1 608.9h0M865.9 592.2h0" stroke="#f18668" stroke-width="5" stroke-linecap="round"/>
<path d="M839.4 588.1h0M934.6 536.5h0M850.5 584.5h0M907.1 547.4h0M894.2 595.6h0M906.9 600.3h0M911.5 522.1h0M895.1 535.8h0M898.7 547.2h0M874.0 564.2h0M873.7 579.3h0M888.9 547.6h0" stroke="#ec6b47" stroke-width="5" stroke-linecap="round"/>
<path d="M895.1 546.9h0M925.0 582.4h0" stroke="#e95932" stroke-width="5" stroke-linecap="round"/>
<path d="M922.7 607.9h0M889.2 631.9h0M916.2 597.4h0" stroke="#e4532d" stroke-width="5" stroke-linecap="round"/>
<path d="M880.6 560.8h0M898.7 619.3h0M940.3 554.5h0M938.8 596.9h0M909.6 522.0h0" stroke="#ea623c" stroke-width="5" stroke-linecap="round"/>
<path d="M836.1 572.6h0M836.3 570.9h0M830.3 561.0h0M830.8 573.0h0M830.8 569.2h0M830.8 568.9h0" stroke="#ef7a59" stroke-width="5" stroke-linecap="round"/>
<path d="M829.2 562.1h0" stroke="#ec6e4b" stroke-width="5" stroke-linecap="round"/>
<path d="M835.3 564.2h0M827.1 564.9h0" stroke="#f39276" stroke-width="5" stroke-linecap="round"/>
<path d="M831.7 561.1h0M840.0 559.1h0M836.3 572.4h0M829.5 569.8h0M832.9 576.0h0M837.8 574.3h0M831.4 572.3h0" stroke="#f8c6b7" stroke-width="5" stroke-linecap="round"/>
<path d="M837.9 571.9h0" stroke="#f18668" stroke-width="5" stroke-linecap="round"/>
<path d="M842.0 567.2h0" stroke="#f5a38c" stroke-width="5" stroke-linecap="round"/>
<path d="M831.6 564.4h0M829.8 563.3h0M841.7 568.7h0M840.7 568.8h0M838.2 561.3h0" stroke="#f7b5a2" stroke-width="5" stroke-linecap="round"/>
<path d="M834.1 574.8h0M843.9 564.0h0" stroke="#fad8cd" stroke-width="5" stroke-linecap="round"/>
<path d="M1102.0 554.4 L1111.5 547.0 L1125.5 539.0 L1133.5 533.0 L1144.5 530.0 L1159.5 526.5 L1175.5 527.0 L1190.5 522.5 L1205.5 525.5 L1220.5 534.0 L1228.5 545.0 L1235.5 555.0 L1239.5 562.0 L1235.5 566.0 L1229.5 563.0 L1223.0 552.0 L1216.5 558.0 L1211.5 571.0 L1209.5 584.0 L1209.5 597.0 L1210.5 607.0 L1197.5 607.0 L1177.5 609.0 L1162.5 608.0 L1147.5 605.0 L1137.5 599.0 L1133.5 587.0 L1131.5 575.0 L1125.5 567.0 L1113.5 560.0 L1103.5 558.0Z" fill="#ee7450"/>
<path d="M1156.3 558.6h0M1183.3 589.5h0M1206.2 590.5h0M1206.9 564.7h0M1175.1 543.2h0M1222.2 544.0h0M1121.9 542.1h0M1106.0 554.6h0M1170.5 574.7h0M1159.1 574.5h0M1201.7 529.7h0M1112.3 554.0h0M1175.3 568.3h0M1206.0 526.4h0M1133.2 547.7h0M1161.2 570.3h0M1164.0 546.2h0M1150.9 576.9h0M1131.3 566.0h0M1200.7 580.9h0M1231.3 553.7h0M1183.7 585.8h0M1156.8 564.9h0M1133.6 559.6h0M1193.4 544.6h0M1159.0 568.7h0M1155.0 528.6h0M1162.1 531.2h0M1129.2 542.3h0M1139.4 574.4h0M1177.8 555.0h0M1131.7 555.1h0M1188.0 583.4h0M1188.5 576.3h0M1152.6 542.6h0M1161.2 568.8h0M1179.4 535.8h0M1126.5 557.3h0M1177.4 544.7h0M1150.9 548.0h0M1147.7 572.2h0M1138.9 563.7h0M1148.0 537.3h0M1161.3 531.5h0M1177.9 528.4h0M1177.3 537.0h0M1227.7 555.2h0M1135.6 548.9h0M1200.5 548.9h0M1164.8 555.9h0M1131.5 546.5h0M1175.2 562.0h0M1177.0 553.7h0M1141.4 552.7h0M1160.0 554.4h0M1176.0 544.2h0M1185.9 557.2h0M1170.9 584.1h0M1160.4 555.8h0M1196.5 560.0h0M1174.3 551.6h0M1164.0 564.2h0M1166.7 541.2h0M1168.0 582.0h0M1193.3 574.3h0M1187.6 557.6h0M1176.1 555.8h0M1215.9 533.3h0M1154.6 554.2h0M1195.8 532.3h0M1167.0 590.6h0M1176.0 555.3h0M1141.5 538.3h0M1157.2 567.3h0M1198.5 530.7h0M1180.8 575.0h0M1171.2 566.7h0M1191.5 550.9h0M1134.4 539.1h0M1170.5 579.2h0M1178.7 527.3h0M1177.9 531.3h0M1140.1 554.7h0M1202.7 570.6h0M1159.2 541.3h0M1151.7 561.4h0M1139.0 557.6h0" stroke="#df4f2c" stroke-width="5" stroke-linecap="round"/>
<path d="M1206.1 594.9h0M1202.4 580.8h0M1172.4 602.1h0M1226.6 553.1h0M1161.1 600.4h0M1208.7 531.3h0M1209.3 577.6h0M1207.8 573.6h0M1204.6 583.9h0M1190.6 594.5h0M1235.0 564.7h0M1187.7 576.1h0M1208.7 535.0h0M1230.0 559.0h0M1211.3 570.3h0M1154.7 597.3h0M1170.3 542.0h0M1178.8 606.5h0M1205.1 599.1h0M1189.7 561.8h0M1220.2 538.6h0M1203.8 577.0h0M1128.8 548.3h0M1173.8 596.8h0M1181.0 553.7h0M1172.1 561.1h0M1222.0 544.1h0M1188.5 580.8h0M1209.2 580.8h0M1207.1 545.3h0M1195.5 532.7h0M1182.3 548.7h0M1229.8 559.6h0M1217.1 533.0h0M1196.1 524.4h0M1169.8 556.6h0M1201.0 577.6h0M1210.3 559.0h0M1190.9 550.7h0M1209.0 599.2h0M1193.2 560.9h0M1216.7 538.0h0M1208.9 586.3h0M1232.0 558.5h0M1200.5 561.0h0M1238.6 562.4h0M1176.4 608.1h0M1164.9 604.4h0M1193.0 605.1h0" stroke="#f5a891" stroke-width="5" stroke-linecap="round"/>
<path d="M1133.9 533.7h0M1150.1 568.2h0M1199.5 575.9h0M1217.5 532.4h0M1234.0 563.0h0M1173.2 605.7h0M1171.9 550.8h0M1162.9 588.0h0M1132.3 574.4h0M1173.4 538.1h0M1189.9 538.9h0M1200.4 545.9h0M1202.2 592.8h0M1150.2 556.6h0M1139.5 568.9h0M1153.2 561.0h0M1172.8 574.3h0M1168.3 588.7h0M1131.0 543.6h0M1175.4 569.3h0M1180.5 576.3h0M1185.5 547.6h0M1141.0 568.3h0M1184.1 582.0h0M1148.2 567.9h0M1143.1 571.2h0M1234.8 560.6h0M1107.8 556.6h0M1171.8 587.1h0M1144.4 571.0h0M1117.9 545.9h0M1180.2 556.3h0M1184.5 606.6h0M1176.2 565.1h0M1153.7 553.5h0M1209.5 577.4h0M1185.0 582.9h0M1149.3 546.5h0M1164.7 537.4h0M1171.3 544.5h0M1156.7 584.8h0M1162.4 562.9h0M1183.3 554.3h0M1209.7 543.2h0M1160.3 528.6h0M1202.0 527.0h0M1119.7 552.2h0M1114.3 549.9h0M1170.2 594.4h0M1174.6 586.2h0M1183.5 527.9h0M1109.8 548.8h0M1173.3 592.9h0M1161.4 605.3h0M1178.8 544.0h0M1202.5 537.9h0M1199.3 605.9h0M1155.0 556.7h0M1231.0 553.5h0M1195.8 551.4h0M1160.3 578.1h0M1162.2 566.3h0M1164.3 568.5h0M1173.7 547.8h0M1176.4 557.0h0M1184.6 576.6h0M1197.6 599.8h0M1179.5 527.2h0M1113.3 551.9h0M1181.7 547.8h0M1175.5 534.8h0M1143.5 550.6h0M1179.9 566.6h0M1157.0 585.5h0M1177.4 567.9h0M1220.5 544.3h0M1156.4 557.3h0M1157.6 590.3h0M1235.0 555.5h0M1168.3 562.3h0M1153.6 572.0h0M1126.2 553.9h0M1135.1 572.3h0M1168.9 536.2h0M1195.3 555.1h0M1227.5 543.9h0M1175.4 560.9h0M1187.0 554.0h0M1158.6 591.9h0M1146.4 539.0h0M1178.9 543.8h0M1161.9 591.7h0M1209.2 565.5h0M1156.4 577.9h0M1187.3 551.6h0M1182.2 566.9h0M1141.5 544.3h0M1140.8 574.6h0M1191.0 573.7h0M1120.0 543.4h0M1166.7 582.5h0M1177.1 596.2h0M1178.9 528.0h0M1171.5 562.6h0M1118.3 552.0h0M1143.4 532.0h0M1168.1 585.9h0M1182.5 535.3h0M1205.8 531.0h0M1167.3 547.3h0M1171.9 534.5h0M1158.1 574.2h0M1130.0 566.8h0M1172.3 587.0h0M1170.1 558.9h0M1161.9 601.6h0M1118.1 550.3h0M1153.2 582.9h0M1157.0 568.2h0M1194.2 591.4h0M1179.0 559.0h0M1180.6 571.8h0M1146.0 553.9h0M1132.5 541.1h0M1166.6 566.1h0M1205.6 570.5h0M1215.0 556.7h0M1187.3 533.8h0M1123.3 559.0h0M1138.9 549.3h0M1115.7 560.9h0M1163.0 533.1h0M1220.6 551.7h0M1154.2 529.2h0" stroke="#ea623c" stroke-width="5" stroke-linecap="round"/>
<path d="M1179.5 548.9h0M1232.6 560.6h0M1159.9 552.1h0M1191.0 544.3h0M1151.6 605.8h0M1183.0 534.4h0M1194.6 553.5h0M1187.1 525.7h0M1151.2 583.1h0M1172.7 603.3h0M1156.3 556.6h0M1204.3 577.8h0M1192.3 550.4h0M1227.9 558.2h0M1187.3 589.9h0M1212.8 536.0h0M1198.8 592.5h0M1200.0 561.8h0M1195.4 548.7h0M1202.5 569.3h0M1204.9 575.4h0M1139.4 543.1h0M1193.2 572.4h0M1195.2 558.7h0M1161.9 581.4h0M1200.1 536.6h0M1109.8 554.2h0M1189.5 601.7h0M1178.4 578.6h0M1179.9 581.7h0M1221.2 551.5h0M1195.1 553.5h0M1154.9 598.0h0M1192.7 579.9h0M1175.6 602.5h0M1197.8 601.7h0M1223.6 552.2h0M1211.8 541.6h0M1213.4 559.2h0M1211.0 560.7h0M1143.4 550.2h0M1186.4 537.5h0M1156.5 566.9h0M1158.2 590.0h0M1230.2 551.7h0M1185.4 572.0h0M1197.0 567.6h0M1183.5 547.5h0M1210.6 569.1h0M1132.5 548.3h0M1137.4 571.3h0M1214.2 548.8h0M1120.0 560.7h0M1200.3 585.1h0M1182.4 595.3h0M1189.2 580.2h0M1164.4 542.0h0M1178.8 545.5h0M1169.3 597.0h0M1196.2 540.7h0M1208.8 564.0h0M1153.9 605.3h0M1184.7 527.9h0M1177.4 579.6h0M1206.8 549.0h0M1215.1 542.0h0M1165.9 535.8h0M1152.1 597.6h0M1203.0 540.3h0M1189.7 573.9h0M1192.9 565.1h0M1205.6 606.8h0M1218.5 536.4h0M1159.1 587.1h0M1216.1 554.2h0M1192.6 583.6h0M1137.8 571.1h0M1147.1 559.0h0M1179.9 527.7h0M1150.2 574.4h0M1208.9 536.0h0M1218.2 553.7h0M1180.4 591.0h0M1157.8 599.3h0M1140.8 559.7h0M1187.3 591.9h0M1188.9 582.0h0M1174.4 552.0h0M1183.4 555.6h0M1239.1 562.0h0M1154.1 596.4h0M1137.5 551.5h0M1200.0 600.7h0M1192.5 607.4h0M1161.0 589.3h0M1194.6 532.1h0M1181.9 558.4h0M1189.8 552.0h0M1200.0 569.3h0M1178.5 561.0h0M1158.7 601.2h0M1190.6 531.1h0M1210.3 534.5h0M1192.4 552.5h0M1211.6 560.7h0M1185.8 548.7h0M1194.8 527.1h0" stroke="#f18668" stroke-width="5" stroke-linecap="round"/>
<path d="M1177.7 562.6h0M1156.0 556.3h0M1230.9 552.1h0M1150.0 552.7h0M1186.1 589.0h0M1160.4 546.1h0M1192.6 543.6h0M1148.6 535.8h0M1160.5 551.3h0M1193.8 541.4h0M1166.8 534.8h0M1199.8 557.8h0M1138.4 567.7h0M1178.8 606.8h0M1157.7 553.9h0M1179.0 554.8h0M1186.1 528.9h0M1186.3 558.8h0M1194.5 553.8h0M1185.5 536.5h0M1200.6 571.0h0M1157.8 531.5h0M1175.5 604.0h0M1164.6 532.4h0M1170.1 606.4h0M1105.3 557.8h0M1190.8 560.7h0M1207.0 592.0h0M1191.6 532.0h0M1206.9 540.2h0M1208.8 549.7h0M1154.9 541.5h0M1227.7 556.3h0M1154.8 560.3h0M1160.3 579.3h0M1178.6 568.7h0M1206.6 606.1h0M1197.4 532.0h0M1203.4 566.7h0M1180.4 586.7h0M1179.1 529.5h0M1135.3 552.3h0M1167.5 591.3h0M1192.0 544.7h0M1187.9 547.7h0M1199.8 536.2h0M1159.5 606.6h0M1162.7 530.5h0M1173.9 604.0h0M1203.7 576.2h0M1203.0 571.5h0M1197.3 549.9h0M1136.2 541.6h0M1185.6 534.6h0M1215.9 540.6h0M1115.4 555.0h0M1172.4 579.1h0M1153.1 571.0h0M1183.5 533.1h0M1170.6 606.6h0M1191.9 598.6h0M1176.7 585.2h0M1171.4 606.2h0M1195.2 583.5h0M1139.5 575.0h0M1209.0 591.1h0M1188.1 581.1h0M1151.3 565.8h0M1172.2 550.1h0M1131.0 568.6h0M1181.1 579.4h0M1207.0 590.3h0M1201.1 574.4h0M1134.0 551.6h0M1196.4 546.0h0M1218.3 539.2h0M1151.5 572.1h0M1169.2 562.7h0M1160.6 536.4h0M1193.3 534.5h0M1128.7 541.0h0M1203.0 602.1h0M1167.7 561.0h0M1188.1 546.7h0M1177.6 552.2h0M1221.1 544.3h0M1192.8 560.7h0M1171.2 581.4h0M1140.7 545.6h0M1114.3 548.7h0M1193.3 534.3h0M1166.7 544.4h0M1226.4 551.2h0M1141.2 544.2h0M1114.7 555.3h0M1159.9 590.4h0M1203.4 551.3h0M1181.9 593.8h0M1155.1 577.7h0M1205.8 550.3h0M1199.8 577.1h0M1157.8 587.6h0M1162.5 554.0h0M1203.8 577.4h0M1196.6 532.4h0M1160.7 563.7h0M1180.6 563.5h0M1170.7 537.2h0M1184.6 578.1h0M1149.4 555.9h0M1183.7 566.7h0M1167.5 543.5h0M1211.6 551.6h0M1192.4 592.7h0M1136.8 541.8h0M1172.3 533.9h0M1163.1 536.9h0M1157.8 594.1h0M1173.4 544.0h0M1205.2 540.4h0M1168.6 591.4h0M1179.8 555.5h0M1140.9 552.9h0M1173.3 555.1h0M1138.1 559.3h0M1164.8 533.7h0M1175.0 593.2h0M1131.0 559.7h0M1174.7 537.5h0M1225.4 544.6h0M1152.2 543.1h0M1202.8 552.7h0M1171.9 600.0h0M1137.1 573.6h0M1156.3 600.0h0M1155.2 590.7h0M1151.8 536.1h0M1122.4 546.1h0M1210.6 549.4h0M1185.6 542.2h0M1179.3 554.7h0M1195.7 545.1h0M1204.2 585.8h0M1159.5 603.2h0M1179.7 577.1h0" stroke="#ec6b47" stroke-width="5" stroke-linecap="round"/>
<path d="M1136.7 568.7h0M1204.3 543.3h0M1126.9 564.6h0M1140.2 562.9h0M1150.7 535.9h0M1162.1 527.6h0M1157.7 589.6h0M1193.8 558.4h0M1120.5 557.5h0M1209.6 538.2h0M1138.5 570.9h0M1124.8 566.3h0M1173.1 540.1h0M1176.3 538.3h0M1171.7 537.0h0M1147.8 569.0h0M1181.7 568.9h0M1151.4 547.1h0M1128.2 543.3h0M1152.4 537.1h0M1146.3 552.8h0M1144.3 564.4h0M1189.5 577.3h0M1193.1 594.9h0M1203.6 587.6h0M1185.4 537.1h0M1153.7 575.2h0M1157.9 551.9h0M1129.4 565.1h0M1193.6 567.7h0M1198.8 536.8h0M1170.4 593.4h0M1200.8 534.6h0M1133.9 539.4h0M1141.9 574.0h0M1138.6 546.8h0M1111.7 549.0h0M1198.5 576.9h0M1141.0 553.7h0M1232.7 559.0h0M1159.9 527.6h0M1205.9 582.0h0M1146.3 541.1h0M1147.5 553.4h0M1149.0 566.3h0M1169.2 543.4h0M1185.0 573.8h0M1131.0 552.0h0M1153.8 600.9h0M1190.6 548.3h0M1133.0 540.2h0M1135.2 543.6h0M1193.0 530.9h0M1132.2 563.6h0M1176.6 572.3h0M1194.4 542.1h0M1145.4 573.7h0M1152.9 581.0h0M1160.8 553.7h0M1192.9 592.6h0M1152.2 594.9h0M1141.7 535.1h0M1195.8 555.3h0M1165.5 534.7h0M1155.0 580.9h0M1160.6 544.0h0M1191.0 568.3h0M1156.9 579.3h0M1159.4 555.4h0M1130.6 551.0h0M1187.4 550.5h0M1182.3 565.7h0M1131.4 564.4h0M1165.0 553.0h0M1156.8 561.9h0M1178.8 536.8h0M1187.5 566.1h0M1152.4 571.1h0M1148.7 560.7h0M1145.0 576.8h0M1199.0 554.8h0M1170.0 564.1h0M1176.0 526.9h0M1166.0 580.6h0M1167.5 602.9h0M1188.7 559.3h0M1169.1 588.5h0M1189.0 555.4h0M1171.2 550.2h0M1171.9 575.8h0M1160.3 554.9h0M1196.0 557.0h0M1163.6 581.7h0M1172.8 594.1h0M1207.0 568.3h0M1178.7 535.3h0M1187.2 531.8h0M1164.8 562.7h0M1105.0 552.4h0M1143.5 572.9h0M1200.1 580.8h0M1125.2 539.6h0M1164.1 565.1h0M1169.6 537.9h0M1185.0 582.9h0M1164.0 606.4h0M1184.5 563.1h0M1219.9 539.5h0M1166.2 561.0h0M1138.1 571.3h0M1206.7 550.7h0M1200.2 535.6h0M1110.0 555.2h0M1171.5 585.3h0M1166.2 547.4h0M1187.6 543.0h0" stroke="#e4532d" stroke-width="5" stroke-linecap="round"/>
<path d="M1156.3 537.2h0M1173.1 527.9h0M1119.2 544.2h0M1175.4 562.2h0M1152.7 593.8h0M1166.0 593.1h0M1127.3 554.6h0M1160.4 547.3h0M1166.2 540.8h0M1149.2 547.9h0M1186.8 541.8h0M1158.4 527.0h0M1129.4 560.8h0M1157.6 590.8h0M1144.1 563.4h0M1196.0 538.6h0M1153.2 536.0h0M1130.1 569.6h0M1171.8 575.4h0M1160.5 536.7h0M1112.6 556.9h0M1138.8 546.6h0M1168.2 538.9h0M1174.9 589.7h0M1165.1 529.9h0M1160.7 567.2h0M1140.4 550.9h0M1214.8 553.4h0M1152.9 546.1h0M1163.0 588.5h0M1156.9 586.6h0M1154.8 541.2h0M1194.8 530.5h0M1126.3 542.9h0M1167.2 530.8h0M1164.2 589.2h0M1141.5 550.2h0M1123.1 552.9h0M1171.9 584.6h0M1176.9 545.5h0M1119.8 545.3h0M1154.3 591.6h0M1104.9 554.9h0M1193.0 549.7h0M1129.9 570.0h0M1131.3 565.7h0M1179.1 573.6h0M1159.4 535.3h0M1195.5 529.1h0M1154.8 581.5h0M1169.4 584.0h0M1192.6 593.7h0M1142.0 552.6h0M1173.5 586.9h0M1144.7 531.8h0M1176.2 530.0h0M1196.5 542.0h0M1186.2 571.3h0M1196.3 524.7h0M1191.4 590.3h0M1131.4 562.4h0M1172.2 591.2h0M1147.7 533.3h0M1182.1 535.9h0M1163.1 551.0h0M1137.6 567.4h0M1168.6 593.3h0M1125.9 565.7h0M1198.3 574.3h0M1120.1 561.2h0M1157.5 527.2h0M1176.9 537.8h0M1133.1 559.9h0M1160.9 556.0h0M1170.7 580.1h0M1158.2 542.4h0M1147.4 556.0h0M1135.7 538.8h0M1186.2 560.0h0M1126.3 556.5h0M1115.6 549.4h0M1113.1 559.9h0M1166.9 540.7h0M1170.7 593.3h0M1163.6 529.9h0M1154.1 581.3h0M1161.0 586.5h0M1140.3 536.3h0M1129.0 547.6h0M1159.1 592.8h0M1155.7 573.7h0M1153.7 564.3h0M1133.0 539.6h0M1164.6 571.9h0M1153.1 566.1h0M1124.2 542.5h0M1128.4 561.7h0M1170.8 540.7h0M1157.1 527.4h0M1174.6 534.8h0M1159.1 561.2h0" stroke="#d54629" stroke-width="5" stroke-linecap="round"/>
<path d="M1130.4 552.1h0M1197.8 546.3h0M1224.7 549.2h0M1209.1 572.7h0M1179.8 575.6h0M1191.2 528.1h0M1206.6 602.5h0M1115.3 545.4h0M1193.6 560.2h0M1180.3 531.5h0M1216.8 553.6h0M1189.3 578.4h0M1194.2 558.5h0M1169.0 537.0h0M1189.8 555.7h0M1125.4 540.1h0M1190.2 603.2h0M1164.0 572.5h0M1134.0 559.8h0M1233.4 561.6h0M1186.0 580.2h0M1184.4 539.9h0M1163.9 584.5h0M1212.1 530.0h0M1178.5 584.9h0M1187.9 581.2h0M1168.9 548.7h0M1205.6 530.5h0M1208.1 598.1h0M1230.8 557.0h0M1157.5 554.8h0M1191.7 524.0h0M1208.0 547.2h0M1205.9 561.2h0M1189.1 584.9h0M1211.5 569.9h0M1189.7 579.4h0M1228.6 546.1h0M1158.8 566.6h0M1206.5 566.1h0M1207.7 596.3h0M1202.3 559.8h0M1224.9 544.2h0M1186.6 597.4h0M1223.3 551.8h0M1161.6 602.3h0M1148.4 547.2h0M1132.9 563.1h0M1213.2 536.1h0M1201.2 529.3h0M1206.0 564.9h0M1185.0 597.8h0M1210.3 578.6h0M1199.1 578.7h0M1183.4 562.7h0M1209.3 586.4h0M1154.6 549.3h0M1118.5 551.2h0M1208.1 569.8h0M1210.3 530.3h0M1140.1 553.3h0M1199.4 593.3h0M1187.2 592.0h0M1179.7 582.3h0M1194.2 564.5h0M1169.2 598.0h0M1196.3 605.6h0M1175.3 574.0h0M1107.7 558.4h0M1180.6 607.7h0M1204.5 566.6h0M1165.7 598.9h0M1185.6 598.3h0" stroke="#f28f72" stroke-width="5" stroke-linecap="round"/>
<path d="M1168.7 526.8h0M1194.8 539.6h0M1123.4 552.3h0M1178.4 581.5h0M1140.2 555.1h0M1164.7 558.3h0M1167.7 532.4h0M1208.2 552.0h0M1171.4 604.4h0M1145.5 567.0h0M1202.5 564.4h0M1172.8 598.6h0M1191.8 577.1h0M1194.1 588.3h0M1196.9 591.4h0M1192.1 551.7h0M1211.0 537.8h0M1159.2 569.9h0M1154.3 534.5h0M1160.0 550.0h0M1192.8 544.5h0M1155.2 531.3h0M1139.7 544.6h0M1165.0 584.9h0M1207.1 529.9h0M1164.0 582.2h0M1135.1 573.1h0M1213.7 530.3h0M1194.0 541.1h0M1202.6 554.3h0M1169.0 607.8h0M1190.9 577.8h0M1232.8 561.7h0M1135.9 532.7h0M1154.8 590.6h0M1169.6 572.4h0M1161.9 607.6h0M1187.2 549.7h0M1180.1 578.0h0M1196.9 528.6h0M1155.4 573.1h0M1144.9 532.1h0M1166.7 536.3h0M1153.8 576.7h0M1189.5 571.0h0M1198.7 588.0h0M1170.3 538.7h0M1144.4 542.3h0M1143.0 544.6h0M1162.7 577.2h0M1181.5 529.6h0M1180.3 568.7h0M1174.4 592.4h0M1183.3 541.3h0M1172.4 545.2h0M1190.3 555.6h0M1146.5 571.1h0M1177.8 533.9h0M1167.1 568.0h0M1139.0 552.6h0M1195.9 577.4h0M1139.5 537.4h0M1170.2 574.6h0M1156.4 529.1h0M1228.3 556.8h0M1169.2 561.6h0M1155.8 579.6h0M1173.3 608.0h0M1202.7 566.3h0M1201.4 588.3h0M1174.1 590.0h0M1203.1 530.9h0M1129.8 572.2h0M1185.7 568.4h0M1191.4 565.8h0M1120.7 558.3h0M1195.5 525.1h0M1202.4 544.8h0M1159.1 564.4h0M1182.6 599.7h0M1139.9 562.0h0M1140.7 553.7h0M1128.1 560.9h0M1191.9 540.9h0M1185.2 583.3h0M1162.5 569.5h0M1163.0 553.8h0M1207.5 541.1h0M1131.4 566.9h0M1127.7 542.2h0M1196.5 570.4h0M1156.7 585.1h0M1162.3 558.9h0M1158.7 571.9h0M1207.0 591.2h0M1207.2 578.1h0M1154.1 563.7h0M1170.9 557.5h0M1155.4 535.3h0M1115.3 554.9h0M1200.4 564.6h0M1157.2 578.1h0M1201.8 536.7h0M1181.8 533.7h0M1168.6 581.3h0M1153.7 540.0h0M1195.0 539.9h0M1202.6 541.7h0M1179.7 530.7h0M1149.9 537.1h0M1184.2 550.1h0M1162.1 535.2h0M1152.2 558.5h0M1122.9 560.2h0M1210.5 572.2h0M1123.8 545.3h0M1151.4 578.0h0M1173.7 555.3h0M1133.0 559.0h0M1128.4 556.7h0M1157.2 591.9h0M1138.7 533.6h0M1142.0 561.6h0M1189.3 574.9h0M1185.0 529.8h0M1181.8 560.9h0M1174.9 562.2h0M1121.6 561.6h0M1188.6 576.2h0M1189.7 565.9h0M1190.6 545.5h0M1152.2 550.1h0M1169.2 554.2h0M1204.1 570.9h0M1195.2 576.2h0" stroke="#e95932" stroke-width="5" stroke-linecap="round"/>
<path d="M1188.3 606.9h0M1163.8 563.5h0M1171.7 600.3h0M1186.2 571.2h0M1211.4 567.4h0M1185.2 584.9h0M1107.2 551.3h0M1198.0 571.3h0M1150.2 562.0h0M1192.5 590.8h0M1178.1 534.0h0M1123.8 541.6h0M1160.1 583.2h0M1164.9 556.8h0M1154.4 541.6h0M1185.6 540.3h0M1143.5 543.7h0M1193.6 546.8h0M1149.9 572.9h0M1111.1 550.2h0M1195.1 599.1h0M1205.2 548.1h0M1190.5 594.8h0M1185.6 586.0h0M1145.9 530.9h0M1193.8 572.2h0M1178.6 579.2h0M1189.2 542.1h0M1123.8 553.3h0M1153.6 531.8h0M1165.6 598.5h0M1161.3 567.5h0M1198.8 563.7h0M1185.5 601.8h0M1185.1 576.4h0M1205.4 577.5h0M1152.3 561.8h0M1172.1 567.6h0M1227.9 558.9h0M1193.1 524.1h0M1149.9 598.6h0M1182.2 588.3h0M1160.2 559.2h0M1205.2 565.9h0M1148.8 536.7h0M1174.2 572.5h0M1183.1 597.5h0M1175.7 543.2h0M1189.6 593.6h0M1196.8 580.6h0M1190.3 562.8h0M1156.8 547.8h0M1170.0 575.8h0M1142.3 566.6h0M1174.0 535.0h0M1176.7 597.1h0M1195.6 598.2h0M1235.7 563.7h0M1167.8 550.9h0M1181.6 566.1h0M1131.3 562.6h0M1211.3 559.1h0M1202.3 589.4h0M1201.9 542.1h0M1150.9 599.7h0M1181.1 593.3h0M1182.7 564.5h0M1228.1 557.4h0M1183.9 552.9h0M1192.2 545.8h0M1207.6 558.8h0M1122.7 559.2h0M1195.8 547.0h0M1189.4 534.1h0M1194.4 605.0h0M1187.6 560.3h0M1166.0 592.1h0M1127.1 548.5h0M1195.3 581.0h0M1122.1 543.2h0M1176.8 573.2h0M1200.6 556.4h0M1107.9 550.2h0M1153.9 567.5h0M1207.2 533.0h0M1125.2 559.6h0M1195.1 552.7h0M1142.5 566.0h0M1201.6 552.6h0M1195.5 566.0h0M1127.1 542.8h0M1162.5 607.6h0M1197.6 535.3h0M1113.3 551.9h0M1138.5 539.2h0M1190.1 541.2h0M1197.6 558.7h0M1203.9 528.6h0M1189.3 560.0h0M1196.0 534.5h0M1170.0 542.9h0M1202.8 579.6h0M1164.8 541.3h0M1156.7 598.9h0M1143.7 541.7h0M1201.5 562.1h0M1189.7 547.1h0M1193.6 577.7h0M1156.4 590.9h0M1177.4 543.8h0M1116.3 551.3h0M1162.7 529.7h0M1189.1 574.4h0M1151.5 580.7h0M1195.3 574.6h0M1205.6 536.6h0M1184.2 550.7h0M1166.2 547.3h0M1150.6 537.2h0M1212.2 545.0h0M1132.5 564.8h0M1157.8 585.1h0M1160.1 572.5h0M1182.1 603.7h0M1175.7 597.3h0M1149.9 571.3h0M1194.1 569.6h0M1210.9 552.1h0M1199.9 555.1h0M1236.8 561.8h0M1175.0 581.5h0M1182.3 540.4h0M1138.2 535.4h0M1152.5 589.0h0M1185.9 544.2h0M1191.1 524.0h0M1163.5 581.3h0M1205.6 606.4h0M1206.8 581.6h0M1105.3 557.6h0M1177.6 527.4h0M1192.9 601.3h0M1202.0 530.1h0M1193.7 537.1h0M1184.0 551.3h0M1189.8 532.5h0M1154.3 599.6h0M1179.0 555.0h0M1153.0 595.1h0M1203.7 562.3h0" stroke="#ee7452" stroke-width="5" stroke-linecap="round"/>
<path d="M1146.3 586.9h0M1156.3 599.9h0M1145.0 584.0h0M1142.3 591.1h0M1177.0 602.4h0M1152.5 601.6h0M1148.3 601.9h0M1144.5 586.8h0M1208.8 584.1h0M1144.3 592.0h0M1133.3 582.0h0M1231.3 563.6h0M1148.2 590.6h0M1144.3 593.5h0M1140.1 597.0h0M1207.7 537.0h0M1195.8 536.5h0M1139.7 598.0h0M1137.2 585.4h0M1147.6 592.3h0M1144.3 596.6h0M1147.0 602.1h0M1138.8 598.1h0M1142.1 581.5h0M1162.2 602.4h0M1175.6 606.0h0M1166.4 600.8h0M1146.1 598.4h0M1120.2 559.6h0M1143.6 590.0h0M1221.0 553.4h0M1147.4 603.3h0M1197.5 599.6h0M1140.1 586.9h0M1140.4 593.1h0M1145.6 587.4h0M1174.3 602.1h0M1138.5 580.9h0M1141.2 596.8h0M1148.0 586.9h0M1146.4 585.2h0M1142.2 596.6h0M1140.2 583.7h0M1228.0 556.1h0M1185.3 604.5h0M1148.2 587.7h0M1141.8 577.2h0M1141.7 585.1h0M1133.5 578.6h0M1160.0 604.7h0M1139.6 581.3h0M1146.7 587.4h0M1179.4 606.9h0M1147.7 577.8h0" stroke="#fbdcd3" stroke-width="5" stroke-linecap="round"/>
<path d="M1167.9 530.6h0M1188.2 539.0h0M1117.8 553.6h0M1157.6 559.4h0M1125.2 543.7h0M1172.1 575.6h0M1181.9 580.9h0M1131.1 536.7h0M1154.8 580.3h0M1136.9 552.9h0M1203.6 532.9h0M1156.6 551.7h0M1157.0 554.6h0M1120.5 560.9h0M1158.5 554.5h0M1123.7 553.3h0M1182.2 565.5h0M1168.5 545.6h0M1128.1 556.5h0M1165.0 529.2h0M1202.3 551.1h0M1192.7 589.6h0M1160.9 541.1h0M1160.4 555.0h0M1168.2 553.3h0M1163.3 537.1h0M1137.4 537.4h0M1152.3 589.9h0M1185.0 580.0h0M1171.4 528.5h0M1134.1 568.2h0M1180.3 553.8h0M1161.7 543.7h0M1123.0 556.6h0M1154.8 542.7h0M1164.6 570.0h0M1178.8 580.1h0M1176.1 592.7h0M1158.6 529.0h0M1191.5 569.7h0M1156.5 592.2h0M1185.4 576.1h0M1195.3 525.3h0M1160.9 540.3h0M1117.5 550.8h0M1205.1 587.6h0M1175.0 594.6h0M1160.2 591.0h0M1141.1 553.9h0M1171.2 586.7h0M1193.4 567.5h0M1107.6 557.5h0M1177.5 578.7h0M1184.1 546.1h0M1184.0 573.3h0M1133.4 563.8h0M1159.8 575.6h0M1152.4 575.4h0M1132.3 551.7h0M1109.6 550.3h0M1208.5 563.7h0M1154.6 542.0h0M1150.7 531.8h0M1148.1 534.2h0M1174.6 532.3h0" stroke="#da4b2b" stroke-width="5" stroke-linecap="round"/>
<path d="M1210.2 558.4h0M1168.0 529.9h0M1165.3 597.2h0M1206.6 599.6h0M1203.7 606.8h0M1166.9 597.2h0M1209.1 537.6h0M1207.2 542.7h0M1207.7 558.0h0M1172.2 595.8h0M1200.5 567.4h0M1199.2 595.2h0M1217.2 539.9h0M1176.2 603.8h0M1213.3 530.9h0M1196.7 565.0h0M1217.0 552.9h0M1233.5 561.4h0M1177.9 585.7h0M1152.7 602.3h0M1223.0 543.9h0M1219.7 539.0h0M1197.6 532.2h0M1199.4 604.9h0M1190.4 597.1h0" stroke="#f7b5a2" stroke-width="5" stroke-linecap="round"/>
<path d="M1143.9 595.4h0M1199.8 604.6h0M1142.4 597.2h0M1144.8 597.3h0M1137.3 595.7h0M1140.5 582.7h0M1209.6 605.0h0M1142.3 592.6h0M1214.4 560.4h0M1146.2 577.5h0M1141.5 600.7h0M1148.8 596.2h0M1146.7 593.4h0M1148.8 598.1h0M1146.3 586.9h0M1214.7 559.2h0M1147.5 591.2h0M1195.2 603.3h0M1139.5 580.4h0M1230.1 551.8h0M1136.7 594.4h0M1141.1 595.1h0M1177.9 605.3h0M1165.5 604.7h0M1147.2 601.3h0" stroke="#fce9e3" stroke-width="5" stroke-linecap="round"/>
<path d="M1180.5 561.0h0M1153.3 598.7h0M1193.2 594.4h0M1199.8 533.1h0M1187.5 598.5h0M1153.4 586.9h0M1192.8 540.6h0M1211.1 551.2h0M1189.5 582.9h0M1225.4 551.8h0M1195.0 541.0h0M1210.1 540.3h0M1196.8 530.7h0M1183.1 529.4h0M1199.7 545.9h0M1202.6 550.7h0M1149.8 534.8h0M1216.4 541.5h0M1185.7 596.9h0M1195.7 537.6h0M1178.7 544.4h0M1236.0 558.7h0M1231.0 561.6h0M1211.7 540.0h0M1195.5 564.8h0M1180.1 525.7h0M1180.3 557.4h0M1188.4 577.5h0M1208.6 537.6h0M1176.3 558.2h0M1192.1 600.8h0M1194.8 573.0h0M1204.5 526.0h0M1177.3 601.9h0M1199.3 535.9h0M1184.3 532.1h0M1155.7 554.0h0M1194.0 579.1h0M1211.0 537.9h0M1208.6 581.8h0M1181.7 545.4h0M1199.2 569.5h0M1208.0 531.8h0M1201.3 570.0h0M1198.8 545.3h0M1177.1 607.7h0M1221.2 537.3h0M1177.1 573.0h0M1205.0 561.2h0M1232.9 559.9h0M1230.9 558.0h0M1186.4 589.4h0M1216.1 548.2h0M1198.1 558.6h0M1185.1 529.9h0M1215.7 534.9h0M1105.1 552.1h0M1137.8 541.1h0M1207.9 552.9h0M1228.8 560.1h0M1212.1 538.4h0M1185.1 548.9h0M1215.1 539.3h0M1151.3 605.6h0M1141.9 532.8h0M1186.4 601.4h0" stroke="#f49b81" stroke-width="5" stroke-linecap="round"/>
<path d="M1150.2 598.6h0M1200.5 548.3h0M1202.9 569.3h0M1182.9 571.0h0M1206.8 578.1h0M1135.6 571.8h0M1207.5 552.4h0M1158.3 546.9h0M1219.8 550.3h0M1192.1 594.8h0M1198.4 532.9h0M1157.1 581.6h0M1182.4 538.5h0M1199.5 554.6h0M1149.1 540.6h0M1207.7 586.3h0M1163.7 602.3h0M1199.2 567.0h0M1195.4 590.1h0M1122.8 549.1h0M1179.3 585.6h0M1184.8 524.3h0M1224.9 551.5h0M1186.6 598.3h0M1177.1 592.2h0M1115.5 549.6h0M1150.5 541.9h0M1153.6 555.9h0M1223.8 548.4h0M1196.5 593.7h0M1148.5 553.4h0M1176.8 577.4h0M1164.2 587.7h0M1192.7 577.1h0M1218.6 548.2h0M1108.7 554.6h0M1181.6 555.6h0M1211.1 554.1h0M1161.8 533.7h0M1157.7 535.5h0M1181.6 542.5h0M1150.7 590.9h0M1214.7 534.9h0M1153.8 584.5h0M1169.3 601.0h0M1121.3 545.7h0M1139.6 546.9h0M1153.8 570.4h0M1200.6 537.5h0M1163.1 560.9h0M1138.6 562.6h0M1124.2 548.3h0M1207.2 533.5h0M1126.4 560.7h0M1202.1 553.5h0M1133.3 539.3h0M1175.8 577.4h0M1171.8 584.4h0M1114.9 551.4h0M1177.6 565.0h0M1195.9 557.0h0M1121.5 545.7h0M1150.4 535.2h0M1154.6 605.3h0M1210.4 528.6h0M1200.2 537.0h0M1142.6 553.6h0M1193.9 533.6h0M1184.5 535.0h0M1181.0 581.0h0M1204.1 560.5h0M1162.6 543.6h0M1211.6 540.5h0M1181.4 576.3h0M1178.1 559.5h0M1127.8 567.0h0M1210.8 559.7h0M1153.4 561.6h0M1195.5 555.8h0M1163.5 565.7h0M1171.8 607.5h0M1206.9 570.5h0M1172.1 601.0h0M1187.2 545.8h0M1194.6 529.5h0M1202.9 534.9h0M1188.4 593.8h0M1169.1 556.7h0M1225.6 549.0h0M1121.0 561.2h0M1175.8 546.8h0M1205.5 591.7h0M1197.1 599.0h0M1200.5 546.5h0M1189.7 591.5h0M1160.1 547.7h0M1234.2 554.4h0M1206.7 553.7h0M1182.8 534.3h0M1204.4 570.7h0M1154.8 555.0h0M1117.8 544.2h0M1189.9 563.5h0M1124.3 565.8h0M1229.9 551.1h0M1197.6 558.3h0M1196.3 595.4h0M1147.1 537.5h0" stroke="#ef7d5d" stroke-width="5" stroke-linecap="round"/>
<path d="M1227.1 548.1h0M1145.8 591.6h0M1203.8 596.9h0M1143.5 592.5h0M1224.3 552.4h0M1139.0 585.7h0M1221.8 551.0h0M1189.5 604.2h0M1221.3 547.7h0M1145.8 593.8h0M1143.8 582.7h0M1160.0 603.6h0M1185.1 525.1h0M1137.3 595.4h0M1137.3 595.4h0M1135.2 587.0h0M1168.4 602.9h0M1135.6 578.9h0M1141.0 584.0h0M1147.9 580.8h0M1142.5 580.7h0M1145.2 582.4h0M1148.4 585.9h0M1138.3 580.0h0M1182.8 597.4h0M1146.2 593.3h0M1195.8 597.3h0M1139.3 582.1h0M1138.0 595.5h0M1135.8 580.0h0M1154.6 600.9h0M1179.1 604.2h0M1140.3 581.3h0M1161.8 603.8h0M1136.0 589.1h0M1136.2 593.2h0M1166.7 602.7h0M1152.5 595.1h0M1145.2 593.3h0M1209.1 577.9h0M1141.1 586.3h0" stroke="#f9cfc2" stroke-width="5" stroke-linecap="round"/>
<path d="M1227.0 545.2h0M1207.1 598.4h0M1228.8 554.8h0M1227.1 555.7h0M1210.9 529.0h0M1178.3 554.4h0M1169.3 603.4h0M1207.3 541.8h0M1210.3 546.4h0M1190.7 602.4h0M1186.7 598.7h0M1185.3 605.7h0M1207.9 580.8h0M1221.8 548.5h0M1223.0 540.3h0M1224.3 552.5h0M1213.8 540.5h0M1207.6 572.4h0M1192.2 598.6h0" stroke="#f8c2b2" stroke-width="5" stroke-linecap="round"/>
<path d="M1187.0 616.3h0M1160.6 636.1h0M1156.7 616.1h0M1156.5 633.4h0M1151.0 606.5h0M1184.3 605.0h0M1164.5 620.3h0M1186.5 636.3h0M1161.8 635.9h0M1189.6 614.7h0M1184.3 614.3h0" stroke="#fad3c8" stroke-width="5" stroke-linecap="round"/>
<path d="M1174.2 626.8h0M1164.4 624.7h0M1167.3 606.4h0M1153.5 613.3h0M1139.2 607.5h0M1189.6 621.3h0M1184.8 618.7h0M1190.3 608.0h0M1171.7 628.3h0M1171.2 613.0h0M1169.2 613.8h0M1161.3 621.5h0M1183.4 611.1h0M1186.0 618.5h0M1179.9 605.2h0M1181.6 638.7h0M1161.5 627.1h0M1160.8 603.9h0M1141.1 608.9h0M1159.2 620.2h0M1161.8 615.5h0M1174.2 628.4h0M1167.7 637.5h0M1146.8 613.7h0M1150.4 618.3h0M1166.6 610.0h0M1140.9 603.1h0" stroke="#fbe0d8" stroke-width="5" stroke-linecap="round"/>
<path d="M1150.3 613.9h0M1141.3 603.5h0M1168.6 624.2h0M1161.3 625.0h0M1183.8 634.4h0M1176.0 632.6h0M1166.1 606.1h0M1165.6 627.0h0M1157.1 621.1h0M1150.6 606.3h0M1180.4 636.2h0M1188.9 625.4h0M1141.1 615.3h0M1178.5 610.6h0M1174.9 611.0h0M1158.7 633.5h0M1167.6 622.8h0M1147.9 606.7h0M1164.1 617.8h0M1176.7 629.9h0M1188.3 618.9h0M1175.1 623.4h0M1169.7 629.1h0M1179.7 619.9h0M1160.5 614.1h0M1163.2 634.5h0M1171.8 628.2h0" stroke="#fce5de" stroke-width="5" stroke-linecap="round"/>
<path d="M1139.2 613.8h0M1147.5 608.1h0M1155.8 610.1h0M1188.8 608.0h0M1162.8 616.4h0M1153.6 603.7h0M1165.8 636.1h0M1193.8 609.8h0M1184.7 616.4h0M1166.5 605.9h0M1186.1 631.7h0M1186.6 609.9h0M1159.8 613.5h0" stroke="#fce9e3" stroke-width="5" stroke-linecap="round"/>
<path d="M1162.7 607.1h0M1188.1 633.6h0M1147.4 616.2h0M1175.3 630.1h0M1190.8 607.2h0M1160.1 619.2h0M1183.4 606.0h0M1166.0 621.6h0M1183.7 631.8h0M1174.9 632.4h0M1166.4 617.7h0M1159.5 630.2h0M1181.7 618.5h0M1173.9 613.1h0M1175.5 630.2h0M1173.9 630.0h0M1177.0 606.4h0M1159.2 607.8h0M1161.8 605.6h0" stroke="#fad8cd" stroke-width="5" stroke-linecap="round"/>
<path d="M1167.0 631.7h0M1169.8 612.6h0M1180.6 610.7h0M1188.4 625.8h0M1163.2 630.5h0M1162.2 618.2h0M1173.1 621.4h0M1162.3 631.5h0M1155.5 633.0h0M1161.5 612.5h0M1169.2 619.3h0M1183.7 635.5h0M1176.1 618.9h0M1172.6 620.0h0M1169.5 617.6h0M1174.2 617.2h0M1178.3 605.5h0M1148.4 627.8h0M1184.2 615.5h0M1155.0 619.8h0M1158.4 624.6h0M1169.7 638.4h0M1186.5 625.1h0M1179.6 622.6h0M1167.2 607.8h0M1148.7 615.8h0M1152.7 608.6h0M1154.5 609.9h0M1158.6 615.5h0M1147.7 604.6h0M1148.8 615.8h0M1156.6 635.7h0M1154.5 628.8h0" stroke="#fbdcd3" stroke-width="5" stroke-linecap="round"/>
<path d="M1210.5 605.0 L1214.5 613.0 L1223.5 622.0 L1231.5 628.0 L1247.5 637.0 L1259.5 645.0 L1268.5 659.0 L1273.5 672.0 L1275.5 687.0 L1275.5 696.0 L1288.5 696.0 L1298.5 699.0 L1307.5 703.0 L1309.5 709.0 L1305.5 715.0 L1293.5 723.0 L1281.5 735.0 L1276.5 752.0 L1273.5 772.0 L1267.5 785.0 L1257.5 792.0 L1242.5 796.5 L1221.5 798.0 L1199.5 795.0 L1177.5 785.0 L1162.5 771.0 L1154.5 755.0 L1149.5 735.0 L1144.5 715.0 L1142.5 695.0 L1144.5 679.0 L1148.5 663.0 L1155.5 650.0 L1161.5 639.0 L1169.5 636.0 L1179.5 638.0 L1188.5 634.0 L1191.5 617.0 L1195.5 606.0Z" fill="#fbe7e0"/>
<path d="M1237.0 672.0h0M1189.3 732.1h0M1170.5 642.6h0M1247.9 646.1h0M1255.0 715.2h0M1218.4 674.4h0M1187.1 717.8h0M1261.1 767.1h0M1243.5 720.4h0M1200.7 638.2h0M1227.5 730.1h0M1197.8 775.3h0M1252.5 735.2h0M1241.8 762.3h0M1176.9 696.6h0M1181.7 711.7h0M1234.6 652.5h0M1193.5 783.2h0M1277.1 736.7h0M1238.0 746.8h0M1210.2 641.4h0M1195.2 750.2h0M1198.7 775.1h0M1174.2 729.4h0M1233.6 738.3h0M1195.6 792.3h0M1198.0 612.6h0M1231.7 650.6h0M1222.5 784.1h0M1255.0 646.8h0M1262.4 652.3h0M1233.3 792.9h0M1239.1 782.9h0M1217.1 636.2h0M1166.1 723.0h0M1225.0 623.5h0M1207.5 609.4h0M1276.0 734.1h0M1251.1 680.6h0M1184.3 757.9h0M1224.5 674.8h0M1181.4 643.2h0M1156.8 756.8h0M1197.7 663.9h0M1230.4 666.1h0M1189.2 722.9h0M1237.4 724.8h0M1175.7 724.1h0M1192.0 779.5h0M1216.1 691.8h0M1240.5 635.5h0M1227.2 699.0h0M1216.5 713.0h0M1254.6 766.3h0M1204.1 752.1h0M1149.7 720.3h0M1152.9 729.4h0M1145.1 698.5h0M1261.8 699.3h0M1157.4 676.7h0M1227.6 675.2h0M1181.6 725.4h0M1250.8 760.0h0M1251.7 717.3h0M1252.3 671.1h0M1243.6 667.2h0M1245.2 642.5h0M1288.3 716.1h0M1244.1 750.6h0M1250.6 670.9h0M1274.5 756.2h0M1206.0 668.2h0M1195.8 692.0h0M1215.9 677.5h0M1197.6 761.0h0M1179.3 658.4h0M1234.9 649.9h0M1197.6 616.0h0M1198.0 662.3h0M1237.7 752.1h0M1163.3 753.5h0M1189.0 672.5h0M1229.1 789.9h0M1164.2 717.2h0M1264.7 705.4h0M1180.6 741.8h0M1263.7 676.6h0M1215.6 737.7h0M1194.0 791.4h0M1258.6 763.0h0M1229.5 771.9h0M1265.9 762.0h0M1192.1 721.5h0M1248.0 794.5h0M1197.0 743.6h0M1168.8 672.3h0M1157.9 683.0h0M1243.4 744.2h0M1223.1 794.5h0M1243.6 767.4h0M1219.3 776.8h0M1238.7 780.5h0M1255.6 700.6h0M1264.4 681.4h0M1210.2 780.9h0M1151.3 698.3h0M1224.7 712.6h0M1249.4 780.2h0M1223.3 659.3h0M1246.4 789.3h0M1212.6 667.7h0M1297.1 720.3h0M1202.7 726.7h0M1211.9 648.6h0M1201.1 756.0h0M1260.9 701.9h0M1265.8 734.7h0M1197.3 728.2h0M1205.7 702.0h0M1168.2 639.6h0M1257.0 675.8h0M1219.7 774.8h0M1156.6 679.7h0M1190.2 700.5h0M1195.0 645.9h0M1185.6 703.2h0M1264.6 743.5h0M1244.3 728.8h0M1162.5 695.9h0M1230.9 639.9h0M1168.0 639.5h0M1257.2 732.7h0M1236.0 728.6h0M1173.2 734.8h0M1247.9 679.0h0M1260.0 694.9h0M1159.7 730.1h0M1234.6 699.1h0M1170.7 670.1h0M1211.1 748.2h0M1222.0 771.6h0M1195.7 676.7h0M1173.7 728.1h0M1171.8 710.1h0M1194.4 619.7h0M1152.3 743.3h0M1260.4 696.5h0M1237.0 668.4h0M1271.4 698.3h0M1189.2 680.1h0M1153.8 687.7h0M1233.7 648.3h0M1251.4 764.6h0M1276.5 701.2h0M1247.8 699.1h0M1241.6 643.6h0M1216.6 710.6h0M1266.0 771.4h0M1265.1 716.8h0M1269.8 701.7h0M1245.7 742.1h0M1205.8 649.9h0M1178.0 776.6h0M1194.0 788.2h0M1211.5 629.7h0M1181.1 690.9h0M1160.5 667.7h0M1187.4 690.0h0M1155.3 723.5h0M1214.1 781.6h0M1264.2 708.2h0M1198.8 714.3h0M1167.6 666.5h0M1177.9 745.6h0M1248.6 722.7h0M1249.2 775.3h0M1197.6 609.7h0M1272.0 717.4h0M1188.7 699.5h0M1207.0 612.4h0M1174.6 754.5h0M1254.8 711.0h0M1159.4 742.8h0M1173.7 704.0h0M1200.6 710.1h0M1154.2 653.2h0M1206.0 685.2h0M1183.8 647.8h0M1172.9 640.8h0M1302.6 706.3h0M1236.7 773.7h0M1192.2 680.3h0M1207.6 623.0h0M1232.2 761.9h0M1196.7 791.5h0M1293.5 715.2h0M1211.5 723.1h0M1249.8 778.8h0M1212.8 753.5h0M1206.7 712.1h0M1213.9 719.6h0M1205.7 636.7h0M1201.6 622.2h0M1215.3 624.3h0M1188.0 788.0h0M1210.6 784.5h0M1191.4 735.1h0M1198.5 751.2h0M1255.7 735.0h0M1189.1 747.6h0M1255.7 664.0h0M1249.8 696.2h0M1225.5 689.0h0M1175.0 738.9h0M1193.4 746.2h0M1185.6 754.6h0M1236.8 714.6h0M1170.1 694.8h0M1242.6 719.1h0M1258.4 775.1h0M1254.0 649.2h0M1168.9 723.3h0M1157.5 724.6h0M1241.0 793.6h0M1249.7 789.1h0M1272.1 671.4h0M1249.7 641.1h0M1240.6 665.5h0M1191.6 761.2h0M1179.4 782.1h0M1242.5 672.3h0M1224.3 672.2h0M1275.0 710.0h0M1156.1 651.6h0M1244.8 653.1h0M1218.4 748.2h0M1146.3 672.5h0M1236.6 784.6h0M1146.6 720.3h0M1151.9 674.8h0M1238.3 645.3h0M1161.0 651.1h0M1226.8 680.1h0M1264.3 658.7h0M1240.9 637.7h0M1241.5 657.4h0M1201.4 731.5h0M1215.8 737.9h0M1241.8 667.6h0M1254.6 698.4h0M1161.0 665.4h0M1170.7 639.8h0M1254.3 642.3h0M1259.5 712.8h0M1227.4 662.3h0M1273.4 687.9h0M1215.7 739.7h0M1189.4 694.3h0M1248.4 751.8h0M1167.7 670.7h0M1267.8 759.4h0M1226.8 786.0h0M1255.6 686.1h0M1192.6 753.0h0M1176.6 762.1h0M1232.6 725.3h0M1174.9 778.7h0M1270.9 693.4h0M1223.3 676.8h0M1268.4 697.2h0M1154.3 659.1h0M1186.3 776.1h0M1237.4 651.2h0M1179.2 705.5h0M1192.6 640.7h0M1191.0 733.6h0M1288.6 708.3h0M1194.9 712.2h0M1174.9 744.7h0M1198.2 735.1h0M1167.9 674.8h0M1171.7 669.0h0M1174.8 757.1h0M1190.2 630.5h0M1253.7 700.8h0M1256.4 694.3h0M1248.9 699.2h0M1278.2 743.1h0M1190.1 686.9h0M1266.0 748.6h0M1250.3 700.4h0M1167.7 749.3h0M1182.2 697.9h0M1234.2 717.1h0M1157.2 735.6h0M1205.9 769.2h0M1239.9 767.7h0M1173.8 729.4h0M1149.4 714.2h0M1171.4 729.3h0M1240.6 658.1h0M1272.8 738.4h0M1160.9 730.9h0M1206.2 716.1h0M1163.2 768.6h0M1154.7 693.3h0M1189.8 684.3h0M1225.4 748.2h0M1193.2 746.4h0M1160.7 732.3h0M1210.6 648.6h0M1170.1 745.5h0M1189.0 705.1h0M1146.6 709.1h0M1153.0 720.5h0M1169.5 721.6h0M1262.4 697.7h0M1204.6 682.0h0M1264.8 741.2h0M1165.7 748.7h0M1271.7 696.7h0M1161.0 739.4h0M1218.6 688.1h0M1248.1 668.7h0M1260.9 771.5h0M1224.4 695.9h0M1165.2 667.8h0M1259.8 716.7h0M1229.8 784.6h0M1178.7 728.0h0M1224.7 737.3h0M1224.8 646.0h0M1244.5 791.8h0M1165.9 743.2h0M1223.7 637.6h0M1277.1 714.6h0M1198.9 780.1h0M1189.8 641.0h0M1190.8 763.4h0M1191.2 621.2h0M1149.7 729.9h0M1226.3 754.6h0M1232.2 690.4h0M1207.6 673.9h0M1196.0 649.4h0M1206.4 730.9h0M1233.7 796.5h0M1222.6 768.6h0M1195.4 722.9h0M1253.6 763.2h0M1153.2 683.6h0M1284.9 720.8h0M1276.9 699.2h0M1205.0 734.5h0M1162.3 663.0h0M1255.5 710.0h0M1216.6 772.2h0M1206.0 725.1h0M1156.0 697.9h0M1220.4 775.1h0M1192.6 721.2h0M1213.2 723.6h0M1186.6 636.3h0M1159.7 680.8h0M1256.2 716.6h0M1256.0 663.0h0M1265.6 688.8h0M1182.0 691.7h0M1262.3 658.1h0M1199.0 780.3h0M1224.1 728.4h0M1171.1 649.4h0M1168.7 732.1h0M1265.2 738.2h0M1265.4 767.3h0M1159.0 751.0h0M1278.1 728.2h0M1183.1 746.8h0M1184.9 686.2h0M1175.5 767.5h0M1291.2 713.8h0M1208.8 778.4h0M1183.9 704.6h0M1168.5 670.8h0M1154.8 724.1h0M1158.3 658.4h0M1175.7 683.6h0M1223.7 683.9h0M1190.5 667.5h0M1186.3 766.5h0M1267.5 761.6h0M1217.2 634.1h0M1208.3 774.6h0M1256.0 707.1h0M1259.9 719.9h0M1246.0 665.2h0M1271.2 713.9h0M1155.7 673.6h0M1177.0 644.6h0M1166.2 645.2h0M1223.2 697.1h0M1208.4 695.2h0M1191.6 705.3h0M1198.6 730.7h0M1168.5 679.0h0M1223.0 774.6h0M1279.9 710.0h0M1206.6 740.7h0M1236.1 647.1h0M1186.0 727.4h0M1171.0 725.5h0M1258.4 780.7h0M1240.1 719.1h0M1160.3 664.7h0M1223.0 787.9h0M1249.0 740.5h0M1190.7 648.5h0M1211.6 712.1h0M1171.3 764.7h0M1186.8 732.7h0M1270.5 684.7h0M1209.3 786.0h0M1194.6 686.5h0M1233.2 712.8h0M1239.2 783.7h0M1245.4 651.5h0M1175.8 728.2h0M1175.4 642.8h0M1234.0 737.2h0M1150.8 717.6h0M1224.3 678.3h0M1181.3 731.6h0M1270.3 761.2h0M1255.6 675.2h0M1245.9 670.8h0M1244.0 739.2h0M1148.2 698.8h0M1260.5 661.7h0M1257.2 683.8h0M1230.0 664.8h0M1198.7 645.8h0M1181.3 782.7h0M1197.0 778.0h0M1255.5 713.1h0M1217.0 724.4h0M1276.4 738.4h0M1188.1 783.4h0M1262.5 766.3h0M1193.8 731.2h0M1210.1 658.7h0M1198.2 625.0h0M1192.4 621.4h0M1162.9 704.6h0M1188.3 755.3h0M1195.0 659.6h0M1193.1 640.8h0M1188.9 721.1h0M1163.7 730.7h0M1296.5 718.8h0M1225.9 628.7h0M1164.9 642.0h0M1156.9 716.9h0M1182.8 675.1h0M1160.7 716.4h0M1185.7 731.4h0M1188.0 682.9h0M1181.3 739.6h0M1166.0 678.8h0M1298.5 708.1h0M1279.0 728.8h0M1212.0 784.1h0M1236.1 727.8h0M1175.7 638.7h0M1200.9 662.8h0M1235.3 746.7h0M1169.2 767.9h0M1254.9 764.9h0M1209.0 686.8h0M1286.4 716.6h0M1286.4 712.9h0M1220.6 784.3h0M1245.4 682.6h0M1255.0 784.0h0M1190.5 731.4h0M1196.3 718.5h0M1243.1 712.9h0M1246.3 655.6h0M1273.3 729.4h0M1271.9 684.6h0M1243.8 708.2h0M1181.7 749.5h0M1274.9 758.3h0M1213.5 670.3h0M1183.3 641.0h0M1148.6 674.2h0M1222.6 643.1h0M1155.2 734.4h0M1198.3 784.1h0M1180.9 691.3h0M1249.3 707.0h0M1183.9 636.8h0M1177.0 755.5h0M1150.7 665.5h0M1233.7 784.1h0M1214.0 709.5h0M1198.7 786.9h0M1173.1 727.9h0M1172.9 716.9h0M1165.9 723.9h0M1190.5 644.8h0M1236.7 708.6h0M1237.4 642.6h0M1204.9 725.5h0M1172.6 659.0h0M1231.4 701.9h0M1217.5 696.5h0M1246.7 643.8h0M1212.0 672.1h0M1216.1 739.0h0M1206.8 737.8h0M1229.4 714.8h0M1205.8 795.3h0M1201.1 753.0h0M1218.8 620.3h0M1259.8 749.7h0M1256.4 648.0h0M1172.7 670.8h0M1249.9 729.7h0M1196.6 662.8h0M1222.8 650.2h0M1196.2 717.9h0M1235.7 665.4h0M1239.4 714.9h0M1254.4 706.6h0M1158.9 756.1h0M1183.6 744.8h0M1213.3 686.0h0M1252.7 682.3h0M1254.1 745.7h0M1266.7 695.5h0M1218.0 729.5h0M1188.2 735.4h0M1218.1 643.2h0M1233.1 790.7h0M1195.1 770.6h0M1186.5 703.7h0M1194.1 738.4h0M1251.2 784.2h0M1163.0 712.7h0M1147.9 702.7h0M1243.0 676.1h0M1172.6 669.5h0M1227.1 776.3h0M1216.3 686.0h0M1155.0 716.2h0M1250.9 780.2h0M1175.2 757.9h0M1188.6 708.5h0M1231.1 670.7h0M1259.1 673.7h0M1236.4 714.5h0M1212.3 617.0h0M1148.1 690.7h0M1207.0 613.8h0M1200.3 610.6h0M1253.1 708.0h0M1178.5 765.3h0M1248.2 678.1h0M1189.7 785.5h0M1249.3 762.2h0M1279.9 703.8h0M1188.8 754.4h0M1170.7 736.6h0M1282.4 719.2h0M1260.2 684.0h0M1227.3 759.7h0M1204.8 786.5h0M1187.1 667.7h0M1241.9 791.3h0M1217.3 767.9h0M1255.4 672.5h0M1203.9 642.0h0M1190.2 659.8h0M1196.6 760.5h0M1189.4 759.4h0M1207.7 689.3h0M1216.6 787.1h0M1167.1 659.9h0M1266.2 785.6h0M1253.6 644.5h0M1258.9 761.8h0M1263.4 778.9h0M1199.3 607.3h0M1286.8 721.4h0M1150.1 713.2h0M1241.0 663.4h0" stroke="#fbe2da" stroke-width="5" stroke-linecap="round"/>
<path d="M1227.9 659.5h0M1248.3 780.7h0M1158.0 759.2h0M1237.6 720.6h0M1186.9 715.9h0M1177.3 729.3h0M1204.2 623.9h0M1211.7 699.6h0M1197.0 675.9h0M1238.4 725.4h0M1235.2 779.1h0M1238.1 670.4h0M1231.2 659.0h0M1243.2 673.9h0M1205.9 786.2h0M1271.5 759.7h0M1184.7 783.1h0M1271.8 767.4h0M1252.9 688.5h0M1198.3 765.2h0M1197.7 656.5h0M1293.5 701.8h0M1194.1 698.8h0M1150.2 731.6h0M1305.4 706.2h0M1224.6 706.8h0M1176.5 648.8h0M1225.8 739.3h0M1192.5 658.6h0M1183.4 684.6h0M1255.2 655.4h0M1172.1 661.5h0M1292.4 702.4h0M1258.8 699.8h0M1230.4 644.7h0M1238.3 778.7h0M1202.6 721.0h0M1293.2 702.1h0M1211.8 700.7h0M1155.8 757.4h0M1183.1 701.8h0M1221.0 776.8h0M1255.4 722.7h0M1265.6 717.9h0M1160.8 686.1h0M1249.1 689.6h0M1225.1 763.6h0M1233.6 691.2h0M1157.0 691.7h0M1178.9 731.0h0M1270.8 673.4h0M1217.2 626.4h0M1202.2 723.3h0M1180.9 666.5h0M1269.2 746.3h0M1291.6 718.9h0M1156.9 659.1h0M1206.2 692.3h0M1222.3 755.0h0M1257.8 693.2h0M1155.1 698.2h0M1157.3 748.3h0M1275.1 727.4h0M1206.4 712.6h0M1195.2 645.4h0M1166.3 681.0h0M1261.8 750.9h0M1271.2 760.3h0M1171.2 691.1h0M1253.4 767.8h0M1197.7 706.2h0M1246.0 757.0h0M1271.9 670.6h0M1246.9 670.0h0M1264.1 781.2h0M1284.5 713.6h0M1146.7 677.0h0M1276.9 711.8h0M1256.2 643.8h0M1162.1 678.0h0M1257.6 697.1h0M1237.9 733.5h0M1169.3 647.8h0M1298.2 705.0h0M1159.0 729.4h0M1242.0 668.7h0M1249.6 701.3h0M1250.5 765.1h0M1221.7 666.9h0M1257.4 753.8h0M1209.3 627.0h0M1166.4 771.4h0M1240.8 734.4h0M1233.1 695.2h0M1183.3 649.5h0M1256.2 764.3h0M1253.3 721.1h0M1167.8 757.3h0M1161.4 667.0h0M1198.5 631.6h0M1224.6 742.0h0M1231.1 695.7h0M1263.6 786.1h0M1267.6 685.0h0M1208.0 757.4h0M1200.2 650.5h0M1193.9 643.4h0M1247.6 715.5h0M1151.1 729.4h0M1269.8 746.7h0M1277.5 699.1h0M1163.5 718.2h0M1258.0 702.5h0M1187.7 735.5h0M1244.3 774.5h0M1159.6 675.2h0M1198.7 630.5h0M1238.1 664.9h0M1155.3 750.4h0M1228.8 739.8h0M1212.2 628.6h0M1239.1 783.9h0M1244.9 739.9h0M1278.4 743.1h0M1239.7 716.8h0M1188.0 707.4h0M1158.4 715.1h0M1190.0 687.2h0M1254.0 768.5h0M1171.7 720.2h0M1229.8 707.5h0M1202.3 709.9h0M1185.8 657.5h0M1162.6 689.1h0M1160.3 716.8h0M1256.4 674.1h0M1183.1 724.9h0M1226.8 625.7h0M1239.5 792.8h0M1255.1 766.0h0M1159.6 725.7h0M1201.7 790.3h0M1225.4 754.9h0M1225.2 625.1h0M1274.3 742.9h0M1194.9 740.3h0M1232.0 747.3h0M1174.2 780.3h0M1202.0 757.2h0M1173.6 643.7h0M1158.3 717.3h0M1184.8 743.2h0M1198.4 769.4h0M1202.7 624.9h0M1272.0 741.0h0M1248.3 700.8h0M1214.9 616.4h0M1211.4 647.6h0M1269.3 692.5h0M1261.8 776.2h0M1228.9 679.7h0M1167.4 679.5h0M1220.2 685.3h0M1169.1 721.4h0M1264.4 690.7h0M1245.3 712.4h0M1190.6 695.9h0M1154.3 690.5h0M1171.7 659.3h0M1199.1 646.6h0M1216.9 666.6h0M1183.4 640.9h0M1244.9 739.9h0M1194.0 750.2h0M1215.7 674.1h0M1271.4 712.7h0M1205.9 617.7h0M1271.5 729.5h0M1238.1 763.5h0M1216.9 615.6h0M1260.9 659.0h0M1205.4 687.6h0M1225.6 638.2h0M1266.6 703.8h0M1267.2 665.9h0M1232.5 674.4h0M1202.0 780.6h0M1201.9 710.0h0M1280.8 712.9h0M1225.9 645.8h0M1272.6 672.8h0M1252.3 741.3h0M1150.7 698.6h0M1274.9 736.0h0M1208.6 699.4h0M1163.2 691.3h0M1204.8 708.3h0M1203.4 712.6h0M1255.9 722.8h0M1154.2 697.6h0M1159.0 735.7h0M1213.7 722.9h0M1178.6 704.1h0M1201.1 776.1h0M1181.5 741.4h0M1284.5 724.1h0M1224.2 634.4h0M1270.1 745.0h0M1189.4 752.7h0M1202.5 609.6h0M1248.9 785.5h0M1216.8 725.1h0M1203.0 751.8h0M1169.4 681.4h0M1205.3 618.5h0M1172.4 728.3h0M1169.2 696.6h0M1194.2 784.3h0M1167.9 754.7h0M1160.1 750.3h0M1191.1 660.8h0M1250.7 692.8h0M1263.8 668.0h0M1160.5 657.5h0M1204.5 695.5h0M1229.6 654.2h0M1212.0 697.7h0M1236.1 784.5h0M1206.8 750.6h0M1177.7 659.0h0M1231.4 712.9h0M1169.2 705.4h0M1226.9 739.4h0M1168.8 651.3h0M1220.4 778.2h0M1253.1 679.7h0M1275.5 703.7h0M1174.7 687.6h0M1266.7 656.8h0M1251.0 654.4h0M1215.0 672.6h0M1209.0 719.5h0M1180.0 740.8h0M1229.3 668.6h0M1250.4 745.1h0M1170.1 689.9h0M1199.5 753.5h0M1229.2 753.2h0M1237.0 786.8h0M1270.4 769.6h0M1161.6 648.8h0M1166.0 679.2h0M1171.2 663.5h0M1145.4 709.0h0M1258.0 767.2h0M1215.4 744.5h0M1196.8 681.1h0M1243.4 706.7h0M1232.5 662.2h0M1210.0 651.5h0M1230.5 781.1h0M1166.5 739.8h0M1235.4 673.8h0M1264.9 774.0h0M1271.2 704.7h0M1259.5 745.4h0M1192.0 634.5h0M1252.0 744.8h0M1234.0 646.5h0M1209.1 611.9h0M1219.0 729.1h0M1205.5 771.2h0M1162.4 710.2h0M1193.0 711.7h0M1162.2 682.8h0M1251.7 642.5h0M1232.0 692.8h0M1203.1 666.8h0M1163.9 667.7h0M1185.7 783.6h0M1297.0 707.3h0M1249.2 651.8h0M1252.5 681.2h0M1242.0 653.1h0M1231.9 633.1h0M1216.5 793.9h0M1232.4 769.6h0M1201.8 755.5h0M1209.7 691.0h0M1262.2 711.9h0M1164.6 702.9h0M1231.8 790.0h0M1228.4 638.5h0M1222.5 695.5h0M1249.3 743.7h0M1164.4 737.9h0M1217.7 674.0h0M1173.2 769.6h0M1221.8 719.6h0M1195.7 758.0h0M1198.1 782.7h0M1200.8 659.6h0M1275.6 709.8h0M1216.4 768.5h0M1214.1 703.7h0M1237.9 789.0h0M1211.5 685.2h0M1158.1 660.7h0M1266.2 717.8h0M1206.0 746.8h0M1188.5 763.2h0M1173.7 772.0h0M1251.4 779.2h0M1212.2 738.6h0M1151.0 674.9h0M1199.4 647.2h0M1202.3 616.7h0M1165.9 698.4h0M1274.7 722.0h0M1204.4 746.8h0M1216.8 710.4h0M1196.4 639.9h0M1262.0 735.5h0M1152.4 663.8h0M1273.7 737.8h0M1188.6 714.1h0M1281.4 721.8h0M1242.9 759.0h0M1193.3 624.2h0M1204.1 742.5h0M1213.3 722.4h0M1169.6 639.5h0M1205.2 612.6h0M1226.7 633.3h0M1231.9 730.2h0M1180.5 702.4h0M1195.8 698.6h0M1233.7 738.1h0M1237.9 685.5h0M1245.1 692.0h0M1204.2 678.6h0M1277.4 733.5h0M1196.5 693.1h0M1195.6 685.1h0M1199.5 746.8h0M1226.6 796.4h0M1179.2 680.3h0M1168.8 768.1h0M1245.6 751.9h0M1237.9 777.1h0M1157.1 706.6h0M1220.8 626.6h0M1255.3 670.4h0M1255.3 705.4h0M1240.8 709.1h0M1176.9 721.0h0M1258.6 778.5h0M1202.8 626.0h0M1233.3 718.6h0M1239.5 688.3h0M1260.1 711.5h0M1231.0 669.1h0M1251.5 724.2h0M1187.6 677.0h0M1171.1 757.8h0M1206.9 779.6h0M1229.8 779.3h0M1235.1 642.4h0M1201.3 671.5h0M1164.1 647.2h0M1270.3 767.8h0M1156.0 669.6h0M1170.9 656.2h0M1218.4 792.5h0M1151.3 698.5h0M1200.8 753.0h0M1173.9 672.1h0M1212.0 732.7h0M1224.6 717.2h0M1201.9 702.5h0M1256.1 649.5h0M1193.4 759.2h0M1232.7 772.9h0M1168.4 745.1h0M1255.0 664.4h0M1250.5 770.0h0M1208.7 695.3h0M1289.6 710.0h0M1298.6 709.7h0M1164.6 761.7h0M1182.6 708.1h0M1232.2 744.6h0M1223.8 643.0h0M1145.4 712.4h0M1219.6 747.0h0M1219.0 621.8h0M1218.1 786.1h0M1191.6 694.4h0M1162.1 655.5h0M1211.8 753.2h0M1211.0 722.5h0M1210.0 678.4h0M1168.7 764.6h0M1270.1 735.9h0M1244.7 793.6h0M1216.0 620.8h0M1221.5 790.2h0M1217.9 618.8h0M1208.1 683.0h0M1264.6 655.2h0M1147.1 718.7h0M1152.1 737.2h0M1243.2 759.6h0M1238.0 793.7h0M1155.2 696.8h0M1157.3 705.9h0M1278.7 712.0h0M1172.7 671.9h0M1237.6 698.6h0M1264.6 674.2h0M1185.4 711.8h0M1183.9 751.7h0M1228.7 692.3h0M1196.4 660.3h0M1257.4 702.9h0M1216.9 736.3h0M1172.3 650.7h0M1241.0 675.8h0M1243.6 674.8h0M1186.0 749.6h0M1247.9 794.4h0M1237.4 643.1h0M1206.1 731.3h0M1211.5 768.2h0M1287.8 706.9h0M1245.4 667.3h0M1195.1 791.7h0M1236.6 761.8h0M1208.0 691.7h0M1211.5 702.6h0M1168.0 671.2h0M1245.4 659.0h0M1268.0 735.9h0M1198.9 703.5h0M1255.2 694.8h0M1179.6 698.8h0M1197.5 697.2h0M1213.2 793.7h0M1229.5 711.4h0M1184.2 673.7h0M1256.6 709.2h0M1241.0 774.7h0M1262.2 743.1h0M1182.6 774.0h0M1231.9 641.3h0M1249.3 785.6h0M1235.9 710.4h0M1267.4 706.9h0M1259.7 766.4h0M1174.2 644.1h0M1248.2 719.5h0M1207.0 780.1h0M1222.7 642.8h0M1236.4 631.9h0M1264.2 668.2h0M1222.4 672.2h0M1200.5 786.4h0M1169.4 649.8h0M1249.8 688.0h0M1284.0 730.4h0M1244.1 784.6h0M1222.5 621.5h0M1161.9 689.2h0M1164.0 703.9h0M1253.4 699.5h0M1256.8 674.9h0M1165.6 708.9h0M1180.3 667.4h0M1299.6 714.4h0M1245.8 758.3h0M1178.5 707.2h0M1201.6 658.8h0M1219.1 794.5h0M1245.7 656.9h0M1183.8 779.9h0M1165.1 714.7h0M1162.3 698.0h0M1223.1 654.3h0M1217.6 740.0h0M1197.5 782.2h0M1195.8 720.8h0M1227.9 757.2h0M1263.7 769.9h0M1239.5 726.8h0M1244.3 751.8h0M1221.4 679.0h0M1213.2 616.3h0M1161.9 754.9h0M1268.9 769.2h0M1226.5 655.1h0M1188.2 726.1h0M1200.6 689.7h0M1231.8 709.8h0M1230.1 766.0h0M1250.2 749.2h0M1162.0 640.5h0M1207.4 619.8h0M1197.4 771.7h0M1252.6 764.4h0M1176.8 730.6h0M1255.7 669.6h0M1268.1 689.5h0M1159.5 687.9h0M1233.4 641.4h0M1217.1 658.4h0M1187.1 702.1h0M1176.0 748.5h0M1197.0 731.2h0M1271.9 677.8h0M1169.8 752.7h0M1286.9 696.1h0M1202.3 684.8h0M1211.6 714.9h0M1216.1 634.0h0M1179.7 783.3h0M1158.6 670.6h0M1174.7 659.6h0M1269.1 714.5h0M1167.4 767.3h0M1199.3 668.9h0M1209.1 664.3h0M1156.2 727.4h0M1233.3 669.5h0M1145.9 717.8h0M1180.1 740.5h0M1166.7 751.8h0M1190.2 755.0h0M1207.3 728.6h0M1246.7 719.5h0M1250.4 721.0h0M1196.8 704.2h0M1189.2 644.2h0M1274.2 699.0h0M1208.1 762.0h0M1207.4 793.4h0M1213.8 692.1h0M1198.3 713.7h0M1181.5 644.9h0M1193.9 698.7h0M1232.2 644.7h0M1265.3 717.5h0M1201.4 629.5h0M1158.6 697.7h0M1220.0 786.7h0M1205.5 795.6h0M1169.7 654.6h0M1210.2 737.6h0M1172.8 742.4h0M1256.3 776.1h0M1211.5 739.3h0M1225.6 651.3h0M1224.7 784.6h0M1176.8 678.9h0M1252.7 766.6h0M1219.2 762.9h0M1244.3 752.4h0M1264.5 711.6h0M1206.6 648.9h0M1187.8 787.1h0M1217.0 727.9h0M1264.3 768.5h0M1178.2 745.9h0M1198.1 684.4h0M1237.5 634.1h0M1184.7 684.8h0M1241.3 707.2h0M1193.3 748.2h0M1226.1 692.6h0M1178.4 713.8h0M1216.5 741.2h0M1153.9 684.2h0M1249.6 690.6h0M1215.2 644.0h0M1197.7 791.6h0M1272.4 735.7h0M1209.2 727.9h0M1235.6 728.9h0M1177.9 700.1h0M1171.7 744.9h0M1250.8 756.0h0M1175.4 754.7h0M1162.1 673.6h0M1213.6 695.4h0M1191.5 635.7h0M1181.8 721.6h0M1229.5 714.7h0M1293.1 710.2h0M1201.3 668.7h0M1223.0 775.7h0M1171.1 638.0h0M1235.5 710.3h0" stroke="#fce6df" stroke-width="5" stroke-linecap="round"/>
<path d="M1240.9 750.4h0M1237.7 737.1h0M1281.0 701.9h0M1179.6 684.9h0M1236.6 690.9h0M1243.7 737.3h0M1211.2 623.0h0M1242.8 718.8h0M1217.8 631.3h0M1233.2 670.6h0M1170.0 723.4h0M1193.0 735.4h0M1237.2 685.3h0M1216.4 686.6h0M1223.0 770.7h0M1265.4 669.3h0M1245.0 650.4h0M1145.7 683.7h0M1258.4 681.6h0M1209.2 661.9h0M1192.0 784.9h0M1165.2 639.5h0M1267.5 747.2h0M1230.1 721.0h0M1249.1 682.8h0M1183.9 696.6h0M1209.3 659.9h0M1183.8 753.3h0M1193.5 771.9h0M1249.7 684.7h0M1269.5 704.7h0M1206.2 637.8h0M1220.6 634.4h0M1167.4 678.8h0M1211.4 770.8h0M1223.6 750.3h0M1242.4 772.6h0M1206.0 734.5h0M1190.7 641.6h0M1145.9 715.5h0M1208.1 782.5h0M1216.0 738.0h0M1172.4 727.3h0M1259.9 684.5h0M1197.6 773.5h0M1215.3 724.0h0M1211.0 698.9h0M1204.8 764.9h0M1212.0 625.2h0M1192.7 699.4h0M1166.6 667.8h0M1218.4 663.1h0M1159.1 728.4h0M1268.4 706.3h0M1184.5 723.8h0M1185.4 655.7h0M1216.2 622.8h0M1254.8 749.9h0M1254.8 690.6h0M1254.1 759.9h0M1181.8 734.8h0M1155.7 661.9h0M1172.7 687.9h0M1232.0 669.8h0M1245.4 794.0h0M1295.3 707.2h0M1176.2 760.7h0M1160.8 671.4h0M1267.6 716.7h0M1238.5 794.6h0M1158.6 683.0h0M1198.6 752.7h0M1262.4 751.9h0M1209.4 653.8h0M1216.4 695.9h0M1191.2 665.3h0M1210.2 618.0h0M1245.0 701.9h0M1200.6 792.3h0M1153.0 666.2h0M1223.5 624.0h0M1211.9 687.8h0M1238.3 790.7h0M1256.7 722.3h0M1195.3 613.4h0M1242.0 676.3h0M1169.9 722.3h0M1257.1 782.5h0M1229.2 639.4h0M1163.5 703.0h0M1227.1 653.7h0M1213.3 745.1h0M1265.6 742.0h0M1270.8 679.8h0M1245.9 712.5h0M1213.2 740.7h0M1229.0 705.4h0M1224.4 669.2h0M1188.6 727.3h0M1256.4 765.2h0M1258.4 762.2h0M1157.2 717.2h0M1173.3 708.7h0M1181.4 693.4h0M1268.8 681.8h0M1176.1 649.6h0M1195.3 739.9h0M1235.8 751.2h0M1206.8 709.4h0M1242.7 750.8h0M1241.3 660.7h0M1208.4 684.2h0M1151.6 670.1h0M1208.6 608.8h0M1179.6 678.7h0M1202.1 718.0h0M1161.4 656.7h0M1175.7 682.8h0M1228.9 649.1h0M1259.5 657.4h0M1274.3 719.8h0M1306.5 709.2h0M1214.8 790.9h0M1237.2 754.0h0M1230.0 783.1h0M1190.2 725.4h0M1200.9 658.8h0M1303.5 713.7h0M1174.5 701.9h0M1194.9 701.2h0M1177.2 696.5h0M1254.9 745.8h0M1300.6 702.4h0M1167.6 682.6h0M1271.2 691.5h0M1150.0 701.2h0M1248.2 644.3h0M1246.8 654.4h0M1163.4 768.7h0M1213.7 773.7h0M1169.0 769.4h0M1229.3 719.0h0M1263.4 762.0h0M1225.3 694.7h0M1153.5 677.2h0M1202.3 619.0h0M1155.0 745.6h0M1190.0 723.6h0M1172.2 700.9h0M1200.4 755.3h0M1257.4 752.5h0M1153.5 703.4h0M1278.7 743.9h0M1193.8 726.8h0M1195.5 658.4h0M1165.2 696.8h0M1302.1 715.4h0M1177.1 645.2h0M1176.3 741.8h0M1159.0 735.4h0M1205.1 705.8h0M1221.3 728.8h0M1215.1 744.7h0M1204.9 605.4h0M1175.3 707.6h0M1164.2 663.9h0M1174.7 648.9h0M1219.3 652.9h0M1209.1 699.3h0M1252.9 782.2h0M1151.4 669.4h0M1274.7 735.9h0M1205.4 783.1h0M1198.6 612.4h0M1257.6 758.3h0M1225.4 664.4h0M1153.9 722.7h0M1204.1 726.1h0M1171.3 655.2h0M1173.7 722.9h0M1167.3 691.6h0M1266.8 715.3h0M1245.1 678.7h0M1175.6 767.0h0M1259.6 736.2h0M1268.6 713.2h0M1256.0 674.8h0M1162.4 706.9h0M1194.1 661.9h0M1171.0 735.3h0M1215.8 651.9h0M1174.3 680.1h0M1212.6 621.2h0M1252.8 785.6h0M1165.5 640.6h0M1269.3 705.1h0M1217.9 620.2h0M1166.1 742.0h0M1190.1 697.1h0M1286.0 723.2h0M1261.1 773.6h0M1255.5 653.7h0M1161.9 767.1h0M1225.0 777.3h0M1252.0 648.8h0M1234.5 683.1h0M1229.6 691.5h0M1178.5 735.0h0M1197.7 613.7h0M1207.4 704.5h0M1172.7 743.4h0M1263.1 734.5h0M1232.8 746.6h0M1256.9 679.5h0M1162.7 748.3h0M1295.1 713.2h0M1160.0 658.6h0M1206.1 787.3h0M1153.4 726.9h0M1239.5 768.8h0M1209.9 687.0h0M1242.0 769.7h0M1248.4 702.9h0M1158.4 700.5h0M1159.3 676.3h0M1275.4 754.5h0M1221.3 745.5h0M1160.2 735.6h0M1218.0 639.9h0M1301.0 705.9h0M1228.8 689.9h0M1250.4 645.5h0M1199.7 707.0h0M1157.9 665.3h0M1221.4 688.5h0M1152.9 727.3h0M1284.7 718.8h0M1221.8 797.7h0M1274.6 761.2h0M1247.2 669.2h0M1167.9 756.8h0M1187.2 673.1h0M1268.7 745.1h0M1190.5 760.8h0M1246.9 770.4h0M1230.0 733.3h0M1216.2 649.3h0M1254.6 667.2h0M1186.8 701.0h0M1232.2 757.1h0M1259.2 729.8h0M1268.0 674.6h0M1180.7 753.8h0M1259.6 673.2h0M1244.6 708.8h0M1192.2 778.6h0M1198.7 728.5h0M1179.2 784.3h0M1276.9 703.8h0M1195.8 738.8h0M1165.5 735.9h0M1237.8 646.5h0M1178.5 645.7h0M1190.2 698.1h0M1236.1 726.7h0M1270.0 709.6h0M1194.4 731.6h0M1183.6 670.4h0M1177.1 719.2h0M1167.3 660.7h0M1236.6 735.7h0M1147.6 712.1h0M1231.0 795.8h0M1193.7 788.3h0M1188.4 696.5h0M1161.7 736.0h0M1225.5 695.2h0M1211.3 720.4h0M1206.8 778.6h0M1231.3 753.4h0M1177.1 691.3h0M1252.2 697.1h0M1283.9 702.5h0M1273.9 758.4h0M1192.6 726.2h0M1202.3 773.5h0M1233.8 794.2h0M1172.9 706.8h0M1298.6 699.1h0M1204.7 617.6h0M1196.5 706.3h0M1231.9 660.8h0M1190.0 773.6h0M1163.3 666.2h0M1254.7 713.3h0M1287.2 708.9h0M1274.5 716.9h0M1271.3 726.4h0M1254.8 756.7h0M1182.6 761.3h0M1163.7 748.6h0M1173.7 667.9h0M1205.1 787.7h0M1175.0 782.5h0M1162.8 720.9h0M1243.9 788.2h0M1230.9 708.4h0M1164.4 651.8h0M1181.2 711.8h0M1214.7 723.1h0M1227.5 627.1h0M1198.7 756.7h0M1255.6 709.7h0M1181.3 648.9h0M1208.0 668.9h0M1251.4 654.2h0M1240.1 792.7h0M1281.1 696.3h0M1264.9 675.3h0M1158.2 728.8h0M1168.8 648.8h0M1190.7 758.6h0" stroke="#fbdfd6" stroke-width="5" stroke-linecap="round"/>
<path d="M1247.8 790.5h0M1209.0 621.6h0M1271.2 771.0h0M1253.7 663.0h0M1191.5 732.4h0M1179.1 743.6h0M1237.8 793.8h0M1262.7 722.9h0M1262.4 726.3h0M1242.9 675.4h0M1206.4 681.4h0M1252.4 714.8h0M1234.9 748.9h0M1198.6 608.0h0M1175.1 662.3h0M1159.8 738.6h0M1219.9 756.1h0M1161.3 741.5h0M1220.1 660.5h0M1226.8 673.5h0M1177.5 637.9h0M1232.3 657.9h0M1197.0 713.1h0M1179.8 688.7h0M1146.9 712.4h0M1232.7 725.7h0M1179.9 763.8h0M1272.4 756.2h0M1254.7 721.9h0M1210.1 616.1h0M1250.0 759.6h0M1185.3 694.5h0M1171.9 644.8h0M1239.2 725.4h0M1167.2 719.2h0M1214.7 786.8h0M1199.3 779.9h0M1224.0 629.7h0M1251.9 681.6h0M1154.7 726.5h0M1286.8 712.0h0M1193.3 787.0h0M1246.1 727.4h0M1171.3 771.6h0M1243.9 671.2h0M1170.0 737.9h0M1244.5 660.6h0M1160.0 742.6h0M1157.7 756.6h0M1168.9 755.8h0M1244.5 718.3h0M1165.5 736.5h0M1214.1 709.3h0M1232.7 783.2h0M1238.6 778.1h0M1193.2 778.1h0M1154.5 707.7h0M1270.4 703.3h0M1149.9 697.0h0M1266.8 775.9h0M1239.7 693.1h0M1190.4 651.8h0M1232.2 708.0h0M1261.4 731.9h0M1206.7 713.8h0M1180.2 730.2h0M1148.9 666.4h0M1207.2 766.3h0M1157.3 669.2h0M1217.6 722.4h0M1188.4 761.7h0M1233.2 645.1h0M1192.0 766.0h0M1144.3 703.2h0M1263.6 772.5h0M1298.1 717.7h0M1242.3 656.7h0M1212.5 618.7h0M1203.6 660.5h0M1200.4 722.8h0M1201.5 737.0h0M1188.5 685.0h0M1158.2 744.8h0M1262.1 786.3h0M1265.3 716.9h0M1255.5 667.4h0M1200.8 632.3h0M1221.5 653.5h0M1197.4 631.3h0M1188.3 678.0h0M1159.8 643.8h0M1242.9 657.7h0M1196.1 692.4h0M1195.4 712.5h0M1217.7 632.9h0M1248.0 757.6h0M1183.5 694.2h0M1148.0 713.7h0M1186.7 766.7h0M1145.4 703.4h0M1228.9 699.4h0M1167.1 766.3h0M1182.8 737.1h0M1271.6 770.0h0M1213.2 762.2h0M1171.5 757.1h0M1186.4 711.5h0M1189.3 718.9h0M1221.2 738.2h0M1228.9 710.0h0M1222.6 748.6h0M1256.9 724.4h0M1197.7 649.7h0M1256.2 643.2h0M1193.9 701.3h0M1188.9 722.6h0M1202.6 670.1h0M1234.4 771.7h0M1195.2 756.9h0M1202.4 632.5h0M1209.4 731.8h0M1176.3 760.4h0M1180.9 764.6h0M1219.1 773.4h0M1227.9 720.1h0M1246.2 674.1h0M1264.1 772.0h0M1233.4 675.7h0M1202.2 735.5h0M1245.8 787.3h0M1259.3 729.9h0M1191.5 777.3h0M1157.6 708.2h0M1236.2 683.1h0M1245.0 740.2h0M1234.4 780.1h0M1245.3 741.7h0M1158.6 676.9h0M1266.2 742.9h0M1199.9 733.3h0M1199.3 774.0h0M1203.1 652.6h0M1166.1 735.9h0M1261.9 679.9h0M1186.5 648.8h0M1171.9 668.3h0M1195.8 626.2h0M1246.4 681.7h0M1211.7 717.8h0M1196.6 674.1h0M1181.0 702.2h0M1254.4 664.2h0M1211.0 637.1h0M1227.9 787.1h0M1243.1 661.2h0M1239.2 634.4h0M1264.7 726.1h0M1273.3 730.1h0M1274.8 752.8h0M1164.9 740.5h0M1239.6 745.4h0M1244.0 773.0h0M1161.2 747.8h0M1218.2 763.5h0M1155.9 748.7h0M1218.2 764.7h0M1267.3 746.3h0M1231.0 773.9h0M1229.9 632.8h0M1273.4 719.7h0M1181.3 777.8h0M1241.7 761.4h0M1176.5 711.4h0M1227.3 761.6h0M1190.7 651.8h0M1212.1 614.1h0M1248.6 720.7h0M1269.1 758.0h0M1229.8 705.2h0M1187.3 775.1h0M1239.9 752.1h0M1156.0 721.1h0M1213.8 786.5h0M1171.4 707.4h0M1212.2 674.7h0M1199.4 653.1h0M1151.8 660.3h0M1178.0 648.3h0M1203.1 643.1h0M1267.8 710.4h0M1194.3 666.2h0M1249.3 786.0h0M1176.0 717.1h0M1202.6 728.8h0M1262.3 759.8h0M1272.9 734.6h0M1243.7 760.5h0M1285.6 701.1h0M1207.9 723.7h0M1198.7 626.7h0M1146.7 711.9h0M1183.5 706.4h0M1237.8 640.0h0M1238.8 651.3h0M1260.8 738.9h0M1213.4 666.1h0M1153.9 653.6h0M1149.6 673.0h0M1182.8 650.8h0M1204.0 769.8h0M1199.4 671.0h0M1269.5 721.4h0M1187.7 747.4h0M1268.3 765.3h0M1304.7 713.6h0M1236.1 764.4h0M1227.1 726.4h0M1249.4 708.2h0M1179.2 730.8h0M1214.7 692.9h0M1206.1 666.8h0M1266.4 760.4h0M1248.7 693.0h0M1213.5 734.4h0M1251.4 742.7h0M1198.6 657.6h0M1260.3 789.8h0M1239.8 683.8h0M1173.6 691.9h0M1164.6 650.7h0M1277.6 722.1h0M1246.0 648.0h0M1265.9 683.6h0M1165.6 648.6h0M1254.1 780.0h0M1274.0 750.4h0M1213.3 720.7h0M1172.8 700.9h0M1167.3 721.4h0M1251.8 756.7h0M1168.9 736.5h0M1258.3 681.3h0M1248.8 744.7h0M1157.0 681.5h0M1257.1 697.7h0M1231.8 771.7h0M1208.0 688.3h0M1249.8 688.3h0M1166.6 767.7h0M1185.0 675.9h0M1265.4 761.8h0M1233.5 633.9h0M1202.1 648.5h0M1206.3 619.4h0M1254.2 724.5h0M1261.4 782.1h0M1204.9 743.4h0M1210.3 782.5h0M1207.8 646.8h0M1170.3 659.4h0M1184.8 664.6h0M1184.4 752.7h0M1189.4 708.3h0M1206.6 742.6h0M1174.9 638.5h0M1190.5 675.1h0M1256.4 648.2h0M1216.5 695.0h0M1248.9 712.7h0M1259.9 762.5h0M1243.5 769.5h0M1191.8 694.8h0M1216.6 752.1h0M1149.1 721.7h0M1202.8 707.7h0M1268.8 752.7h0M1175.5 647.1h0M1184.1 702.7h0M1194.0 728.4h0M1164.8 734.5h0M1203.8 743.8h0" stroke="#fce9e3" stroke-width="5" stroke-linecap="round"/>
<path d="M1217.8 631.3h0M1167.8 757.3h0M1181.4 693.4h0M1146.6 709.1h0M1201.9 702.5h0" stroke="#f39276" stroke-width="4" stroke-linecap="round"/>
<path d="M1275.1 727.4h0M1212.5 618.7h0M1168.7 764.6h0M1175.2 757.9h0" stroke="#ec6e4b" stroke-width="4" stroke-linecap="round"/>
<path d="M1155.3 750.4h0M1171.3 764.7h0M1173.7 667.9h0" stroke="#ea623c" stroke-width="4" stroke-linecap="round"/>
<path d="M1202.3 616.7h0M1249.3 786.0h0M1184.7 684.8h0" stroke="#f18668" stroke-width="4" stroke-linecap="round"/>
<path d="M1238.0 793.7h0M1225.6 651.3h0M1281.1 696.3h0" stroke="#ef7a59" stroke-width="4" stroke-linecap="round"/>
<line x1="807.5" y1="504.0" x2="807.5" y2="811.0" stroke="#000" stroke-width="2.2"/>
<line x1="806.4" y1="810.0" x2="1331.0" y2="810.0" stroke="#000" stroke-width="2.2"/>
<line x1="800.0" y1="515.3" x2="807.5" y2="515.3" stroke="#333" stroke-width="2.4"/>
<text x="789.8" y="525.7" font-size="30" text-anchor="end">6</text>
<line x1="800.0" y1="584.8" x2="807.5" y2="584.8" stroke="#333" stroke-width="2.4"/>
<text x="789.8" y="595.1" font-size="30" text-anchor="end">3</text>
<line x1="800.0" y1="654.2" x2="807.5" y2="654.2" stroke="#333" stroke-width="2.4"/>
<text x="789.8" y="664.6" font-size="30" text-anchor="end">0</text>
<line x1="800.0" y1="723.7" x2="807.5" y2="723.7" stroke="#333" stroke-width="2.4"/>
<text x="789.8" y="734.1" font-size="30" text-anchor="end">−3</text>
<line x1="800.0" y1="793.1" x2="807.5" y2="793.1" stroke="#333" stroke-width="2.4"/>
<text x="789.8" y="803.5" font-size="30" text-anchor="end">−6</text>
<line x1="881.5" y1="810.0" x2="881.5" y2="817.5" stroke="#333" stroke-width="2.4"/>
<text x="881.5" y="849.2" font-size="30" text-anchor="middle">−10</text>
<line x1="1001.0" y1="810.0" x2="1001.0" y2="817.5" stroke="#333" stroke-width="2.4"/>
<text x="1001.0" y="849.2" font-size="30" text-anchor="middle">−5</text>
<line x1="1120.5" y1="810.0" x2="1120.5" y2="817.5" stroke="#333" stroke-width="2.4"/>
<text x="1120.5" y="849.2" font-size="30" text-anchor="middle">0</text>
<line x1="1240.0" y1="810.0" x2="1240.0" y2="817.5" stroke="#333" stroke-width="2.4"/>
<text x="1240.0" y="849.2" font-size="30" text-anchor="middle">5</text>
<rect x="877.9" y="724.2" width="175" height="17.6" fill="url(#ggp)"/>
<line x1="878.2" y1="724.2" x2="878.2" y2="727.4" stroke="#fff" stroke-width="1.2"/>
<line x1="878.2" y1="738.6" x2="878.2" y2="741.8" stroke="#fff" stroke-width="1.2"/>
<line x1="931.9" y1="724.2" x2="931.9" y2="727.4" stroke="#fff" stroke-width="1.2"/>
<line x1="931.9" y1="738.6" x2="931.9" y2="741.8" stroke="#fff" stroke-width="1.2"/>
<line x1="986.3" y1="724.2" x2="986.3" y2="727.4" stroke="#fff" stroke-width="1.2"/>
<line x1="986.3" y1="738.6" x2="986.3" y2="741.8" stroke="#fff" stroke-width="1.2"/>
<line x1="1040.4" y1="724.2" x2="1040.4" y2="727.4" stroke="#fff" stroke-width="1.2"/>
<line x1="1040.4" y1="738.6" x2="1040.4" y2="741.8" stroke="#fff" stroke-width="1.2"/>
<text x="882.6" y="710.7" font-size="19" textLength="166.4" lengthAdjust="spacingAndGlyphs"><tspan font-style="italic">Gpr 17</tspan> expression</text>
<text x="878.4" y="763.8" font-size="19.5" text-anchor="middle">0</text>
<text x="932.3" y="763.8" font-size="19.5" text-anchor="middle">1</text>
<text x="986.7" y="763.8" font-size="19.5" text-anchor="middle">2</text>
<text x="1041.2" y="763.8" font-size="19.5" text-anchor="middle">3</text>
<text x="-1.5" y="931.3" font-size="44" font-weight="bold">e</text>
<text x="247.2" y="1001.9" font-size="28" text-anchor="middle">Vehicle</text>
<text x="738.7" y="1001.6" font-size="28" text-anchor="middle">FGF1</text>
<clipPath id="clip7"><rect x="14" y="1015" width="467" height="273"/></clipPath>
<g clip-path="url(#clip7)">
<rect x="14" y="1015" width="467" height="273" fill="#f1f5f4"/>
<path d="M14.0 1290.0 L14.0 1246.0 L21.9 1247.2 L29.8 1248.3 L37.7 1249.5 L45.7 1250.6 L53.6 1251.8 L61.5 1253.0 L69.4 1254.1 L77.3 1255.3 L85.2 1256.4 L93.2 1257.6 L101.1 1258.8 L109.0 1259.9 L116.9 1260.8 L124.8 1261.4 L132.7 1262.0 L140.6 1262.6 L148.6 1263.2 L156.5 1263.9 L164.4 1264.5 L172.3 1265.1 L180.2 1265.7 L188.1 1266.3 L196.1 1266.9 L204.0 1267.5 L211.9 1268.1 L219.8 1268.8 L227.7 1269.8 L235.6 1271.2 L243.5 1272.6 L251.5 1274.0 L259.4 1275.3 L267.3 1276.5 L275.2 1276.2 L283.1 1275.9 L291.0 1275.6 L298.9 1275.3 L306.9 1275.1 L314.8 1274.8 L322.7 1274.5 L330.6 1274.2 L338.5 1274.0 L346.4 1273.7 L354.4 1273.4 L362.3 1273.1 L370.2 1272.7 L378.1 1272.1 L386.0 1271.4 L393.9 1270.8 L401.8 1270.2 L409.8 1269.6 L417.7 1269.0 L425.6 1268.3 L433.5 1267.7 L441.4 1267.1 L449.3 1266.5 L457.3 1265.9 L465.2 1265.2 L473.1 1264.6 L481.0 1264.0 L481.0 1290.0Z" fill="#f5f8f6"/>
<path d="M305.9 1243.9h0M433.0 1068.2h0M376.2 1147.1h0M119.2 1164.7h0M154.2 1231.6h0M421.9 1023.0h0M16.5 1113.9h0M397.5 1144.7h0M386.2 1175.8h0M232.5 1053.6h0M155.5 1163.4h0M144.0 1204.3h0M133.0 1215.1h0M221.9 1076.2h0M478.9 1120.8h0M384.2 1114.1h0M304.6 1273.0h0M475.8 1018.7h0M88.8 1024.0h0M300.1 1036.3h0M34.5 1071.2h0M30.7 1093.3h0M254.5 1249.2h0M231.7 1244.6h0M307.8 1121.4h0M129.6 1260.5h0M19.5 1044.3h0M103.9 1241.0h0M337.2 1015.5h0M107.7 1214.9h0M186.6 1149.7h0M401.6 1253.9h0M86.1 1027.7h0M139.0 1151.0h0M425.1 1081.1h0M409.6 1033.1h0M312.7 1113.4h0M360.4 1126.5h0M56.7 1016.1h0M251.1 1259.2h0M420.9 1031.6h0M293.4 1148.6h0M41.7 1072.5h0M164.9 1144.3h0M84.1 1134.3h0M395.2 1117.8h0M191.2 1255.6h0M471.1 1050.5h0M289.5 1072.5h0M296.6 1092.3h0M311.9 1032.0h0M329.9 1245.4h0M84.4 1148.4h0M219.6 1179.2h0M125.9 1256.7h0M202.0 1150.1h0M59.2 1090.4h0M466.0 1160.0h0M114.4 1151.6h0M327.7 1096.6h0M154.3 1078.3h0M422.2 1112.7h0M323.3 1215.7h0M75.5 1060.1h0M455.3 1079.2h0M436.1 1089.4h0M81.9 1122.0h0M103.9 1116.5h0M447.3 1201.1h0M271.9 1259.6h0M98.3 1082.7h0M426.9 1236.0h0M313.6 1099.2h0M189.7 1050.0h0M205.9 1258.7h0M125.8 1116.9h0M31.8 1206.3h0M423.2 1022.2h0M232.4 1205.3h0M164.5 1138.3h0M364.9 1198.9h0M25.8 1061.6h0M187.8 1158.9h0M28.2 1243.2h0M71.4 1059.6h0M465.7 1142.7h0M321.2 1065.2h0M214.0 1054.1h0M421.6 1139.7h0M174.7 1190.8h0M289.7 1249.2h0M333.3 1207.9h0M180.0 1106.8h0M371.4 1198.9h0M438.6 1244.0h0M84.5 1201.4h0M449.9 1152.2h0M16.4 1051.4h0M365.6 1252.0h0M392.5 1091.8h0M77.9 1125.6h0M209.6 1256.5h0M394.7 1071.6h0M307.5 1077.5h0M384.3 1038.8h0M353.0 1232.1h0M119.7 1124.9h0M106.7 1245.1h0M183.6 1123.2h0M97.8 1237.5h0M175.6 1045.8h0M456.8 1092.4h0M172.8 1216.9h0M140.8 1143.2h0M458.6 1194.0h0M221.6 1080.1h0M471.8 1215.6h0M432.7 1102.0h0M360.9 1252.4h0M285.2 1247.5h0M213.2 1253.1h0M424.1 1076.9h0M206.2 1168.7h0M444.9 1038.5h0M46.1 1132.7h0M214.8 1172.3h0M458.1 1130.2h0M131.2 1115.0h0M390.4 1038.1h0M329.9 1033.7h0M348.9 1228.2h0M308.0 1015.8h0M169.4 1259.9h0M108.8 1229.5h0M37.7 1015.7h0M113.4 1046.7h0M441.5 1102.0h0M406.4 1064.5h0M66.5 1031.5h0M296.0 1265.3h0M237.8 1263.5h0M291.7 1224.4h0M321.9 1084.1h0M157.2 1247.7h0M463.0 1238.6h0M231.5 1103.4h0M307.3 1049.9h0M310.7 1052.0h0M99.9 1126.6h0M42.9 1242.2h0M206.2 1035.8h0M370.8 1132.3h0M394.7 1111.8h0M354.9 1258.6h0M66.9 1056.8h0M440.5 1194.0h0M388.6 1103.2h0M423.9 1191.5h0M441.6 1240.1h0M35.8 1245.8h0M28.1 1094.9h0M23.4 1090.3h0M132.0 1048.5h0M130.1 1084.7h0M101.6 1047.6h0M278.8 1229.0h0M32.2 1027.9h0M289.7 1067.3h0M91.5 1230.7h0M330.6 1224.8h0M159.0 1119.7h0M452.2 1027.3h0M393.0 1093.2h0M321.3 1226.1h0M299.2 1020.3h0M103.3 1024.5h0M32.5 1201.8h0M388.4 1168.4h0M462.4 1160.3h0M412.8 1178.0h0M37.7 1050.7h0M172.2 1032.4h0M162.5 1110.4h0M66.6 1164.5h0M306.6 1082.9h0M386.4 1063.9h0M160.5 1136.9h0M416.9 1126.8h0M386.3 1088.4h0M372.1 1272.4h0M426.2 1027.8h0M106.1 1146.1h0M312.3 1106.8h0M298.6 1022.8h0M58.9 1036.9h0M322.8 1024.2h0M309.1 1049.3h0M398.8 1192.2h0M389.2 1036.4h0M166.8 1256.9h0M351.2 1234.1h0M419.0 1088.5h0M431.0 1203.8h0M26.5 1046.7h0M317.9 1167.9h0M114.3 1142.1h0M455.2 1093.6h0M191.1 1038.6h0M132.0 1191.7h0M227.2 1069.0h0M320.9 1130.4h0M191.7 1110.1h0M76.4 1101.3h0M323.4 1269.6h0M401.9 1174.3h0M190.0 1170.8h0M187.6 1075.7h0M114.4 1118.5h0M129.5 1163.5h0M168.0 1123.6h0M227.6 1037.1h0M365.5 1203.9h0M284.4 1276.6h0M154.0 1098.7h0M50.2 1091.8h0M370.4 1052.0h0M75.2 1098.5h0M76.2 1103.7h0M75.0 1065.2h0M51.9 1087.2h0M437.3 1095.3h0M139.7 1249.2h0M157.1 1136.8h0M402.9 1238.8h0M303.5 1028.6h0M101.4 1066.5h0M217.1 1275.1h0M426.8 1028.7h0M189.3 1034.0h0M346.0 1156.4h0M59.2 1094.1h0M353.7 1068.0h0M376.6 1181.2h0M399.6 1181.3h0M328.9 1066.3h0M187.1 1162.2h0M44.0 1139.2h0M256.3 1246.1h0M367.7 1033.7h0M103.1 1078.6h0M138.3 1169.3h0M363.5 1245.9h0M72.7 1104.6h0M100.1 1226.5h0M387.4 1083.0h0M315.0 1273.8h0M350.7 1072.8h0M479.5 1016.6h0M452.6 1033.6h0M407.7 1140.2h0M376.9 1025.5h0M313.5 1187.3h0M100.1 1170.3h0M368.7 1186.0h0M367.8 1129.2h0M350.8 1256.8h0M221.7 1209.6h0M190.6 1132.5h0M210.0 1092.6h0M29.6 1054.4h0M408.3 1101.0h0M195.0 1037.0h0M269.9 1267.5h0M351.0 1085.4h0M192.1 1162.4h0M401.9 1033.1h0M443.4 1165.7h0M194.9 1191.4h0M78.4 1036.8h0M477.7 1059.5h0M83.1 1086.8h0M346.8 1216.1h0M399.4 1106.9h0M443.9 1254.3h0M71.6 1080.0h0M56.9 1100.7h0M475.3 1204.0h0M68.5 1249.8h0M96.6 1256.3h0M222.4 1160.0h0M364.4 1127.2h0M103.0 1199.6h0M441.0 1077.1h0M115.4 1244.1h0M373.2 1209.7h0M45.6 1062.7h0M235.1 1100.7h0M29.2 1106.8h0M159.8 1139.5h0M350.1 1183.2h0M226.5 1269.1h0M40.5 1123.3h0M429.0 1094.7h0M441.9 1018.5h0M129.2 1043.0h0M198.0 1204.0h0M120.1 1119.1h0M72.3 1242.6h0M29.4 1160.5h0M71.5 1111.2h0M96.3 1175.3h0M415.8 1205.6h0M240.1 1117.9h0M99.8 1149.0h0M326.8 1245.3h0M146.1 1033.3h0M255.0 1244.9h0M307.5 1137.1h0M264.4 1279.6h0M198.7 1223.2h0M383.3 1115.5h0M421.9 1247.1h0M97.8 1164.5h0M77.7 1209.8h0M66.9 1256.6h0M471.5 1173.4h0M121.7 1123.8h0M466.9 1118.4h0M111.1 1189.8h0M441.3 1160.0h0M32.9 1217.7h0M161.3 1240.4h0M294.2 1169.9h0M124.5 1228.2h0M231.2 1249.0h0M425.4 1020.3h0M369.4 1019.2h0M401.1 1188.3h0M369.4 1105.9h0M344.5 1253.3h0M410.8 1122.0h0M332.2 1218.1h0M357.6 1082.2h0M154.9 1186.9h0M92.3 1260.9h0M367.3 1250.4h0M91.4 1115.0h0M443.4 1146.5h0M292.6 1161.2h0M167.8 1109.1h0M451.4 1147.1h0M254.3 1255.2h0M56.8 1100.9h0M464.9 1201.7h0M282.7 1273.9h0M389.3 1113.9h0M145.7 1246.6h0M388.4 1232.7h0M342.2 1257.1h0M314.6 1038.0h0M457.9 1267.0h0M207.8 1080.9h0M337.2 1187.8h0M404.0 1039.6h0M170.5 1179.4h0M326.7 1208.4h0M111.6 1218.5h0M271.6 1248.9h0M373.2 1095.1h0M44.5 1046.7h0M353.9 1238.0h0M21.2 1022.0h0M461.5 1078.6h0M232.9 1079.7h0M205.0 1226.6h0M350.4 1135.7h0M355.3 1197.3h0M53.6 1245.1h0M276.8 1229.6h0M274.6 1255.3h0M449.3 1090.4h0M32.5 1112.0h0M225.5 1186.6h0M308.7 1174.1h0M48.6 1235.7h0M291.0 1098.3h0M117.8 1048.0h0M105.3 1217.4h0M424.3 1202.6h0M106.4 1090.6h0M226.2 1030.5h0M364.4 1021.3h0M344.3 1082.8h0M390.9 1071.6h0M231.5 1028.8h0M303.7 1061.5h0M396.4 1110.5h0M330.7 1040.2h0M313.7 1071.4h0M203.7 1134.6h0M274.7 1246.5h0M199.0 1252.9h0M361.6 1125.6h0M191.7 1049.4h0M231.9 1088.5h0M366.8 1199.2h0M171.9 1170.7h0M400.1 1216.2h0M191.9 1194.9h0M408.5 1249.6h0M380.7 1038.4h0M222.9 1096.1h0M346.9 1024.3h0M30.1 1157.3h0M196.0 1182.8h0M415.8 1084.3h0M284.6 1030.1h0M324.4 1060.8h0M330.5 1068.1h0M286.5 1119.1h0M99.7 1113.3h0M150.7 1208.6h0M150.8 1116.7h0M215.2 1125.6h0M480.6 1053.2h0M178.6 1065.4h0M222.9 1225.4h0M187.6 1132.2h0M285.5 1092.9h0M429.2 1254.7h0M190.1 1087.2h0M138.6 1133.6h0M427.0 1169.8h0M334.1 1131.6h0M48.2 1092.5h0M418.7 1236.2h0M160.2 1040.8h0M244.9 1285.7h0M106.5 1079.3h0M210.3 1105.4h0M400.7 1035.6h0M400.5 1264.2h0M235.2 1241.1h0M372.6 1033.5h0M227.9 1159.2h0M188.4 1121.6h0M108.0 1106.7h0M343.9 1074.5h0M373.8 1238.9h0M40.5 1088.1h0M356.2 1192.3h0M395.7 1131.8h0M221.9 1158.6h0M43.2 1157.5h0M332.9 1185.9h0M129.0 1033.6h0M314.4 1031.2h0M311.6 1084.1h0M134.5 1112.4h0M236.5 1080.4h0M308.7 1283.6h0M108.9 1124.9h0M463.3 1102.7h0M149.0 1110.4h0M156.9 1022.4h0M133.7 1039.5h0M45.5 1028.1h0M211.5 1103.4h0M345.4 1053.6h0M105.3 1164.9h0M77.9 1071.6h0M164.1 1025.0h0M372.8 1243.5h0M445.1 1051.9h0M320.5 1238.1h0M304.0 1081.5h0M372.5 1069.3h0M364.4 1272.5h0M174.6 1068.1h0M134.0 1242.0h0M218.4 1098.7h0M80.2 1099.9h0M220.1 1107.6h0M312.8 1269.5h0M78.5 1062.7h0M95.1 1212.8h0M146.3 1053.1h0M463.1 1096.7h0M26.0 1034.3h0M99.8 1191.9h0M91.1 1213.3h0M235.5 1218.7h0M21.0 1226.4h0M228.0 1122.8h0M90.1 1063.4h0M139.9 1016.2h0M384.1 1135.2h0M302.2 1137.5h0M203.7 1183.1h0M209.0 1265.3h0M395.5 1250.5h0M89.1 1217.0h0M445.4 1176.7h0M431.3 1078.3h0M326.1 1219.4h0M37.1 1129.0h0M323.8 1207.8h0M294.4 1076.0h0M374.6 1271.8h0M113.9 1059.8h0M459.2 1230.9h0M427.9 1258.1h0M67.4 1056.5h0M161.2 1251.2h0M29.2 1190.9h0M402.1 1179.8h0M441.3 1084.3h0M476.2 1104.6h0M299.8 1079.2h0M325.0 1135.5h0M330.8 1191.9h0M280.3 1213.9h0M458.8 1207.7h0M297.9 1109.7h0M170.8 1106.8h0M352.2 1075.5h0M338.1 1127.7h0M210.6 1090.4h0M366.8 1019.5h0M171.2 1258.6h0M50.2 1224.5h0M75.7 1105.6h0M100.1 1200.8h0M155.9 1115.9h0M223.0 1188.9h0M447.4 1131.1h0M144.0 1264.8h0M433.6 1139.9h0M331.8 1236.8h0M412.6 1172.3h0M202.3 1116.7h0M15.5 1278.9h0M381.5 1068.3h0M128.6 1262.9h0M387.4 1246.8h0M334.5 1181.6h0M113.2 1184.9h0M452.6 1133.2h0M139.4 1240.1h0M342.0 1226.5h0M74.5 1249.4h0M394.6 1135.3h0M68.9 1193.1h0M30.4 1034.7h0M409.4 1215.8h0M53.4 1111.9h0M142.1 1263.0h0M371.1 1036.6h0M298.0 1062.1h0M160.1 1243.3h0M307.7 1129.2h0M226.3 1075.2h0M416.7 1228.2h0M150.8 1079.0h0M310.9 1090.1h0M359.8 1249.4h0M190.6 1145.9h0M352.5 1270.3h0M340.2 1095.9h0M195.0 1267.6h0M26.4 1097.6h0M463.7 1137.4h0M347.3 1187.7h0M109.6 1166.4h0M355.3 1198.1h0M144.1 1205.0h0M233.2 1088.1h0M415.6 1017.4h0M223.2 1212.5h0M148.5 1178.9h0M156.7 1168.8h0M50.0 1150.3h0M140.6 1096.1h0M43.5 1060.8h0M231.5 1204.6h0M359.0 1057.1h0M444.8 1225.2h0M141.5 1089.5h0M49.1 1205.8h0M72.3 1092.4h0M235.4 1015.6h0M389.8 1088.1h0M45.1 1108.3h0M291.8 1116.3h0M418.1 1096.8h0M418.9 1020.8h0M16.7 1072.3h0M186.3 1198.6h0M368.9 1118.0h0M48.2 1212.2h0M137.7 1135.8h0M393.5 1108.0h0M233.3 1058.4h0M225.6 1077.3h0M466.3 1261.1h0M163.4 1139.3h0M33.5 1100.6h0M197.2 1074.6h0M85.6 1254.3h0M52.2 1207.2h0M459.3 1234.7h0M284.6 1080.9h0M316.2 1214.6h0M165.1 1034.5h0M365.3 1103.0h0M289.2 1195.7h0M388.9 1076.9h0M106.5 1198.0h0M286.1 1271.5h0M91.5 1061.2h0M303.2 1049.0h0M395.5 1198.3h0M356.6 1109.2h0M202.2 1061.1h0M187.9 1051.1h0M334.7 1224.7h0M64.0 1226.2h0M396.0 1046.3h0M445.4 1126.3h0M61.3 1157.0h0M130.5 1260.4h0M95.1 1220.7h0M410.6 1031.4h0M439.1 1138.7h0M34.7 1227.6h0M169.2 1163.3h0M103.9 1197.0h0M46.8 1243.5h0M94.0 1171.1h0M362.1 1060.7h0M218.4 1189.9h0M79.9 1226.0h0M179.1 1249.4h0M472.6 1264.5h0M364.6 1093.6h0M68.3 1106.3h0M391.4 1068.6h0M159.2 1163.5h0M378.9 1273.4h0M19.9 1221.8h0M420.9 1134.2h0M89.8 1058.4h0M226.8 1245.1h0M323.0 1259.7h0M91.2 1094.8h0M79.0 1121.5h0M146.9 1174.3h0M115.1 1081.3h0M74.8 1129.6h0M231.1 1031.4h0M180.5 1015.8h0M288.1 1081.4h0M145.2 1235.9h0M29.8 1199.4h0M168.6 1145.2h0M366.7 1126.8h0M133.5 1087.3h0M202.9 1224.1h0M366.6 1148.1h0M203.9 1034.1h0M428.3 1186.2h0M159.0 1034.9h0M132.2 1042.2h0M79.2 1099.0h0M218.5 1281.6h0M450.9 1065.4h0M82.1 1211.6h0M346.7 1182.3h0M236.0 1123.7h0M75.5 1228.9h0M468.2 1188.3h0M338.9 1076.5h0M74.2 1148.8h0M437.0 1208.7h0M62.1 1184.7h0M57.3 1163.2h0M168.8 1216.3h0M452.0 1051.8h0M29.4 1026.7h0M442.8 1024.0h0M299.6 1184.4h0M45.3 1133.6h0M279.5 1243.2h0M358.3 1118.4h0M330.9 1129.5h0M479.7 1164.2h0M393.6 1178.8h0M206.0 1098.2h0M379.8 1196.0h0M430.5 1104.8h0M477.3 1166.6h0M138.2 1041.9h0M225.5 1169.0h0M454.3 1145.6h0M455.7 1191.2h0M188.1 1169.7h0M453.1 1171.4h0M203.6 1216.3h0M189.0 1051.4h0M367.3 1220.2h0M234.1 1185.3h0M223.3 1203.0h0M194.3 1124.1h0M216.1 1038.3h0M42.5 1240.8h0M327.8 1256.5h0M388.7 1252.9h0M121.5 1165.1h0M123.2 1260.8h0M143.8 1237.4h0M155.9 1043.0h0M369.2 1051.5h0M188.7 1126.2h0M164.9 1160.5h0M311.2 1193.2h0M101.1 1169.1h0M63.7 1254.2h0M339.6 1233.6h0M367.3 1043.0h0M152.4 1107.6h0M311.0 1257.4h0M29.9 1221.2h0M202.8 1019.3h0M283.9 1186.1h0M132.3 1049.5h0M176.6 1152.4h0M289.5 1035.5h0M86.0 1239.8h0M344.0 1147.0h0M51.4 1282.2h0M466.9 1249.7h0M108.5 1032.7h0M132.4 1190.6h0M107.5 1249.9h0M477.0 1091.2h0M147.8 1207.4h0M296.7 1084.4h0M476.6 1071.0h0M457.7 1105.7h0M33.8 1095.0h0M257.4 1277.7h0M294.8 1079.2h0M342.0 1130.9h0M170.9 1147.6h0M167.1 1203.7h0M30.5 1182.6h0M270.9 1249.9h0M49.4 1050.9h0M108.6 1195.6h0M169.6 1062.1h0M46.9 1252.9h0M28.4 1177.6h0M446.9 1052.2h0M217.2 1247.1h0M109.7 1158.3h0M344.8 1147.6h0M18.4 1037.2h0M128.4 1262.6h0M462.7 1155.3h0M433.2 1251.0h0M311.0 1035.5h0M57.5 1200.6h0M162.5 1117.5h0M27.0 1161.5h0M116.4 1185.4h0M25.9 1240.4h0M309.7 1060.5h0M60.9 1249.7h0M86.7 1046.9h0M435.6 1018.0h0M170.7 1097.2h0M169.5 1092.7h0M54.4 1225.5h0M385.7 1168.0h0M329.9 1121.0h0M302.6 1270.5h0M60.9 1190.1h0M135.6 1193.3h0M286.6 1250.2h0M458.7 1094.9h0M313.2 1063.1h0M21.1 1239.7h0M430.0 1062.6h0M45.2 1106.6h0M74.3 1155.1h0M337.7 1045.3h0M393.3 1130.7h0M381.3 1111.6h0M225.3 1038.4h0M96.7 1179.6h0M30.5 1138.1h0M411.6 1058.6h0M470.6 1230.1h0M128.0 1126.9h0M418.5 1022.0h0M202.0 1255.1h0M159.4 1126.7h0M17.8 1093.9h0M220.7 1084.6h0M107.2 1027.0h0M346.7 1105.3h0M419.8 1073.3h0M432.7 1199.1h0M161.9 1058.2h0M144.9 1020.9h0M452.6 1063.7h0M59.1 1060.1h0M35.4 1178.1h0M476.5 1255.1h0M284.5 1241.8h0M39.4 1143.4h0M249.4 1230.8h0M217.3 1188.3h0M458.2 1234.1h0M457.1 1118.4h0M72.4 1219.2h0M84.9 1157.7h0M204.3 1216.7h0M403.5 1216.8h0M305.3 1033.0h0M354.8 1242.6h0M283.0 1024.9h0M112.1 1131.7h0M395.9 1176.3h0M20.5 1239.8h0M340.2 1030.7h0M104.8 1198.3h0M234.0 1109.2h0M469.4 1026.2h0M40.6 1189.9h0M214.2 1037.6h0M322.3 1246.6h0M40.5 1026.7h0M132.0 1080.3h0M22.6 1105.0h0M192.2 1267.7h0M152.2 1262.0h0M320.7 1069.3h0M94.8 1242.5h0M437.4 1107.2h0M462.4 1093.8h0M231.3 1038.3h0M415.4 1016.5h0M389.1 1111.6h0M148.2 1232.0h0M350.2 1131.2h0M170.0 1040.3h0M295.4 1144.5h0M446.4 1061.7h0M39.4 1037.1h0M391.0 1020.2h0M191.0 1085.6h0M177.6 1106.7h0M134.7 1241.4h0M305.0 1207.7h0M59.6 1081.6h0M326.6 1219.7h0M463.4 1205.5h0M472.0 1159.1h0M429.3 1080.2h0M390.7 1071.7h0M97.1 1129.5h0M467.1 1090.5h0M108.7 1256.5h0M419.8 1142.2h0M424.0 1200.0h0M304.4 1259.9h0M107.6 1058.9h0M72.8 1027.6h0M73.9 1075.5h0M388.1 1183.7h0M444.8 1248.2h0M80.3 1239.0h0M20.2 1214.5h0M137.1 1206.7h0M76.8 1117.0h0M102.1 1031.8h0M286.4 1188.6h0M211.2 1034.8h0M214.4 1233.0h0M110.0 1050.8h0M324.4 1021.7h0M200.4 1060.7h0M230.4 1173.9h0M436.4 1031.8h0M349.6 1019.5h0M158.5 1202.8h0M431.7 1245.3h0M198.0 1095.9h0M423.7 1025.1h0M328.2 1031.6h0M58.1 1221.0h0M77.9 1159.3h0M476.7 1259.7h0M27.6 1187.7h0M154.5 1177.2h0M461.8 1070.1h0M21.1 1076.1h0M54.3 1134.5h0M234.4 1232.0h0M290.7 1211.6h0M162.7 1090.8h0M64.7 1069.6h0M392.7 1219.4h0M78.3 1112.5h0M308.0 1102.1h0M214.0 1034.1h0M196.2 1098.9h0M252.6 1246.4h0M67.3 1082.3h0M277.2 1277.1h0M371.9 1148.5h0M355.5 1242.6h0M134.0 1178.6h0M477.2 1224.1h0M350.2 1034.9h0M211.9 1038.9h0M207.8 1112.5h0M377.9 1254.6h0M312.7 1209.0h0M349.7 1178.5h0M421.8 1268.4h0M232.9 1195.2h0M231.1 1183.1h0M146.9 1244.9h0M443.3 1079.5h0M161.7 1184.2h0M338.7 1201.4h0M205.2 1221.4h0M450.8 1040.9h0M456.7 1213.8h0M478.4 1186.5h0M296.5 1061.4h0M37.1 1077.9h0M270.3 1248.4h0M100.6 1175.7h0M185.8 1106.6h0M156.3 1234.3h0M295.2 1191.7h0M398.0 1047.3h0M451.4 1078.4h0M167.6 1236.3h0M280.0 1236.4h0M16.8 1035.3h0M187.8 1157.4h0M462.6 1209.7h0M69.5 1103.8h0M420.2 1032.1h0M318.7 1128.9h0M377.4 1214.4h0M149.1 1073.3h0M431.9 1245.6h0M52.6 1197.3h0M69.6 1094.2h0M364.3 1088.3h0M223.8 1063.3h0M82.9 1125.5h0M152.7 1092.9h0M270.5 1253.5h0M361.3 1222.7h0M414.1 1149.5h0M41.6 1277.8h0M290.6 1198.9h0M473.4 1274.9h0M228.7 1240.2h0M373.4 1188.2h0M59.4 1204.4h0M421.9 1226.6h0M285.8 1221.7h0M428.8 1253.5h0M381.6 1107.8h0M419.9 1114.2h0M40.8 1082.4h0M348.1 1266.7h0M106.0 1261.7h0M138.1 1135.7h0M165.7 1124.5h0M290.1 1051.2h0M449.0 1198.4h0M104.3 1187.6h0M183.1 1155.3h0M396.0 1219.4h0M270.8 1257.1h0M253.1 1245.7h0M369.0 1109.5h0M319.9 1153.4h0M54.7 1153.2h0M229.9 1234.0h0M425.0 1158.3h0M293.3 1242.3h0M38.9 1033.6h0M219.5 1015.3h0M193.6 1039.8h0M286.0 1134.0h0M288.2 1115.3h0M204.6 1051.7h0M300.5 1242.8h0M427.9 1154.0h0M343.8 1244.7h0M233.9 1115.8h0M394.4 1225.9h0M240.6 1016.2h0M464.0 1142.7h0M145.9 1105.8h0M73.5 1083.8h0M401.8 1097.0h0M152.8 1129.4h0M409.7 1150.4h0M298.6 1158.3h0M54.6 1240.7h0M44.8 1197.7h0M464.7 1085.1h0M423.5 1173.0h0M155.5 1134.7h0M73.7 1079.2h0M427.6 1105.7h0M238.1 1077.6h0M72.3 1162.1h0M129.3 1163.3h0M204.5 1127.4h0M313.0 1016.8h0M441.5 1090.3h0M89.2 1173.2h0M236.9 1032.7h0M476.1 1207.2h0M54.6 1051.8h0M441.0 1073.4h0M200.3 1163.1h0M136.2 1239.5h0M163.5 1053.1h0M446.9 1053.0h0M53.6 1182.7h0M110.5 1033.9h0M53.2 1158.7h0M346.5 1236.1h0M150.9 1224.2h0M434.4 1198.0h0M431.3 1018.0h0M451.3 1132.9h0M133.6 1081.4h0M14.3 1155.6h0M195.0 1056.5h0M463.5 1051.9h0M370.7 1274.7h0M342.1 1041.7h0M442.3 1241.0h0M465.9 1033.0h0M348.4 1107.5h0M407.1 1271.8h0M181.3 1142.6h0M60.3 1206.6h0M353.7 1119.5h0M77.9 1246.7h0M193.4 1101.3h0M479.0 1071.3h0M456.7 1167.3h0M146.6 1261.5h0M480.7 1055.1h0M439.9 1234.6h0M166.8 1218.9h0M73.1 1046.4h0M441.6 1056.9h0M100.8 1039.0h0M18.2 1106.1h0M429.7 1222.2h0M293.3 1054.6h0M327.8 1137.6h0M356.4 1027.1h0M33.9 1200.2h0M56.9 1041.9h0M247.4 1231.5h0M37.5 1182.3h0M357.9 1205.7h0M321.0 1110.3h0M302.0 1158.0h0M35.7 1166.9h0M124.5 1089.2h0M433.1 1128.9h0M71.5 1229.7h0M263.0 1251.0h0M37.4 1246.7h0M452.6 1170.1h0M94.1 1253.2h0M205.5 1053.3h0" stroke="#8eaed3" stroke-width="2.0" stroke-linecap="round" stroke-opacity="0.9"/>
<path d="M349.6 1027.3h0M451.8 1260.5h0M357.9 1231.1h0M176.2 1121.5h0M49.2 1230.8h0M344.4 1276.4h0M468.2 1059.8h0M21.9 1192.3h0M375.8 1016.2h0M96.3 1196.4h0M228.8 1031.8h0M300.9 1022.3h0M476.1 1125.1h0M335.0 1251.6h0M197.2 1098.7h0M347.9 1279.6h0M232.0 1143.7h0M206.9 1064.7h0M145.3 1177.2h0M219.6 1166.7h0M151.0 1072.9h0M404.9 1151.7h0M410.0 1094.7h0M174.6 1100.8h0M303.1 1101.7h0M435.4 1070.1h0M181.7 1025.6h0M221.1 1018.5h0M317.7 1171.5h0M462.2 1115.2h0M78.7 1192.5h0M464.8 1173.5h0M324.9 1145.8h0M385.7 1227.2h0M310.6 1171.2h0M420.4 1260.3h0M166.4 1174.8h0M344.7 1254.3h0M137.3 1250.9h0M332.3 1104.9h0M107.9 1147.8h0M42.6 1036.6h0M383.4 1213.0h0M391.8 1191.4h0M324.9 1238.4h0M164.1 1038.0h0M321.4 1050.1h0M53.2 1191.4h0M323.4 1214.9h0M283.1 1035.1h0M302.2 1023.4h0M222.7 1103.7h0M119.1 1107.7h0M353.0 1029.2h0M230.7 1041.6h0M362.1 1070.7h0M184.1 1018.9h0M55.0 1055.4h0M304.8 1116.0h0M444.5 1219.4h0M428.6 1195.6h0M40.7 1180.0h0M374.4 1142.7h0M136.1 1066.2h0M339.6 1028.2h0M191.2 1065.6h0M242.0 1237.2h0M338.3 1182.4h0M311.9 1218.4h0M330.7 1239.4h0M193.4 1080.9h0M330.3 1234.0h0M175.3 1192.0h0M297.7 1090.9h0M228.6 1093.5h0M22.2 1164.4h0M116.7 1230.6h0M194.2 1060.4h0M48.5 1047.7h0M320.8 1091.9h0M431.3 1059.9h0M179.6 1053.9h0M63.1 1214.8h0M303.7 1100.9h0M73.3 1169.4h0M430.4 1101.1h0M183.0 1176.7h0M69.0 1227.2h0M162.9 1094.1h0M142.6 1139.2h0M347.1 1093.4h0M474.6 1148.7h0M183.4 1098.9h0M383.3 1102.5h0M79.5 1058.0h0M284.8 1277.1h0M216.1 1071.6h0M148.6 1092.2h0M397.7 1127.0h0M362.6 1047.2h0M76.6 1077.5h0M150.6 1126.2h0M396.7 1174.4h0M477.5 1161.4h0M299.6 1115.6h0M421.1 1199.7h0M473.6 1218.6h0M359.8 1087.4h0M315.1 1080.4h0M117.3 1185.7h0M187.0 1127.3h0M305.2 1241.7h0M446.6 1017.7h0M155.0 1162.9h0M198.6 1110.2h0M24.4 1073.0h0M339.4 1251.9h0M221.1 1074.2h0M386.5 1230.3h0M123.1 1248.2h0M328.3 1046.8h0M230.8 1057.6h0M102.1 1037.9h0M202.2 1102.5h0M361.9 1262.5h0M102.3 1190.7h0M56.0 1057.3h0M230.1 1043.8h0M123.5 1219.6h0M387.9 1185.2h0M395.7 1015.7h0M455.4 1175.4h0M406.2 1066.9h0M316.4 1095.2h0M101.4 1042.5h0M354.0 1139.7h0M362.8 1183.4h0M339.7 1070.7h0M401.6 1117.4h0M153.1 1191.6h0M328.0 1218.9h0M255.6 1262.6h0M171.8 1082.6h0M166.6 1080.5h0M86.6 1125.1h0M186.2 1238.7h0M210.8 1116.4h0M411.7 1117.0h0M332.3 1152.2h0M331.7 1169.0h0M473.5 1111.4h0M115.7 1017.4h0M57.2 1046.3h0M197.4 1248.2h0M457.8 1082.4h0M54.1 1084.8h0M367.9 1161.1h0M418.2 1262.7h0M386.5 1146.2h0M220.0 1128.2h0M179.0 1045.6h0M156.6 1084.6h0M475.6 1266.2h0M170.5 1019.3h0M120.9 1211.2h0M452.9 1022.0h0M78.7 1131.3h0M465.0 1127.7h0M412.5 1133.7h0M316.2 1271.9h0M213.8 1111.2h0M106.1 1019.9h0M63.6 1045.1h0M62.4 1219.5h0M177.0 1050.1h0M204.1 1031.0h0M445.4 1068.3h0M476.6 1136.4h0M350.7 1055.4h0M82.3 1194.8h0M88.4 1165.9h0M454.7 1205.9h0M171.8 1161.0h0M61.5 1153.0h0M318.5 1138.6h0M229.4 1247.2h0M348.0 1211.4h0M133.9 1114.7h0M378.5 1124.9h0M227.5 1227.1h0M329.7 1148.5h0M476.4 1248.8h0M386.6 1197.9h0M46.3 1169.5h0M245.1 1235.0h0M123.4 1150.9h0M61.8 1197.2h0M105.1 1148.7h0M129.9 1111.2h0M462.2 1223.8h0M361.9 1034.4h0M161.4 1241.7h0M196.6 1142.6h0M219.8 1137.8h0M151.0 1124.9h0M210.8 1140.4h0M374.1 1075.5h0M49.4 1233.2h0M143.2 1255.5h0M237.7 1151.7h0M329.8 1247.9h0M315.6 1094.6h0M352.6 1249.7h0M98.4 1198.0h0M145.5 1213.2h0M366.9 1204.3h0M477.9 1144.1h0M333.0 1031.3h0M29.4 1049.2h0M153.0 1241.0h0M389.0 1064.6h0M445.7 1202.4h0M291.8 1058.7h0M176.9 1221.2h0M179.8 1275.9h0M309.8 1183.8h0M417.6 1025.6h0M173.2 1216.2h0M103.1 1144.9h0M78.2 1055.7h0M411.5 1091.6h0M305.7 1265.9h0M476.6 1243.6h0M184.9 1157.1h0M385.6 1199.1h0M322.8 1269.7h0M45.1 1195.2h0M201.5 1038.9h0M311.8 1057.3h0M335.2 1015.7h0M224.9 1045.4h0M101.9 1022.4h0M465.1 1120.1h0M231.9 1183.3h0M349.0 1250.1h0M51.7 1058.9h0M124.5 1263.1h0M107.5 1021.4h0M207.7 1176.3h0M164.2 1187.1h0M183.3 1160.9h0M395.5 1066.3h0M62.3 1161.5h0M391.2 1025.1h0M219.0 1213.6h0M138.8 1070.4h0M117.5 1072.3h0M414.9 1133.1h0M398.8 1094.8h0M164.3 1049.9h0M428.5 1108.0h0M153.5 1220.1h0M320.8 1258.3h0M414.8 1092.2h0M386.8 1016.5h0M416.8 1158.4h0M407.4 1253.6h0M229.4 1060.0h0M137.2 1211.9h0M238.6 1022.0h0M170.6 1089.0h0M372.3 1068.7h0M402.4 1247.6h0M79.9 1178.6h0M90.8 1195.1h0M193.2 1037.5h0M230.4 1099.3h0M460.6 1258.6h0M453.8 1182.4h0M465.6 1221.8h0M354.8 1152.0h0M330.3 1071.0h0M140.3 1264.5h0M188.0 1087.0h0M15.3 1061.4h0M403.0 1192.2h0M142.9 1038.6h0M51.0 1223.7h0M161.4 1209.4h0M164.9 1119.6h0M352.1 1155.6h0M16.7 1147.9h0M121.4 1035.4h0M432.7 1036.7h0M413.2 1111.2h0M307.8 1016.8h0M118.0 1114.8h0M422.7 1186.2h0M369.3 1155.8h0M89.2 1222.3h0M114.8 1231.9h0M191.1 1195.9h0M168.6 1202.8h0M42.5 1084.2h0M203.8 1243.9h0M223.6 1174.7h0M148.1 1063.4h0M193.5 1201.8h0M169.2 1186.3h0M190.0 1170.2h0M303.1 1143.6h0M246.3 1224.4h0M106.3 1214.3h0M385.4 1175.8h0M228.1 1078.3h0M365.2 1124.9h0M410.5 1187.8h0M392.9 1050.9h0M326.4 1171.0h0M350.8 1181.2h0M87.4 1223.1h0M132.8 1139.5h0M134.4 1100.4h0M70.1 1058.6h0M199.4 1106.3h0M23.3 1136.1h0M320.8 1278.2h0M363.4 1154.6h0M376.2 1199.3h0M74.2 1215.3h0M313.4 1018.7h0M405.5 1078.6h0M30.8 1162.5h0M104.3 1030.6h0M139.1 1056.1h0M229.7 1220.5h0M94.4 1199.0h0M174.6 1047.2h0M319.9 1245.2h0M334.5 1101.3h0M129.0 1211.3h0M344.2 1197.6h0M357.1 1286.4h0M351.2 1043.3h0M46.0 1224.8h0M455.9 1140.6h0M283.4 1082.7h0M141.2 1151.1h0M216.7 1020.6h0M129.8 1204.0h0M137.7 1208.4h0M183.8 1081.5h0M378.7 1098.9h0M218.3 1225.9h0M32.0 1120.8h0M225.2 1110.2h0M108.0 1273.1h0M19.8 1163.6h0M470.3 1161.9h0M151.2 1181.7h0M181.3 1123.9h0M38.9 1230.3h0M434.7 1192.8h0M451.0 1258.0h0M101.1 1099.8h0M209.2 1144.8h0M188.5 1079.1h0M92.1 1065.6h0M323.0 1039.9h0M379.2 1069.3h0M368.8 1059.7h0M329.3 1134.9h0M22.2 1127.2h0M121.2 1223.6h0M342.2 1162.6h0M194.5 1194.3h0M223.8 1142.9h0M406.6 1099.7h0M25.0 1152.5h0M139.4 1187.3h0M477.6 1237.9h0M120.3 1033.2h0M36.0 1189.7h0M208.5 1039.8h0M317.3 1184.8h0M85.6 1246.9h0M406.1 1205.9h0M105.7 1047.6h0M342.9 1130.7h0M89.6 1068.3h0M425.8 1195.4h0M108.0 1209.0h0M355.5 1216.2h0M405.7 1112.3h0M133.1 1178.2h0M57.3 1071.8h0M287.7 1268.9h0M247.0 1271.2h0M237.8 1023.3h0M378.9 1168.9h0M230.3 1211.0h0M226.3 1015.6h0M203.5 1208.0h0M89.1 1018.3h0M151.9 1120.5h0M137.7 1233.0h0M129.9 1029.4h0M379.6 1207.9h0M67.3 1132.7h0M109.9 1121.4h0M160.0 1111.1h0M126.2 1250.3h0M188.4 1197.9h0M328.9 1047.8h0M468.0 1152.7h0M214.8 1258.4h0M224.9 1033.5h0M208.1 1112.2h0M125.6 1143.2h0M458.5 1125.7h0M46.1 1045.6h0M109.7 1065.9h0M323.1 1161.0h0M289.3 1211.8h0M144.1 1210.6h0M451.6 1198.5h0M205.2 1198.9h0M292.5 1017.3h0M56.5 1074.5h0M430.0 1106.9h0M62.1 1085.0h0M198.0 1121.0h0M427.6 1124.0h0M455.3 1107.8h0M436.2 1017.8h0M400.5 1251.2h0M28.9 1183.1h0M225.0 1089.5h0M43.5 1137.9h0M462.6 1264.0h0M17.8 1178.7h0M166.0 1205.2h0M108.9 1206.1h0M49.5 1044.5h0M434.3 1153.0h0M335.1 1266.8h0M186.8 1050.4h0M407.0 1028.9h0M386.1 1028.8h0M166.4 1034.1h0M409.7 1059.7h0M448.0 1225.5h0M303.5 1178.7h0M178.3 1214.8h0M434.6 1166.9h0M454.3 1111.6h0M176.2 1229.7h0M54.3 1061.3h0M419.3 1113.2h0M324.5 1128.4h0M122.3 1200.7h0M278.8 1222.8h0M157.9 1169.7h0M443.3 1181.0h0M173.8 1091.7h0M105.7 1176.9h0M34.2 1245.2h0M174.0 1134.9h0M476.1 1220.2h0M116.0 1153.7h0M227.9 1155.0h0M468.0 1181.0h0M17.1 1053.2h0M151.8 1073.8h0M397.5 1062.9h0M58.7 1161.1h0M447.5 1197.7h0M403.7 1208.2h0M80.8 1071.9h0M290.6 1106.1h0M338.0 1193.5h0M157.3 1129.8h0M193.4 1089.5h0M126.5 1076.4h0M96.1 1146.5h0M428.4 1102.7h0M182.1 1073.9h0M337.7 1210.4h0M243.0 1264.0h0M145.1 1059.7h0M177.3 1250.3h0M464.7 1175.4h0M173.5 1261.9h0M284.2 1273.3h0M455.4 1131.5h0M391.8 1064.3h0M67.3 1136.2h0M356.5 1136.0h0M390.7 1081.9h0M405.1 1147.1h0M469.3 1220.5h0M346.0 1044.6h0M470.4 1146.3h0M144.0 1158.5h0M114.0 1190.3h0M53.0 1084.0h0M219.0 1170.8h0M350.1 1171.1h0M377.5 1219.4h0M454.0 1267.8h0M129.5 1152.1h0M150.5 1086.7h0M402.7 1081.1h0M431.6 1229.7h0M357.9 1222.5h0M169.4 1231.8h0M230.1 1242.5h0M403.8 1169.2h0M180.9 1260.0h0M390.1 1194.4h0M379.2 1187.4h0M232.9 1243.5h0M432.7 1193.0h0M193.6 1224.6h0M364.2 1268.8h0M312.8 1123.0h0M168.7 1220.0h0M297.0 1147.8h0M264.7 1253.5h0M465.4 1221.8h0M31.5 1246.6h0M455.0 1256.5h0M72.7 1081.5h0M397.2 1019.8h0M216.2 1222.8h0M347.1 1222.6h0M400.3 1214.6h0M37.2 1194.6h0M398.1 1211.1h0M338.1 1160.1h0M439.0 1194.8h0M140.2 1076.2h0M380.7 1160.8h0M421.7 1186.6h0M179.8 1170.3h0M205.6 1085.2h0M170.0 1049.6h0M16.7 1193.7h0M122.1 1045.7h0M168.8 1231.8h0M64.6 1064.7h0M371.5 1225.7h0M213.4 1112.1h0M279.4 1261.1h0M146.9 1076.6h0M182.3 1058.0h0M365.8 1199.3h0M233.4 1226.2h0M292.6 1110.4h0M211.4 1143.9h0M433.1 1095.6h0M138.9 1121.2h0M334.9 1097.7h0M54.5 1054.9h0M463.3 1263.0h0M369.1 1245.6h0M394.9 1137.0h0M308.5 1250.0h0M441.8 1032.6h0M55.5 1168.6h0M360.9 1097.1h0M442.2 1259.3h0M313.6 1025.4h0M295.3 1250.3h0M195.3 1036.5h0M436.6 1158.8h0M400.3 1267.6h0M358.3 1232.7h0M445.4 1042.1h0M44.9 1098.3h0M373.4 1148.2h0M230.5 1210.7h0M365.1 1016.5h0M152.3 1250.9h0M232.2 1244.8h0M30.4 1070.3h0M150.0 1073.2h0M242.1 1242.4h0M411.7 1155.5h0M140.1 1081.9h0M398.4 1019.6h0M128.2 1074.1h0M155.6 1199.3h0M319.4 1111.7h0M425.0 1265.5h0M424.7 1154.1h0M130.8 1156.3h0M362.2 1122.7h0M310.5 1125.1h0M194.3 1113.0h0M376.4 1240.1h0M433.1 1135.2h0M237.8 1078.2h0M441.8 1133.8h0M91.6 1189.4h0M370.9 1043.7h0M156.7 1129.4h0M287.4 1142.4h0M366.2 1265.1h0M360.2 1042.7h0M81.8 1165.8h0M135.3 1100.3h0M387.9 1072.8h0M440.0 1089.9h0M420.3 1029.6h0M185.6 1115.1h0M221.9 1206.0h0M96.4 1237.6h0M121.8 1108.8h0M89.6 1053.2h0M191.8 1192.8h0M43.9 1199.2h0M233.7 1228.3h0M339.1 1052.6h0M318.2 1027.6h0M469.4 1255.0h0M427.7 1180.5h0M310.0 1040.7h0M433.2 1208.6h0M221.6 1030.4h0M387.1 1187.6h0M146.9 1166.5h0M471.6 1040.7h0M293.6 1263.0h0M250.7 1271.7h0M159.9 1224.1h0M402.1 1100.1h0M125.3 1182.7h0M96.8 1211.1h0M134.2 1195.5h0M455.6 1071.4h0M25.2 1247.9h0M153.5 1191.6h0M342.3 1118.2h0M375.4 1054.2h0M193.0 1133.2h0M412.0 1119.8h0M71.0 1123.0h0M44.4 1234.2h0M122.1 1037.6h0M454.0 1218.6h0M354.4 1050.6h0M337.8 1168.7h0M306.6 1036.9h0M171.1 1071.4h0M57.3 1162.5h0M379.5 1193.5h0M310.3 1205.3h0M386.3 1177.6h0M34.8 1104.0h0M434.7 1180.9h0M192.5 1017.6h0M446.5 1128.1h0M291.6 1236.6h0M396.0 1192.0h0M306.1 1211.7h0M329.0 1057.7h0M87.6 1249.2h0M296.3 1081.6h0M49.3 1109.1h0M76.2 1182.0h0M238.1 1274.0h0M136.6 1238.8h0M371.4 1147.6h0M71.2 1068.1h0M20.5 1182.8h0M479.6 1175.5h0M160.2 1032.5h0M111.5 1158.5h0M201.9 1064.4h0M382.8 1190.8h0M32.2 1138.9h0M405.0 1264.5h0M476.5 1148.8h0M182.1 1059.1h0M123.2 1062.9h0M165.0 1113.1h0M411.7 1110.2h0M381.1 1071.3h0M325.7 1184.8h0M357.3 1058.8h0M328.4 1143.6h0M160.4 1083.8h0M416.2 1206.1h0M112.1 1082.2h0M213.4 1063.3h0M67.7 1089.2h0M315.5 1050.7h0M54.6 1210.6h0M97.8 1091.3h0M371.9 1124.2h0M323.1 1118.8h0M356.8 1098.3h0M297.3 1111.5h0M106.4 1208.5h0M340.2 1062.5h0M68.1 1202.5h0M140.0 1109.8h0M223.3 1040.5h0M67.4 1047.7h0M63.5 1260.8h0M318.6 1026.5h0M360.5 1090.4h0M187.1 1250.7h0M196.1 1036.7h0M110.9 1072.6h0M285.0 1243.2h0M450.0 1046.6h0M438.4 1047.7h0M476.6 1169.4h0M175.7 1226.1h0M353.0 1167.5h0M399.2 1153.5h0M318.1 1134.5h0M148.9 1084.0h0M423.5 1125.2h0M64.0 1189.6h0M238.1 1174.0h0M408.6 1081.6h0M377.6 1057.3h0M362.3 1153.9h0M337.0 1190.0h0M73.0 1185.7h0M335.9 1243.7h0M170.7 1206.5h0M469.8 1243.6h0M310.9 1026.6h0M248.4 1249.1h0M44.8 1015.3h0M70.6 1226.4h0M411.3 1189.4h0M360.8 1022.1h0M404.0 1220.8h0M284.0 1173.2h0M283.0 1048.0h0M261.8 1254.4h0M357.3 1176.4h0M168.2 1141.3h0M246.0 1273.1h0M233.4 1070.5h0M323.0 1063.1h0M115.0 1258.6h0M25.7 1058.8h0M55.4 1238.2h0M97.7 1072.3h0M414.3 1237.2h0M348.8 1126.4h0M364.2 1183.5h0M221.5 1180.8h0M62.0 1122.8h0M231.3 1156.5h0M417.0 1192.3h0M309.1 1265.0h0M188.7 1239.8h0M84.1 1071.8h0M306.6 1076.5h0M240.5 1122.7h0M175.4 1225.7h0M134.7 1156.1h0M339.0 1101.0h0M162.5 1224.8h0M283.0 1068.4h0M135.3 1208.4h0M365.8 1220.7h0M189.1 1042.8h0M237.5 1170.6h0M447.2 1177.1h0M357.9 1096.6h0M172.5 1140.6h0M406.4 1270.5h0M194.1 1050.6h0M475.5 1259.9h0M432.4 1114.8h0M321.8 1108.8h0M402.3 1286.6h0M356.4 1082.5h0M72.3 1071.6h0M475.7 1204.9h0M387.7 1188.6h0M80.5 1080.2h0M127.3 1150.2h0M370.2 1243.6h0M83.5 1112.7h0M462.6 1183.1h0M175.6 1264.4h0M478.7 1080.2h0M365.5 1275.0h0M240.7 1147.5h0M183.4 1189.8h0M59.1 1089.3h0M55.0 1204.6h0M308.0 1212.6h0M375.2 1176.7h0M437.8 1250.5h0M184.5 1143.8h0M451.9 1019.1h0M152.6 1264.4h0M452.9 1170.0h0M443.1 1182.9h0M86.4 1178.4h0M416.0 1026.3h0M342.6 1093.5h0M342.0 1039.5h0M406.5 1192.4h0M264.6 1248.3h0M185.4 1237.1h0M418.1 1105.8h0M434.8 1023.6h0M89.0 1126.8h0M374.6 1061.1h0M142.7 1098.3h0M99.9 1080.2h0M106.1 1064.3h0M144.7 1178.2h0M127.1 1239.6h0M165.6 1079.8h0M375.5 1271.1h0M24.1 1224.6h0M239.4 1168.7h0M295.5 1280.5h0M37.2 1154.9h0M151.3 1022.7h0M437.3 1049.1h0M478.4 1100.4h0M411.1 1205.1h0M93.2 1169.6h0M370.9 1201.5h0M224.6 1020.1h0M93.7 1082.7h0M238.6 1166.4h0M445.0 1193.6h0M423.7 1132.9h0M196.8 1074.6h0M43.6 1099.6h0M434.6 1222.7h0M474.6 1210.9h0M339.2 1079.0h0M239.2 1134.6h0M178.6 1234.6h0M129.7 1169.3h0M152.6 1199.4h0M133.1 1115.2h0M459.1 1064.5h0M17.8 1126.8h0M353.7 1168.8h0M382.4 1051.7h0M203.0 1025.5h0M292.0 1213.2h0M117.2 1284.9h0M326.0 1269.3h0M344.6 1117.7h0M357.0 1139.0h0M243.6 1241.3h0M418.6 1112.2h0M281.3 1274.9h0M332.7 1205.7h0M142.3 1055.2h0M454.7 1138.0h0M315.3 1015.8h0M431.9 1126.2h0M148.8 1157.8h0M472.8 1232.9h0M63.2 1105.3h0M65.6 1196.1h0M102.6 1158.1h0M370.9 1182.4h0M44.9 1140.6h0M192.7 1181.7h0M103.5 1140.8h0M411.1 1264.0h0M52.5 1045.8h0M171.2 1250.8h0M413.9 1218.4h0M334.8 1018.1h0M342.5 1211.3h0M476.9 1114.0h0M24.9 1153.4h0M324.5 1156.3h0M361.9 1215.7h0M363.4 1147.8h0M347.4 1188.6h0M47.7 1074.9h0M53.2 1034.3h0M374.9 1197.4h0M299.7 1284.9h0M136.7 1036.2h0M56.2 1193.3h0M363.5 1087.6h0M173.1 1203.7h0M391.1 1134.0h0M58.6 1232.0h0M60.6 1105.9h0M378.4 1185.7h0M463.7 1180.8h0M171.1 1063.6h0M413.4 1208.6h0M191.5 1070.0h0M454.1 1037.7h0M152.8 1135.9h0M473.7 1143.7h0M43.2 1167.4h0M357.0 1142.3h0M150.1 1068.4h0M212.0 1201.2h0M311.1 1087.6h0M35.4 1094.2h0M118.4 1228.3h0M62.6 1201.1h0M359.4 1213.5h0M117.3 1266.7h0M246.7 1247.8h0M167.4 1074.9h0M450.7 1157.0h0M317.8 1091.0h0M342.9 1120.8h0M397.5 1167.1h0M136.9 1024.2h0M50.7 1211.6h0M232.2 1110.2h0M93.4 1203.9h0M23.5 1214.8h0M443.5 1183.9h0M306.6 1035.4h0M207.5 1168.7h0M77.7 1111.8h0M369.5 1210.1h0M95.4 1152.2h0M472.7 1214.7h0M458.0 1054.2h0M447.0 1237.8h0M262.2 1260.9h0M154.3 1236.7h0M318.3 1125.6h0M302.1 1168.5h0M44.9 1073.8h0M20.3 1163.1h0M348.1 1247.3h0M174.0 1200.1h0M339.6 1242.4h0M378.2 1024.6h0M301.6 1266.9h0M409.4 1152.3h0M321.7 1267.1h0M447.0 1064.7h0M432.8 1114.7h0M34.2 1061.2h0M139.0 1197.9h0M195.6 1265.5h0M96.6 1036.8h0M421.9 1224.8h0M25.7 1167.6h0M98.9 1075.3h0M369.0 1259.3h0M118.3 1159.3h0M134.7 1026.5h0M465.8 1117.6h0M370.2 1201.3h0M223.5 1247.3h0M77.6 1069.3h0M139.6 1176.6h0M472.2 1038.6h0M383.4 1263.9h0M46.6 1017.7h0M189.6 1169.3h0M350.2 1220.3h0M152.0 1197.7h0M74.8 1153.1h0M23.2 1134.6h0M152.1 1071.8h0M415.8 1093.2h0M430.2 1040.7h0M333.0 1088.2h0M363.3 1193.6h0M104.9 1165.6h0M179.4 1169.9h0M433.9 1159.4h0M220.9 1247.1h0M376.4 1087.1h0M449.9 1167.0h0M152.1 1088.1h0M319.5 1206.4h0M196.1 1191.8h0M231.2 1197.8h0M229.7 1166.9h0M144.1 1217.2h0M22.9 1117.5h0M372.0 1270.8h0M339.0 1169.8h0M406.6 1107.3h0M85.6 1189.4h0M124.7 1202.1h0M292.4 1266.0h0M451.4 1188.6h0M234.3 1157.6h0M107.8 1111.4h0M291.7 1131.2h0M461.2 1093.2h0M419.4 1184.3h0M433.8 1250.1h0M205.7 1176.8h0M136.5 1070.4h0M420.6 1024.9h0M382.0 1254.7h0M411.6 1095.6h0M196.7 1203.0h0M420.6 1166.5h0M443.4 1264.3h0M185.5 1124.9h0M192.1 1200.3h0M223.2 1036.9h0M278.5 1236.7h0M117.3 1058.9h0M138.5 1028.5h0M135.5 1221.7h0M60.9 1162.4h0M378.4 1116.6h0M95.6 1253.9h0M221.3 1089.8h0M313.7 1211.6h0M205.1 1032.5h0M430.8 1227.6h0M380.6 1249.0h0M70.5 1053.0h0M403.1 1256.4h0M330.7 1099.2h0M234.4 1119.9h0M340.9 1072.3h0M386.4 1105.0h0M390.3 1262.0h0M115.4 1283.7h0M402.9 1139.2h0M326.3 1178.3h0M411.7 1244.2h0M203.4 1017.5h0M443.5 1232.2h0M391.2 1125.7h0M191.4 1134.5h0M260.7 1276.5h0M94.8 1126.1h0M368.6 1117.9h0M430.1 1249.6h0M89.1 1144.2h0M361.8 1191.6h0M338.2 1093.2h0M31.1 1200.7h0M442.2 1115.4h0M237.8 1228.9h0M139.7 1149.5h0M379.1 1164.5h0M171.7 1249.1h0M104.9 1197.7h0M297.5 1087.9h0M199.5 1175.1h0M390.7 1196.0h0M325.2 1067.1h0M351.0 1163.5h0M43.8 1070.1h0M424.9 1148.3h0M450.9 1243.6h0M314.5 1131.3h0M444.5 1023.2h0M343.8 1158.5h0M296.9 1141.2h0M209.7 1268.3h0M180.1 1196.3h0M242.7 1227.0h0M117.9 1115.5h0M213.7 1259.7h0M251.1 1241.2h0M28.6 1039.8h0M197.8 1195.4h0M146.8 1261.9h0M310.2 1192.5h0M300.9 1086.2h0M324.1 1175.5h0M300.7 1160.6h0M133.7 1095.6h0M189.7 1228.3h0M408.2 1132.7h0M455.8 1192.3h0M98.6 1228.5h0M18.9 1213.5h0M463.0 1042.4h0M415.4 1030.1h0M297.7 1238.9h0M395.5 1192.5h0M291.5 1055.4h0M436.5 1050.5h0M127.6 1150.8h0M221.4 1063.6h0M327.2 1269.1h0M114.7 1076.1h0M347.8 1272.6h0M136.5 1210.4h0M345.6 1166.7h0M389.6 1198.2h0M212.1 1203.9h0M476.4 1092.9h0M308.8 1148.3h0M367.3 1033.1h0M23.6 1028.1h0M346.3 1247.2h0M454.4 1220.7h0M307.4 1043.4h0M440.3 1185.3h0M41.6 1210.2h0M430.4 1132.5h0M423.7 1118.2h0M307.7 1213.3h0M214.6 1017.8h0M343.2 1143.5h0M127.9 1085.0h0M325.8 1136.1h0M338.2 1165.9h0M135.5 1254.4h0M105.4 1222.4h0M403.4 1231.9h0M113.1 1151.7h0M48.7 1089.0h0M129.2 1237.7h0M287.8 1177.2h0M423.6 1187.9h0M413.2 1044.8h0M466.4 1070.8h0M427.0 1198.5h0M224.3 1249.1h0M80.3 1121.7h0M460.3 1160.0h0M120.8 1208.3h0M304.5 1173.8h0M137.5 1141.4h0M395.5 1189.2h0M107.8 1208.8h0M210.5 1233.7h0M116.6 1168.2h0M415.9 1195.4h0M303.3 1068.3h0M308.6 1059.1h0M160.9 1236.1h0M96.4 1076.0h0M414.4 1134.3h0M371.1 1256.6h0M357.0 1055.1h0M479.7 1200.3h0M97.4 1185.9h0M298.7 1237.9h0M148.2 1239.0h0M228.5 1156.4h0M444.3 1061.9h0M392.4 1046.9h0M207.9 1219.2h0M395.7 1029.3h0M415.9 1269.6h0M375.4 1065.7h0M434.0 1137.2h0M63.5 1221.6h0M141.1 1095.8h0M321.1 1240.3h0M191.1 1221.2h0M211.5 1173.4h0M201.8 1171.8h0M103.7 1119.9h0M36.9 1120.8h0M328.1 1080.8h0M165.4 1167.4h0M227.4 1266.4h0M450.7 1267.8h0M306.7 1172.8h0M392.6 1122.1h0M370.0 1219.0h0M459.4 1167.6h0M45.2 1239.6h0M193.4 1242.5h0M457.5 1206.7h0M456.6 1192.1h0M100.3 1281.1h0M42.1 1193.0h0M432.2 1074.6h0M206.1 1186.3h0M451.2 1130.5h0M116.5 1060.8h0M466.1 1111.0h0M199.2 1228.4h0M129.5 1071.7h0M123.1 1018.1h0M256.1 1255.0h0M427.8 1252.2h0M37.7 1233.7h0M34.5 1214.2h0M85.4 1165.5h0M296.8 1193.0h0M378.9 1218.8h0M238.1 1104.7h0M300.6 1071.0h0M314.1 1204.4h0M23.0 1179.7h0M480.0 1128.2h0M168.5 1128.0h0M456.1 1048.3h0M117.9 1053.0h0M15.1 1176.6h0M164.1 1045.9h0M219.2 1058.7h0M222.8 1201.2h0M235.4 1027.5h0M29.3 1257.3h0M138.7 1055.7h0M463.3 1134.1h0M26.8 1221.0h0M356.8 1227.9h0M344.1 1176.8h0M169.3 1055.4h0M186.9 1037.0h0M438.8 1161.1h0M167.4 1083.0h0M54.1 1060.0h0M31.9 1110.6h0M425.7 1093.6h0M160.5 1111.8h0M69.8 1110.9h0M292.5 1220.4h0M408.6 1141.0h0M294.0 1246.5h0M84.8 1152.1h0M203.5 1094.3h0M21.7 1192.8h0M465.0 1245.1h0M228.5 1078.6h0M427.3 1188.4h0M474.1 1117.3h0M395.1 1083.5h0M132.5 1042.0h0M103.0 1024.0h0M286.5 1099.6h0M424.2 1159.9h0M465.7 1123.6h0M439.2 1027.4h0M173.8 1054.4h0M287.5 1020.0h0M71.8 1026.0h0M47.0 1189.3h0M66.0 1056.9h0M70.9 1256.2h0M158.6 1182.9h0M343.3 1028.2h0M49.5 1064.6h0M65.9 1154.5h0M320.5 1270.2h0M345.8 1216.1h0M350.3 1258.1h0M323.6 1041.5h0M360.2 1145.6h0M52.1 1074.1h0M112.9 1169.0h0M360.3 1168.7h0M135.6 1096.7h0M215.4 1061.7h0M403.6 1075.9h0M322.5 1101.9h0M221.9 1115.7h0M389.9 1104.7h0M320.8 1147.1h0M219.5 1060.3h0M420.0 1075.2h0M337.4 1074.2h0M471.9 1170.3h0M324.3 1097.1h0M434.3 1090.9h0M345.6 1019.5h0M407.4 1250.7h0M56.2 1029.0h0M235.5 1127.3h0M41.0 1060.9h0M382.6 1027.3h0M348.2 1147.6h0M451.2 1187.2h0M187.7 1119.4h0M233.1 1075.1h0M439.9 1203.6h0M206.2 1176.0h0M403.6 1109.7h0M210.8 1183.1h0M171.7 1244.3h0M143.5 1155.5h0M113.7 1120.9h0M215.5 1183.1h0M89.5 1152.9h0M400.7 1042.0h0M469.1 1261.6h0M59.5 1048.9h0M39.6 1217.7h0M15.7 1133.3h0M449.3 1228.9h0M48.5 1157.8h0M331.6 1239.0h0M155.9 1143.3h0M106.6 1082.5h0M129.0 1225.3h0M336.1 1240.9h0M22.4 1152.2h0M417.9 1268.6h0M111.3 1068.4h0M319.8 1272.6h0M307.9 1224.6h0M170.0 1110.5h0M230.4 1166.8h0M439.2 1259.1h0M406.3 1093.9h0M313.3 1093.9h0M276.5 1273.3h0M331.9 1029.4h0M353.0 1167.0h0M99.0 1066.7h0M164.5 1142.2h0M421.8 1197.3h0M198.6 1038.0h0M407.7 1084.3h0M452.0 1255.4h0M284.1 1026.2h0M61.6 1045.4h0M367.5 1238.9h0M325.0 1199.7h0M149.8 1143.7h0M417.0 1249.5h0M239.4 1071.9h0M40.6 1016.5h0M45.7 1236.8h0M120.6 1189.1h0M298.8 1107.0h0M394.7 1173.2h0M60.3 1037.2h0M24.4 1100.4h0M304.7 1170.2h0M205.2 1245.6h0M220.2 1101.4h0M397.3 1031.6h0M443.2 1039.1h0M465.7 1098.6h0M377.9 1186.0h0M15.5 1207.5h0M84.3 1204.7h0M288.3 1253.9h0M460.1 1201.1h0M52.0 1198.1h0M199.2 1197.0h0M204.0 1214.4h0M140.4 1064.0h0M125.3 1190.6h0M62.2 1048.9h0M222.3 1268.0h0M346.9 1125.5h0M312.9 1169.8h0M459.0 1072.8h0M172.6 1154.2h0M426.1 1021.7h0M193.7 1173.6h0M322.5 1275.5h0M389.9 1202.6h0M199.3 1196.7h0M222.4 1166.5h0M308.8 1102.5h0M65.7 1226.2h0M58.3 1106.9h0M119.0 1164.5h0M468.0 1215.4h0M480.7 1199.2h0M135.7 1050.0h0M82.3 1235.6h0M220.1 1186.6h0M191.2 1168.1h0M372.9 1229.4h0M345.4 1023.8h0M304.2 1091.8h0M285.7 1070.3h0M330.1 1201.0h0M447.3 1046.9h0M456.1 1040.2h0M471.4 1159.6h0M415.5 1033.1h0M62.9 1231.8h0M224.9 1105.0h0M379.0 1097.5h0M151.5 1178.0h0M39.8 1092.3h0M109.1 1076.7h0M200.9 1115.6h0M46.8 1227.7h0M212.2 1269.8h0M121.5 1057.1h0M416.4 1023.2h0M162.9 1098.5h0M191.8 1102.6h0M388.5 1219.1h0M37.4 1219.0h0M115.6 1122.2h0M299.3 1132.0h0M130.0 1028.2h0M304.9 1020.8h0M139.7 1238.0h0M310.0 1204.7h0M32.4 1193.4h0M141.9 1236.9h0M157.7 1159.7h0M424.4 1104.7h0M38.0 1045.6h0M176.1 1127.2h0M104.9 1068.3h0M338.6 1267.9h0M392.8 1223.3h0M40.8 1092.7h0M417.2 1154.6h0M339.0 1143.2h0M115.3 1180.0h0M150.9 1090.3h0M382.2 1182.7h0M49.0 1152.7h0M432.7 1191.9h0M404.7 1039.8h0M214.8 1211.4h0M189.3 1023.6h0M331.9 1162.4h0M203.2 1173.3h0M372.5 1174.6h0M58.7 1075.3h0M395.5 1132.2h0M327.3 1219.5h0M217.3 1123.2h0M345.7 1061.0h0M199.8 1121.2h0M80.9 1043.1h0M208.7 1042.3h0M38.0 1048.2h0M54.7 1154.1h0M219.0 1102.7h0M399.3 1064.1h0M109.1 1216.7h0M471.2 1238.8h0M400.4 1058.9h0M435.2 1184.3h0M329.2 1086.9h0M289.1 1150.2h0M285.7 1136.8h0M294.8 1174.2h0M231.1 1170.7h0M182.4 1265.7h0M125.5 1185.5h0M44.5 1111.0h0M186.4 1231.9h0M373.5 1059.0h0M90.6 1172.5h0M394.2 1086.0h0M33.4 1220.4h0M448.8 1046.2h0M318.4 1024.7h0M206.7 1152.8h0M399.3 1187.2h0M17.2 1100.8h0M21.4 1173.0h0M201.5 1211.8h0M34.4 1145.1h0M473.1 1235.6h0M330.5 1257.2h0M358.9 1120.8h0M334.8 1106.7h0M358.5 1229.3h0M69.3 1168.8h0M479.2 1136.0h0M236.7 1196.9h0M107.8 1130.1h0M188.5 1170.6h0M184.1 1066.3h0M432.1 1042.1h0M45.2 1088.3h0M347.8 1056.5h0M394.4 1205.1h0M35.7 1121.0h0M431.0 1044.2h0M17.8 1110.2h0M236.7 1256.3h0M55.7 1065.8h0M428.2 1169.6h0M99.8 1034.5h0M326.0 1032.3h0M319.2 1250.7h0M163.8 1015.7h0M114.2 1041.5h0M441.4 1043.9h0M32.6 1209.3h0M132.7 1186.6h0M166.6 1073.9h0M286.8 1127.0h0M66.0 1072.5h0M352.1 1191.6h0M343.1 1044.5h0M157.3 1084.6h0M18.8 1023.9h0M307.5 1220.2h0M220.1 1100.8h0M462.0 1058.2h0M394.2 1081.8h0M349.7 1082.2h0M434.0 1114.9h0M445.8 1080.5h0M124.5 1082.1h0M444.5 1267.4h0M202.3 1037.4h0M331.1 1242.8h0M459.0 1161.0h0M292.0 1024.6h0M286.2 1056.2h0M47.1 1194.0h0M292.6 1167.9h0M126.6 1081.1h0M195.3 1094.5h0M190.5 1268.1h0M468.6 1216.2h0M311.9 1195.7h0M352.6 1267.3h0M94.7 1078.2h0M156.1 1105.0h0M423.8 1243.8h0M70.2 1135.2h0M459.1 1136.9h0M213.6 1235.9h0M254.3 1257.3h0M221.0 1225.5h0M233.7 1136.9h0M212.0 1207.8h0M341.7 1076.6h0M143.0 1084.3h0M91.8 1070.8h0M216.9 1201.1h0M55.2 1273.8h0M222.9 1221.3h0M380.3 1195.3h0M64.9 1110.7h0M199.3 1240.0h0M378.5 1147.5h0M172.0 1083.2h0M404.5 1094.3h0M349.5 1038.3h0M33.5 1113.6h0M193.9 1107.6h0M371.9 1140.1h0M328.2 1268.5h0M476.3 1238.2h0M329.3 1171.6h0M409.1 1061.6h0M214.9 1176.4h0M18.9 1032.4h0M141.2 1029.6h0M291.7 1190.3h0M456.8 1059.8h0M297.5 1246.6h0M146.5 1197.8h0M477.8 1158.2h0M120.4 1051.0h0M174.7 1153.6h0M346.9 1036.5h0M336.9 1179.3h0M468.0 1266.0h0M77.9 1054.5h0M439.2 1207.2h0M386.3 1203.6h0M132.2 1113.4h0M237.8 1161.2h0M308.3 1270.3h0M161.1 1142.8h0M64.2 1139.6h0M404.9 1169.0h0M90.9 1023.7h0M243.2 1236.0h0M218.4 1029.0h0M212.2 1238.5h0M470.2 1259.4h0M178.6 1183.0h0M353.3 1098.5h0M123.3 1179.8h0M367.6 1200.3h0M364.8 1053.7h0M400.7 1226.5h0M240.4 1097.9h0M117.7 1154.9h0M309.1 1087.8h0M439.1 1092.0h0M158.7 1254.3h0M23.4 1225.3h0M100.4 1032.1h0M449.7 1225.5h0M39.2 1207.2h0M59.9 1204.0h0M430.5 1087.1h0M193.0 1205.8h0M337.0 1118.5h0M343.6 1266.9h0M216.7 1207.3h0M356.0 1103.1h0M229.4 1256.2h0M157.3 1069.9h0M14.9 1073.6h0M291.1 1018.5h0M138.0 1225.2h0M142.5 1038.5h0M424.4 1090.2h0M183.0 1216.0h0M61.8 1098.5h0M308.4 1093.0h0M40.9 1028.7h0M176.9 1171.1h0M299.4 1052.8h0M144.6 1278.1h0M474.5 1022.1h0M387.1 1101.2h0M441.6 1260.5h0M30.2 1220.0h0M118.9 1045.4h0M441.2 1030.2h0M93.5 1216.9h0M280.2 1219.0h0M355.0 1187.7h0M295.8 1148.5h0M35.4 1141.4h0M31.2 1177.6h0M204.1 1044.6h0M21.6 1231.9h0M53.3 1227.3h0M314.1 1200.9h0M218.8 1079.3h0M53.9 1073.6h0M186.1 1274.0h0M426.4 1219.2h0M298.5 1229.4h0M304.0 1140.1h0M212.0 1254.4h0M327.8 1203.5h0M127.7 1134.5h0M134.2 1201.0h0M422.6 1036.7h0M109.1 1122.7h0M194.3 1245.4h0M361.8 1146.0h0M168.1 1166.9h0M184.9 1168.1h0M110.4 1069.8h0M126.6 1201.0h0M428.1 1137.6h0M142.5 1079.3h0M168.4 1028.2h0M425.9 1181.6h0M164.0 1065.1h0M479.6 1174.0h0M397.5 1132.4h0M409.4 1125.7h0M119.4 1257.4h0M115.4 1039.6h0M365.5 1168.2h0M400.1 1128.2h0M118.9 1056.3h0M110.2 1122.9h0M127.7 1251.6h0M78.3 1069.1h0M210.7 1200.5h0M307.4 1156.8h0M39.9 1165.4h0M103.8 1034.5h0M68.7 1235.6h0M140.1 1118.3h0M100.8 1072.3h0M451.2 1071.7h0M325.2 1143.1h0M468.3 1088.9h0M385.0 1208.3h0M316.7 1029.4h0M190.6 1249.5h0M202.3 1016.6h0M155.1 1028.5h0M390.5 1106.2h0M389.2 1139.5h0M416.5 1093.0h0M334.2 1226.3h0M139.5 1031.0h0M126.8 1254.3h0M120.3 1142.2h0M387.7 1102.6h0M434.0 1099.5h0M398.2 1200.4h0M389.9 1148.2h0M217.6 1090.5h0M371.5 1158.2h0M91.8 1188.9h0M320.2 1100.3h0M34.0 1240.0h0M465.0 1219.4h0M424.7 1220.6h0M91.0 1195.2h0M373.0 1077.8h0M398.6 1207.7h0M33.6 1062.7h0M210.2 1152.5h0M303.0 1062.1h0M427.9 1049.8h0M351.6 1176.7h0M19.3 1039.7h0M75.6 1162.1h0M181.9 1171.9h0M97.1 1148.9h0M124.8 1025.7h0M329.7 1206.3h0M462.9 1153.7h0M227.9 1171.5h0M315.7 1197.4h0M369.6 1262.3h0M328.3 1133.6h0M320.8 1264.2h0M14.5 1063.0h0M420.3 1138.9h0M89.3 1063.3h0M98.3 1116.7h0M252.1 1261.6h0M366.9 1144.0h0M150.8 1090.5h0M455.4 1103.1h0M307.4 1261.2h0M408.2 1134.7h0M236.8 1069.2h0M47.2 1243.0h0M19.7 1154.2h0M313.0 1131.6h0M213.0 1261.6h0M219.7 1218.7h0M166.2 1018.9h0M235.2 1139.1h0M133.0 1064.1h0M430.9 1263.5h0M97.5 1129.5h0M465.9 1201.9h0M415.8 1220.0h0M193.2 1068.1h0M285.2 1168.7h0M231.6 1030.6h0M393.2 1161.5h0M402.0 1020.0h0M437.1 1196.8h0M29.0 1118.6h0M16.6 1233.2h0M239.9 1231.8h0M154.7 1206.2h0M211.4 1079.2h0M237.7 1040.4h0M232.7 1248.7h0M438.0 1257.5h0M442.8 1109.3h0M175.7 1120.5h0M148.3 1125.1h0M319.4 1090.5h0M201.0 1160.1h0M349.3 1208.7h0M16.7 1180.2h0M374.4 1039.5h0M356.7 1034.7h0M194.9 1055.3h0M129.7 1150.7h0M397.4 1260.9h0M289.8 1216.8h0M157.2 1119.7h0M391.2 1109.1h0M297.7 1205.3h0M75.6 1109.4h0M207.3 1224.0h0M242.7 1213.9h0M455.2 1047.7h0M163.8 1234.5h0M223.5 1040.5h0M470.2 1101.7h0M400.3 1192.8h0M59.3 1248.8h0M197.9 1268.0h0M99.8 1087.3h0M426.8 1232.2h0M116.1 1032.7h0M57.0 1044.2h0M210.6 1049.5h0M59.0 1187.4h0M240.6 1190.2h0M354.3 1246.4h0M159.0 1095.6h0M92.2 1223.2h0M182.8 1087.8h0M91.6 1100.6h0M408.1 1194.0h0M58.9 1122.2h0M169.9 1101.4h0M354.2 1079.8h0M374.0 1255.0h0M77.1 1253.4h0M367.3 1059.5h0M455.6 1107.2h0M315.2 1033.1h0M164.6 1116.2h0M95.5 1225.3h0M361.6 1224.8h0M397.2 1055.6h0M110.3 1097.9h0M67.0 1088.3h0M178.5 1201.9h0M306.4 1051.0h0M464.2 1046.7h0M383.6 1159.3h0M441.9 1207.0h0M294.0 1273.9h0M366.9 1182.7h0M458.1 1248.5h0M30.6 1159.9h0M101.4 1129.9h0M385.3 1180.7h0M122.6 1160.0h0M360.3 1228.6h0M169.3 1162.3h0M318.3 1119.7h0M331.1 1155.6h0M438.4 1156.8h0M421.4 1017.7h0M218.5 1104.6h0M335.8 1171.4h0M99.2 1209.5h0M59.8 1131.7h0M347.5 1218.7h0M437.5 1152.4h0M362.7 1115.9h0M308.0 1232.7h0M354.9 1266.7h0M183.6 1075.2h0M411.3 1207.7h0M186.4 1152.9h0M436.0 1267.5h0M387.3 1016.6h0M384.3 1226.0h0M403.4 1142.3h0M474.8 1248.6h0M476.3 1180.4h0M190.2 1203.8h0M356.4 1160.6h0M466.0 1080.3h0M308.2 1048.3h0M26.0 1123.7h0M32.0 1168.1h0M230.8 1145.6h0M381.9 1019.7h0M428.5 1055.4h0M189.1 1200.9h0M58.2 1128.2h0M14.4 1085.1h0M417.3 1031.5h0M98.8 1115.6h0M412.1 1138.2h0M140.7 1072.1h0M265.8 1275.9h0M344.2 1078.2h0M81.8 1048.3h0M456.0 1195.6h0M461.3 1054.1h0M467.0 1091.4h0M15.0 1128.0h0M314.5 1089.8h0M327.4 1193.5h0M424.9 1053.2h0M108.1 1190.9h0M71.9 1046.6h0M392.0 1173.4h0M44.8 1229.8h0M315.3 1164.1h0M363.3 1116.1h0M390.9 1226.9h0M15.3 1051.0h0M449.7 1196.3h0M424.8 1103.0h0M449.7 1265.5h0M373.0 1110.7h0M193.2 1103.0h0M129.9 1089.3h0M440.1 1162.4h0M340.2 1217.4h0M335.5 1157.1h0M337.8 1037.6h0M305.2 1175.2h0M372.2 1177.8h0M198.8 1096.5h0M136.5 1087.8h0M438.5 1104.9h0M409.1 1023.4h0M349.3 1059.0h0M92.6 1093.4h0M35.3 1154.8h0M444.8 1263.9h0M454.3 1206.3h0M141.2 1155.9h0M308.0 1210.7h0M22.6 1136.3h0M197.8 1027.9h0M342.8 1202.4h0M182.6 1207.6h0M390.9 1193.9h0M440.3 1247.7h0M78.1 1228.4h0M335.4 1241.3h0M189.6 1027.6h0M177.1 1175.6h0M239.0 1176.8h0M432.4 1182.4h0M371.4 1088.7h0M16.4 1097.7h0M478.1 1178.9h0M273.9 1277.2h0M299.0 1071.9h0M178.7 1174.8h0M402.3 1178.8h0M290.7 1185.9h0M130.5 1119.9h0M376.7 1132.4h0M114.0 1065.7h0M78.1 1177.3h0M293.0 1198.8h0M402.7 1258.5h0M150.9 1244.8h0M295.7 1206.3h0M374.0 1091.6h0M72.7 1162.5h0M63.9 1098.4h0M141.0 1219.8h0M107.0 1031.6h0M474.3 1254.2h0M56.2 1025.3h0M174.4 1148.7h0M302.9 1074.6h0M203.1 1025.7h0M22.4 1146.0h0M418.5 1086.5h0M125.7 1036.8h0M206.4 1240.1h0M438.3 1082.0h0M441.2 1181.2h0M205.9 1112.0h0M361.5 1031.5h0M410.2 1248.5h0M106.1 1044.7h0M466.7 1226.9h0M61.4 1159.3h0M321.2 1139.4h0M125.6 1037.0h0M114.4 1129.7h0M78.1 1019.5h0M454.0 1223.3h0M73.9 1208.1h0M440.1 1052.1h0M91.4 1154.1h0M167.8 1063.6h0M112.8 1209.4h0M475.4 1066.6h0M57.4 1062.2h0M416.2 1092.6h0M458.7 1238.4h0M364.4 1125.1h0M137.2 1231.9h0M89.2 1066.2h0M204.2 1259.9h0M26.3 1025.0h0M332.3 1231.5h0M291.1 1277.0h0M140.9 1038.0h0M20.2 1249.6h0M452.5 1228.0h0M72.3 1026.6h0M167.0 1136.3h0M25.9 1086.0h0M193.0 1119.9h0M201.6 1119.2h0M165.1 1017.7h0M130.6 1089.1h0M381.0 1094.2h0M144.3 1192.3h0M169.1 1205.0h0M243.3 1219.9h0M141.9 1188.9h0M353.3 1259.1h0M53.2 1166.8h0M164.9 1100.6h0M210.5 1026.0h0M134.5 1213.4h0M406.2 1168.5h0M179.4 1059.6h0M210.4 1154.6h0M232.9 1272.8h0M401.7 1180.3h0M116.1 1099.4h0M401.0 1235.2h0M456.9 1122.8h0M138.2 1019.1h0M93.1 1036.8h0M160.1 1040.6h0M120.2 1228.9h0M50.5 1023.4h0M300.6 1130.7h0M451.6 1092.0h0M425.6 1108.9h0M289.0 1039.8h0M218.8 1124.7h0M470.0 1222.3h0M322.4 1158.3h0M460.5 1051.1h0M335.4 1234.9h0M339.4 1252.9h0M341.4 1139.5h0M72.7 1113.1h0M132.0 1019.9h0M44.7 1034.3h0M449.5 1117.5h0M478.4 1045.9h0M86.8 1190.8h0M72.1 1100.4h0M222.3 1174.7h0M196.5 1060.9h0M55.7 1151.7h0M316.3 1206.0h0M384.0 1064.7h0M43.5 1144.3h0M158.5 1209.9h0M154.3 1120.8h0M296.3 1143.1h0M205.7 1240.0h0M418.4 1141.2h0M155.7 1167.8h0M372.1 1256.0h0M407.2 1023.9h0M423.7 1187.4h0M93.1 1154.3h0M106.0 1112.7h0M230.0 1261.3h0M465.9 1040.1h0M303.7 1147.7h0M305.1 1098.7h0M476.6 1228.4h0M99.3 1069.8h0M329.2 1021.5h0M392.3 1064.0h0M393.9 1268.6h0M194.5 1253.3h0M140.6 1233.4h0M471.5 1124.3h0M145.7 1172.0h0M78.6 1236.2h0M389.1 1016.2h0M410.3 1064.5h0M193.3 1053.6h0M322.1 1271.1h0M471.7 1027.2h0M381.6 1073.6h0M425.9 1067.9h0M367.5 1130.9h0M339.3 1145.0h0M402.3 1260.2h0M463.7 1258.1h0M85.1 1283.8h0M67.1 1113.2h0M311.1 1144.5h0M400.3 1020.9h0M49.7 1119.8h0M300.8 1111.5h0M138.4 1049.0h0M480.6 1242.3h0M182.8 1091.2h0M52.3 1050.7h0M379.5 1046.5h0M154.4 1021.7h0M209.7 1221.2h0M75.0 1160.2h0M168.5 1157.9h0M76.3 1128.0h0M284.3 1118.2h0M153.6 1144.6h0M325.7 1203.4h0M434.8 1268.6h0M283.2 1249.4h0M462.2 1065.0h0M175.7 1239.9h0M303.0 1234.9h0M219.7 1217.9h0M306.7 1216.7h0M227.5 1243.9h0M146.3 1254.9h0M205.8 1228.3h0M193.7 1036.2h0M150.3 1072.0h0M294.5 1048.0h0M206.2 1032.9h0M345.3 1165.3h0M393.5 1267.3h0M173.3 1025.2h0M451.4 1201.3h0M62.7 1054.0h0M390.2 1250.4h0M210.7 1023.5h0M199.3 1043.2h0M407.8 1103.3h0M320.0 1016.4h0M468.8 1195.8h0M424.0 1071.1h0M68.3 1211.5h0M249.0 1274.2h0M372.5 1143.4h0M52.6 1143.3h0M477.6 1100.6h0M125.6 1256.8h0M68.5 1209.7h0M149.2 1017.5h0M174.8 1096.3h0M147.5 1211.8h0M215.8 1027.3h0M403.2 1249.1h0M255.6 1264.1h0M289.2 1222.3h0M64.9 1236.4h0M44.3 1178.1h0M458.1 1235.7h0M176.1 1142.6h0M456.4 1126.5h0M170.7 1206.9h0M312.7 1142.0h0M322.9 1099.8h0M56.0 1087.3h0M47.1 1134.4h0M220.3 1119.3h0M73.4 1220.9h0M152.2 1229.1h0M105.5 1232.9h0M160.1 1245.6h0M226.9 1113.9h0M159.4 1115.9h0M170.7 1243.8h0M240.9 1064.2h0M332.8 1206.6h0M33.6 1158.3h0M479.8 1196.9h0M215.2 1205.3h0M445.1 1197.6h0M17.4 1079.2h0M40.8 1021.4h0M440.2 1260.0h0M206.4 1152.8h0M409.3 1195.5h0M338.4 1039.9h0M55.0 1140.1h0M182.9 1175.5h0M168.8 1206.1h0M225.6 1074.8h0M366.0 1040.3h0M446.6 1246.7h0M236.6 1063.8h0M184.8 1239.6h0M339.8 1236.8h0M143.1 1064.6h0M346.7 1234.7h0M208.2 1119.3h0M237.3 1106.2h0M102.3 1058.8h0M108.9 1176.5h0M416.3 1182.4h0M283.1 1154.6h0M211.2 1042.3h0M375.9 1232.2h0M440.0 1101.5h0M88.2 1087.2h0M480.1 1190.0h0M20.6 1065.4h0M300.7 1263.5h0M137.1 1191.9h0M131.7 1230.5h0M296.2 1132.0h0M218.0 1083.6h0M347.4 1083.5h0M457.8 1128.3h0M92.9 1229.9h0M125.0 1152.3h0M298.7 1242.5h0M205.6 1045.5h0M161.3 1094.0h0M339.4 1264.3h0M438.3 1032.2h0M453.4 1163.0h0M396.7 1198.8h0M175.9 1070.7h0M95.5 1080.0h0M459.2 1053.1h0M129.5 1192.4h0M332.6 1155.5h0M338.3 1180.0h0M438.1 1183.7h0M325.2 1276.0h0M473.1 1224.8h0M41.9 1100.3h0M31.5 1219.0h0M105.4 1137.6h0M212.0 1145.3h0M52.5 1018.0h0M284.5 1090.6h0M202.0 1239.3h0M370.5 1182.0h0M232.1 1218.2h0M423.9 1216.7h0M368.3 1262.2h0M244.9 1242.5h0M181.2 1191.2h0M113.9 1104.2h0M150.4 1149.8h0M179.8 1091.1h0M182.7 1106.9h0M97.6 1140.7h0M235.0 1130.5h0M66.2 1094.0h0M419.6 1098.1h0M58.4 1067.3h0M167.1 1174.1h0M133.2 1040.3h0M86.9 1082.8h0M238.5 1061.6h0M99.6 1207.9h0M84.8 1091.4h0M342.0 1042.2h0M214.6 1239.2h0M327.9 1134.5h0M233.5 1234.6h0M159.1 1109.6h0M213.1 1167.6h0M238.6 1034.0h0M399.8 1051.4h0M129.0 1264.3h0M117.0 1195.0h0M174.8 1223.6h0M380.7 1072.3h0M409.8 1258.5h0M182.4 1127.8h0M317.0 1067.6h0M400.0 1061.8h0M127.4 1250.5h0M345.5 1129.2h0M196.2 1212.5h0M81.6 1205.7h0M297.7 1149.8h0M112.1 1146.1h0M185.9 1166.0h0M463.6 1218.5h0M82.4 1129.1h0M48.4 1152.8h0M454.4 1281.4h0M35.6 1036.2h0M313.9 1210.7h0M26.7 1195.4h0M321.8 1025.0h0M182.6 1089.5h0M319.7 1107.2h0M134.6 1190.3h0M49.0 1176.1h0M98.9 1209.3h0M141.9 1249.9h0M90.9 1020.3h0M106.7 1168.1h0M218.4 1203.2h0M399.4 1158.8h0M345.6 1099.8h0M412.5 1136.8h0M287.1 1107.0h0M31.2 1118.5h0M228.5 1192.7h0M29.1 1106.6h0M296.5 1247.3h0M44.4 1113.6h0M84.0 1133.3h0M413.5 1261.6h0M58.0 1180.1h0M342.7 1016.2h0M290.8 1068.2h0M168.1 1260.0h0M134.9 1027.0h0M135.3 1248.8h0M21.4 1187.7h0M328.3 1202.1h0M47.5 1121.8h0M106.0 1121.0h0M54.6 1057.8h0M389.6 1053.4h0M232.3 1108.4h0M286.4 1022.9h0M391.5 1061.3h0M305.4 1061.4h0M160.2 1139.0h0M255.3 1263.6h0M475.0 1173.8h0M280.1 1217.1h0M236.8 1043.8h0M428.8 1204.1h0M39.5 1251.2h0M382.6 1209.4h0M454.0 1180.8h0M25.2 1050.2h0M18.6 1231.5h0M283.4 1211.4h0M78.3 1213.2h0M324.0 1036.7h0M21.3 1053.6h0M420.3 1199.8h0M132.0 1100.2h0M272.7 1274.1h0M179.2 1048.3h0M174.3 1237.3h0M202.4 1145.3h0M15.7 1095.3h0M214.2 1084.5h0M137.8 1111.5h0M180.9 1115.4h0M90.1 1076.7h0M170.4 1074.8h0M473.4 1130.0h0M106.1 1185.1h0M418.7 1206.8h0M301.1 1105.6h0M20.9 1095.2h0M426.8 1067.4h0M123.3 1027.1h0M63.6 1086.8h0M320.1 1031.8h0M344.0 1186.3h0M432.0 1172.1h0M162.6 1213.9h0M109.6 1165.2h0M310.7 1273.0h0M454.0 1159.6h0M53.5 1063.1h0M194.6 1227.9h0M51.5 1031.4h0M291.8 1152.6h0M473.1 1076.8h0M143.2 1261.8h0M353.6 1041.2h0M434.6 1235.2h0M140.4 1071.3h0M443.2 1190.1h0M363.5 1203.9h0M315.5 1222.6h0M104.7 1029.5h0M143.5 1146.9h0M61.4 1049.3h0M432.3 1049.5h0M391.8 1059.2h0M54.4 1055.4h0M262.0 1270.2h0M113.5 1168.0h0M371.5 1084.3h0M455.5 1030.0h0M353.6 1074.0h0M61.0 1186.2h0M188.1 1204.6h0M283.1 1183.1h0M187.2 1282.4h0M101.7 1242.7h0M146.3 1142.1h0M129.9 1221.7h0M86.1 1083.0h0M174.6 1251.1h0M130.3 1081.5h0M431.6 1018.7h0M459.7 1232.4h0M88.4 1151.7h0M279.9 1237.9h0M328.7 1157.3h0M85.2 1242.5h0M107.4 1189.5h0M184.0 1274.7h0M165.3 1047.2h0M394.6 1267.9h0M123.3 1157.4h0M287.5 1197.4h0M168.1 1122.0h0M448.0 1158.8h0M166.3 1148.3h0M337.4 1265.2h0M352.5 1171.8h0M85.4 1203.1h0M83.2 1122.9h0M357.7 1037.2h0M195.4 1231.2h0M414.3 1220.6h0M123.0 1119.1h0M126.2 1041.6h0M417.1 1244.2h0M182.9 1226.9h0M65.3 1242.7h0M116.9 1238.5h0M373.4 1086.8h0M138.0 1185.5h0M403.8 1121.6h0M299.1 1127.0h0M365.5 1198.8h0M470.2 1287.5h0M153.7 1144.0h0M423.2 1115.1h0M108.1 1186.8h0M75.6 1126.2h0M167.1 1191.4h0M78.3 1194.3h0M374.4 1218.8h0M34.7 1193.1h0M424.2 1129.1h0M292.3 1255.1h0M220.8 1183.8h0M79.8 1236.4h0M233.4 1236.2h0M442.4 1073.1h0M286.9 1036.2h0M228.5 1222.3h0M298.0 1030.1h0M271.1 1273.8h0M305.2 1203.5h0M106.9 1130.6h0M83.4 1198.0h0M19.8 1051.0h0M402.5 1189.2h0M133.6 1015.0h0M287.4 1271.1h0M435.0 1123.4h0M113.6 1271.5h0M67.2 1232.5h0M88.9 1120.1h0M150.0 1023.9h0M226.7 1195.3h0M335.2 1154.1h0M164.1 1257.3h0M324.6 1020.1h0M23.2 1102.8h0M437.7 1035.0h0M450.3 1191.2h0M281.0 1246.4h0M473.1 1262.4h0M123.9 1054.4h0M153.0 1153.2h0M396.7 1207.4h0M222.9 1093.1h0M340.8 1181.0h0M118.0 1259.7h0M426.0 1028.8h0M113.0 1180.3h0M152.1 1129.7h0M78.1 1044.4h0M155.3 1126.7h0M294.6 1217.4h0M138.8 1173.9h0M36.6 1177.1h0M287.8 1091.3h0M357.2 1154.0h0M64.9 1136.9h0M212.1 1263.4h0M21.9 1134.4h0M188.9 1152.4h0M147.8 1094.9h0M422.8 1169.8h0M20.3 1050.6h0M356.6 1128.1h0M208.7 1017.5h0M131.9 1099.7h0M38.8 1120.5h0M27.4 1229.3h0M78.0 1113.4h0M352.2 1060.0h0M227.7 1121.7h0M151.5 1259.2h0M89.3 1162.2h0M387.2 1267.5h0M152.1 1252.4h0M365.1 1126.0h0M153.2 1121.6h0M458.3 1164.5h0M95.8 1200.4h0M375.6 1215.9h0M35.5 1117.7h0M382.8 1018.6h0M37.7 1246.7h0M219.8 1055.0h0M203.0 1083.3h0M305.7 1155.2h0M342.6 1262.2h0M320.6 1179.6h0M480.5 1044.8h0M82.7 1039.1h0M47.1 1196.8h0M139.3 1197.0h0M69.6 1195.4h0M333.2 1213.0h0M336.0 1016.4h0M299.8 1099.3h0M192.8 1107.2h0M230.6 1192.3h0M135.2 1041.0h0M443.0 1090.5h0M21.4 1062.9h0M163.7 1027.9h0M98.4 1070.7h0M412.9 1146.6h0M238.4 1071.3h0M187.1 1231.2h0M43.3 1045.5h0M145.3 1225.5h0M289.4 1194.5h0M145.3 1058.2h0M35.1 1118.3h0M284.7 1119.3h0M155.9 1139.2h0M409.3 1199.2h0M337.1 1019.1h0M350.9 1060.2h0M429.7 1205.7h0M392.3 1040.4h0M167.8 1245.5h0M134.9 1024.9h0M108.1 1224.8h0M110.1 1081.9h0M118.9 1256.7h0M328.1 1256.3h0M131.4 1035.1h0M35.8 1022.3h0M210.9 1124.5h0M107.8 1129.8h0M335.9 1126.6h0M117.5 1177.9h0M274.1 1229.0h0M96.2 1230.2h0M239.2 1268.9h0M419.0 1199.7h0M155.6 1254.5h0M218.8 1022.1h0M46.7 1138.3h0M23.7 1256.0h0M407.4 1120.2h0M172.9 1045.3h0M334.4 1049.5h0M206.7 1077.5h0" stroke="#c2d5e7" stroke-width="2.8" stroke-linecap="round" stroke-opacity="0.8"/>
<path d="M23.5 1245.9h0M297.3 1276.2h0M460.0 1263.8h0M301.6 1271.1h0M128.5 1259.6h0M310.9 1275.5h0M186.8 1260.4h0M184.9 1264.3h0M40.2 1247.2h0M347.4 1274.4h0M14.3 1241.9h0M406.4 1269.1h0M17.0 1243.2h0M377.5 1265.3h0M177.2 1264.2h0M177.1 1259.0h0M242.9 1273.2h0M100.2 1252.5h0M110.6 1260.7h0M347.4 1272.7h0M438.3 1267.0h0M79.7 1256.6h0M142.5 1254.2h0M472.3 1260.2h0M334.9 1273.8h0M442.2 1266.5h0M194.1 1267.7h0M372.8 1264.5h0M345.7 1273.9h0M361.6 1269.6h0M236.5 1270.9h0M150.9 1259.2h0M184.2 1261.6h0M81.0 1256.5h0M50.7 1249.2h0M191.5 1264.7h0M414.2 1267.5h0M168.5 1263.3h0M275.9 1270.9h0M398.7 1266.5h0M63.1 1252.6h0M187.0 1263.2h0M186.8 1265.8h0M346.4 1273.3h0M436.2 1267.8h0M17.6 1242.7h0M268.3 1274.1h0M15.4 1245.7h0M154.5 1262.1h0M200.8 1263.4h0M145.2 1260.7h0M206.7 1266.2h0M182.8 1264.7h0M247.0 1269.1h0M130.8 1256.1h0M196.2 1266.8h0M116.4 1253.5h0M210.3 1264.6h0M344.7 1269.3h0M28.3 1248.1h0M480.4 1260.7h0M83.5 1253.2h0M383.8 1270.1h0M148.3 1263.1h0M47.2 1247.2h0M382.5 1267.2h0M277.9 1275.8h0M136.8 1260.4h0M191.6 1267.6h0M417.6 1268.4h0M344.0 1270.0h0M144.0 1262.6h0M124.6 1262.1h0M278.2 1275.5h0M70.3 1254.9h0M120.9 1261.4h0M390.1 1267.9h0M352.8 1272.3h0M25.9 1244.1h0M222.9 1269.2h0M200.2 1262.6h0M359.0 1269.6h0M212.8 1263.7h0M120.1 1261.5h0M407.0 1267.6h0M104.4 1257.6h0M316.4 1273.2h0M145.9 1260.3h0M303.0 1271.9h0M94.6 1258.4h0M423.1 1269.3h0M186.6 1260.5h0M331.8 1275.1h0M364.2 1272.9h0M232.4 1265.9h0M265.7 1272.1h0M69.5 1251.7h0M266.6 1273.3h0M262.3 1273.1h0M432.0 1258.6h0M178.3 1262.2h0M85.5 1249.1h0M203.5 1265.8h0M380.8 1267.5h0M19.4 1247.5h0M30.9 1246.0h0M480.4 1262.8h0M273.4 1276.3h0M349.5 1271.4h0M231.6 1268.1h0M105.2 1260.3h0M325.6 1272.1h0M126.7 1260.9h0M225.0 1268.6h0M112.1 1255.4h0M438.0 1266.3h0M197.8 1266.3h0M338.3 1272.4h0M99.0 1258.5h0M298.4 1275.4h0M151.9 1261.8h0M69.5 1254.2h0M161.6 1260.0h0M43.8 1243.9h0M295.4 1270.7h0M273.4 1276.5h0M412.7 1264.5h0M26.7 1247.2h0M204.7 1261.3h0M473.8 1260.5h0M176.0 1260.4h0M41.3 1248.6h0M387.6 1267.6h0M57.5 1251.5h0M347.5 1271.0h0M259.7 1275.2h0M423.5 1261.9h0M253.7 1271.5h0M331.2 1274.2h0M134.1 1263.0h0M473.1 1256.6h0M111.6 1256.4h0M404.7 1268.0h0M332.5 1274.3h0M238.9 1271.9h0M188.4 1264.0h0M53.9 1246.7h0M384.4 1271.3h0M120.2 1260.7h0M421.4 1266.1h0M428.7 1267.0h0M112.2 1258.7h0M149.8 1260.8h0M346.0 1273.6h0M371.1 1273.2h0M36.7 1248.5h0M399.6 1267.6h0M395.3 1271.2h0M305.0 1272.7h0M430.2 1268.3h0M469.8 1263.4h0M109.7 1249.0h0M454.4 1266.9h0M416.5 1267.2h0M288.4 1276.3h0M65.6 1250.0h0M463.1 1264.5h0M361.1 1270.0h0M186.8 1265.8h0M164.7 1255.8h0M458.1 1261.2h0M121.8 1255.3h0M397.1 1270.4h0M221.2 1269.6h0M339.4 1266.1h0M397.7 1268.1h0M60.5 1252.0h0M135.6 1260.3h0M67.2 1254.3h0M201.8 1261.2h0M80.2 1253.7h0M441.5 1265.0h0M381.8 1271.3h0M285.5 1275.5h0M103.1 1260.0h0M112.3 1259.4h0M290.6 1272.0h0M437.8 1266.3h0M449.6 1259.4h0M447.9 1266.1h0M164.7 1259.6h0M339.8 1272.6h0M256.2 1275.1h0M273.4 1273.1h0M330.2 1273.1h0M151.6 1264.3h0M139.0 1261.0h0M206.5 1262.7h0M122.9 1262.1h0M415.8 1268.5h0M184.9 1263.4h0M32.0 1249.4h0M309.6 1273.8h0M474.5 1264.0h0M270.4 1275.3h0M146.2 1260.9h0M435.3 1265.2h0M308.1 1273.4h0M303.1 1274.4h0M229.1 1266.1h0M374.2 1271.5h0M327.1 1273.9h0M269.1 1274.9h0M170.2 1265.2h0M380.2 1265.9h0M439.3 1267.5h0M56.7 1249.4h0M26.2 1247.4h0M60.5 1252.9h0M421.7 1265.1h0M302.3 1270.8h0M199.6 1264.5h0M469.5 1265.6h0M455.0 1260.8h0M212.0 1264.6h0M186.6 1259.1h0M262.8 1273.5h0M290.8 1270.7h0M407.2 1268.2h0M424.2 1266.2h0M147.0 1261.7h0M412.9 1266.6h0M50.1 1249.8h0M111.3 1253.0h0M210.0 1267.8h0M49.4 1244.8h0M176.0 1264.4h0M26.7 1247.3h0M390.2 1270.0h0M329.8 1273.3h0M135.4 1260.0h0M258.3 1269.2h0M196.0 1265.5h0M396.8 1266.8h0M151.3 1261.4h0M124.4 1258.8h0M376.6 1273.0h0M367.2 1265.9h0M342.6 1270.6h0M43.8 1249.5h0M33.3 1249.8h0M448.3 1266.7h0M468.1 1264.7h0M109.6 1258.0h0M243.6 1270.1h0M230.4 1268.1h0M146.5 1263.7h0M50.7 1249.4h0M132.2 1258.9h0M462.7 1259.2h0M220.8 1267.6h0M110.2 1260.1h0M49.3 1242.1h0M315.6 1274.9h0M406.5 1266.7h0M131.7 1259.5h0M366.3 1265.4h0M24.1 1248.0h0M74.4 1253.2h0M312.3 1275.1h0M58.0 1250.0h0M231.2 1267.4h0M240.3 1269.9h0M27.1 1243.2h0M398.1 1270.3h0M358.9 1273.7h0M383.3 1272.5h0M318.7 1273.4h0M145.5 1263.9h0M338.5 1274.8h0M281.0 1274.3h0M305.2 1272.4h0M365.3 1267.4h0M149.1 1263.3h0M440.8 1262.6h0M229.8 1267.1h0M161.6 1264.3h0M260.5 1275.8h0M468.5 1261.5h0M343.1 1272.4h0M58.5 1252.7h0M142.9 1261.8h0M328.5 1271.1h0M461.2 1264.9h0M265.6 1269.7h0M266.5 1275.6h0M14.4 1242.9h0M85.5 1254.4h0M390.3 1271.6h0M127.0 1261.8h0M264.5 1274.5h0M332.9 1273.7h0M292.1 1269.7h0M371.8 1270.2h0M314.9 1269.8h0M158.6 1262.0h0M287.5 1275.1h0M339.1 1272.2h0M46.4 1251.3h0M465.0 1263.7h0M303.2 1275.1h0M469.5 1263.5h0M416.8 1263.1h0M28.6 1244.5h0M52.6 1246.5h0M413.7 1267.9h0M128.7 1262.6h0M439.8 1265.4h0M471.4 1265.5h0M373.1 1268.1h0" stroke="#8fb0d6" stroke-width="2.2" stroke-linecap="round" stroke-opacity="0.75"/>
<path d="M308.5 1227.2h0M251.4 1248.8h0M329.0 1233.8h0M279.5 1260.9h0M318.0 1258.5h0M308.8 1242.2h0M311.5 1254.6h0M234.9 1258.1h0M319.5 1250.9h0M274.2 1238.8h0M194.4 1230.6h0M241.3 1266.2h0M244.4 1230.1h0M288.8 1235.9h0M300.7 1264.4h0M201.8 1228.1h0M302.9 1233.1h0M259.5 1244.3h0M205.1 1232.3h0M308.9 1228.0h0M221.3 1259.3h0M197.6 1233.1h0M304.7 1270.9h0M312.6 1228.4h0M227.0 1238.0h0M321.3 1253.7h0M318.3 1230.9h0M234.8 1247.6h0M373.0 1248.6h0M260.1 1255.7h0M275.7 1272.5h0M132.3 1240.7h0M298.2 1270.9h0M229.3 1235.6h0M287.5 1258.5h0M169.5 1242.7h0M326.9 1263.5h0M343.4 1250.9h0M367.1 1266.0h0M101.3 1231.1h0M295.7 1239.1h0M282.4 1253.2h0M97.6 1246.5h0M223.4 1242.4h0M258.9 1265.6h0M341.7 1244.1h0M217.9 1265.8h0M275.0 1272.7h0M260.6 1228.1h0M283.9 1258.0h0M242.0 1265.8h0M312.9 1228.5h0M317.3 1262.0h0M189.2 1249.5h0M325.5 1251.0h0M222.9 1237.8h0M248.9 1260.9h0M325.8 1236.7h0M269.5 1235.2h0M295.7 1243.3h0M307.5 1274.6h0M297.1 1246.1h0M234.7 1232.4h0M212.0 1242.9h0M301.7 1263.7h0M306.0 1256.6h0M284.0 1261.8h0M254.0 1266.0h0M311.5 1240.2h0M263.0 1243.3h0M189.4 1260.6h0M280.0 1245.1h0M292.2 1251.4h0M307.1 1266.9h0M215.7 1252.7h0M223.5 1265.5h0M282.9 1226.7h0M240.2 1254.5h0M261.1 1251.3h0M316.3 1246.0h0M286.5 1240.7h0M365.0 1243.7h0M280.9 1266.9h0M358.8 1248.5h0M323.5 1236.7h0M404.8 1256.5h0M266.2 1267.2h0M260.8 1246.1h0M337.1 1232.3h0M237.4 1259.9h0M240.3 1257.8h0M279.3 1260.7h0M286.5 1226.7h0M189.1 1230.8h0M280.0 1274.4h0M249.1 1252.4h0M264.7 1239.0h0M275.9 1228.5h0M255.8 1249.2h0M325.1 1241.7h0M293.1 1233.7h0M256.3 1257.1h0M270.8 1235.1h0M323.5 1271.9h0M309.7 1237.4h0M336.1 1268.7h0M259.4 1243.5h0M274.5 1240.7h0M377.1 1261.0h0M265.0 1251.3h0M359.0 1232.6h0M313.3 1267.0h0M243.8 1251.7h0M190.8 1249.0h0M302.0 1244.6h0M228.8 1262.3h0M228.7 1253.0h0M172.8 1228.9h0M332.3 1268.6h0M273.1 1254.4h0M268.9 1239.7h0M289.1 1228.1h0M280.8 1228.1h0M272.8 1232.1h0M295.8 1238.7h0M252.6 1251.4h0M126.6 1234.0h0M308.0 1264.7h0M290.9 1252.1h0M268.9 1247.6h0M354.4 1246.3h0M191.4 1235.8h0M109.6 1244.3h0M349.0 1237.1h0M290.3 1242.0h0M178.0 1246.2h0M245.4 1255.8h0M301.5 1242.1h0M201.4 1255.8h0M298.0 1243.7h0M383.4 1267.8h0M343.6 1233.1h0M266.0 1255.1h0M285.3 1243.7h0M215.9 1245.3h0M274.9 1231.8h0M249.6 1242.1h0M213.4 1234.0h0M194.4 1253.6h0M373.1 1262.0h0M272.4 1265.5h0M211.9 1264.4h0M244.7 1243.9h0M348.9 1256.5h0M356.2 1271.3h0M234.1 1248.5h0M278.4 1252.0h0M316.3 1258.0h0M248.8 1227.4h0M203.5 1261.2h0M214.4 1243.6h0M268.2 1264.1h0M225.5 1231.8h0M196.9 1246.2h0M254.8 1253.6h0M318.5 1263.6h0M304.9 1255.3h0M255.1 1256.2h0M371.8 1269.0h0M224.7 1237.7h0M263.5 1248.4h0M193.0 1261.8h0M310.0 1248.3h0M260.7 1255.3h0M175.7 1245.9h0M222.3 1268.0h0M365.6 1257.9h0M306.9 1263.9h0M273.5 1227.6h0M314.7 1245.3h0M180.2 1255.7h0M222.3 1233.2h0M195.0 1257.8h0M222.2 1265.7h0M246.5 1261.9h0M296.3 1261.7h0M322.3 1239.4h0M320.8 1231.9h0M413.9 1266.6h0M240.4 1245.4h0M266.2 1271.4h0M295.0 1259.0h0M222.0 1266.1h0M251.6 1227.2h0M289.5 1265.7h0M219.0 1257.6h0M292.9 1253.9h0M334.1 1233.8h0M206.3 1234.5h0M142.4 1260.2h0M271.6 1245.6h0M210.3 1257.6h0M276.5 1274.9h0M242.5 1236.6h0M283.6 1229.3h0M328.8 1227.7h0M311.6 1247.1h0M247.4 1265.0h0M203.1 1259.1h0M131.2 1247.2h0M148.1 1226.1h0M223.3 1236.6h0M271.9 1233.5h0M229.6 1232.9h0M233.8 1232.0h0M179.0 1227.4h0M176.0 1245.8h0M171.8 1239.3h0M299.7 1243.4h0M157.5 1236.5h0M302.4 1264.9h0M215.9 1238.3h0M294.3 1233.8h0M277.9 1240.1h0M305.8 1238.2h0M329.4 1242.7h0M221.5 1242.3h0M211.1 1235.6h0M240.0 1254.9h0M221.5 1232.7h0M299.6 1270.8h0M257.2 1269.2h0M263.5 1250.6h0M285.9 1262.4h0M237.2 1235.7h0M322.9 1240.1h0M162.3 1260.8h0M275.5 1249.8h0M290.0 1262.8h0M220.6 1260.8h0M224.7 1256.5h0M311.9 1248.1h0M245.0 1243.8h0M157.3 1228.3h0M188.5 1260.9h0M317.4 1259.7h0M214.1 1228.7h0M333.8 1266.1h0M337.1 1239.7h0M251.1 1266.8h0" stroke="#a6c0de" stroke-width="2.4" stroke-linecap="round" stroke-opacity="0.8"/>
<path d="M242.1 1013 L242.1 1208 C242.1 1230 254.95 1251 261.95 1251 C268.95 1251 281.8 1230 281.8 1208 L281.8 1013Z" fill="#f7faf8"/>
<path d="M242.1 1013 L242.1 1208 C242.1 1230 254.95 1251 261.95 1251 C268.95 1251 281.8 1230 281.8 1208 L281.8 1013" fill="none" stroke="#9dbbdd" stroke-width="1.6" stroke-dasharray="2 1.2"/>
<path d="M284.6 1188.9h0M286.4 1179.6h0M267.5 1240.7h0M255.2 1242.9h0M280.4 1214.0h0M256.7 1244.7h0M241.6 1184.5h0M283.4 1189.0h0M264.7 1248.9h0M256.0 1246.6h0M277.4 1228.7h0M283.9 1202.4h0M272.5 1230.1h0M236.8 1178.0h0M283.1 1203.9h0M268.4 1240.2h0M240.4 1194.7h0M284.1 1187.4h0M281.8 1213.9h0M250.4 1227.2h0M283.1 1200.7h0M251.1 1237.7h0M269.3 1244.2h0M239.8 1193.8h0M240.1 1206.1h0M268.6 1239.0h0M241.9 1214.7h0M252.8 1232.5h0M283.5 1200.9h0M268.8 1237.7h0M268.0 1238.9h0M252.8 1234.6h0M267.6 1242.2h0M282.3 1206.6h0M244.2 1215.7h0M253.8 1236.9h0M251.9 1230.8h0M245.9 1217.2h0M240.8 1180.6h0M239.4 1193.9h0M240.1 1211.1h0M251.8 1233.0h0M266.2 1244.0h0M260.0 1250.0h0M237.3 1206.1h0M266.2 1248.5h0M281.9 1205.9h0M283.2 1191.3h0M265.0 1245.8h0M282.7 1185.7h0M243.0 1212.8h0M271.1 1234.6h0M248.6 1223.7h0M256.4 1240.1h0M242.0 1216.7h0M283.9 1210.5h0M242.1 1202.7h0M274.9 1223.5h0M276.7 1219.2h0M280.2 1215.1h0M251.0 1227.6h0M279.7 1214.9h0M272.5 1228.6h0M242.3 1214.5h0M271.0 1234.6h0M282.4 1192.8h0M237.6 1204.3h0M239.4 1200.3h0M267.7 1242.1h0M280.8 1220.4h0M256.2 1246.7h0M277.2 1218.7h0M257.7 1246.3h0M271.5 1232.0h0M257.5 1243.3h0M286.6 1199.8h0M257.7 1250.7h0M241.5 1199.9h0M251.1 1232.7h0M276.0 1223.3h0M285.2 1203.9h0M240.7 1185.6h0M282.8 1181.3h0M238.4 1178.8h0M245.3 1218.2h0M277.8 1219.0h0M239.0 1185.9h0M241.1 1180.8h0M239.1 1179.4h0M246.2 1220.3h0M273.2 1233.0h0M255.9 1243.6h0M282.7 1212.2h0M253.1 1232.2h0M286.6 1195.4h0M240.8 1181.6h0M243.1 1220.0h0M282.3 1201.8h0M241.0 1207.3h0M241.0 1186.4h0M275.9 1228.5h0M257.2 1242.5h0M272.9 1232.2h0M240.9 1187.9h0M282.5 1197.8h0M240.2 1192.3h0M263.6 1250.3h0M283.5 1206.4h0M284.2 1188.7h0M255.5 1237.4h0M237.2 1193.5h0M283.0 1183.7h0M236.7 1205.1h0M284.5 1180.7h0M282.5 1211.5h0M242.2 1209.8h0M240.8 1200.8h0M279.2 1218.6h0M270.9 1235.5h0M238.8 1202.9h0M241.6 1197.8h0M275.3 1224.5h0M284.7 1208.7h0M284.1 1196.9h0M257.3 1247.0h0M240.1 1193.3h0M283.9 1207.1h0M282.7 1199.3h0M253.7 1237.1h0M247.0 1226.5h0M258.1 1244.4h0M284.2 1197.7h0M253.3 1238.2h0M274.3 1226.8h0M283.7 1186.2h0M283.7 1196.3h0M268.0 1239.3h0M237.2 1209.8h0M282.6 1189.8h0M237.6 1187.5h0M285.2 1199.3h0M248.1 1225.3h0M240.1 1187.8h0M285.1 1189.4h0M269.8 1240.4h0M281.8 1197.2h0M274.7 1227.7h0M268.1 1238.8h0M270.7 1232.6h0M248.3 1223.8h0M241.5 1210.8h0M276.2 1229.4h0M284.0 1204.7h0M250.6 1233.7h0M251.2 1229.0h0M282.3 1186.3h0M241.4 1178.5h0M246.0 1226.5h0M280.4 1212.8h0M276.4 1222.4h0M274.6 1226.6h0M283.5 1212.2h0M283.1 1187.6h0M246.7 1220.3h0M241.3 1199.1h0M282.8 1214.6h0M239.4 1180.1h0M258.6 1248.1h0M283.2 1191.3h0M263.3 1250.5h0M270.7 1235.9h0M241.7 1206.1h0M247.3 1219.3h0M282.2 1194.0h0M283.3 1178.9h0M244.8 1214.0h0M284.9 1183.1h0M239.9 1191.0h0M239.6 1182.8h0M244.4 1218.3h0M276.8 1226.7h0M264.3 1248.2h0M282.9 1195.8h0M267.5 1239.2h0M279.3 1220.9h0M282.8 1179.0h0M241.3 1204.7h0M263.1 1249.5h0M251.5 1231.4h0M249.7 1226.9h0M250.6 1229.1h0M260.0 1247.9h0M280.8 1217.3h0M238.0 1187.9h0M283.1 1181.7h0M246.8 1219.5h0M238.2 1190.9h0M265.3 1246.3h0M263.3 1249.3h0M277.9 1219.2h0M277.8 1222.6h0M237.9 1187.5h0M254.9 1237.2h0M240.1 1209.1h0M252.7 1233.1h0M239.2 1209.3h0M253.3 1236.6h0M283.8 1186.9h0M263.0 1249.1h0M250.4 1228.0h0M241.1 1203.2h0M237.3 1208.0h0M284.8 1193.7h0M243.9 1215.2h0M266.6 1243.3h0M243.4 1212.8h0M283.4 1202.3h0M282.0 1211.8h0M282.4 1208.4h0M240.8 1208.9h0" stroke="#93b3d8" stroke-width="2.3" stroke-linecap="round" stroke-opacity="0.85"/>
<path d="M427.0 1227.3h0M421.5 1176.8h0M110.9 1135.8h0M424.3 1156.7h0M52.1 1179.5h0M148.3 1122.9h0M397.5 1118.1h0M60.0 1083.1h0M376.9 1171.2h0M383.8 1088.0h0M435.2 1120.3h0M411.8 1088.6h0M347.8 1241.9h0M94.1 1145.2h0M70.7 1054.8h0M53.9 1047.7h0M160.4 1207.0h0M160.8 1247.6h0M473.9 1073.1h0M410.7 1157.8h0M60.1 1137.3h0M234.0 1125.5h0M386.4 1189.1h0M197.7 1215.0h0M421.1 1072.2h0M439.6 1165.7h0M96.0 1056.1h0M395.3 1063.7h0M224.3 1102.8h0M27.4 1158.2h0M156.7 1138.6h0M427.1 1029.6h0M101.8 1138.4h0M93.2 1059.6h0M458.1 1060.1h0M216.6 1229.5h0M437.8 1176.7h0M146.5 1078.5h0M45.3 1207.2h0M439.1 1258.5h0M164.3 1227.1h0M450.4 1054.3h0M327.1 1179.7h0M401.9 1118.4h0M164.7 1126.0h0M345.6 1063.1h0M393.1 1048.7h0M330.1 1256.6h0M443.1 1130.0h0M434.7 1058.4h0M451.5 1129.8h0M346.0 1056.2h0M436.7 1199.4h0M82.9 1171.3h0M154.7 1194.6h0M86.5 1223.7h0M28.1 1233.2h0M319.0 1262.9h0M464.5 1190.6h0M307.0 1258.4h0M466.1 1260.0h0M395.8 1065.5h0M302.3 1113.7h0M201.1 1135.9h0M108.2 1132.7h0M458.3 1041.8h0M450.9 1114.2h0M431.4 1211.5h0M170.9 1142.8h0M362.4 1181.3h0M396.6 1171.5h0M22.4 1111.6h0M144.9 1201.1h0M141.5 1107.8h0M168.5 1255.4h0M175.9 1253.1h0M25.3 1143.6h0M252.7 1258.3h0M450.5 1069.0h0M301.3 1135.8h0M115.2 1244.8h0M464.8 1040.0h0M421.0 1143.3h0M424.0 1120.0h0M70.9 1113.4h0M341.6 1124.2h0M168.6 1165.5h0M384.4 1244.4h0M189.7 1030.6h0M130.3 1053.6h0M463.5 1186.3h0" stroke="#e3b3c3" stroke-width="4.2" stroke-linecap="round" stroke-opacity="0.6"/>
<path d="M427.0 1227.3h0M421.5 1176.8h0M110.9 1135.8h0M424.3 1156.7h0M52.1 1179.5h0M148.3 1122.9h0M397.5 1118.1h0M60.0 1083.1h0M376.9 1171.2h0M383.8 1088.0h0M435.2 1120.3h0M411.8 1088.6h0M347.8 1241.9h0M94.1 1145.2h0M70.7 1054.8h0M53.9 1047.7h0M160.4 1207.0h0M160.8 1247.6h0M473.9 1073.1h0M410.7 1157.8h0M60.1 1137.3h0M234.0 1125.5h0M386.4 1189.1h0M197.7 1215.0h0M421.1 1072.2h0M439.6 1165.7h0M96.0 1056.1h0M395.3 1063.7h0M224.3 1102.8h0M27.4 1158.2h0M156.7 1138.6h0M427.1 1029.6h0M101.8 1138.4h0M93.2 1059.6h0M458.1 1060.1h0M216.6 1229.5h0M437.8 1176.7h0M146.5 1078.5h0M45.3 1207.2h0M439.1 1258.5h0M164.3 1227.1h0M450.4 1054.3h0M327.1 1179.7h0M401.9 1118.4h0M164.7 1126.0h0M345.6 1063.1h0M393.1 1048.7h0M330.1 1256.6h0M443.1 1130.0h0M434.7 1058.4h0M451.5 1129.8h0M346.0 1056.2h0M436.7 1199.4h0M82.9 1171.3h0M154.7 1194.6h0M86.5 1223.7h0M28.1 1233.2h0M319.0 1262.9h0M464.5 1190.6h0M307.0 1258.4h0M466.1 1260.0h0M395.8 1065.5h0M302.3 1113.7h0M201.1 1135.9h0M108.2 1132.7h0M458.3 1041.8h0M450.9 1114.2h0M431.4 1211.5h0M170.9 1142.8h0M362.4 1181.3h0M396.6 1171.5h0M22.4 1111.6h0M144.9 1201.1h0M141.5 1107.8h0M168.5 1255.4h0M175.9 1253.1h0M25.3 1143.6h0M252.7 1258.3h0M450.5 1069.0h0M301.3 1135.8h0M115.2 1244.8h0M464.8 1040.0h0M421.0 1143.3h0M424.0 1120.0h0M70.9 1113.4h0M341.6 1124.2h0M168.6 1165.5h0M384.4 1244.4h0M189.7 1030.6h0M130.3 1053.6h0M463.5 1186.3h0" stroke="#b8144a" stroke-width="2.9" stroke-linecap="round"/>
<path d="M427.6 1226.9h0M111.5 1135.4h0M52.7 1179.1h0M398.1 1117.7h0M377.5 1170.8h0M435.8 1119.9h0M348.4 1241.5h0M71.3 1054.4h0M161.0 1206.6h0M474.5 1072.7h0M60.7 1136.9h0M387.0 1188.7h0M421.7 1071.8h0M96.6 1055.7h0M224.9 1102.4h0M157.3 1138.2h0M102.4 1138.0h0M458.7 1059.7h0M438.4 1176.3h0M45.9 1206.8h0M164.9 1226.7h0M327.7 1179.3h0M165.3 1125.6h0M393.7 1048.3h0M443.7 1129.6h0M452.1 1129.4h0M437.3 1199.0h0M155.3 1194.2h0M28.7 1232.8h0M465.1 1190.2h0M466.7 1259.6h0M302.9 1113.3h0M108.8 1132.3h0M451.5 1113.8h0M171.5 1142.4h0M397.2 1171.1h0M145.5 1200.7h0M169.1 1255.0h0M25.9 1143.2h0M451.1 1068.6h0M115.8 1244.4h0M421.6 1142.9h0M71.5 1113.0h0M169.2 1165.1h0M190.3 1030.2h0M464.1 1185.9h0" stroke="#6a0a28" stroke-width="2.0" stroke-linecap="round"/>
<path d="M265.9 1023.9h0M349.9 1147.3h0M406.7 1151.8h0M395.7 1132.7h0M164.5 1247.3h0M116.7 1205.6h0M303.1 1224.1h0M42.2 1212.7h0M290.9 1223.1h0M302.8 1219.8h0M240.5 1240.3h0M410.5 1207.3h0M48.0 1063.5h0M25.9 1146.5h0M446.7 1193.7h0M405.3 1145.2h0M34.0 1145.0h0M349.0 1098.2h0M287.5 1060.8h0M82.7 1243.6h0M207.7 1109.2h0M292.2 1024.3h0M297.0 1107.6h0M109.9 1267.8h0M22.4 1022.7h0M46.2 1265.1h0M128.1 1065.4h0M161.2 1026.6h0M112.2 1266.5h0M174.5 1083.1h0M63.8 1261.3h0M198.4 1082.7h0M171.4 1106.5h0M155.2 1263.4h0M192.7 1082.5h0M414.8 1223.0h0M380.7 1227.5h0M76.1 1117.5h0M62.6 1048.3h0M276.3 1219.9h0M57.3 1057.3h0M391.3 1110.2h0M188.6 1068.4h0M469.3 1242.8h0M186.5 1088.0h0M266.2 1155.3h0M46.3 1186.1h0M96.3 1083.8h0M100.6 1160.3h0M450.5 1197.5h0M475.4 1264.0h0M311.0 1125.8h0M306.3 1103.9h0M368.6 1105.3h0M220.3 1157.7h0M447.6 1096.9h0M124.7 1120.2h0M437.4 1177.9h0M26.1 1202.2h0M288.3 1198.8h0M301.0 1182.2h0M366.7 1053.2h0M100.7 1186.6h0M174.7 1071.9h0M441.5 1230.0h0M107.9 1242.4h0M153.5 1087.0h0M283.0 1256.5h0M472.5 1176.1h0M169.4 1201.1h0M96.4 1199.8h0M73.9 1184.6h0M472.3 1052.3h0M134.5 1165.2h0M359.6 1262.0h0M50.0 1224.3h0M214.5 1130.8h0M286.3 1263.5h0M355.8 1243.1h0M309.4 1129.0h0M211.7 1230.4h0M93.3 1084.4h0M208.1 1054.5h0M231.0 1143.2h0M162.7 1220.6h0M83.6 1192.6h0M424.8 1095.4h0M106.2 1141.3h0M191.1 1210.5h0M229.9 1200.4h0M93.3 1255.5h0M377.4 1055.3h0M91.1 1202.5h0M400.6 1184.6h0M29.1 1088.7h0" stroke="#dca0b4" stroke-width="2.0" stroke-linecap="round" stroke-opacity="0.6"/>
<rect x="16.5" y="1277" width="60" height="5.6" fill="#3a3a3a"/>
</g>
<clipPath id="clip11"><rect x="505" y="1015" width="469" height="273"/></clipPath>
<g clip-path="url(#clip11)">
<rect x="505" y="1015" width="469" height="273" fill="#f1f1ed"/>
<path d="M505.0 1290.0 L505.0 1262.0 L512.9 1262.4 L520.9 1262.7 L528.8 1263.1 L536.8 1263.4 L544.7 1263.8 L552.7 1264.1 L560.6 1264.5 L568.6 1264.8 L576.5 1265.2 L584.5 1265.5 L592.4 1265.9 L600.4 1266.2 L608.3 1266.6 L616.3 1266.9 L624.2 1267.3 L632.2 1267.7 L640.1 1268.0 L648.1 1268.5 L656.0 1269.0 L664.0 1269.5 L671.9 1270.0 L679.9 1270.5 L687.8 1270.9 L695.8 1271.4 L703.7 1271.9 L711.7 1272.4 L719.6 1272.9 L727.6 1273.4 L735.5 1273.9 L743.5 1274.4 L751.4 1274.6 L759.4 1274.3 L767.3 1273.9 L775.3 1273.6 L783.2 1273.3 L791.2 1272.9 L799.1 1272.6 L807.1 1272.2 L815.0 1271.9 L823.0 1271.6 L830.9 1271.2 L838.9 1270.9 L846.8 1270.6 L854.8 1270.2 L862.7 1269.9 L870.7 1269.4 L878.6 1269.0 L886.6 1268.6 L894.5 1268.2 L902.5 1267.8 L910.4 1267.3 L918.4 1266.9 L926.3 1266.5 L934.3 1266.1 L942.2 1265.7 L950.2 1265.3 L958.1 1264.8 L966.1 1264.4 L974.0 1264.0 L974.0 1290.0Z" fill="#f5f8f6"/>
<path d="M565.3 1213.7h0M739.2 1209.3h0M787.1 1050.5h0M518.5 1263.7h0M574.4 1177.5h0M940.3 1259.6h0M538.0 1218.7h0M565.9 1257.5h0M949.8 1235.6h0M796.7 1214.6h0M678.1 1178.7h0M815.9 1083.6h0M634.1 1264.8h0M569.7 1232.7h0M874.6 1083.9h0M819.4 1043.5h0M745.3 1254.3h0M888.0 1018.7h0M965.0 1208.2h0M600.9 1131.0h0M764.7 1264.5h0M731.8 1191.4h0M782.5 1203.6h0M615.4 1167.3h0M881.2 1036.9h0M911.8 1255.6h0M565.4 1047.0h0M724.1 1090.3h0M635.0 1192.0h0M544.0 1201.8h0M925.2 1267.7h0M706.6 1273.2h0M574.3 1266.6h0M820.8 1230.7h0M599.8 1119.3h0M927.8 1212.6h0M606.8 1057.5h0M520.5 1103.6h0M667.2 1189.6h0M724.9 1268.5h0M930.0 1060.3h0M832.1 1178.5h0M664.1 1065.2h0M512.9 1207.9h0M580.0 1268.1h0M972.3 1134.2h0M720.6 1019.8h0M829.1 1105.8h0M530.6 1038.7h0M521.0 1139.9h0M901.7 1233.9h0M649.8 1090.9h0M653.8 1055.7h0M546.9 1027.9h0M586.0 1099.0h0M516.5 1085.4h0M898.5 1071.6h0M723.7 1256.5h0M564.7 1093.1h0M851.7 1058.3h0M596.8 1056.2h0M534.0 1213.0h0M785.6 1132.5h0M925.1 1120.9h0M517.6 1207.4h0M882.6 1187.5h0M594.2 1141.1h0M548.6 1184.2h0M513.4 1099.2h0M642.4 1132.9h0M846.0 1199.5h0M736.3 1020.9h0M905.0 1126.4h0M606.9 1119.3h0M652.8 1103.2h0M626.1 1151.8h0M963.8 1203.1h0M946.3 1216.7h0M664.8 1225.3h0M709.5 1184.3h0M652.4 1019.2h0M855.1 1082.4h0M523.8 1197.3h0M536.6 1047.0h0M694.5 1173.3h0M619.9 1019.2h0M901.4 1244.0h0M852.9 1060.6h0M815.2 1048.0h0M829.7 1063.2h0M871.3 1143.6h0M940.0 1157.4h0M575.2 1250.8h0M798.7 1071.6h0M572.4 1255.8h0M712.8 1079.7h0M873.8 1122.6h0M861.1 1155.3h0M521.6 1084.5h0M673.6 1138.7h0M581.5 1239.5h0M973.4 1252.7h0M572.5 1045.8h0M619.6 1155.7h0M672.5 1117.5h0M533.6 1037.7h0M913.2 1135.0h0M803.5 1095.5h0M579.9 1216.6h0M541.9 1138.6h0M791.5 1109.0h0M613.7 1129.9h0M523.1 1133.3h0M803.7 1119.9h0M657.3 1107.1h0M806.8 1134.3h0M670.1 1270.0h0M566.3 1177.9h0M690.4 1071.1h0M933.0 1157.2h0M559.2 1211.9h0M545.4 1240.3h0M956.8 1125.8h0M930.5 1253.1h0M833.4 1182.5h0M536.3 1053.7h0M883.2 1129.8h0M825.5 1152.0h0M572.5 1015.5h0M723.1 1129.9h0M528.1 1144.4h0M842.0 1156.4h0M882.4 1158.9h0M861.6 1035.9h0M630.3 1025.2h0M875.4 1140.6h0M621.9 1187.1h0M569.7 1074.5h0M688.1 1171.5h0M639.1 1089.8h0M789.1 1157.4h0M787.6 1098.9h0M617.5 1136.4h0M797.0 1209.6h0M672.6 1063.7h0M849.6 1194.0h0M879.6 1240.2h0M699.7 1117.4h0M820.8 1045.8h0M625.8 1219.2h0M964.3 1075.4h0M550.0 1118.7h0M657.4 1180.1h0M518.5 1184.3h0M577.7 1219.4h0M879.9 1247.2h0M872.6 1143.2h0M803.7 1019.1h0M927.9 1235.1h0M859.3 1044.8h0M645.1 1159.7h0M807.4 1209.8h0M664.5 1235.4h0M856.7 1159.8h0M685.5 1187.8h0M916.1 1225.3h0M828.8 1092.6h0M854.3 1270.2h0M872.2 1097.5h0M715.1 1090.4h0M534.3 1154.1h0M765.3 1245.7h0M887.0 1139.7h0M835.9 1209.2h0M881.7 1106.5h0M918.3 1103.5h0M555.8 1122.1h0M915.7 1205.9h0M679.1 1078.3h0M547.7 1148.6h0M795.5 1217.6h0M718.3 1017.8h0M705.9 1126.6h0M904.6 1225.9h0M569.6 1194.2h0M794.3 1237.5h0M699.0 1085.2h0M567.9 1038.0h0M745.1 1229.6h0M909.3 1096.6h0M585.3 1215.1h0M510.4 1225.5h0M536.7 1235.0h0M720.6 1094.2h0M962.0 1233.9h0M525.7 1081.7h0M969.7 1196.4h0M561.3 1229.4h0M701.3 1032.2h0M602.3 1211.1h0M839.9 1187.7h0M640.1 1174.2h0M624.8 1207.8h0M911.6 1235.5h0M864.4 1282.9h0M709.6 1080.5h0M695.2 1131.2h0M850.9 1115.1h0M960.3 1195.8h0M542.3 1066.8h0M579.6 1167.8h0M674.9 1080.1h0M538.5 1220.9h0M530.1 1164.7h0M607.9 1227.5h0M686.0 1195.9h0M851.7 1247.2h0M791.0 1145.0h0M518.7 1018.5h0M526.1 1287.9h0M717.0 1077.7h0M915.3 1239.9h0M934.1 1069.4h0M676.2 1154.4h0M921.2 1093.8h0M940.8 1194.4h0M695.7 1036.7h0M854.9 1034.7h0M676.3 1141.0h0M577.0 1246.8h0M545.5 1047.2h0M884.5 1043.9h0M934.3 1099.7h0M715.1 1169.5h0M560.1 1088.6h0M928.3 1205.9h0M913.2 1129.5h0M958.8 1232.0h0M783.6 1037.5h0M820.8 1239.5h0M680.1 1261.5h0M590.9 1084.3h0M641.8 1079.9h0M843.0 1255.8h0M657.4 1127.9h0M829.4 1123.6h0M715.6 1164.9h0M958.8 1236.9h0M582.9 1197.8h0M733.5 1207.6h0M579.9 1132.5h0M944.7 1155.2h0M734.2 1248.4h0M660.7 1251.6h0M583.9 1181.9h0M783.6 1176.4h0M692.1 1097.8h0M564.6 1146.1h0M520.2 1068.6h0M688.5 1147.6h0M778.5 1031.4h0M927.1 1092.9h0M932.5 1144.3h0M944.1 1201.2h0M880.1 1041.7h0M729.0 1189.9h0M691.3 1060.3h0M692.4 1052.9h0M524.5 1042.7h0M879.6 1187.6h0M620.4 1123.2h0M518.8 1025.5h0M723.8 1046.8h0M841.7 1114.2h0M709.5 1029.2h0M675.8 1231.5h0M813.8 1067.9h0M581.4 1236.2h0M510.3 1024.6h0M782.8 1107.3h0M753.8 1268.8h0M911.1 1056.4h0M700.0 1025.0h0M873.7 1243.7h0M513.4 1232.5h0M517.8 1150.5h0M785.7 1049.4h0M611.1 1095.0h0M536.5 1136.3h0M680.8 1073.3h0M663.1 1195.4h0M921.3 1252.7h0M676.5 1199.0h0M591.4 1117.3h0M506.0 1144.7h0M685.5 1175.7h0M653.8 1160.3h0M686.7 1043.0h0M528.8 1226.1h0M797.7 1185.6h0M856.5 1099.9h0M954.0 1137.1h0M812.8 1018.8h0M712.3 1189.6h0M605.9 1066.5h0M854.8 1239.0h0M947.2 1242.2h0M890.3 1243.7h0M935.3 1108.9h0M565.1 1153.2h0M598.1 1143.6h0M698.3 1271.6h0M827.5 1237.2h0M710.6 1148.3h0M861.9 1156.9h0M538.1 1088.4h0M823.1 1110.5h0M527.9 1131.7h0M621.6 1160.5h0M843.7 1254.1h0M825.4 1147.3h0M695.1 1167.5h0M643.1 1208.0h0M893.4 1233.2h0M519.6 1216.7h0M621.0 1178.5h0M514.9 1210.8h0M885.2 1048.4h0M562.3 1216.8h0M961.8 1074.8h0M604.9 1255.4h0M648.5 1253.1h0M779.5 1186.5h0M649.5 1271.1h0M682.9 1029.0h0M553.9 1035.7h0M687.5 1150.4h0M516.8 1069.1h0M610.0 1021.1h0M636.7 1129.4h0M632.1 1244.3h0M823.6 1092.9h0M919.1 1187.5h0M643.8 1033.9h0M681.5 1184.0h0M840.2 1207.8h0M876.5 1183.5h0M792.9 1146.3h0M588.9 1216.6h0M589.8 1076.5h0M860.5 1199.2h0M836.5 1093.3h0M925.4 1032.8h0M870.7 1117.2h0M702.6 1220.4h0M567.5 1060.2h0M922.6 1226.6h0M831.2 1112.6h0M824.8 1034.0h0M685.6 1060.7h0M666.0 1196.9h0M774.9 1264.5h0M731.4 1087.9h0M837.5 1202.9h0M944.0 1255.2h0M902.4 1246.0h0M679.7 1044.5h0M939.7 1197.5h0M690.1 1094.6h0M880.3 1026.6h0M548.5 1151.3h0M884.3 1086.5h0M576.6 1198.3h0M794.4 1057.9h0M800.1 1020.6h0M576.1 1037.5h0M895.9 1037.5h0M764.6 1257.0h0M956.0 1206.9h0M592.4 1064.6h0M656.7 1137.6h0M806.3 1250.8h0M657.4 1022.4h0M679.6 1029.9h0M922.8 1128.1h0M721.5 1189.1h0M727.9 1155.9h0M626.3 1065.7h0M624.0 1093.3h0M952.4 1162.3h0M652.3 1056.6h0M912.3 1268.8h0M784.0 1084.2h0M964.9 1245.6h0M582.0 1068.5h0M946.6 1151.3h0M867.3 1238.8h0M837.5 1051.9h0M843.8 1085.6h0M715.3 1119.6h0M802.6 1153.0h0M515.0 1110.3h0M822.3 1113.5h0M727.5 1161.7h0M929.7 1077.3h0M628.8 1241.7h0M888.6 1015.1h0M967.6 1220.0h0M926.2 1264.4h0M957.3 1105.4h0M579.6 1223.7h0M582.4 1213.3h0M612.1 1227.5h0M674.5 1196.7h0M559.1 1164.3h0M575.7 1092.5h0M513.7 1131.0h0M942.7 1046.5h0M674.3 1188.5h0M798.6 1155.5h0M718.2 1033.1h0M853.5 1045.3h0M883.1 1104.5h0M684.6 1068.6h0M550.7 1226.3h0M638.9 1104.6h0M609.5 1032.7h0M649.7 1266.1h0M657.2 1275.3h0M774.7 1240.6h0M661.1 1138.5h0M894.9 1262.9h0M510.7 1191.8h0M507.5 1205.3h0M531.8 1212.0h0M910.9 1164.4h0M802.2 1255.4h0M846.4 1250.8h0M954.2 1220.3h0M607.2 1208.1h0M936.5 1142.1h0M618.8 1107.1h0M748.3 1278.8h0M824.4 1173.1h0M878.9 1271.5h0M621.4 1075.7h0M728.7 1060.2h0M526.4 1216.3h0M640.0 1197.1h0M965.1 1128.5h0M929.5 1156.4h0M778.0 1268.7h0M873.9 1200.8h0M928.1 1165.2h0M660.6 1091.6h0M964.9 1061.2h0M715.4 1118.6h0M579.5 1098.2h0M829.9 1250.0h0M819.7 1092.0h0M524.4 1097.1h0M804.7 1178.3h0M937.2 1246.8h0M819.3 1098.2h0M962.4 1091.6h0M885.0 1225.6h0M570.8 1139.2h0M925.0 1018.6h0M709.7 1202.5h0M916.2 1257.4h0M655.5 1203.9h0M797.8 1024.1h0M902.1 1089.1h0M838.6 1158.0h0M795.7 1150.5h0M960.2 1036.6h0M546.3 1092.7h0M552.8 1125.6h0M952.7 1283.5h0M827.0 1210.8h0M650.2 1159.1h0M555.5 1017.5h0M715.2 1023.8h0M730.3 1226.4h0M724.6 1169.6h0M795.5 1199.3h0M632.9 1050.1h0M640.2 1155.3h0M555.2 1171.7h0M668.7 1201.1h0M943.9 1187.7h0M579.8 1229.8h0M635.2 1072.3h0M939.6 1031.9h0M668.3 1130.4h0M900.4 1227.9h0M526.3 1221.0h0M921.7 1121.2h0M616.3 1218.9h0M589.7 1226.7h0M853.1 1232.1h0M954.9 1141.2h0M857.8 1214.3h0M933.8 1264.9h0M967.9 1094.4h0M572.8 1107.3h0M903.4 1196.6h0M690.7 1052.7h0M651.6 1066.9h0M521.4 1189.2h0M513.8 1022.2h0M629.0 1146.9h0M784.5 1218.1h0M856.5 1089.1h0M953.9 1067.7h0M946.4 1070.4h0M803.4 1174.9h0M849.2 1141.6h0M780.5 1262.4h0M543.2 1187.2h0M534.0 1146.7h0M861.5 1084.3h0M599.9 1243.7h0M875.4 1100.6h0M722.6 1236.4h0M508.3 1205.7h0M712.8 1287.0h0M539.7 1191.0h0M627.4 1178.3h0M648.8 1207.8h0M667.1 1060.7h0M836.5 1134.9h0M583.5 1015.1h0M712.9 1052.2h0M789.6 1024.5h0M948.8 1171.6h0M558.9 1103.9h0M542.2 1062.3h0M594.9 1124.1h0M608.5 1274.4h0M581.3 1030.3h0M540.6 1045.5h0M603.3 1254.3h0M609.8 1074.4h0M729.9 1196.9h0M808.8 1039.0h0M675.7 1025.1h0M583.9 1183.5h0M549.4 1217.6h0M628.4 1070.1h0M585.1 1141.5h0M730.6 1058.6h0M913.5 1241.2h0M841.0 1051.8h0M600.3 1168.6h0M536.7 1072.7h0M709.4 1214.0h0M675.5 1149.8h0M825.1 1250.0h0M544.3 1250.9h0M624.4 1151.3h0M826.6 1143.4h0M771.4 1225.0h0M927.9 1105.1h0M596.7 1152.5h0M964.7 1124.5h0M963.4 1151.4h0M780.4 1109.2h0M860.9 1140.2h0M787.5 1084.9h0M648.4 1099.3h0M673.4 1118.2h0M578.3 1078.1h0M508.9 1075.6h0M905.4 1147.5h0M841.3 1128.8h0M857.8 1036.2h0M640.1 1157.2h0M700.8 1144.3h0M787.4 1247.6h0M898.6 1190.3h0M870.3 1157.9h0M943.0 1045.8h0M627.2 1190.9h0M833.9 1269.7h0M756.5 1268.7h0M556.7 1216.5h0M667.7 1075.7h0M668.9 1122.6h0M838.5 1046.7h0M730.6 1098.4h0M557.9 1218.7h0M637.4 1207.0h0M902.3 1058.2h0M960.9 1153.3h0M680.0 1149.2h0M913.4 1267.7h0M914.8 1197.9h0M607.3 1097.4h0M633.4 1085.8h0M831.4 1044.2h0M648.5 1151.2h0M953.0 1186.3h0M676.2 1123.9h0M847.5 1271.3h0M836.7 1220.4h0M605.2 1165.1h0M911.1 1123.1h0M659.2 1194.3h0M556.6 1203.7h0M528.5 1215.8h0M716.9 1100.7h0M801.9 1125.0h0M632.3 1079.3h0M899.9 1052.6h0M630.5 1099.4h0M902.5 1086.0h0M520.5 1092.4h0M628.2 1145.8h0M579.8 1119.8h0M715.0 1215.0h0M669.5 1085.3h0M690.1 1210.2h0M904.4 1257.9h0M776.8 1151.4h0M789.0 1235.1h0M687.9 1036.2h0M884.0 1086.4h0M854.9 1149.7h0M933.8 1118.5h0M792.0 1146.8h0M709.1 1078.0h0M628.6 1024.5h0M932.7 1222.3h0M863.7 1271.1h0M880.0 1067.2h0M608.8 1216.6h0M709.8 1110.9h0M919.4 1217.4h0M620.4 1179.2h0M886.7 1221.3h0M607.6 1092.0h0M681.1 1255.1h0M540.8 1071.1h0M820.7 1232.1h0M845.9 1058.1h0M518.6 1069.8h0M646.4 1132.4h0M865.6 1071.6h0M599.0 1235.4h0M883.0 1109.5h0M562.3 1233.6h0M855.2 1161.4h0M661.1 1077.5h0M778.1 1181.8h0M688.6 1055.2h0M560.7 1246.1h0M562.3 1244.9h0M526.3 1212.8h0M620.2 1137.9h0M777.1 1069.5h0M782.0 1085.1h0M890.5 1160.1h0M549.6 1257.4h0M687.4 1017.6h0M542.2 1248.7h0M701.4 1116.8h0M542.0 1250.6h0M536.1 1249.0h0M553.9 1257.2h0M687.9 1168.9h0M862.9 1047.9h0M637.2 1097.3h0M852.9 1111.7h0M614.4 1192.4h0M639.7 1107.7h0M726.1 1148.9h0M540.2 1113.6h0M715.5 1184.5h0M778.7 1056.7h0M891.7 1121.2h0M531.3 1254.9h0M880.2 1093.0h0M776.2 1227.3h0M529.0 1204.4h0M917.7 1142.3h0M635.1 1035.2h0M761.3 1251.8h0M757.6 1266.2h0M931.8 1230.9h0M787.1 1224.0h0M969.9 1256.5h0M613.9 1253.5h0M815.6 1144.6h0M799.4 1051.5h0M663.0 1202.9h0M805.9 1216.4h0M544.1 1204.1h0M729.7 1173.0h0M717.4 1057.3h0M605.0 1118.1h0M771.4 1274.6h0M563.6 1095.5h0M644.3 1117.2h0M534.1 1065.4h0M785.1 1113.0h0M543.3 1137.2h0M612.6 1092.1h0M715.0 1262.6h0M716.9 1036.0h0M520.5 1134.7h0M949.3 1034.1h0M612.9 1113.1h0M791.1 1223.4h0M609.2 1042.5h0M784.4 1173.2h0M670.4 1171.3h0M654.4 1170.2h0M727.5 1152.1h0M780.0 1183.9h0M785.5 1087.1h0M827.9 1087.2h0M631.0 1226.8h0M548.0 1062.6h0M623.8 1239.9h0M658.2 1260.1h0M789.9 1170.4h0M699.3 1091.5h0M651.0 1134.2h0M551.1 1154.7h0M784.8 1205.2h0M556.6 1271.5h0M827.8 1071.1h0M797.2 1099.4h0M671.9 1073.0h0M946.3 1084.0h0M547.6 1023.7h0M823.3 1182.2h0M709.7 1143.8h0M792.7 1240.1h0M689.7 1190.2h0M563.1 1193.3h0M507.9 1140.0h0M910.2 1096.0h0M879.6 1020.1h0M680.3 1123.3h0M964.5 1117.8h0M525.5 1157.5h0M644.6 1118.9h0M695.9 1073.8h0M874.3 1220.6h0M847.4 1101.6h0M703.6 1111.6h0M510.5 1076.0h0M808.9 1034.3h0M695.8 1221.2h0M559.8 1139.2h0M800.9 1166.0h0M713.7 1253.1h0M648.7 1255.9h0M631.2 1173.1h0M749.3 1273.3h0M621.2 1163.1h0M689.5 1255.5h0M946.8 1143.4h0M729.1 1087.6h0M623.9 1151.1h0M935.2 1118.9h0M911.3 1077.6h0M822.6 1138.6h0M926.7 1040.2h0M859.9 1133.7h0M824.0 1170.7h0M848.3 1194.9h0M802.5 1139.1h0M958.9 1219.6h0M655.5 1266.8h0M916.2 1203.6h0M607.5 1067.2h0M948.8 1181.3h0M972.0 1151.0h0M527.1 1265.0h0M657.3 1196.8h0M959.1 1027.7h0M819.5 1205.6h0M568.1 1074.4h0M508.1 1142.7h0M621.9 1245.4h0M882.5 1075.6h0M706.0 1250.0h0M862.0 1050.9h0M928.2 1098.4h0M645.7 1074.4h0M631.4 1044.1h0M659.2 1233.9h0M526.0 1157.9h0M580.1 1211.9h0M516.2 1141.0h0M584.7 1094.5h0M856.2 1192.5h0M565.0 1037.7h0M602.1 1037.0h0M631.1 1193.0h0M778.3 1087.1h0M884.2 1249.4h0M858.3 1169.4h0M852.6 1255.6h0M824.7 1247.1h0M589.4 1082.3h0M910.1 1168.5h0M696.9 1050.2h0M809.9 1209.1h0M537.0 1238.9h0M674.3 1259.5h0M552.1 1159.6h0M671.3 1267.9h0M848.9 1119.1h0M665.0 1111.7h0M824.9 1215.5h0M562.8 1266.0h0M685.6 1036.9h0M697.3 1154.0h0M612.1 1024.0h0M832.7 1045.2h0M918.8 1239.0h0M519.5 1170.6h0M733.9 1080.7h0M544.1 1051.4h0M847.2 1230.1h0M700.5 1206.1h0M947.7 1203.5h0M513.9 1119.8h0M700.9 1092.1h0M733.3 1077.5h0M894.8 1179.5h0M859.7 1100.7h0M590.4 1213.3h0M649.3 1264.6h0M850.1 1245.9h0M701.8 1024.4h0M628.4 1191.6h0M941.5 1029.1h0M900.4 1096.1h0M671.7 1096.5h0M940.8 1026.8h0M606.6 1077.7h0M919.8 1023.1h0M845.7 1109.0h0M826.8 1148.8h0M826.3 1044.7h0M778.1 1185.5h0M597.6 1105.2h0M820.6 1272.7h0M732.7 1041.3h0M823.6 1198.2h0M719.9 1021.7h0M881.8 1121.4h0M843.1 1211.0h0M865.8 1141.4h0M638.6 1186.8h0M543.2 1148.2h0M561.9 1047.4h0M657.0 1039.6h0M659.9 1253.7h0M600.4 1085.0h0M865.8 1219.0h0M680.3 1186.5h0M914.9 1106.9h0M619.7 1194.4h0M828.6 1032.4h0M672.7 1084.6h0M903.5 1119.1h0M808.2 1190.3h0M823.3 1024.9h0M548.6 1026.6h0M857.4 1268.1h0M671.2 1159.6h0M852.2 1259.8h0M901.4 1287.1h0M562.4 1060.5h0M512.2 1118.1h0M959.2 1017.1h0M927.3 1283.2h0M896.0 1221.1h0M516.0 1121.3h0M532.4 1199.8h0M777.7 1020.7h0M891.9 1024.8h0M614.5 1131.8h0M722.0 1201.6h0M969.1 1020.4h0M647.0 1259.5h0M694.7 1039.3h0M789.9 1079.6h0M971.7 1121.3h0M590.7 1045.6h0M829.1 1219.2h0M699.3 1200.5h0M692.9 1175.9h0M625.4 1132.2h0M723.3 1177.6h0M689.0 1196.8h0M742.2 1259.3h0M803.3 1226.1h0M904.5 1115.1h0M768.1 1256.8h0M684.4 1100.2h0M955.9 1200.5h0M585.9 1216.9h0M526.3 1127.3h0M931.0 1250.0h0M576.1 1047.8h0M685.7 1027.4h0M665.8 1095.2h0M671.3 1022.2h0M641.2 1088.5h0M567.2 1057.7h0M606.2 1174.9h0M950.4 1275.8h0M706.1 1253.2h0M674.2 1254.0h0M869.6 1069.0h0M943.8 1088.2h0M887.0 1205.7h0M629.1 1112.2h0M669.4 1196.0h0M615.9 1217.6h0M634.1 1050.1h0M628.0 1088.3h0M898.6 1148.4h0M877.8 1239.3h0M558.4 1187.4h0M668.6 1037.1h0M843.7 1267.7h0M908.2 1215.7h0M767.7 1220.7h0M845.8 1154.6h0M616.3 1059.9h0M871.7 1193.9h0M890.0 1099.9h0M695.9 1242.5h0M615.6 1104.6h0M520.5 1198.0h0M800.3 1162.8h0M801.7 1057.0h0M505.6 1201.3h0M945.1 1031.3h0M518.5 1175.4h0M569.4 1191.8h0M532.1 1244.0h0M709.7 1101.9h0M685.5 1241.5h0M913.1 1217.2h0M536.2 1067.1h0M599.0 1218.7h0M944.9 1137.4h0M513.9 1070.7h0M626.5 1081.3h0M689.9 1106.4h0M505.3 1216.7h0M639.7 1056.8h0M787.8 1190.5h0M793.6 1237.8h0M790.5 1156.4h0M810.2 1262.9h0M793.2 1211.4h0M521.2 1155.8h0M778.8 1165.3h0M607.1 1055.5h0M701.8 1073.5h0M616.5 1239.9h0M912.1 1248.5h0M635.8 1122.6h0M581.4 1113.3h0M878.6 1071.2h0M862.0 1246.2h0M822.7 1271.6h0M700.5 1135.9h0M728.0 1258.7h0M784.5 1034.3h0M948.3 1168.1h0M629.5 1109.0h0M865.4 1146.2h0M512.9 1034.8h0M594.2 1062.6h0M947.9 1148.4h0M622.8 1153.2h0M934.8 1216.6h0M812.0 1120.0h0M734.1 1138.3h0M834.2 1092.0h0M963.9 1057.5h0M946.4 1124.6h0M590.0 1173.7h0M640.0 1216.9h0M573.1 1236.5h0M863.3 1240.3h0M896.0 1269.8h0M571.0 1265.7h0M539.3 1063.3h0M656.8 1101.8h0M827.2 1087.8h0M866.2 1234.2h0M721.1 1147.9h0M804.7 1273.1h0M935.3 1171.5h0M917.8 1022.7h0M560.2 1081.2h0M839.5 1125.0h0M869.2 1051.5h0M930.5 1168.3h0M701.1 1027.9h0M578.2 1081.5h0M727.2 1018.2h0M678.6 1047.6h0M689.7 1207.9h0M881.5 1152.4h0M824.0 1051.0h0M811.1 1066.9h0M571.4 1031.6h0M532.4 1069.3h0M690.3 1095.5h0M903.5 1132.3h0M809.2 1083.0h0M876.1 1061.4h0M796.9 1118.8h0M872.9 1028.8h0M972.2 1239.9h0M839.5 1170.7h0M909.1 1154.0h0M961.3 1142.3h0M852.3 1166.6h0M541.9 1119.5h0M522.1 1170.1h0M938.1 1072.1h0M616.5 1122.8h0M648.2 1040.9h0M568.4 1251.2h0M802.6 1200.7h0M518.9 1224.8h0M879.8 1223.0h0M644.9 1051.5h0M853.9 1188.5h0M932.1 1055.1h0M828.8 1183.8h0M704.1 1051.6h0M798.1 1058.1h0M906.1 1048.8h0M838.6 1161.7h0M623.3 1047.2h0M508.6 1114.4h0M917.6 1131.0h0M534.8 1228.1h0M781.2 1215.1h0M642.6 1018.0h0M920.5 1115.5h0M617.4 1093.3h0M572.5 1195.5h0M650.1 1050.4h0M919.6 1103.5h0M813.2 1253.4h0M562.2 1246.9h0M689.6 1142.4h0M553.2 1015.7h0M836.0 1047.5h0M906.0 1120.5h0M548.8 1216.5h0M638.7 1262.4h0M855.2 1103.9h0M963.2 1285.0h0M635.8 1159.1h0M650.5 1025.0h0M534.1 1115.5h0M787.6 1128.3h0M577.9 1064.3h0M827.5 1260.8h0M855.4 1099.4h0M571.8 1226.0h0M784.7 1074.4h0M602.7 1133.6h0M862.9 1119.5h0M639.1 1224.3h0M828.4 1114.8h0M808.9 1075.8h0M774.8 1243.6h0M607.1 1192.5h0M896.3 1061.4h0M671.4 1080.0h0M866.4 1042.0h0M727.8 1242.5h0M715.1 1129.4h0M839.0 1241.8h0M664.9 1174.3h0M863.1 1231.7h0M713.7 1221.4h0M852.3 1142.2h0M832.1 1084.9h0M948.4 1121.6h0M696.7 1160.0h0M971.6 1093.2h0M701.3 1085.0h0M833.6 1187.6h0M622.3 1215.7h0M954.2 1015.2h0M858.6 1213.9h0M809.4 1252.1h0M641.9 1262.0h0M884.6 1253.6h0M936.1 1119.2h0M876.2 1055.1h0M932.9 1108.2h0M548.2 1255.5h0M852.6 1199.5h0M911.3 1152.9h0M728.3 1016.7h0M542.6 1034.7h0M618.8 1252.9h0M520.3 1181.6h0M943.9 1113.5h0M895.4 1016.6h0" stroke="#8eaed3" stroke-width="2.0" stroke-linecap="round" stroke-opacity="0.9"/>
<path d="M802.6 1072.5h0M856.1 1183.0h0M819.9 1094.8h0M722.1 1161.6h0M561.9 1026.0h0M640.4 1162.4h0M778.0 1021.0h0M646.4 1239.1h0M564.7 1229.9h0M665.6 1046.4h0M592.1 1185.9h0M941.4 1249.5h0M608.6 1155.0h0M689.8 1220.5h0M623.3 1031.3h0M764.2 1224.4h0M528.0 1093.9h0M949.3 1245.5h0M573.5 1146.7h0M965.8 1134.1h0M583.9 1236.5h0M846.2 1197.9h0M731.3 1217.9h0M625.8 1180.8h0M683.0 1058.1h0M730.7 1222.7h0M679.0 1211.5h0M620.9 1214.6h0M700.1 1140.5h0M709.4 1130.7h0M827.6 1055.2h0M597.7 1237.6h0M526.3 1133.8h0M537.5 1089.2h0M801.1 1147.0h0M962.3 1180.8h0M921.3 1075.7h0M566.1 1120.1h0M585.4 1095.6h0M811.6 1040.8h0M582.7 1024.9h0M780.1 1286.0h0M821.6 1105.2h0M563.8 1208.0h0M875.6 1228.8h0M703.4 1190.0h0M958.6 1087.4h0M510.4 1198.1h0M541.9 1266.4h0M795.8 1139.9h0M625.6 1258.4h0M693.9 1250.1h0M931.3 1225.6h0M666.3 1205.1h0M572.1 1151.8h0M765.6 1266.0h0M868.4 1039.0h0M860.4 1208.6h0M726.2 1047.4h0M617.4 1116.1h0M565.3 1174.7h0M609.7 1204.1h0M599.0 1201.3h0M930.6 1063.9h0M696.2 1039.3h0M559.7 1053.9h0M804.3 1183.9h0M719.4 1063.8h0M518.6 1265.1h0M964.5 1200.6h0M948.8 1097.3h0M628.2 1187.2h0M895.7 1035.0h0M718.4 1180.1h0M821.0 1057.3h0M811.4 1187.6h0M848.3 1091.2h0M711.6 1166.1h0M573.7 1206.7h0M882.2 1075.0h0M711.6 1030.9h0M712.3 1053.8h0M861.1 1243.7h0M968.8 1172.4h0M686.9 1038.0h0M802.8 1178.4h0M544.3 1107.3h0M557.8 1062.2h0M624.5 1218.7h0M636.3 1251.2h0M714.3 1160.6h0M612.3 1171.7h0M944.0 1273.4h0M705.7 1015.8h0M684.3 1248.8h0M928.1 1268.7h0M878.2 1246.6h0M866.2 1165.4h0M933.7 1258.3h0M850.5 1150.6h0M648.3 1115.4h0M955.9 1151.0h0M517.7 1026.8h0M925.7 1023.2h0M701.7 1156.6h0M663.4 1176.0h0M727.6 1033.9h0M692.5 1223.4h0M908.5 1056.0h0M883.1 1073.2h0M855.2 1145.0h0M614.1 1226.4h0M711.3 1148.4h0M540.2 1260.8h0M853.2 1221.9h0M524.8 1168.4h0M690.7 1252.3h0M575.9 1109.7h0M904.6 1173.2h0M935.8 1190.8h0M640.8 1039.9h0M914.2 1086.8h0M838.5 1098.4h0M622.6 1263.3h0M714.0 1028.8h0M791.6 1083.2h0M669.7 1078.3h0M597.8 1015.6h0M780.7 1212.8h0M877.4 1078.8h0M972.0 1174.8h0M656.2 1041.2h0M625.8 1171.6h0M540.8 1150.2h0M601.0 1143.7h0M517.2 1230.4h0M622.1 1110.8h0M845.5 1210.3h0M558.8 1235.3h0M808.1 1081.5h0M643.3 1096.1h0M612.3 1182.2h0M731.8 1064.9h0M709.6 1016.4h0M714.5 1181.0h0M560.1 1207.1h0M928.1 1170.7h0M509.4 1144.5h0M543.0 1154.4h0M779.8 1270.6h0M654.4 1026.8h0M623.1 1065.4h0M968.4 1037.5h0M649.5 1184.1h0M936.9 1250.2h0M794.3 1161.7h0M519.2 1023.7h0M629.7 1152.4h0M540.5 1045.1h0M931.0 1097.9h0M529.7 1247.4h0M518.1 1205.0h0M633.0 1146.6h0M583.0 1065.8h0M959.1 1114.1h0M868.5 1038.1h0M945.5 1124.3h0M777.0 1179.6h0M890.1 1194.2h0M642.0 1118.3h0M811.1 1038.9h0M640.7 1250.7h0M722.7 1062.7h0M890.9 1103.7h0M608.5 1054.1h0M587.0 1208.9h0M904.4 1256.0h0M722.2 1072.6h0M586.5 1173.2h0M654.1 1021.7h0M636.6 1202.1h0M925.3 1054.5h0M726.7 1100.4h0M936.6 1165.9h0M725.6 1140.8h0M945.6 1226.4h0M934.9 1024.1h0M873.8 1069.3h0M639.7 1120.8h0M559.2 1247.0h0M724.3 1065.8h0M795.8 1070.9h0M865.0 1093.4h0M925.5 1176.1h0M600.7 1242.9h0M910.9 1153.9h0M797.1 1201.1h0M721.7 1184.1h0M902.6 1118.1h0M645.7 1161.3h0M508.8 1080.5h0M893.9 1096.9h0M815.3 1175.2h0M841.0 1116.3h0M563.2 1108.4h0M601.7 1054.2h0M798.3 1254.4h0M855.4 1156.2h0M815.1 1251.0h0M784.5 1176.8h0M812.1 1035.2h0M574.3 1024.8h0M716.4 1062.9h0M659.5 1115.9h0M850.3 1061.8h0M842.7 1265.2h0M830.9 1019.6h0M929.5 1035.5h0M906.6 1209.5h0M529.2 1214.8h0M818.2 1085.2h0M680.2 1035.5h0M552.3 1107.3h0M729.3 1204.7h0M900.5 1090.4h0M878.5 1153.4h0M554.6 1134.1h0M599.9 1258.9h0M830.9 1183.3h0M959.1 1109.4h0M541.2 1122.6h0M546.6 1049.2h0M831.2 1232.2h0M793.9 1067.0h0M885.4 1046.0h0M598.0 1103.8h0M880.6 1158.9h0M684.3 1017.6h0M692.4 1173.8h0M520.4 1217.2h0M879.2 1214.9h0M714.5 1071.0h0M682.3 1035.6h0M812.4 1116.9h0M905.0 1072.7h0M911.3 1276.2h0M665.6 1201.2h0M790.3 1098.7h0M686.7 1239.9h0M898.4 1178.9h0M877.2 1026.3h0M815.4 1074.3h0M891.2 1085.4h0M744.1 1265.0h0M581.3 1066.5h0M837.0 1246.3h0M640.2 1121.0h0M506.0 1166.1h0M691.4 1018.4h0M793.8 1125.2h0M800.8 1198.2h0M623.2 1195.2h0M811.9 1040.6h0M815.1 1019.1h0M781.7 1040.5h0M681.8 1189.2h0M576.3 1075.6h0M766.0 1238.1h0M529.3 1230.9h0M934.7 1050.1h0M670.4 1030.9h0M637.7 1197.4h0M716.4 1206.0h0M553.7 1257.2h0M919.7 1110.5h0M964.4 1022.3h0M891.1 1221.2h0M660.0 1097.9h0M723.1 1017.7h0M585.5 1030.4h0M704.2 1256.5h0M940.0 1111.6h0M816.1 1035.3h0M802.8 1113.4h0M791.0 1217.6h0M717.2 1180.9h0M552.5 1181.0h0M713.0 1122.8h0M821.5 1198.2h0M609.7 1082.2h0M634.9 1097.7h0M882.5 1061.1h0M568.7 1051.5h0M596.7 1125.1h0M888.9 1182.5h0M561.7 1175.0h0M645.9 1067.0h0M932.0 1121.0h0M698.7 1134.4h0M888.4 1074.5h0M863.6 1184.5h0M514.4 1108.0h0M608.0 1041.9h0M932.7 1201.7h0M655.7 1062.2h0M694.4 1111.3h0M943.4 1225.6h0M556.4 1049.8h0M960.7 1165.3h0M808.3 1176.3h0M799.8 1088.7h0M505.4 1045.9h0M800.8 1125.5h0M890.6 1078.5h0M689.8 1119.8h0M539.3 1053.3h0M566.9 1124.2h0M541.4 1266.3h0M699.6 1017.4h0M888.2 1171.3h0M532.5 1128.8h0M695.3 1245.8h0M693.0 1224.8h0M691.7 1138.4h0M756.0 1272.5h0M600.7 1239.0h0M877.6 1256.0h0M670.1 1122.4h0M957.2 1142.7h0M836.0 1095.5h0M581.5 1075.9h0M959.5 1103.9h0M776.2 1061.7h0M664.6 1276.1h0M616.4 1261.1h0M536.8 1184.6h0M619.4 1171.4h0M640.6 1285.4h0M666.4 1151.2h0M968.4 1223.0h0M782.9 1023.9h0M595.1 1130.9h0M678.8 1067.3h0M707.8 1038.1h0M544.0 1245.0h0M724.7 1214.7h0M931.6 1048.3h0M708.2 1232.9h0M828.0 1111.2h0M823.8 1228.4h0M587.1 1180.4h0M771.0 1211.8h0M715.6 1178.2h0M516.2 1080.7h0M972.0 1253.1h0M547.4 1185.5h0M920.8 1204.9h0M543.3 1024.3h0M957.4 1088.2h0M814.7 1212.9h0M694.7 1230.4h0M898.0 1083.1h0M836.9 1143.7h0M699.9 1249.5h0M585.8 1072.1h0M841.0 1118.6h0M934.9 1132.5h0M827.5 1147.4h0M879.9 1249.7h0M969.3 1147.2h0M878.5 1095.1h0M725.3 1187.5h0M768.7 1230.3h0M864.6 1180.5h0M801.6 1268.3h0M533.2 1219.0h0M632.9 1257.4h0M888.8 1038.8h0M608.9 1173.6h0M654.6 1021.5h0M891.0 1088.8h0M565.5 1190.4h0M636.2 1202.5h0M625.3 1241.2h0M527.2 1243.9h0M853.3 1089.1h0M655.4 1135.8h0M696.2 1225.5h0M661.2 1072.1h0M535.9 1255.3h0M901.2 1023.6h0M568.1 1118.0h0M638.9 1026.5h0M843.1 1091.9h0M668.4 1244.9h0M659.9 1131.4h0M653.8 1103.3h0M719.1 1244.1h0M509.2 1067.8h0M512.1 1224.8h0M888.2 1083.0h0M973.4 1259.7h0M881.7 1075.0h0M751.0 1272.0h0M807.2 1136.0h0M847.2 1214.6h0M970.2 1243.0h0M666.2 1163.5h0M870.3 1210.1h0M606.3 1134.4h0M550.0 1030.6h0M926.6 1066.9h0M512.5 1251.4h0M934.0 1023.5h0M582.7 1127.1h0M859.2 1137.2h0M640.5 1059.0h0M632.1 1024.1h0M966.3 1250.2h0M921.0 1241.7h0M863.5 1256.5h0M709.5 1096.2h0M967.4 1257.2h0M964.6 1232.4h0M843.3 1109.5h0M527.0 1117.3h0M879.4 1151.7h0M898.0 1264.7h0M918.2 1151.5h0M796.7 1131.5h0M522.6 1031.8h0M911.8 1103.8h0M702.9 1072.7h0M597.2 1144.2h0M602.8 1145.0h0M599.5 1068.2h0M887.5 1038.4h0M539.1 1188.0h0M935.7 1081.0h0M512.9 1196.1h0M844.0 1170.2h0M613.1 1252.4h0M927.0 1245.9h0M578.1 1150.1h0M723.9 1110.1h0M790.4 1072.2h0M717.6 1170.2h0M606.4 1065.3h0M641.0 1111.9h0M943.3 1032.3h0M563.7 1197.4h0M513.2 1179.3h0M931.2 1200.6h0M920.6 1245.4h0M826.3 1165.0h0M726.4 1116.4h0M951.5 1083.7h0M698.8 1157.3h0M511.1 1134.4h0M709.1 1134.8h0M921.6 1231.9h0M536.8 1281.2h0M905.6 1197.5h0M848.4 1061.6h0M699.0 1136.7h0M643.9 1271.9h0M633.7 1035.1h0M717.7 1244.8h0M785.4 1074.2h0M586.8 1076.7h0M716.1 1225.8h0M754.6 1276.3h0M888.7 1027.8h0M838.1 1018.5h0M797.3 1160.8h0M821.3 1132.7h0M715.2 1272.0h0M883.3 1094.9h0M897.7 1020.5h0M770.6 1252.4h0M559.9 1179.2h0M704.9 1155.5h0M629.1 1187.1h0M595.0 1261.8h0M644.2 1086.5h0M889.3 1083.5h0M706.5 1156.5h0M684.5 1024.3h0M591.6 1222.7h0M700.4 1027.7h0M944.3 1117.2h0M795.1 1177.1h0M963.7 1251.1h0M907.8 1195.4h0M735.2 1189.0h0M512.7 1218.6h0M604.9 1129.9h0M561.0 1236.6h0M850.9 1212.8h0M569.6 1041.0h0M807.6 1212.9h0M656.3 1258.9h0M730.4 1272.6h0M859.9 1135.5h0M644.9 1048.2h0M585.5 1170.1h0M640.1 1042.0h0M947.6 1171.5h0M639.7 1177.0h0M573.3 1204.4h0M537.0 1219.5h0M661.6 1145.7h0M793.0 1085.4h0M719.2 1230.1h0M885.9 1153.9h0M971.5 1205.9h0M666.8 1261.9h0M877.7 1122.8h0M546.6 1178.9h0M861.2 1188.1h0M918.5 1159.5h0M869.0 1231.9h0M551.3 1088.3h0M777.5 1032.0h0M881.2 1057.4h0M698.0 1131.6h0M900.9 1206.5h0M582.9 1056.9h0M874.7 1071.5h0M698.2 1190.9h0M626.1 1192.6h0M839.0 1077.7h0M558.6 1258.6h0M724.5 1268.9h0M874.5 1077.0h0M704.2 1103.7h0M823.1 1237.4h0M821.8 1021.3h0M956.9 1083.8h0M722.2 1192.9h0M514.1 1075.1h0M621.7 1181.0h0M604.1 1203.3h0M598.5 1096.3h0M892.3 1082.8h0M539.1 1051.6h0M618.9 1045.8h0M738.0 1224.7h0M526.6 1090.5h0M572.2 1259.4h0M692.4 1102.5h0M928.8 1097.4h0M860.1 1173.2h0M667.2 1152.6h0M681.8 1109.9h0M905.3 1107.8h0M793.6 1208.7h0M933.9 1101.4h0M623.4 1204.9h0M558.8 1152.2h0M822.6 1080.2h0M563.7 1220.9h0M540.6 1162.2h0M688.1 1188.7h0M827.0 1035.9h0M674.0 1140.4h0M858.2 1155.1h0M718.5 1127.5h0M638.6 1116.7h0M788.5 1150.6h0M575.3 1227.1h0M782.4 1174.2h0M584.0 1099.4h0M959.1 1067.6h0M601.4 1100.9h0M524.9 1066.9h0M605.6 1127.0h0M654.3 1112.5h0M816.2 1241.7h0M838.7 1112.6h0M711.9 1199.0h0M800.6 1061.5h0M644.0 1249.8h0M607.7 1218.5h0M692.3 1209.9h0M828.4 1239.0h0M568.1 1258.8h0M803.3 1271.0h0M514.7 1213.4h0M591.1 1268.7h0M819.1 1088.3h0M884.0 1145.3h0M864.8 1066.8h0M825.6 1043.8h0M624.2 1123.2h0M968.3 1107.7h0M786.9 1187.3h0M931.8 1126.1h0M944.2 1057.5h0M616.9 1150.3h0M959.8 1105.0h0M543.1 1224.5h0M803.9 1203.0h0M604.7 1086.2h0M873.8 1168.8h0M721.5 1096.4h0M631.5 1157.0h0M510.5 1222.4h0M829.6 1212.6h0M803.5 1140.2h0M882.6 1098.3h0M684.7 1023.1h0M934.1 1249.4h0M516.1 1242.2h0M935.9 1180.4h0M863.6 1235.7h0M553.0 1067.9h0M968.0 1195.0h0M547.1 1094.8h0M857.3 1239.3h0M619.6 1124.3h0M829.1 1146.1h0M897.6 1114.6h0M560.3 1131.7h0M657.2 1252.9h0M728.9 1088.1h0M576.8 1234.0h0M562.7 1156.6h0M554.6 1178.5h0M672.4 1239.6h0M869.2 1195.7h0M717.4 1161.5h0M551.1 1259.6h0M670.4 1167.9h0M731.9 1229.8h0M715.2 1265.1h0M805.8 1101.8h0M824.2 1242.6h0M855.7 1066.4h0M519.0 1193.8h0M866.0 1249.2h0M872.3 1101.2h0M710.2 1220.0h0M921.0 1266.9h0M550.2 1084.7h0M852.1 1164.3h0M784.7 1138.5h0M536.5 1236.9h0M959.1 1059.9h0M519.2 1263.6h0M588.0 1113.8h0M588.5 1154.4h0M639.8 1262.2h0M934.2 1141.5h0M655.7 1023.9h0M713.8 1245.3h0M557.3 1143.3h0M833.7 1205.3h0M852.5 1065.5h0M614.1 1181.6h0M678.2 1129.4h0M811.9 1082.7h0M961.3 1133.5h0M866.0 1096.5h0M607.8 1143.4h0M535.7 1174.7h0M658.9 1152.8h0M632.6 1170.8h0M625.3 1247.9h0M563.1 1130.3h0M787.5 1225.7h0M861.5 1061.4h0M601.1 1208.9h0M661.5 1063.4h0M626.8 1036.9h0M518.5 1195.9h0M825.2 1112.2h0M528.8 1155.9h0M792.0 1028.6h0M799.1 1077.0h0M522.5 1046.6h0M746.6 1266.3h0M735.1 1033.9h0M512.3 1070.2h0M510.0 1208.9h0M867.7 1187.6h0M657.2 1028.8h0M841.2 1105.8h0M598.1 1050.1h0M629.6 1107.1h0M926.3 1112.7h0M597.7 1161.9h0M696.5 1219.8h0M838.9 1199.8h0M655.4 1268.9h0M809.5 1106.5h0M609.2 1195.7h0M824.5 1137.1h0M515.0 1095.6h0M592.6 1160.3h0M533.6 1031.0h0M552.8 1200.4h0M855.9 1162.0h0M722.6 1087.4h0M872.4 1023.6h0M592.3 1193.7h0M865.6 1027.4h0M960.8 1230.4h0M650.1 1044.9h0M541.2 1139.8h0M721.6 1047.8h0M759.5 1266.1h0M827.7 1190.1h0M646.5 1109.2h0M581.2 1104.1h0M664.5 1032.3h0M724.9 1255.4h0M592.0 1051.0h0M645.1 1181.4h0M919.6 1071.7h0M703.6 1040.5h0M563.8 1027.8h0M817.1 1104.3h0M671.5 1046.8h0M746.6 1244.5h0M689.2 1181.6h0M558.8 1064.8h0M850.7 1022.2h0M968.8 1245.2h0M507.2 1082.6h0M704.7 1081.2h0M843.9 1082.7h0M618.7 1071.7h0M692.6 1182.7h0M567.5 1093.5h0M770.8 1250.6h0M710.1 1223.8h0M525.0 1204.1h0M690.4 1132.4h0M548.6 1101.0h0M795.5 1083.6h0M888.5 1063.4h0M661.1 1123.9h0M536.3 1031.7h0M573.8 1015.6h0M862.8 1158.6h0M568.8 1240.2h0M583.8 1045.5h0M895.8 1040.8h0M823.7 1175.1h0M831.2 1234.7h0M570.9 1228.2h0M969.5 1250.3h0M624.1 1141.3h0M671.0 1082.9h0M614.7 1021.7h0M801.2 1175.7h0M764.5 1272.1h0M699.3 1244.1h0M841.3 1195.6h0M724.8 1223.9h0M721.5 1061.7h0M576.2 1261.1h0M891.3 1248.0h0M536.0 1145.1h0M930.6 1134.5h0M934.8 1149.9h0M581.6 1060.3h0M570.5 1111.1h0M833.7 1025.0h0M675.1 1178.4h0M965.7 1054.2h0M659.6 1268.7h0M822.4 1221.0h0M916.9 1033.2h0M752.0 1245.2h0M562.3 1064.9h0M585.1 1187.7h0M840.4 1062.0h0M864.1 1210.6h0M969.3 1207.8h0M871.8 1080.4h0M821.5 1245.2h0M762.9 1272.6h0M884.1 1061.1h0M576.8 1170.1h0M650.3 1103.6h0M685.6 1147.8h0M950.3 1032.7h0M891.9 1154.4h0M854.1 1179.1h0M923.1 1156.1h0M684.8 1023.7h0M966.8 1217.2h0M930.7 1149.1h0M591.9 1061.1h0M682.2 1242.8h0M649.4 1184.5h0M595.5 1020.6h0M944.6 1133.6h0M688.2 1223.4h0M912.6 1192.2h0M784.8 1119.1h0M533.0 1232.7h0M708.3 1143.7h0M870.8 1058.7h0M654.6 1052.6h0M642.3 1260.0h0M548.9 1086.3h0M727.3 1175.8h0M947.0 1082.6h0M513.8 1102.5h0M920.9 1103.7h0M786.3 1019.0h0M636.5 1017.8h0M926.3 1039.1h0M940.0 1213.2h0M961.4 1090.5h0M722.0 1135.7h0M699.4 1184.1h0M816.7 1154.4h0M921.8 1259.0h0M669.1 1228.1h0M660.7 1255.4h0M696.7 1098.1h0M514.9 1284.2h0M719.6 1195.1h0M723.9 1234.1h0M801.8 1064.7h0M835.8 1067.6h0M661.4 1232.0h0M643.2 1024.3h0M661.2 1225.0h0M885.3 1125.2h0M508.7 1088.6h0M788.9 1144.3h0M900.8 1094.3h0M727.3 1115.5h0M746.3 1252.8h0M799.1 1137.2h0M540.2 1251.4h0M876.7 1208.7h0M763.7 1249.7h0M635.0 1212.6h0M934.4 1184.1h0M691.9 1257.5h0M868.4 1197.0h0M644.5 1242.1h0M594.0 1140.6h0M633.3 1092.9h0M659.4 1103.2h0M572.4 1243.0h0M861.7 1085.7h0M716.4 1094.2h0M779.4 1199.4h0M612.8 1106.8h0M710.4 1204.5h0M793.9 1032.8h0M703.1 1262.1h0M853.5 1029.4h0M956.8 1128.2h0M957.7 1148.0h0M945.1 1141.0h0M812.3 1245.4h0M568.1 1106.6h0M834.5 1241.8h0M632.0 1060.9h0M970.7 1066.3h0M667.4 1100.0h0M973.8 1253.0h0M634.6 1126.3h0M729.0 1233.3h0M824.6 1200.7h0M626.8 1064.2h0M695.7 1150.6h0M815.4 1050.2h0M858.0 1153.0h0M935.0 1060.5h0M956.5 1139.9h0M637.2 1176.7h0M790.7 1137.4h0M860.3 1170.8h0M544.0 1129.5h0M874.1 1096.6h0M938.2 1055.7h0M833.0 1111.0h0M677.1 1226.4h0M883.3 1163.9h0M825.4 1171.6h0M968.5 1212.3h0M869.6 1053.7h0M887.8 1270.7h0M599.0 1141.3h0M522.6 1184.1h0M540.6 1131.0h0M723.0 1140.5h0M957.9 1122.9h0M714.2 1223.8h0M938.2 1147.3h0M642.5 1225.5h0M571.6 1043.3h0M695.6 1022.1h0M901.0 1080.7h0M958.7 1078.6h0M683.3 1135.9h0M874.3 1197.0h0M704.4 1261.7h0M859.6 1191.1h0M543.9 1260.3h0M869.3 1156.2h0M952.5 1218.7h0M553.3 1257.5h0M871.7 1204.0h0M516.0 1125.9h0M563.6 1237.8h0M642.3 1225.7h0M529.9 1238.4h0M719.0 1174.3h0M712.5 1077.8h0M588.0 1017.5h0M963.6 1078.2h0M615.9 1207.9h0M927.8 1055.9h0M839.4 1086.9h0M853.7 1060.2h0M821.4 1250.5h0M884.5 1049.6h0M918.3 1247.6h0M571.4 1180.5h0M546.8 1087.9h0M717.7 1079.5h0M555.5 1175.6h0M782.1 1086.0h0M946.6 1179.1h0M583.8 1022.0h0M559.8 1086.8h0M853.6 1052.8h0M883.1 1219.7h0M859.5 1227.4h0M723.0 1238.7h0M915.5 1256.5h0M825.4 1273.6h0M506.2 1027.2h0M735.1 1031.1h0M545.7 1176.5h0M604.7 1032.2h0M646.3 1157.3h0M540.9 1202.1h0M839.0 1132.8h0M690.1 1104.8h0M607.2 1194.9h0M815.0 1078.9h0M662.5 1033.7h0M562.6 1058.6h0M734.8 1264.5h0M866.9 1214.6h0M650.3 1072.7h0M557.9 1224.9h0M610.0 1054.2h0M875.6 1148.0h0M579.8 1066.6h0M965.1 1092.4h0M847.1 1137.2h0M694.1 1146.6h0M593.6 1250.5h0M723.3 1146.8h0M560.8 1156.5h0M619.3 1141.7h0M541.0 1094.1h0M844.5 1120.8h0M951.0 1280.7h0M644.6 1065.2h0M957.0 1050.8h0M780.3 1189.3h0M955.3 1164.1h0M680.0 1153.0h0M573.3 1183.0h0M537.8 1035.3h0M630.2 1032.4h0M708.2 1091.6h0M863.1 1091.5h0M724.9 1210.0h0M631.3 1252.6h0M927.3 1171.2h0M775.6 1230.4h0M787.7 1231.9h0M889.6 1123.7h0M819.6 1170.1h0M618.3 1234.5h0M580.7 1235.5h0M580.2 1128.5h0M809.3 1040.8h0M778.2 1082.5h0M612.5 1159.5h0M834.4 1072.1h0M551.6 1216.2h0M727.8 1087.5h0M949.2 1133.9h0M925.2 1124.3h0M877.0 1129.0h0M816.0 1199.2h0M907.6 1217.9h0M791.6 1210.8h0M784.4 1241.6h0M952.0 1125.1h0M657.8 1077.0h0M703.1 1042.7h0M914.0 1251.2h0M900.1 1266.9h0M691.5 1240.2h0M734.1 1076.1h0M528.4 1025.8h0M804.7 1216.3h0M881.4 1164.7h0M597.7 1174.5h0M803.1 1124.3h0M570.7 1178.0h0M898.5 1217.7h0M847.6 1147.1h0M943.3 1133.2h0M638.2 1134.7h0M584.9 1025.6h0M532.2 1120.5h0M890.0 1083.9h0M600.9 1204.7h0M567.5 1234.0h0M574.4 1122.9h0M834.9 1215.6h0M528.2 1154.9h0M702.7 1098.7h0M590.2 1023.2h0M871.1 1099.7h0M530.4 1256.3h0M597.1 1243.3h0M867.0 1272.6h0M746.9 1230.1h0M559.0 1189.4h0M969.3 1030.2h0M679.0 1035.0h0M701.7 1244.1h0M852.8 1052.5h0M735.9 1049.5h0M894.1 1264.4h0M620.2 1039.3h0M898.4 1080.0h0M636.5 1149.4h0M803.1 1036.3h0M776.9 1154.9h0M830.0 1102.2h0M673.9 1037.6h0M611.3 1135.0h0M816.6 1175.9h0M902.6 1098.8h0M726.1 1105.4h0M569.1 1106.6h0M752.7 1251.6h0M825.0 1103.7h0M552.5 1216.6h0M873.1 1246.2h0M679.7 1199.1h0M922.4 1206.0h0M621.2 1037.0h0M507.9 1235.5h0M654.7 1030.6h0M842.6 1070.8h0M902.6 1075.9h0M603.7 1142.2h0M783.5 1120.2h0M539.2 1048.3h0M610.3 1060.0h0M799.9 1071.1h0M925.0 1024.1h0M786.9 1101.8h0M787.7 1144.6h0M928.8 1034.1h0M659.6 1201.3h0M884.7 1241.3h0M596.1 1081.6h0M834.8 1028.0h0M541.2 1165.8h0M591.7 1025.2h0M707.8 1218.2h0M600.8 1135.4h0M533.8 1208.4h0M713.5 1112.1h0M688.1 1242.5h0M849.2 1167.4h0M511.6 1102.9h0M803.1 1106.0h0M525.8 1193.0h0M732.8 1092.4h0M514.5 1101.1h0M733.7 1075.6h0M728.8 1203.0h0M538.3 1058.4h0M874.0 1068.9h0M629.9 1203.7h0M725.6 1118.8h0M843.6 1138.7h0M876.2 1077.9h0M686.1 1265.0h0M533.5 1210.9h0M967.4 1082.6h0M624.7 1113.1h0M524.7 1088.1h0M795.7 1230.7h0M914.7 1184.2h0M546.2 1103.2h0M526.5 1161.9h0M822.6 1226.2h0M626.5 1122.4h0M629.3 1125.9h0M864.9 1167.0h0M514.8 1027.1h0M617.8 1105.4h0M675.0 1071.7h0M868.1 1052.5h0M652.4 1109.2h0M530.5 1078.1h0M853.6 1195.1h0M827.8 1043.3h0M564.7 1241.4h0M846.4 1252.0h0M797.3 1274.3h0M677.5 1045.4h0M740.8 1275.8h0M877.2 1040.4h0M951.3 1049.3h0M664.9 1069.4h0M547.3 1181.5h0M676.0 1232.2h0M786.1 1033.3h0M625.3 1112.2h0M577.6 1118.5h0M903.0 1183.2h0M839.8 1140.7h0M563.9 1118.0h0M645.5 1112.1h0M632.0 1084.4h0M557.7 1208.2h0M898.5 1058.5h0M640.6 1164.3h0M769.9 1227.0h0M684.3 1153.9h0M537.9 1135.1h0M522.1 1187.8h0M830.8 1032.8h0M799.5 1037.7h0M735.9 1040.8h0M588.2 1094.3h0M664.7 1125.6h0M606.2 1109.3h0M775.4 1204.2h0M898.8 1232.8h0M588.4 1213.9h0M941.7 1207.3h0M963.5 1106.3h0M958.9 1124.4h0M535.0 1185.0h0M824.8 1133.1h0M619.1 1177.0h0M796.2 1230.3h0M922.2 1171.9h0M719.9 1078.7h0M811.2 1263.1h0M818.2 1247.8h0M593.1 1145.3h0M704.7 1218.3h0M641.5 1033.6h0M731.5 1179.1h0M862.6 1177.4h0M573.0 1270.3h0M685.6 1149.5h0M669.3 1051.9h0M880.2 1195.0h0M538.2 1113.4h0M711.1 1127.5h0M556.1 1264.3h0M902.1 1241.7h0M816.7 1111.1h0M604.6 1198.6h0M679.6 1089.4h0M564.7 1166.0h0M920.1 1065.2h0M923.7 1228.6h0M923.5 1052.8h0M789.0 1034.0h0M629.0 1020.1h0M718.8 1240.8h0M816.8 1202.8h0M704.5 1195.7h0M532.2 1264.3h0M546.1 1026.0h0M615.3 1034.3h0M888.2 1029.4h0M792.9 1044.1h0M878.8 1044.9h0M823.5 1085.1h0M813.5 1101.8h0M621.0 1166.5h0M837.1 1141.9h0M564.2 1216.1h0M513.5 1127.8h0M578.5 1211.5h0M830.9 1015.3h0M639.0 1129.1h0M521.2 1096.4h0M868.7 1227.2h0M943.5 1031.2h0M838.4 1253.5h0M953.0 1183.7h0M872.3 1253.9h0M940.9 1105.5h0M820.6 1266.2h0M873.1 1031.8h0M878.0 1211.4h0M559.7 1045.1h0M655.0 1261.9h0M794.2 1099.3h0M655.8 1182.8h0M914.4 1097.9h0M530.5 1190.6h0M565.0 1139.6h0M658.7 1084.4h0M665.8 1035.0h0M895.5 1265.6h0M512.0 1143.4h0M892.9 1111.5h0M961.1 1224.7h0M528.3 1207.4h0M951.4 1239.5h0M814.7 1223.5h0M566.9 1256.5h0M894.9 1229.9h0M560.9 1189.1h0M685.1 1227.7h0M616.9 1263.6h0M685.3 1061.9h0M573.3 1122.5h0M682.7 1142.2h0M722.7 1075.0h0M923.9 1120.0h0M904.4 1059.8h0M557.9 1075.5h0M878.4 1076.4h0M931.4 1075.1h0M689.2 1115.3h0M938.0 1038.0h0M724.8 1262.2h0M698.4 1167.3h0M828.6 1153.8h0M754.4 1242.7h0M916.8 1209.8h0M725.0 1200.9h0M529.6 1111.7h0M578.5 1152.3h0M698.6 1028.0h0M726.2 1051.1h0M886.5 1160.6h0M782.0 1240.2h0M584.5 1124.4h0M646.8 1034.2h0M877.1 1109.8h0M837.4 1106.5h0M805.3 1262.7h0M624.8 1158.9h0M772.5 1272.9h0M620.1 1285.5h0M535.6 1023.0h0M860.8 1217.7h0M809.9 1160.4h0M968.5 1027.8h0M855.4 1199.8h0M623.5 1124.2h0M518.1 1187.7h0M706.8 1045.2h0M664.5 1050.6h0M680.7 1167.2h0M527.5 1053.5h0M537.1 1184.0h0M673.2 1197.0h0M781.3 1163.2h0M587.3 1206.0h0M589.2 1048.2h0M852.9 1055.2h0M863.4 1038.2h0M733.5 1173.0h0M530.6 1239.6h0M946.0 1246.2h0M912.5 1135.4h0M646.4 1118.9h0M509.1 1204.5h0M735.7 1044.6h0M583.9 1196.2h0M683.2 1023.3h0M692.6 1021.5h0M651.1 1173.9h0M933.4 1169.4h0M687.7 1119.9h0M557.6 1083.3h0M774.6 1242.3h0M921.6 1187.4h0M613.5 1088.5h0M682.2 1203.8h0M651.5 1227.9h0M624.7 1074.3h0M955.6 1046.4h0M891.2 1181.4h0M834.8 1039.0h0M812.8 1230.2h0M942.9 1039.0h0M531.8 1099.1h0M711.6 1042.1h0M797.2 1023.6h0M565.4 1079.0h0M971.9 1090.9h0M826.9 1210.6h0M861.0 1150.7h0M958.1 1257.0h0M933.2 1151.8h0M679.9 1193.5h0M937.2 1148.5h0M868.6 1218.5h0M632.4 1234.2h0M728.4 1251.9h0M938.1 1135.9h0M719.3 1238.4h0M915.8 1079.2h0M557.1 1085.2h0M603.7 1209.6h0M587.4 1246.1h0M590.8 1238.0h0M779.7 1030.3h0M552.8 1138.8h0M820.8 1114.0h0M913.8 1226.2h0M937.7 1134.3h0M531.0 1073.2h0M620.6 1018.6h0M711.8 1271.6h0M511.8 1254.3h0M821.0 1167.1h0M718.2 1192.3h0M705.2 1167.1h0M578.0 1112.7h0M537.3 1097.5h0M919.6 1153.3h0M785.6 1097.0h0M667.4 1167.9h0M917.8 1145.9h0M559.8 1135.3h0M691.6 1030.1h0M539.4 1224.2h0M877.2 1213.8h0M919.1 1240.8h0M638.5 1065.3h0M888.8 1141.9h0M951.3 1185.1h0M613.0 1211.2h0M957.9 1144.3h0M662.5 1137.7h0M787.0 1143.1h0M505.1 1085.0h0M739.2 1216.3h0M802.4 1150.5h0M863.9 1225.5h0M917.8 1217.7h0M881.1 1157.4h0M913.8 1222.1h0M681.1 1087.2h0M554.6 1070.0h0M810.1 1228.4h0M526.2 1034.2h0M952.7 1033.1h0M731.1 1042.0h0M625.3 1118.6h0M519.6 1041.7h0M900.4 1064.5h0M896.1 1206.7h0M567.8 1051.7h0M867.1 1140.4h0M545.9 1173.7h0M831.3 1271.8h0M805.7 1043.3h0M569.3 1234.9h0M876.8 1065.5h0M874.1 1225.3h0M899.7 1053.4h0M693.9 1018.9h0M626.5 1250.0h0M832.6 1041.7h0M861.7 1085.0h0M715.5 1230.9h0M790.6 1043.6h0M808.1 1255.3h0M782.4 1045.4h0M841.6 1163.1h0M650.1 1065.4h0M615.2 1164.8h0M640.4 1063.4h0M876.4 1046.6h0M959.2 1114.4h0M654.1 1208.9h0M811.9 1158.9h0M777.6 1166.2h0M917.9 1154.9h0M512.0 1170.6h0M796.7 1054.4h0M912.9 1137.7h0M957.6 1038.8h0M700.3 1042.6h0M730.9 1078.1h0M898.8 1023.0h0M943.4 1056.5h0M615.7 1124.3h0M921.5 1020.8h0M529.1 1255.5h0M520.4 1213.7h0M540.2 1085.9h0M550.1 1186.7h0M615.1 1064.0h0M640.1 1285.4h0M959.7 1209.9h0M881.2 1126.1h0M553.6 1139.8h0M595.5 1121.0h0M830.2 1249.5h0M786.6 1185.9h0M714.1 1044.0h0M704.6 1040.7h0M854.8 1231.7h0M735.4 1094.5h0M842.5 1132.6h0M510.4 1181.3h0M552.1 1095.0h0M592.1 1220.4h0M782.8 1207.4h0M777.9 1035.6h0M912.5 1175.0h0M920.9 1268.8h0M883.9 1195.3h0M660.3 1075.5h0M532.7 1089.0h0M920.1 1249.1h0M941.5 1227.5h0M516.5 1086.7h0M506.8 1152.2h0M588.4 1107.7h0M674.2 1237.9h0M836.0 1033.2h0M719.0 1022.7h0M886.7 1077.4h0M587.8 1078.4h0M650.3 1244.4h0M960.3 1258.7h0M736.2 1065.0h0M844.9 1015.5h0M913.2 1021.9h0M797.7 1136.4h0M801.1 1173.1h0M776.2 1052.0h0M617.1 1021.0h0M863.4 1066.2h0M597.9 1043.6h0M625.8 1037.6h0M664.2 1084.9h0M888.7 1045.5h0M672.2 1046.6h0M787.7 1024.2h0M709.1 1144.8h0M714.3 1033.5h0M958.3 1190.5h0M808.8 1261.9h0M513.3 1071.7h0M910.3 1074.9h0M740.0 1216.2h0M956.9 1164.0h0M563.4 1029.7h0M812.3 1024.7h0M796.5 1166.3h0M958.6 1222.0h0M897.5 1055.1h0M681.0 1145.0h0M687.2 1128.5h0M729.1 1142.6h0M589.3 1136.4h0M614.5 1091.0h0M815.3 1141.4h0M866.7 1053.5h0M930.2 1051.2h0M579.2 1170.7h0M649.9 1142.1h0M591.7 1174.0h0M798.7 1159.0h0M646.6 1179.3h0M655.1 1089.6h0M867.6 1086.2h0M942.2 1083.5h0M569.0 1091.0h0M734.9 1024.8h0M912.6 1246.6h0M533.0 1139.8h0M864.3 1241.6h0M837.8 1232.0h0M690.7 1073.5h0M966.0 1162.3h0M841.0 1031.5h0M772.5 1234.9h0M781.7 1110.9h0M542.5 1241.7h0M955.1 1183.5h0M969.2 1169.2h0M582.3 1089.9h0M865.5 1229.4h0M776.7 1073.2h0M689.9 1051.4h0M782.0 1101.6h0M561.8 1199.0h0M669.3 1212.5h0M661.4 1037.3h0M824.5 1266.2h0M517.3 1255.9h0M640.2 1166.0h0M675.3 1038.6h0M874.0 1175.3h0M893.7 1146.3h0M951.3 1067.0h0M946.2 1219.5h0M734.2 1143.4h0M767.0 1250.8h0M787.8 1243.6h0M522.9 1104.8h0M556.8 1085.2h0M878.4 1218.1h0M858.1 1242.3h0M650.7 1232.5h0M597.7 1015.3h0M902.7 1024.2h0M810.7 1258.9h0M610.6 1113.8h0M625.1 1110.3h0M711.9 1045.1h0M581.8 1165.1h0M854.4 1192.0h0M550.0 1214.1h0M818.4 1164.7h0M894.3 1206.4h0M764.5 1238.3h0M565.9 1019.9h0M884.2 1147.5h0M945.3 1096.9h0M519.1 1164.2h0M934.2 1162.3h0M796.5 1122.8h0M687.1 1187.2h0M581.3 1101.6h0M786.6 1272.1h0M920.1 1108.7h0M516.3 1228.7h0M804.0 1052.5h0M936.1 1110.1h0M512.1 1079.5h0M564.5 1133.4h0M650.8 1255.7h0M930.5 1182.6h0M589.5 1224.4h0M673.4 1078.2h0M890.4 1118.5h0M856.5 1239.6h0M935.1 1208.1h0M563.1 1267.5h0M538.7 1227.3h0M609.1 1198.1h0M823.8 1089.9h0M560.1 1053.7h0M799.4 1176.4h0M609.2 1176.6h0M956.5 1251.7h0M570.5 1082.3h0M895.6 1267.4h0M866.1 1147.4h0M920.0 1017.4h0M637.0 1065.4h0M959.8 1264.2h0M513.5 1049.8h0M681.8 1268.0h0M578.8 1266.8h0M968.1 1031.7h0M514.2 1156.6h0M640.2 1097.0h0M687.1 1197.2h0M540.4 1269.7h0M935.6 1098.9h0M866.5 1052.9h0M757.4 1270.2h0M695.6 1226.1h0M596.1 1115.4h0M582.3 1247.2h0M695.5 1158.4h0M792.7 1043.4h0M905.4 1117.8h0M619.1 1217.2h0M909.6 1100.6h0M815.3 1191.4h0M579.7 1062.8h0M519.9 1228.3h0M516.5 1071.0h0M957.2 1106.5h0M620.1 1226.0h0M536.0 1068.6h0M814.1 1138.9h0M634.3 1236.2h0M947.6 1189.7h0M816.3 1036.7h0M920.9 1042.8h0M810.2 1225.8h0M848.5 1029.6h0M721.3 1057.7h0M704.2 1031.9h0M871.5 1067.6h0M590.6 1184.1h0M535.9 1097.8h0M932.3 1022.0h0M684.8 1193.2h0M690.2 1163.8h0M854.0 1179.1h0M869.3 1188.3h0M591.0 1068.0h0M867.2 1018.9h0M653.9 1122.6h0M731.6 1128.8h0M901.8 1240.7h0M700.9 1044.6h0M892.1 1201.7h0M946.3 1181.3h0M774.7 1246.2h0M887.6 1158.4h0M921.1 1202.1h0M612.2 1223.4h0M716.7 1182.2h0M927.7 1071.6h0M861.8 1269.3h0M902.2 1145.0h0M787.5 1074.8h0M682.9 1246.4h0M874.0 1186.6h0M666.9 1117.1h0M778.0 1216.9h0M603.8 1143.2h0M693.0 1194.4h0M715.4 1253.9h0M558.4 1020.2h0M552.7 1220.4h0M920.3 1265.9h0M967.4 1240.7h0M676.7 1131.4h0M821.2 1080.4h0M572.1 1112.8h0M536.3 1024.4h0M930.0 1192.6h0M637.3 1050.9h0M953.3 1250.4h0M780.3 1131.3h0M798.8 1266.5h0M711.3 1196.9h0M903.0 1161.8h0M640.7 1020.4h0M908.8 1016.2h0M756.3 1267.2h0M612.5 1146.0h0M639.5 1122.2h0M842.3 1108.2h0M812.6 1188.8h0M642.1 1215.8h0M806.2 1173.9h0M734.3 1023.0h0M518.9 1062.4h0M963.7 1126.1h0M627.3 1104.1h0M685.1 1192.4h0M828.7 1185.9h0M584.7 1173.0h0M805.9 1031.6h0M515.2 1096.1h0M856.2 1235.1h0M788.6 1239.4h0M815.7 1059.7h0M671.0 1248.2h0M812.5 1268.3h0M720.7 1141.6h0M856.2 1123.3h0M521.4 1034.1h0M629.4 1093.4h0M578.2 1039.8h0M796.3 1074.5h0M608.1 1256.0h0M948.7 1062.4h0M678.8 1029.8h0M511.5 1262.3h0M845.7 1180.9h0M557.5 1180.0h0M511.9 1192.8h0M640.6 1030.1h0M725.0 1034.6h0M617.9 1102.1h0M660.1 1134.6h0M566.7 1152.4h0M672.4 1214.3h0M878.3 1176.1h0M650.9 1147.4h0M777.8 1229.9h0M603.6 1165.6h0M563.5 1030.5h0M654.1 1152.4h0M520.6 1114.5h0M727.1 1114.4h0M835.7 1070.5h0M702.7 1206.6h0M610.8 1074.6h0M657.2 1049.8h0M889.3 1194.0h0M618.1 1233.8h0M660.5 1263.5h0M827.2 1076.5h0M621.9 1016.4h0M941.1 1161.4h0M516.5 1079.0h0M705.2 1110.7h0M758.4 1260.0h0M656.7 1180.1h0M871.0 1214.8h0M901.3 1059.5h0M733.7 1139.5h0M889.5 1073.8h0M882.4 1180.1h0M588.7 1191.6h0M570.8 1156.7h0M566.9 1220.8h0M545.4 1056.8h0M869.4 1142.6h0M684.1 1017.5h0M571.4 1080.0h0M644.0 1096.4h0M527.3 1261.7h0M699.5 1263.0h0M892.5 1093.9h0M835.6 1166.1h0M967.3 1089.8h0M727.5 1081.5h0M956.7 1146.3h0M684.4 1270.1h0M734.6 1262.9h0M854.9 1258.4h0M720.0 1269.0h0M583.4 1247.7h0M838.1 1056.7h0M934.7 1019.6h0M672.1 1103.1h0M700.1 1031.2h0M649.9 1078.7h0M828.0 1067.2h0M735.9 1152.7h0M612.8 1269.3h0M926.4 1201.6h0M511.7 1203.2h0M896.6 1141.9h0M910.3 1248.1h0M549.3 1197.3h0M808.4 1030.1h0M778.6 1109.6h0M585.9 1191.9h0M708.0 1106.9h0M550.1 1118.9h0M699.0 1116.6h0M751.3 1238.6h0M924.6 1075.5h0M680.9 1215.0h0M579.4 1070.9h0M951.2 1186.4h0M803.8 1172.1h0M568.2 1067.0h0M533.2 1179.0h0M683.7 1057.8h0M618.6 1169.1h0M677.1 1203.4h0M632.5 1087.2h0M933.0 1080.0h0M885.8 1085.3h0M819.6 1026.2h0M547.2 1168.1h0M876.2 1182.3h0M691.4 1265.8h0M912.4 1041.6h0M529.0 1103.7h0M566.0 1163.7h0M887.7 1145.6h0M952.3 1132.5h0M854.9 1162.5h0M649.5 1225.5h0M529.3 1029.9h0M957.1 1143.7h0M585.1 1034.9h0M885.1 1042.4h0M726.2 1120.0h0M663.9 1059.0h0M697.4 1070.5h0M541.2 1137.3h0M559.7 1252.0h0M717.4 1148.7h0M820.2 1080.3h0M661.0 1164.5h0M731.2 1108.1h0M877.6 1242.3h0M692.0 1019.1h0M721.3 1025.5h0M967.6 1208.4h0M693.4 1087.6h0M566.1 1186.1h0M554.2 1019.6h0M530.0 1218.0h0M864.0 1151.2h0M719.4 1282.2h0M762.5 1271.8h0M646.5 1047.7h0M690.1 1070.6h0M716.9 1184.1h0M893.7 1054.6h0M547.7 1180.0h0M589.2 1225.2h0M584.6 1159.9h0M723.4 1135.7h0M824.1 1252.3h0M968.5 1216.7h0M935.1 1192.0h0M617.6 1060.3h0M696.3 1071.0h0M876.0 1216.7h0M579.8 1163.1h0M528.5 1099.2h0M664.5 1253.3h0M789.6 1144.0h0M589.4 1092.2h0M718.3 1240.0h0M684.9 1126.4h0M955.4 1219.4h0M833.2 1081.5h0M962.6 1176.1h0M735.5 1067.4h0M963.4 1197.4h0M696.2 1219.9h0M516.2 1141.7h0M584.3 1217.1h0M639.5 1045.4h0M619.9 1022.9h0M708.3 1074.1h0M922.0 1215.7h0M603.3 1163.6h0M527.3 1098.8h0M675.5 1110.5h0M526.9 1109.8h0M861.4 1227.7h0M880.0 1091.4h0M860.7 1178.4h0M964.0 1076.2h0M570.5 1065.3h0M916.3 1076.4h0M834.0 1215.1h0M950.3 1223.5h0M902.3 1135.4h0M813.6 1097.4h0M620.4 1106.2h0M661.9 1236.8h0M575.1 1123.9h0M694.0 1077.3h0M892.6 1244.7h0M665.1 1058.0h0M596.8 1124.4h0M808.4 1231.0h0M614.8 1155.0h0M803.6 1205.6h0M873.8 1194.8h0M916.9 1174.2h0M862.4 1269.7h0M571.6 1167.1h0M826.4 1164.6h0M643.0 1226.8h0M571.3 1116.1h0M712.4 1191.8h0M813.8 1135.0h0M558.6 1065.7h0M781.2 1174.0h0M920.1 1110.3h0M658.2 1243.6h0M601.8 1279.6h0M690.0 1038.9h0M830.4 1263.2h0M832.2 1129.8h0M860.6 1118.5h0M875.5 1141.2h0M845.2 1042.4h0M622.4 1201.7h0M688.5 1071.2h0M541.2 1141.1h0M800.1 1242.0h0M571.5 1034.5h0M826.6 1166.0h0M757.1 1267.8h0M538.5 1252.3h0M702.6 1055.0h0M621.9 1024.6h0M941.6 1228.2h0M950.9 1032.5h0M553.7 1181.1h0M841.5 1243.7h0M705.6 1201.6h0M895.9 1245.4h0M944.4 1181.1h0M802.4 1062.7h0M677.2 1257.4h0M817.2 1051.8h0M969.7 1110.9h0M660.9 1128.2h0M518.9 1215.0h0M960.4 1286.9h0M517.8 1226.4h0M827.5 1051.6h0M777.0 1032.4h0M694.5 1146.9h0M941.0 1053.9h0M561.4 1122.4h0M617.0 1183.9h0M893.9 1150.7h0M508.3 1110.8h0M628.2 1126.3h0M702.3 1227.1h0M850.4 1048.7h0M951.8 1144.9h0M619.6 1211.7h0M853.0 1098.3h0M931.6 1236.2h0M511.9 1219.3h0M793.0 1045.7h0M783.4 1025.2h0M799.0 1042.1h0M635.8 1204.6h0M924.4 1025.6h0M608.8 1223.6h0M948.3 1173.9h0M951.3 1267.9h0M894.9 1095.8h0M686.4 1255.8h0M605.7 1149.2h0M735.5 1121.3h0M570.6 1238.3h0M967.6 1254.0h0M589.8 1188.3h0M729.9 1069.9h0M545.3 1020.2h0M636.8 1240.0h0M894.4 1230.4h0M823.6 1107.2h0M676.0 1092.9h0M809.5 1248.4h0M584.9 1116.8h0M814.5 1057.2h0M922.3 1192.9h0M511.6 1285.6h0M645.6 1183.6h0M625.4 1033.7h0M546.3 1070.7h0M934.2 1103.0h0M793.5 1070.8h0M792.2 1097.3h0M820.5 1028.0h0M638.7 1099.0h0M599.3 1247.6h0M541.1 1096.8h0M577.8 1217.8h0M878.8 1050.2h0M656.1 1085.8h0M686.4 1117.4h0M851.8 1020.0h0M959.2 1024.2h0M553.6 1265.9h0M700.9 1136.5h0M590.1 1265.1h0M664.3 1073.3h0M872.2 1124.5h0M630.9 1200.5h0M718.7 1196.7h0M513.5 1179.6h0M908.2 1279.3h0M909.1 1238.2h0M896.8 1107.9h0M709.0 1172.5h0M706.3 1147.7h0M820.7 1156.1h0M967.6 1162.9h0M644.8 1024.4h0M727.7 1055.0h0M800.3 1275.3h0M945.8 1268.0h0M776.2 1197.6h0M890.5 1261.8h0M726.5 1229.2h0M717.5 1184.7h0M930.1 1088.3h0M638.5 1066.2h0M646.8 1023.6h0M761.5 1270.7h0M557.3 1104.2h0M805.4 1158.8h0M557.9 1028.8h0M827.8 1223.1h0M925.2 1092.8h0M644.6 1233.4h0M824.5 1091.2h0M805.6 1266.9h0M912.8 1081.1h0M815.8 1251.0h0M949.5 1245.0h0M642.5 1197.9h0M854.6 1158.8h0M781.5 1099.9h0M689.5 1060.3h0M843.0 1131.7h0M901.6 1054.6h0M776.8 1160.4h0M840.8 1176.8h0M698.2 1216.4h0M908.4 1119.6h0M685.4 1133.4h0M797.5 1215.7h0M784.5 1116.0h0M935.6 1256.8h0M835.0 1057.0h0M781.4 1030.7h0M839.5 1080.5h0M837.5 1246.2h0M660.3 1221.4h0M653.4 1046.2h0M790.9 1191.1h0M570.5 1252.7h0M885.2 1270.6h0M865.7 1162.1h0M805.7 1252.0h0M661.2 1112.9h0M964.0 1022.8h0M853.0 1057.4h0M909.0 1088.0h0M842.4 1026.3h0M589.7 1258.8h0M888.0 1159.6h0M796.5 1133.4h0M616.0 1104.2h0M602.9 1170.0h0M733.3 1050.4h0M802.7 1225.6h0M862.4 1108.5h0M730.2 1233.8h0M622.3 1042.5h0M822.6 1090.4h0M565.8 1241.1h0M585.6 1230.0h0M679.4 1194.3h0M568.5 1195.8h0M837.0 1101.3h0M697.8 1068.5h0M714.7 1132.7h0M726.3 1268.9h0M587.1 1061.5h0M957.6 1252.6h0M937.9 1221.7h0M802.5 1061.2h0M548.0 1018.6h0M827.3 1032.9h0M884.3 1157.0h0M662.1 1083.8h0M575.7 1210.7h0M845.8 1166.1h0M803.0 1119.5h0M689.1 1167.3h0M643.5 1212.1h0M940.6 1209.1h0M545.8 1052.5h0M650.5 1084.6h0M729.7 1069.6h0M781.4 1180.3h0M783.7 1143.2h0M557.7 1031.1h0M544.9 1094.5h0M687.9 1138.1h0M576.4 1166.6h0M957.8 1214.0h0M706.1 1021.5h0M531.9 1173.0h0M704.5 1183.6h0M632.7 1244.5h0M888.5 1132.8h0M917.3 1129.5h0M862.4 1247.8h0M821.0 1052.2h0M772.8 1276.3h0M532.1 1206.5h0M810.2 1252.1h0M686.6 1254.4h0M637.2 1123.2h0M770.0 1267.7h0M618.5 1211.9h0M968.0 1185.8h0M785.4 1050.5h0M856.2 1151.4h0M556.0 1168.3h0M522.2 1055.7h0M585.8 1106.4h0M591.4 1145.8h0M812.6 1082.5h0M925.1 1124.2h0M549.7 1051.4h0M814.3 1123.9h0M700.2 1084.4h0M538.8 1075.6h0M550.3 1129.9h0M509.2 1196.8h0M655.6 1030.9h0M580.3 1105.0h0M950.3 1092.5h0M800.8 1175.4h0M550.9 1041.2h0M817.1 1048.1h0M741.6 1272.1h0M894.5 1164.6h0M593.4 1177.5h0M667.7 1059.0h0M734.3 1019.5h0M572.2 1026.9h0M894.5 1114.3h0M579.0 1081.1h0M710.6 1015.4h0M664.7 1037.8h0M843.7 1017.2h0M825.5 1124.8h0M862.6 1098.4h0M736.1 1218.8h0M700.8 1067.1h0M936.3 1040.8h0M957.8 1256.7h0M914.4 1247.4h0M600.5 1035.7h0M931.1 1244.4h0M808.3 1181.2h0M750.0 1227.8h0M566.6 1213.1h0M581.1 1102.2h0M911.2 1248.9h0M640.4 1026.6h0M727.3 1270.4h0M705.6 1029.3h0M685.7 1196.5h0M704.6 1143.2h0M636.4 1188.6h0M926.9 1269.0h0M642.8 1150.8h0M604.6 1202.7h0M880.9 1115.6h0M875.1 1053.9h0M890.2 1052.1h0M784.3 1088.2h0M659.9 1261.1h0M604.4 1133.8h0M680.0 1203.2h0M547.1 1107.3h0M634.2 1241.1h0M668.0 1187.4h0M559.3 1083.3h0M576.3 1029.5h0M561.2 1226.6h0M687.4 1063.8h0M939.6 1223.0h0M954.8 1053.8h0M553.5 1235.8h0M784.2 1205.3h0M507.5 1064.4h0M817.6 1137.5h0M798.6 1194.1h0M635.4 1069.2h0M723.1 1064.3h0M523.2 1033.0h0M812.3 1275.7h0M869.9 1074.9h0M545.1 1164.8h0M973.5 1063.9h0M588.2 1089.2h0M934.4 1257.4h0M964.1 1066.6h0M703.9 1034.7h0M899.4 1244.3h0M632.8 1136.8h0M827.2 1271.1h0M673.3 1113.5h0M576.9 1227.6h0M866.9 1124.8h0M594.3 1132.6h0M943.2 1215.8h0M598.2 1123.5h0M656.5 1022.2h0M880.9 1087.0h0M897.1 1252.0h0M693.4 1103.7h0M790.8 1180.7h0M947.7 1180.5h0M641.4 1232.7h0M630.8 1118.4h0M554.1 1197.7h0M828.0 1115.3h0M829.1 1085.4h0M562.6 1035.2h0M842.6 1237.6h0M640.1 1036.5h0M778.6 1089.1h0M692.3 1241.4h0M833.6 1217.7h0M603.7 1109.3h0M912.8 1261.9h0M686.9 1250.8h0M867.5 1237.7h0M790.3 1075.2h0M716.8 1124.1h0M701.3 1081.9h0M728.5 1115.0h0M900.6 1169.7h0M627.6 1101.0h0M858.0 1273.6h0M698.0 1151.0h0M904.4 1148.8h0M893.3 1023.7h0M540.2 1078.3h0M939.9 1070.7h0M886.0 1129.4h0M812.5 1033.3h0M595.0 1097.9h0M895.4 1243.8h0M782.4 1151.3h0M613.7 1260.7h0M805.1 1126.0h0M561.3 1174.3h0M832.9 1250.6h0M595.4 1115.2h0M648.4 1142.8h0M515.8 1128.6h0M680.1 1159.2h0M789.4 1090.2h0M812.8 1211.9h0M700.1 1074.5h0M636.3 1033.1h0M549.7 1049.5h0M672.0 1057.8h0M871.7 1150.5h0M942.7 1226.1h0M936.8 1130.7h0M544.6 1060.0h0M564.9 1043.9h0M677.6 1224.4h0M528.6 1021.6h0M547.0 1203.1h0M891.9 1238.7h0M710.5 1251.6h0M876.8 1023.6h0M834.5 1201.5h0M865.5 1171.6h0M702.4 1119.1h0M940.8 1045.7h0M562.8 1054.5h0M629.9 1227.4h0M803.2 1102.6h0M622.1 1188.3h0M898.4 1173.1h0M890.3 1212.3h0M875.1 1208.6h0M916.9 1119.0h0M803.1 1055.9h0M590.5 1154.3h0M659.3 1085.5h0M507.0 1218.5h0M690.5 1168.5h0M803.2 1174.6h0M831.8 1215.8h0M840.1 1210.7h0M626.8 1145.1h0M938.2 1238.3h0M602.3 1230.4h0M944.4 1040.5h0M820.4 1229.5h0M825.2 1167.3h0M789.9 1142.8h0M505.6 1225.1h0M763.7 1255.0h0M843.5 1238.8h0M817.3 1029.1h0M606.0 1255.4h0M727.6 1062.0h0M844.4 1165.4h0M928.0 1266.0h0M612.8 1073.4h0M537.3 1106.1h0M587.3 1059.4h0M682.9 1249.5h0M513.0 1231.8h0M671.2 1264.4h0M913.4 1032.3h0M646.8 1070.2h0M575.8 1036.2h0M553.9 1034.6h0M693.7 1239.5h0M798.7 1238.7h0M693.5 1017.8h0M695.1 1102.7h0M509.8 1091.7h0M637.7 1224.6h0M853.0 1061.7h0M666.8 1070.4h0M867.1 1193.6h0M524.6 1170.5h0M834.9 1168.9h0M892.1 1059.3h0M619.3 1243.6h0M682.9 1244.6h0M628.8 1081.9h0M709.5 1171.7h0M936.1 1105.0h0M831.9 1067.3h0M972.5 1167.3h0M823.8 1041.1h0M886.7 1134.3h0M898.9 1085.0h0M869.2 1092.8h0M631.4 1145.3h0M855.3 1105.0h0M818.5 1044.6h0M700.7 1257.2h0M913.1 1207.3h0M741.7 1249.6h0M919.8 1180.0h0M684.2 1206.1h0M555.7 1121.0h0M594.1 1213.1h0M629.2 1051.5h0M970.8 1174.9h0M649.2 1052.4h0M921.0 1027.2h0M791.5 1127.8h0M643.2 1225.2h0M811.9 1100.3h0M517.0 1060.4h0M537.1 1092.3h0M814.7 1059.5h0M515.9 1134.3h0M596.0 1064.1h0M852.6 1018.1h0M693.4 1240.8h0M843.1 1158.6h0M722.6 1095.4h0M782.9 1102.3h0M514.5 1133.3h0M944.9 1234.9h0M828.7 1044.8h0M591.1 1208.4h0M830.1 1138.7h0M939.2 1084.4h0M897.5 1033.2h0M805.9 1185.5h0M797.0 1023.8h0M590.5 1264.0h0M714.2 1248.0h0M915.8 1104.4h0M675.3 1210.6h0M630.5 1207.9h0M886.2 1185.6h0M918.6 1236.3h0M973.4 1250.8h0M957.3 1080.9h0M555.6 1154.0h0M718.8 1263.2h0M822.9 1165.6h0M557.2 1232.7h0M675.8 1260.7h0M681.5 1194.8h0M789.9 1157.8h0M678.1 1150.1h0M652.9 1087.3h0M592.3 1107.8h0M815.9 1203.2h0M649.9 1256.3h0M932.4 1268.1h0M685.4 1088.3h0M639.1 1082.2h0M547.4 1037.3h0M748.7 1260.1h0M665.0 1167.8h0M779.3 1105.8h0M650.8 1192.3h0M725.1 1240.5h0M565.1 1213.2h0M534.1 1067.0h0M942.7 1168.1h0M849.5 1020.0h0M701.8 1091.2h0M598.4 1170.0h0M816.1 1190.3h0M787.8 1072.6h0M796.1 1201.1h0M963.5 1110.6h0M670.5 1031.4h0M940.4 1284.4h0M708.3 1168.4h0M962.3 1180.7h0M961.0 1059.4h0M699.7 1222.0h0M924.7 1059.8h0M923.7 1242.4h0M549.8 1224.1h0M551.0 1058.2h0M902.0 1147.2h0M631.6 1089.0h0M659.5 1116.4h0M655.0 1063.0h0M842.1 1264.0h0M656.8 1240.1h0M914.8 1109.9h0M711.5 1133.2h0M935.4 1202.1h0M935.1 1265.6h0M718.1 1049.7h0M613.7 1052.4h0M945.1 1033.3h0M671.6 1074.5h0M532.8 1097.0h0M722.6 1137.0h0M521.2 1202.5h0M799.0 1220.0h0M690.1 1260.2h0M641.7 1232.2h0M608.0 1099.4h0M926.7 1109.1h0M509.1 1052.8h0M753.4 1258.7h0M541.6 1264.5h0M521.5 1132.1h0M966.1 1066.6h0M651.9 1101.5h0M755.3 1271.6h0M928.5 1041.9h0M806.2 1212.2h0M668.9 1024.9h0M834.3 1191.9h0M872.2 1236.0h0M807.8 1178.9h0M686.3 1017.7h0M859.4 1034.3h0M680.1 1148.8h0M674.8 1222.9h0M637.0 1049.5h0M961.8 1119.9h0M529.8 1017.4h0M562.9 1066.6h0M676.8 1066.4h0M945.2 1248.1h0M612.0 1216.8h0M643.6 1017.2h0M693.6 1061.0h0M950.4 1279.3h0M629.3 1167.0h0M862.7 1232.6h0M804.8 1237.1h0M917.5 1171.2h0M634.9 1078.6h0M940.2 1100.0h0M972.4 1250.5h0M943.8 1071.3h0M848.4 1201.5h0M610.8 1227.1h0M712.1 1064.6h0M622.7 1172.3h0M928.5 1197.8h0M612.7 1121.2h0M916.7 1118.7h0M634.9 1103.4h0M923.3 1216.8h0M876.9 1259.1h0M848.6 1178.2h0M631.0 1040.1h0M841.2 1216.0h0M799.0 1117.9h0M668.0 1266.5h0M967.6 1139.9h0M953.7 1180.4h0M811.4 1178.2h0M930.7 1259.1h0M661.8 1201.0h0M584.7 1165.6h0M662.1 1175.8h0M927.9 1210.1h0M898.4 1267.4h0M618.0 1127.7h0M888.8 1149.3h0M920.0 1218.5h0M778.7 1253.1h0M737.3 1238.2h0M725.4 1208.6h0M597.6 1175.4h0M625.9 1051.6h0M714.5 1029.9h0M903.5 1076.3h0M583.5 1190.4h0M588.5 1124.2h0M942.1 1021.9h0M779.6 1274.4h0M794.7 1251.3h0M726.2 1018.1h0M705.8 1173.8h0M669.4 1267.1h0M892.8 1146.1h0M525.7 1117.4h0M594.0 1034.1h0M734.5 1033.3h0M893.0 1135.4h0M567.3 1143.9h0M810.1 1122.0h0M789.2 1178.8h0M894.4 1216.1h0M565.9 1133.7h0M932.6 1036.3h0M950.2 1188.8h0M563.2 1070.5h0M819.4 1185.6h0M550.9 1162.9h0M943.2 1084.1h0M947.5 1121.5h0M829.1 1157.7h0M730.0 1186.3h0M810.6 1260.9h0M891.9 1257.0h0M895.8 1175.1h0M908.8 1169.2h0M898.1 1054.0h0M608.6 1201.2h0M831.9 1074.2h0M763.5 1236.2h0M959.1 1181.0h0M531.4 1036.0h0M694.5 1079.6h0M911.9 1148.0h0M715.6 1047.8h0M567.9 1038.0h0M658.4 1117.9h0M866.8 1086.0h0M627.1 1064.2h0M881.3 1124.1h0M507.5 1252.9h0M607.9 1125.0h0M798.4 1253.2h0M813.8 1170.0h0M718.7 1174.8h0M954.7 1236.8h0M678.4 1227.3h0M632.6 1050.2h0M600.7 1164.9h0M855.3 1270.3h0M887.9 1096.6h0M891.8 1056.6h0M796.7 1267.9h0M521.4 1194.1h0M699.3 1228.8h0M583.4 1189.1h0M637.8 1045.3h0M517.9 1262.4h0M830.5 1075.0h0M622.3 1245.1h0M956.1 1115.7h0M615.6 1076.9h0M639.1 1262.2h0M625.2 1243.7h0M536.0 1054.9h0M956.5 1184.5h0M791.1 1216.7h0M922.6 1244.4h0M915.0 1127.8h0M750.6 1249.0h0M789.1 1255.3h0M677.2 1130.7h0M738.5 1216.7h0M731.6 1186.7h0M615.5 1174.3h0M786.8 1058.4h0M638.1 1248.1h0M650.7 1195.1h0M648.8 1042.3h0M873.0 1160.5h0M537.9 1075.1h0M971.7 1139.7h0M582.4 1224.2h0M795.1 1027.0h0M613.9 1217.8h0M826.1 1125.9h0M906.7 1041.4h0M708.5 1043.0h0M724.9 1280.3h0M966.3 1129.2h0M781.4 1089.0h0M676.7 1223.8h0M612.9 1016.1h0M832.9 1165.1h0M651.0 1034.3h0M569.5 1247.2h0M869.4 1161.1h0M927.1 1026.1h0" stroke="#c2d5e7" stroke-width="2.8" stroke-linecap="round" stroke-opacity="0.8"/>
<path d="M558.0 1262.4h0M843.4 1263.1h0M887.0 1267.7h0M712.9 1270.2h0M566.7 1263.8h0M770.7 1267.8h0M817.7 1270.0h0M726.7 1270.4h0M866.5 1267.4h0M967.8 1258.9h0M744.0 1270.8h0M875.6 1268.3h0M964.3 1262.0h0M951.0 1264.2h0M549.1 1262.2h0M822.5 1269.2h0M774.1 1274.1h0M608.8 1263.2h0M838.7 1271.8h0M641.4 1268.5h0M522.7 1263.7h0M868.0 1270.3h0M821.3 1268.0h0M542.8 1260.4h0M638.8 1267.3h0M644.3 1268.5h0M688.5 1270.0h0M520.3 1261.5h0M590.4 1265.4h0M965.0 1263.6h0M849.4 1267.0h0M887.9 1268.4h0M945.2 1264.1h0M710.5 1269.1h0M687.0 1271.7h0M810.6 1271.7h0M572.7 1264.1h0M722.7 1272.2h0M915.5 1267.9h0M709.7 1271.2h0M523.8 1262.7h0M586.5 1266.4h0M848.1 1268.3h0M967.3 1261.4h0M659.3 1266.5h0M801.6 1269.3h0M972.4 1261.2h0M850.3 1267.5h0M512.2 1262.5h0M545.1 1261.3h0M805.1 1273.2h0M754.6 1271.0h0M777.9 1270.4h0M524.7 1261.6h0M702.3 1265.2h0M759.0 1272.1h0M632.7 1264.4h0M724.4 1271.8h0M737.1 1272.6h0M700.7 1272.7h0M593.3 1263.4h0M944.4 1264.1h0M934.6 1263.4h0M707.3 1269.4h0M669.3 1265.6h0M841.3 1267.9h0M832.9 1267.4h0M896.2 1267.4h0M575.7 1260.6h0M666.8 1263.5h0M896.3 1265.1h0M716.6 1269.0h0M663.9 1269.0h0M817.6 1267.3h0M835.3 1268.0h0M601.4 1265.4h0M585.9 1257.8h0M557.9 1261.0h0M549.7 1258.0h0M577.5 1261.0h0M740.8 1270.5h0M575.2 1263.3h0M544.2 1261.9h0M946.2 1263.8h0M642.5 1267.3h0M654.7 1267.8h0M528.3 1263.5h0M725.9 1271.6h0M788.8 1271.6h0M853.0 1271.1h0M909.5 1262.8h0M880.5 1263.7h0M523.4 1260.6h0M565.6 1260.1h0M700.5 1270.1h0M818.5 1271.9h0M960.8 1263.6h0M949.7 1261.0h0M941.9 1264.3h0M875.4 1265.2h0M763.7 1270.3h0M556.1 1264.0h0M904.2 1266.9h0M533.9 1263.2h0M806.2 1268.3h0M859.6 1269.5h0M754.1 1275.1h0M760.8 1268.2h0M868.8 1269.5h0M613.7 1262.3h0M916.7 1263.7h0M847.4 1269.6h0M812.9 1272.0h0M952.4 1265.0h0M848.0 1264.7h0M891.6 1264.8h0M667.6 1265.5h0M604.4 1267.3h0M526.4 1262.4h0M905.8 1267.7h0M916.3 1266.0h0M738.2 1274.3h0M937.8 1266.6h0M656.2 1264.1h0M957.3 1262.7h0M715.0 1271.5h0M733.2 1273.4h0M545.5 1260.2h0M550.9 1264.9h0M895.7 1266.4h0M604.7 1265.6h0M531.7 1259.1h0M575.1 1265.2h0M948.5 1264.4h0M838.1 1270.5h0M636.3 1259.9h0M699.8 1271.6h0M682.7 1267.4h0M880.8 1263.1h0M950.5 1265.7h0M586.3 1265.5h0M558.7 1260.0h0M637.2 1266.7h0M924.2 1267.6h0M631.3 1264.1h0M674.9 1270.5h0M822.6 1270.7h0M926.8 1264.6h0M597.8 1261.8h0M624.1 1264.7h0M826.4 1267.9h0M940.4 1262.4h0M794.0 1272.1h0M674.2 1268.2h0M900.0 1265.1h0M872.4 1268.6h0M595.3 1264.4h0M706.7 1271.1h0M551.8 1257.8h0M761.3 1269.5h0M747.5 1273.8h0M786.1 1268.4h0M949.3 1264.3h0M666.9 1266.4h0M879.2 1269.6h0M574.6 1261.8h0M549.3 1260.9h0M942.5 1264.3h0M515.4 1261.6h0M800.9 1270.6h0M967.6 1260.7h0M699.2 1272.3h0M592.1 1263.1h0M534.1 1263.6h0M596.1 1266.0h0M665.2 1269.3h0M798.7 1263.9h0M729.7 1271.0h0M508.8 1260.0h0M621.3 1264.6h0M887.0 1269.2h0M866.8 1266.5h0M729.9 1270.9h0M589.8 1265.2h0M507.1 1256.5h0M603.3 1262.1h0M757.5 1273.8h0M696.0 1261.2h0M548.3 1260.7h0M792.9 1267.5h0M837.9 1267.3h0M765.0 1274.2h0M844.1 1270.0h0M621.0 1266.9h0M785.2 1271.6h0M913.4 1266.7h0M554.0 1261.4h0M889.5 1267.0h0M516.7 1262.1h0M526.4 1259.1h0M750.8 1270.4h0M764.1 1273.9h0M689.3 1264.5h0M864.6 1264.8h0M675.1 1270.5h0M642.5 1265.9h0M625.5 1264.1h0M529.1 1263.4h0M768.8 1267.2h0M837.3 1267.4h0M769.5 1274.5h0M702.3 1270.4h0M850.1 1268.0h0M669.2 1266.2h0M964.3 1261.4h0M692.8 1270.3h0M573.3 1265.6h0M926.5 1264.8h0M851.5 1271.3h0M774.0 1267.3h0M568.8 1262.4h0M903.7 1263.0h0M659.2 1269.6h0M629.5 1265.7h0M859.1 1268.3h0M937.4 1265.9h0M927.5 1267.1h0M647.5 1267.8h0M963.7 1261.3h0M906.6 1268.3h0M612.1 1267.4h0M957.6 1265.9h0M612.7 1261.8h0M885.1 1269.7h0M732.5 1273.5h0M639.3 1263.9h0M697.8 1269.2h0M506.4 1254.7h0M937.5 1266.5h0M590.4 1262.5h0M623.0 1265.0h0M823.8 1268.7h0M808.5 1266.7h0M923.6 1266.0h0M795.7 1264.1h0M881.4 1267.8h0M743.8 1274.0h0M571.4 1263.9h0M885.2 1263.2h0M610.1 1265.8h0M860.8 1268.2h0M702.2 1272.6h0M555.4 1261.7h0M780.3 1273.6h0M679.9 1266.0h0M654.1 1269.8h0M706.6 1270.1h0M856.1 1264.8h0M813.4 1264.9h0M851.6 1268.8h0M725.3 1273.0h0M734.6 1267.5h0M829.6 1269.6h0M906.8 1265.5h0M713.8 1273.1h0M956.9 1262.7h0M568.0 1260.5h0M827.0 1271.2h0M838.8 1266.9h0M666.0 1264.0h0M510.4 1260.0h0M758.8 1268.1h0M681.3 1270.8h0M877.0 1269.0h0M799.6 1269.3h0M781.7 1270.9h0M577.9 1266.2h0M822.2 1269.0h0M593.7 1265.8h0M817.3 1269.2h0M754.3 1271.5h0M538.1 1264.1h0M945.6 1258.6h0M873.0 1263.2h0M737.6 1269.2h0M698.9 1265.9h0M685.4 1269.4h0M548.1 1261.6h0M618.2 1266.2h0M631.7 1265.2h0M963.2 1262.8h0M683.6 1268.8h0M654.8 1265.7h0M833.7 1269.3h0M525.6 1258.9h0M762.9 1271.9h0M810.2 1269.4h0M849.2 1270.8h0M626.5 1266.0h0M660.8 1266.5h0M810.4 1268.9h0M803.6 1270.1h0M820.5 1270.1h0M784.7 1270.5h0M542.5 1263.3h0M743.8 1274.9h0M537.5 1261.0h0M588.2 1265.0h0M919.8 1266.4h0M686.7 1269.6h0M661.3 1267.1h0M964.1 1265.0h0M816.6 1268.9h0M624.2 1266.4h0M671.0 1267.0h0M812.5 1270.2h0M568.4 1261.7h0M961.6 1263.9h0M900.3 1268.4h0M631.5 1267.7h0" stroke="#8fb0d6" stroke-width="2.2" stroke-linecap="round" stroke-opacity="0.75"/>
<path d="M748.9 1230.8h0M727.1 1230.7h0M720.0 1252.9h0M774.2 1269.9h0M756.9 1269.0h0M764.1 1231.1h0M692.8 1253.6h0M769.8 1259.1h0M845.6 1258.9h0M698.0 1245.1h0M762.5 1264.3h0M756.8 1230.6h0M772.8 1263.5h0M798.1 1268.7h0M724.3 1234.5h0M806.7 1217.6h0M794.6 1255.5h0M741.3 1219.1h0M793.4 1243.6h0M825.9 1265.7h0M838.0 1257.0h0M748.0 1274.0h0M805.9 1220.1h0M759.4 1246.8h0M716.9 1256.7h0M893.4 1220.7h0M819.7 1224.9h0M804.9 1257.0h0M747.0 1233.2h0M774.4 1223.1h0M737.5 1257.9h0M868.5 1219.1h0M732.1 1222.8h0M765.6 1215.3h0M811.7 1268.2h0M755.7 1231.9h0M813.6 1222.5h0M777.4 1261.6h0M758.2 1259.8h0M762.4 1216.0h0M651.3 1216.9h0M814.1 1265.7h0M795.0 1214.0h0M782.5 1268.5h0M771.3 1266.6h0M704.3 1237.7h0M764.6 1220.7h0M709.3 1241.2h0M728.4 1250.2h0M693.9 1257.3h0M738.7 1227.6h0M816.0 1265.6h0M783.5 1272.3h0M707.6 1256.1h0M710.1 1246.3h0M818.6 1239.6h0M744.9 1263.8h0M806.0 1265.9h0M849.9 1229.0h0M814.6 1222.6h0M699.2 1219.5h0M632.8 1234.2h0M846.5 1235.6h0M682.3 1248.1h0M679.1 1236.2h0M727.6 1251.3h0M738.4 1231.0h0M790.6 1269.4h0M720.1 1247.9h0M708.5 1249.6h0M804.0 1262.7h0M704.5 1253.7h0M908.3 1233.0h0M680.5 1226.1h0M761.7 1217.6h0M822.6 1232.5h0M759.4 1218.6h0M668.2 1245.3h0M756.4 1220.5h0M818.0 1265.8h0M717.9 1218.2h0M668.5 1265.4h0M755.6 1230.1h0M640.1 1254.0h0M784.9 1232.9h0M799.1 1254.1h0M766.4 1249.2h0M694.6 1215.3h0M818.9 1256.3h0M834.2 1253.0h0M823.6 1250.7h0M736.5 1240.6h0M787.1 1256.9h0M720.3 1266.6h0M826.9 1259.1h0M734.7 1227.3h0M691.4 1249.5h0M746.6 1238.6h0M789.5 1217.8h0M753.0 1229.9h0M749.4 1219.2h0M704.8 1254.9h0M763.1 1224.5h0M753.3 1251.2h0M762.2 1226.4h0M749.4 1240.4h0M753.7 1268.5h0M712.0 1270.3h0M858.6 1258.8h0M667.4 1260.7h0M770.4 1240.0h0M822.3 1242.7h0M661.1 1258.3h0M664.0 1254.3h0M798.0 1241.9h0M900.4 1234.2h0M817.3 1236.5h0M735.4 1272.5h0M727.0 1258.0h0M724.6 1222.0h0M685.6 1226.5h0M721.4 1219.0h0M806.2 1266.0h0M738.8 1273.1h0M777.2 1247.2h0M801.6 1229.0h0M719.8 1230.2h0M735.6 1240.9h0M766.7 1214.4h0M711.7 1236.3h0M761.9 1265.6h0M791.9 1229.6h0M758.4 1220.3h0M664.6 1223.5h0M771.9 1216.7h0M745.7 1229.0h0M755.0 1240.8h0M691.8 1255.7h0M759.9 1239.6h0M750.3 1219.7h0M724.4 1262.6h0M713.7 1265.4h0M747.1 1253.7h0M650.9 1251.3h0M769.4 1238.6h0M727.7 1263.9h0M812.7 1238.4h0M654.2 1233.1h0M728.9 1222.2h0M771.9 1231.3h0M770.0 1217.9h0M731.6 1247.3h0M808.7 1255.3h0M729.6 1259.9h0M783.7 1219.7h0M752.8 1229.1h0M741.3 1265.8h0M712.8 1267.3h0M717.8 1264.5h0M724.9 1235.5h0M773.5 1237.7h0M722.8 1233.6h0M697.9 1234.6h0M787.9 1237.2h0M762.8 1218.1h0M785.2 1236.2h0M759.6 1243.9h0M846.9 1259.7h0M795.5 1256.2h0M772.5 1233.2h0M782.1 1247.6h0M809.3 1251.0h0M764.0 1272.1h0M795.2 1239.4h0M744.6 1251.7h0M840.9 1253.4h0M746.5 1251.4h0M578.2 1225.0h0M791.5 1251.6h0M737.6 1258.1h0M746.6 1241.5h0M793.4 1228.6h0M604.1 1262.0h0M657.3 1241.2h0M747.1 1229.8h0M682.7 1255.8h0M789.1 1240.8h0M783.7 1273.1h0M732.0 1221.1h0M801.4 1240.1h0M649.4 1253.4h0M750.7 1274.3h0M804.5 1246.9h0M830.7 1244.4h0M786.7 1255.3h0M838.1 1217.2h0M778.9 1214.4h0M748.9 1234.4h0M774.1 1233.8h0M890.2 1220.6h0M876.2 1260.2h0M778.0 1265.6h0M784.5 1237.7h0M785.4 1236.0h0M676.6 1241.6h0M729.0 1261.8h0M765.4 1234.1h0M714.7 1247.4h0M745.1 1261.8h0M690.0 1254.8h0M750.8 1218.9h0M809.6 1243.9h0M759.1 1267.9h0M800.4 1264.6h0M746.6 1217.6h0M712.2 1247.1h0M762.7 1263.0h0M658.8 1235.5h0M714.3 1251.7h0M737.2 1252.6h0M724.4 1217.0h0M775.5 1259.4h0M712.8 1246.9h0M805.0 1239.2h0M799.9 1226.8h0M761.6 1249.0h0M719.0 1266.8h0M692.9 1216.0h0M788.7 1251.8h0M740.4 1242.8h0M902.4 1224.5h0M801.8 1228.8h0M831.6 1216.3h0M705.2 1252.7h0M751.2 1260.5h0M728.0 1262.4h0M623.7 1231.4h0M767.6 1246.3h0M731.7 1249.7h0M738.1 1229.8h0M775.1 1254.8h0M809.6 1245.6h0M786.1 1265.6h0M848.6 1265.6h0M718.2 1217.2h0M799.6 1250.2h0M713.5 1264.1h0M741.3 1219.7h0M814.4 1229.5h0M782.8 1216.4h0" stroke="#a6c0de" stroke-width="2.4" stroke-linecap="round" stroke-opacity="0.8"/>
<path d="M737.5 1013 L737.5 1198 C737.5 1220 749.35 1239 756.35 1239 C763.35 1239 775.2 1220 775.2 1198 L775.2 1013Z" fill="#f7faf8"/>
<path d="M737.5 1013 L737.5 1198 C737.5 1220 749.35 1239 756.35 1239 C763.35 1239 775.2 1220 775.2 1198 L775.2 1013" fill="none" stroke="#9dbbdd" stroke-width="1.6" stroke-dasharray="2 1.2"/>
<path d="M773.3 1205.8h0M736.2 1174.8h0M773.7 1207.3h0M736.4 1169.6h0M776.9 1180.9h0M777.1 1193.2h0M739.9 1205.0h0M740.1 1203.7h0M775.5 1201.3h0M734.9 1184.9h0M745.5 1225.7h0M774.5 1202.0h0M737.2 1190.9h0M780.2 1194.8h0M752.5 1238.3h0M748.8 1223.2h0M762.4 1228.5h0M748.7 1226.2h0M779.4 1168.1h0M776.8 1182.3h0M773.3 1211.4h0M777.3 1169.9h0M737.2 1176.9h0M735.5 1185.7h0M772.6 1206.7h0M775.7 1183.6h0M734.8 1175.0h0M745.0 1214.8h0M771.0 1209.5h0M743.4 1212.1h0M735.8 1177.8h0M737.1 1200.3h0M743.4 1213.0h0M778.2 1186.4h0M775.9 1180.4h0M734.2 1171.2h0M739.2 1206.9h0M773.1 1208.6h0M738.2 1200.2h0M754.0 1237.1h0M775.4 1178.3h0M770.5 1209.0h0M775.9 1189.6h0M769.7 1215.5h0M733.1 1177.6h0M737.8 1200.3h0M762.5 1235.1h0M736.4 1201.1h0M743.5 1215.7h0M765.0 1230.6h0M733.7 1192.1h0M762.1 1230.7h0M766.2 1222.1h0M768.0 1217.4h0M735.2 1183.2h0M774.4 1206.1h0M764.4 1223.1h0M735.3 1174.6h0M735.0 1187.8h0M743.6 1217.6h0M769.9 1218.2h0M734.0 1189.8h0M736.4 1182.4h0M742.2 1214.4h0M776.8 1175.7h0M762.3 1230.3h0M744.1 1223.3h0M748.9 1225.1h0M765.3 1225.9h0M767.7 1216.0h0M776.4 1191.2h0M775.4 1172.4h0M740.7 1214.2h0M750.8 1232.3h0M775.4 1172.6h0M757.7 1238.9h0M740.7 1212.4h0M777.2 1169.0h0M732.8 1174.7h0M775.4 1177.2h0M775.9 1201.0h0M768.9 1215.6h0M770.1 1209.1h0M777.4 1180.8h0M734.6 1189.9h0M763.0 1232.8h0M777.2 1182.2h0M773.5 1205.8h0M777.9 1178.8h0M779.0 1195.4h0M735.2 1172.5h0M758.5 1238.1h0M737.1 1175.3h0M733.3 1183.3h0M748.7 1225.5h0M733.1 1172.7h0M770.0 1213.2h0M769.1 1216.0h0M775.4 1171.2h0M762.6 1227.0h0M770.0 1213.9h0M736.2 1185.1h0M761.8 1235.8h0M738.3 1201.7h0M736.7 1178.6h0M736.7 1203.9h0M775.2 1175.5h0M771.2 1207.5h0M740.1 1208.4h0M747.2 1219.5h0M774.0 1206.2h0M744.9 1221.0h0M735.6 1196.5h0M735.4 1168.4h0M775.4 1190.3h0M738.6 1200.9h0M734.9 1170.0h0M776.3 1192.4h0M745.7 1220.2h0M764.0 1228.1h0M774.6 1204.8h0M736.8 1200.9h0M765.4 1225.8h0M737.0 1177.2h0M773.6 1202.0h0M748.5 1222.2h0M776.7 1196.7h0M767.3 1215.2h0M776.7 1198.7h0M753.5 1235.5h0M773.8 1210.2h0M775.5 1178.8h0M746.7 1226.1h0M778.0 1179.5h0M779.6 1200.7h0M766.4 1217.9h0M777.7 1194.5h0M751.4 1229.5h0M736.7 1183.6h0M773.7 1205.7h0M762.4 1232.8h0M748.7 1231.3h0M736.6 1175.9h0M767.4 1215.6h0M772.5 1207.8h0M740.5 1212.3h0M741.3 1212.1h0M746.6 1223.9h0M737.1 1204.3h0M776.8 1174.2h0M734.8 1187.3h0M763.3 1235.3h0M734.9 1173.0h0M737.0 1171.3h0M736.6 1194.8h0M742.4 1211.2h0M745.6 1220.3h0M746.4 1223.3h0M746.8 1220.6h0M755.1 1236.7h0M761.9 1228.8h0M737.2 1195.1h0M735.4 1178.7h0M736.8 1191.7h0M734.1 1173.0h0M743.8 1213.6h0M742.9 1219.3h0M767.9 1217.5h0M741.9 1211.5h0M780.1 1193.7h0M744.1 1223.4h0M763.0 1225.8h0M734.1 1197.8h0M734.9 1170.8h0M774.5 1200.2h0M741.5 1208.8h0M755.1 1236.5h0M733.0 1168.6h0M740.8 1218.8h0M736.4 1177.3h0M775.3 1197.0h0M776.4 1184.1h0M737.3 1175.5h0M763.5 1231.1h0M767.6 1218.9h0M766.1 1220.1h0M736.0 1174.3h0M741.9 1210.6h0M775.7 1200.4h0M777.2 1195.5h0M739.9 1209.8h0M775.9 1175.0h0M774.7 1206.4h0M765.8 1223.0h0M775.3 1203.4h0M777.1 1198.9h0M757.4 1237.3h0M741.7 1208.2h0M764.8 1222.5h0M735.7 1176.1h0M777.1 1200.3h0M776.4 1196.8h0M733.5 1181.4h0M776.0 1193.1h0M745.1 1215.7h0M764.7 1221.3h0M737.1 1188.5h0M733.4 1176.9h0M778.3 1195.4h0M762.2 1231.3h0M739.4 1205.2h0M750.9 1231.7h0M736.9 1179.8h0M767.9 1227.0h0M777.8 1179.3h0M745.6 1223.1h0M733.8 1172.5h0M744.4 1216.3h0M773.4 1204.8h0M775.3 1174.2h0" stroke="#93b3d8" stroke-width="2.3" stroke-linecap="round" stroke-opacity="0.85"/>
<path d="M798.3 1165.3h0M858.8 1051.7h0M681.6 1129.6h0M611.9 1053.0h0M785.4 1109.1h0M925.8 1225.5h0M945.3 1262.2h0M512.9 1163.7h0M672.2 1261.7h0M906.4 1119.3h0M564.8 1072.1h0M867.1 1042.7h0M943.1 1152.5h0M853.7 1032.4h0M907.6 1051.2h0M511.4 1252.6h0M528.9 1199.0h0M883.6 1097.7h0M707.4 1162.9h0M795.8 1160.3h0M693.4 1049.0h0M530.3 1227.6h0M564.8 1251.3h0M649.2 1106.0h0M525.4 1228.0h0M552.6 1259.6h0M570.5 1162.8h0M632.1 1234.6h0M937.4 1132.6h0M965.0 1203.7h0M733.6 1142.0h0M604.0 1023.8h0M785.1 1082.6h0M540.3 1136.9h0M937.5 1072.3h0M520.8 1219.3h0M811.6 1248.7h0M517.0 1073.0h0M551.8 1079.8h0M811.0 1220.9h0M644.8 1085.3h0M514.6 1160.9h0M731.4 1048.2h0M615.3 1094.6h0M929.1 1048.2h0M569.1 1198.3h0M669.3 1248.1h0M934.3 1101.8h0M711.5 1231.5h0M698.0 1161.4h0M809.5 1052.1h0M782.4 1162.7h0M938.5 1228.8h0M809.5 1078.8h0M848.3 1131.1h0M595.2 1086.2h0M799.6 1178.2h0M709.9 1090.7h0M909.5 1125.6h0M782.7 1139.0h0M648.1 1185.1h0M621.4 1253.6h0M832.0 1245.7h0M610.8 1108.2h0M790.0 1137.6h0M928.7 1026.7h0M932.9 1106.7h0M573.3 1119.3h0M555.4 1198.0h0M802.1 1203.1h0M813.0 1237.7h0M699.2 1220.0h0M778.9 1050.0h0M927.5 1170.4h0M590.0 1066.6h0M846.2 1200.9h0M794.5 1220.2h0M658.9 1207.9h0M610.3 1096.5h0M721.2 1075.5h0M860.8 1048.4h0M825.7 1022.1h0M681.4 1037.5h0M970.8 1036.5h0M957.3 1244.9h0M941.5 1184.5h0M603.3 1187.6h0M768.6 1230.1h0M703.1 1049.7h0M603.4 1243.7h0M865.2 1237.6h0M942.4 1062.2h0M597.7 1054.3h0M851.5 1145.0h0M960.6 1069.2h0M875.5 1186.5h0M865.8 1046.5h0M564.2 1250.8h0M839.6 1071.4h0M958.2 1064.0h0M617.9 1164.5h0M650.4 1169.1h0M610.8 1167.6h0M554.3 1170.2h0M734.3 1123.9h0M862.4 1144.5h0M855.7 1225.0h0M698.5 1081.6h0M639.7 1123.2h0M639.8 1058.4h0M671.5 1106.0h0M829.7 1166.9h0M902.2 1168.0h0M670.9 1261.2h0M887.9 1119.8h0M881.3 1157.6h0M905.8 1193.4h0M814.8 1217.1h0M684.7 1250.5h0M925.2 1073.6h0M712.8 1027.7h0M800.9 1259.1h0M531.6 1117.5h0M620.8 1057.2h0M680.6 1185.5h0M897.7 1208.8h0M964.6 1102.4h0M548.1 1218.8h0M590.8 1092.3h0M883.1 1080.1h0M823.2 1218.7h0M609.5 1198.7h0M643.1 1168.6h0M545.8 1072.6h0M967.1 1101.8h0M847.0 1197.9h0M538.7 1189.4h0M957.9 1192.3h0M647.4 1166.4h0M674.7 1058.3h0M800.7 1089.1h0M901.6 1037.2h0M621.7 1237.5h0M817.1 1193.0h0M521.5 1111.2h0M881.3 1042.2h0M866.5 1258.6h0M512.1 1036.9h0M518.7 1143.5h0M813.8 1236.0h0M729.1 1113.6h0M966.4 1059.1h0M914.8 1061.3h0M652.6 1033.5h0M723.4 1122.4h0M649.0 1170.5h0M687.9 1091.6h0M876.1 1128.6h0M793.4 1160.4h0M797.6 1165.0h0M563.5 1123.4h0M697.3 1202.2h0M515.7 1083.4h0M649.9 1233.7h0M808.1 1169.3h0" stroke="#e3b3c3" stroke-width="4.2" stroke-linecap="round" stroke-opacity="0.6"/>
<path d="M798.3 1165.3h0M858.8 1051.7h0M681.6 1129.6h0M611.9 1053.0h0M785.4 1109.1h0M925.8 1225.5h0M945.3 1262.2h0M512.9 1163.7h0M672.2 1261.7h0M906.4 1119.3h0M564.8 1072.1h0M867.1 1042.7h0M943.1 1152.5h0M853.7 1032.4h0M907.6 1051.2h0M511.4 1252.6h0M528.9 1199.0h0M883.6 1097.7h0M707.4 1162.9h0M795.8 1160.3h0M693.4 1049.0h0M530.3 1227.6h0M564.8 1251.3h0M649.2 1106.0h0M525.4 1228.0h0M552.6 1259.6h0M570.5 1162.8h0M632.1 1234.6h0M937.4 1132.6h0M965.0 1203.7h0M733.6 1142.0h0M604.0 1023.8h0M785.1 1082.6h0M540.3 1136.9h0M937.5 1072.3h0M520.8 1219.3h0M811.6 1248.7h0M517.0 1073.0h0M551.8 1079.8h0M811.0 1220.9h0M644.8 1085.3h0M514.6 1160.9h0M731.4 1048.2h0M615.3 1094.6h0M929.1 1048.2h0M569.1 1198.3h0M669.3 1248.1h0M934.3 1101.8h0M711.5 1231.5h0M698.0 1161.4h0M809.5 1052.1h0M782.4 1162.7h0M938.5 1228.8h0M809.5 1078.8h0M848.3 1131.1h0M595.2 1086.2h0M799.6 1178.2h0M709.9 1090.7h0M909.5 1125.6h0M782.7 1139.0h0M648.1 1185.1h0M621.4 1253.6h0M832.0 1245.7h0M610.8 1108.2h0M790.0 1137.6h0M928.7 1026.7h0M932.9 1106.7h0M573.3 1119.3h0M555.4 1198.0h0M802.1 1203.1h0M813.0 1237.7h0M699.2 1220.0h0M778.9 1050.0h0M927.5 1170.4h0M590.0 1066.6h0M846.2 1200.9h0M794.5 1220.2h0M658.9 1207.9h0M610.3 1096.5h0M721.2 1075.5h0M860.8 1048.4h0M825.7 1022.1h0M681.4 1037.5h0M970.8 1036.5h0M957.3 1244.9h0M941.5 1184.5h0M603.3 1187.6h0M768.6 1230.1h0M703.1 1049.7h0M603.4 1243.7h0M865.2 1237.6h0M942.4 1062.2h0M597.7 1054.3h0M851.5 1145.0h0M960.6 1069.2h0M875.5 1186.5h0M865.8 1046.5h0M564.2 1250.8h0M839.6 1071.4h0M958.2 1064.0h0M617.9 1164.5h0M650.4 1169.1h0M610.8 1167.6h0M554.3 1170.2h0M734.3 1123.9h0M862.4 1144.5h0M855.7 1225.0h0M698.5 1081.6h0M639.7 1123.2h0M639.8 1058.4h0M671.5 1106.0h0M829.7 1166.9h0M902.2 1168.0h0M670.9 1261.2h0M887.9 1119.8h0M881.3 1157.6h0M905.8 1193.4h0M814.8 1217.1h0M684.7 1250.5h0M925.2 1073.6h0M712.8 1027.7h0M800.9 1259.1h0M531.6 1117.5h0M620.8 1057.2h0M680.6 1185.5h0M897.7 1208.8h0M964.6 1102.4h0M548.1 1218.8h0M590.8 1092.3h0M883.1 1080.1h0M823.2 1218.7h0M609.5 1198.7h0M643.1 1168.6h0M545.8 1072.6h0M967.1 1101.8h0M847.0 1197.9h0M538.7 1189.4h0M957.9 1192.3h0M647.4 1166.4h0M674.7 1058.3h0M800.7 1089.1h0M901.6 1037.2h0M621.7 1237.5h0M817.1 1193.0h0M521.5 1111.2h0M881.3 1042.2h0M866.5 1258.6h0M512.1 1036.9h0M518.7 1143.5h0M813.8 1236.0h0M729.1 1113.6h0M966.4 1059.1h0M914.8 1061.3h0M652.6 1033.5h0M723.4 1122.4h0M649.0 1170.5h0M687.9 1091.6h0M876.1 1128.6h0M793.4 1160.4h0M797.6 1165.0h0M563.5 1123.4h0M697.3 1202.2h0M515.7 1083.4h0M649.9 1233.7h0M808.1 1169.3h0" stroke="#861032" stroke-width="2.9" stroke-linecap="round"/>
<path d="M798.9 1164.9h0M682.2 1129.2h0M786.0 1108.7h0M945.9 1261.8h0M672.8 1261.3h0M565.4 1071.7h0M943.7 1152.1h0M908.2 1050.8h0M529.5 1198.6h0M708.0 1162.5h0M694.0 1048.6h0M565.4 1250.9h0M526.0 1227.6h0M571.1 1162.4h0M938.0 1132.2h0M734.2 1141.6h0M785.7 1082.2h0M938.1 1071.9h0M812.2 1248.3h0M552.4 1079.4h0M645.4 1084.9h0M732.0 1047.8h0M929.7 1047.8h0M669.9 1247.7h0M712.1 1231.1h0M810.1 1051.7h0M939.1 1228.4h0M848.9 1130.7h0M800.2 1177.8h0M910.1 1125.2h0M648.7 1184.7h0M832.6 1245.3h0M790.6 1137.2h0M933.5 1106.3h0M556.0 1197.6h0M813.6 1237.3h0M779.5 1049.6h0M590.6 1066.2h0M795.1 1219.8h0M610.9 1096.1h0M861.4 1048.0h0M682.0 1037.1h0M957.9 1244.5h0M603.9 1187.2h0M703.7 1049.3h0M865.8 1237.2h0M598.3 1053.9h0M961.2 1068.8h0M866.4 1046.1h0M840.2 1071.0h0M618.5 1164.1h0M611.4 1167.2h0M734.9 1123.5h0M856.3 1224.6h0M640.3 1122.8h0M672.1 1105.6h0M902.8 1167.6h0M888.5 1119.4h0M906.4 1193.0h0M685.3 1250.1h0M713.4 1027.3h0M532.2 1117.1h0M681.2 1185.1h0M965.2 1102.0h0M591.4 1091.9h0M823.8 1218.3h0M643.7 1168.2h0M967.7 1101.4h0M539.3 1189.0h0M648.0 1166.0h0M801.3 1088.7h0M622.3 1237.1h0M522.1 1110.8h0M867.1 1258.2h0M519.3 1143.1h0M729.7 1113.2h0M915.4 1060.9h0M724.0 1122.0h0M688.5 1091.2h0M794.0 1160.0h0M564.1 1123.0h0M516.3 1083.0h0M808.7 1168.9h0" stroke="#4a0419" stroke-width="2.0" stroke-linecap="round"/>
<path d="M571.5 1089.6h0M708.9 1250.1h0M628.1 1222.5h0M697.0 1212.5h0M579.6 1191.0h0M636.9 1203.8h0M557.5 1104.8h0M770.7 1244.3h0M839.0 1126.1h0M596.2 1070.5h0M967.3 1112.8h0M641.9 1025.0h0M898.9 1111.5h0M627.5 1059.3h0M522.6 1155.5h0M539.4 1197.2h0M532.7 1053.9h0M932.8 1245.5h0M749.3 1108.3h0M892.4 1037.1h0M769.6 1058.3h0M509.9 1236.2h0M808.5 1253.2h0M870.8 1080.8h0M721.7 1097.5h0M849.7 1020.0h0M608.6 1138.3h0M945.0 1112.4h0M957.9 1060.2h0M946.6 1199.4h0M683.8 1060.4h0M902.0 1058.4h0M797.8 1146.2h0M654.0 1115.0h0M648.3 1041.2h0M547.7 1137.9h0M935.3 1037.0h0M605.2 1175.3h0M970.4 1092.6h0M668.2 1043.4h0M647.4 1027.3h0M903.5 1262.1h0M850.4 1116.5h0M536.6 1032.1h0M750.5 1235.8h0M683.1 1141.8h0M585.6 1190.8h0M742.3 1150.2h0M961.8 1078.7h0M844.0 1162.8h0M874.5 1155.4h0M746.6 1047.9h0M548.1 1025.0h0M529.8 1093.0h0M531.6 1021.4h0M924.3 1171.7h0M888.0 1144.1h0M711.3 1180.7h0M600.1 1093.3h0M894.5 1226.0h0M751.3 1229.2h0M761.0 1133.1h0M970.7 1176.5h0M665.5 1176.0h0M519.2 1185.1h0M966.7 1175.0h0M841.0 1099.0h0M579.2 1122.0h0M732.2 1046.9h0M588.8 1218.6h0M808.0 1058.1h0M905.5 1173.2h0M853.4 1066.9h0M671.5 1123.8h0M520.1 1258.8h0M704.8 1065.2h0M812.4 1021.9h0M815.6 1202.2h0M956.4 1058.3h0M718.8 1050.3h0M874.1 1052.8h0M798.3 1221.3h0M849.7 1212.1h0M706.2 1236.0h0M953.1 1048.6h0M549.8 1182.6h0M730.1 1106.3h0M776.2 1064.3h0M908.7 1208.7h0M832.4 1202.5h0M691.9 1191.8h0M635.0 1134.8h0M768.7 1183.5h0M942.2 1061.5h0M801.3 1256.2h0M606.3 1212.1h0M885.9 1114.6h0M614.7 1085.6h0M597.7 1096.4h0M722.2 1241.8h0M803.7 1123.3h0M898.9 1245.4h0M577.1 1175.6h0M645.3 1075.7h0M549.3 1088.2h0M588.2 1225.5h0M959.4 1157.5h0M790.2 1086.8h0M580.1 1120.5h0M894.2 1162.2h0M528.3 1164.6h0M513.5 1266.8h0M900.1 1038.3h0M800.3 1258.2h0M822.7 1243.4h0M716.8 1174.4h0M531.1 1089.0h0M605.9 1180.7h0M888.2 1204.3h0M513.4 1050.6h0M669.2 1257.9h0M844.2 1152.4h0M540.7 1082.5h0M624.5 1223.9h0M785.2 1106.6h0M925.9 1224.5h0M694.6 1107.8h0M823.1 1024.3h0M752.4 1155.5h0M828.7 1136.0h0M734.9 1036.8h0M746.5 1211.7h0M821.4 1108.5h0M615.9 1167.3h0M970.2 1187.5h0M523.6 1116.8h0M719.2 1040.9h0M572.2 1218.7h0M797.4 1206.6h0M579.2 1096.2h0M826.7 1136.3h0M531.8 1163.2h0M554.9 1116.6h0M549.9 1261.4h0M783.7 1170.8h0M670.1 1048.9h0M520.2 1028.5h0M730.8 1148.0h0M768.8 1210.1h0M751.6 1094.7h0M821.0 1147.1h0M851.5 1234.4h0M863.3 1074.7h0M877.0 1194.8h0M871.9 1219.4h0M508.4 1090.8h0M662.8 1130.6h0M804.6 1205.9h0M681.2 1259.2h0M823.4 1130.1h0M906.9 1140.7h0M964.7 1054.0h0M566.8 1246.5h0M897.5 1110.5h0M924.0 1130.7h0M704.7 1210.5h0M604.6 1149.5h0M965.5 1261.0h0M561.2 1226.3h0M900.9 1208.6h0" stroke="#dca0b4" stroke-width="2.0" stroke-linecap="round" stroke-opacity="0.6"/>
<rect x="507.5" y="1277" width="60" height="5.6" fill="#3a3a3a"/>
</g>
<text x="1030.2" y="930.6" font-size="44" font-weight="bold">f</text>
<line x1="1141.1" y1="932.9" x2="1141.1" y2="1359.0" stroke="#000" stroke-width="2.2"/>
<line x1="1140.0" y1="1357.8" x2="1350.0" y2="1357.8" stroke="#000" stroke-width="2.2"/>
<line x1="1133.5" y1="1338.7" x2="1141.1" y2="1338.7" stroke="#333" stroke-width="2.2"/>
<text x="1121.7" y="1347.3" font-size="24" text-anchor="end">0</text>
<line x1="1133.5" y1="1245.7" x2="1141.1" y2="1245.7" stroke="#333" stroke-width="2.2"/>
<text x="1121.7" y="1254.2" font-size="24" text-anchor="end">25</text>
<line x1="1133.5" y1="1152.6" x2="1141.1" y2="1152.6" stroke="#333" stroke-width="2.2"/>
<text x="1121.7" y="1161.2" font-size="24" text-anchor="end">50</text>
<line x1="1133.5" y1="1059.6" x2="1141.1" y2="1059.6" stroke="#333" stroke-width="2.2"/>
<text x="1121.7" y="1068.2" font-size="24" text-anchor="end">75</text>
<line x1="1133.5" y1="966.5" x2="1141.1" y2="966.5" stroke="#333" stroke-width="2.2"/>
<text x="1121.7" y="975.1" font-size="24" text-anchor="end">100</text>
<rect x="1150" y="1137.7" width="95.2" height="201.0" fill="#dcdcdc" stroke="#000" stroke-width="2.2"/>
<rect x="1245.2" y="1014.9" width="95.3" height="323.8" fill="#7a7a7a" stroke="#000" stroke-width="2.2"/>
<line x1="1197.6" y1="1109.4" x2="1197.6" y2="1167.6" stroke="#d2d2d2" stroke-width="4"/>
<line x1="1188.8" y1="1109.4" x2="1206.4" y2="1109.4" stroke="#d2d2d2" stroke-width="4"/>
<line x1="1188.8" y1="1167.6" x2="1206.4" y2="1167.6" stroke="#d2d2d2" stroke-width="4"/>
<line x1="1292.0" y1="996.4" x2="1292.0" y2="1034.2" stroke="#4f4f4f" stroke-width="4"/>
<line x1="1282.3" y1="996.4" x2="1301.7" y2="996.4" stroke="#4f4f4f" stroke-width="4"/>
<line x1="1282.3" y1="1034.2" x2="1301.7" y2="1034.2" stroke="#4f4f4f" stroke-width="4"/>
<circle cx="1189.5" cy="1088.2" r="4.4" fill="#e2e2e2" fill-opacity="0.8" stroke="#555" stroke-width="1.3"/>
<circle cx="1189.5" cy="1110.4" r="4.4" fill="#e2e2e2" fill-opacity="0.8" stroke="#555" stroke-width="1.3"/>
<circle cx="1190.9" cy="1135.8" r="4.4" fill="#e2e2e2" fill-opacity="0.8" stroke="#555" stroke-width="1.3"/>
<circle cx="1187" cy="1219.4" r="4.4" fill="#e2e2e2" fill-opacity="0.8" stroke="#555" stroke-width="1.3"/>
<circle cx="1290.4" cy="951.6" r="4.4" fill="#6e6e6e" fill-opacity="0.75" stroke="#333" stroke-width="1.3"/>
<circle cx="1303.5" cy="970.3" r="4.4" fill="#6e6e6e" fill-opacity="0.75" stroke="#333" stroke-width="1.3"/>
<circle cx="1291.5" cy="1015.1" r="4.4" fill="#6e6e6e" fill-opacity="0.75" stroke="#333" stroke-width="1.3"/>
<circle cx="1281.2" cy="1052.2" r="4.4" fill="#6e6e6e" fill-opacity="0.75" stroke="#333" stroke-width="1.3"/>
<circle cx="1289.3" cy="1052.9" r="4.4" fill="#6e6e6e" fill-opacity="0.75" stroke="#333" stroke-width="1.3"/>
<circle cx="1301.7" cy="1052.2" r="4.4" fill="#6e6e6e" fill-opacity="0.75" stroke="#333" stroke-width="1.3"/>
<line x1="1216.0" y1="951.6" x2="1274.5" y2="951.6" stroke="#000" stroke-width="2.2"/>
<text x="1245.2" y="938.0" font-size="34" text-anchor="middle">*</text>
<text transform="translate(1062,1134) rotate(-90)" font-size="25" text-anchor="middle">GPR17+ cells per mm<tspan dy="-9" font-size="15">2</tspan></text>
</svg></body></html>
